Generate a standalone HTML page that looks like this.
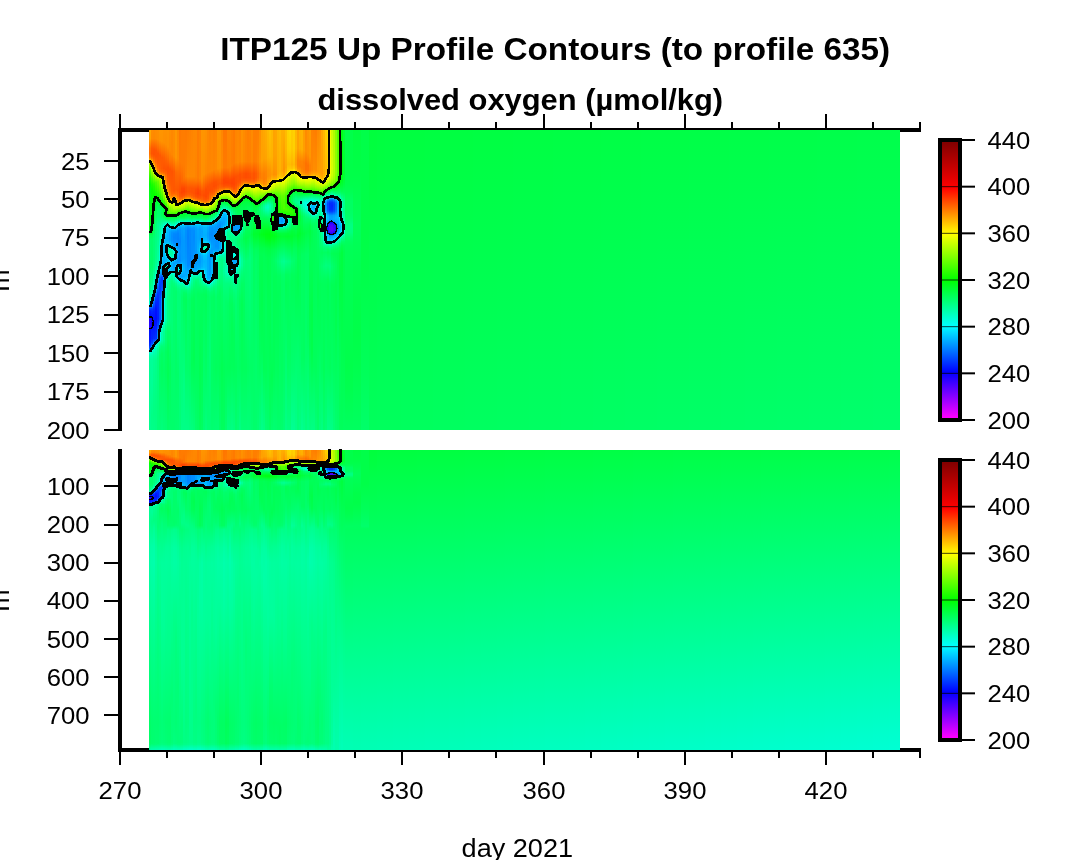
<!DOCTYPE html>
<html><head><meta charset="utf-8"><title>ITP125 Up Profile Contours</title>
<style>
html,body{margin:0;padding:0;background:#fff;}
body{width:1070px;height:860px;overflow:hidden;}
svg{display:block;}
text{font-family:"Liberation Sans",sans-serif;fill:#000;}
.tk{font-size:24px;}
.ttl{font-size:32px;font-weight:bold;}
.sub{font-size:30px;font-weight:bold;}
.xl{font-size:26px;}
</style></head><body>
<svg width="1070" height="860" viewBox="0 0 1070 860">
<defs>
<linearGradient id="cb" x1="0" y1="0" x2="0" y2="1">
<stop offset="0" stop-color="#800000"/>
<stop offset="0.1667" stop-color="#ff0000"/>
<stop offset="0.3333" stop-color="#ffff00"/>
<stop offset="0.5" stop-color="#00ff00"/>
<stop offset="0.6667" stop-color="#00ffff"/>
<stop offset="0.8333" stop-color="#0000ff"/>
<stop offset="1" stop-color="#ff00ff"/>
</linearGradient>
<linearGradient id="g1" x1="0" y1="0" x2="0" y2="1">
<stop offset="0" stop-color="#00ff4a"/>
<stop offset="1" stop-color="#00ff70"/>
</linearGradient>
<linearGradient id="g2" x1="0" y1="0" x2="0" y2="1">
<stop offset="0" stop-color="#00ff50"/>
<stop offset="1" stop-color="#00ffc8"/>
</linearGradient>
</defs>
<rect width="1070" height="860" fill="#fff"/>
<rect x="118" y="128" width="4" height="303" fill="#000"/>
<rect x="118" y="449" width="4" height="303" fill="#000"/>
<rect x="118" y="128" width="803" height="4" fill="#000"/>
<rect x="118" y="748" width="803" height="4" fill="#000"/>
<rect x="119" y="114" width="2" height="14" fill="#000"/>
<rect x="119" y="752" width="2" height="13" fill="#000"/>
<text transform="translate(120,799) scale(1.07,1)" class="tk" text-anchor="middle">270</text>
<rect x="166" y="122" width="2" height="6" fill="#000"/>
<rect x="166" y="752" width="2" height="6" fill="#000"/>
<rect x="213" y="122" width="2" height="6" fill="#000"/>
<rect x="213" y="752" width="2" height="6" fill="#000"/>
<rect x="260" y="114" width="2" height="14" fill="#000"/>
<rect x="260" y="752" width="2" height="13" fill="#000"/>
<text transform="translate(261,799) scale(1.07,1)" class="tk" text-anchor="middle">300</text>
<rect x="307" y="122" width="2" height="6" fill="#000"/>
<rect x="307" y="752" width="2" height="6" fill="#000"/>
<rect x="354" y="122" width="2" height="6" fill="#000"/>
<rect x="354" y="752" width="2" height="6" fill="#000"/>
<rect x="401" y="114" width="2" height="14" fill="#000"/>
<rect x="401" y="752" width="2" height="13" fill="#000"/>
<text transform="translate(402,799) scale(1.07,1)" class="tk" text-anchor="middle">330</text>
<rect x="448" y="122" width="2" height="6" fill="#000"/>
<rect x="448" y="752" width="2" height="6" fill="#000"/>
<rect x="495" y="122" width="2" height="6" fill="#000"/>
<rect x="495" y="752" width="2" height="6" fill="#000"/>
<rect x="543" y="114" width="2" height="14" fill="#000"/>
<rect x="543" y="752" width="2" height="13" fill="#000"/>
<text transform="translate(544,799) scale(1.07,1)" class="tk" text-anchor="middle">360</text>
<rect x="590" y="122" width="2" height="6" fill="#000"/>
<rect x="590" y="752" width="2" height="6" fill="#000"/>
<rect x="637" y="122" width="2" height="6" fill="#000"/>
<rect x="637" y="752" width="2" height="6" fill="#000"/>
<rect x="684" y="114" width="2" height="14" fill="#000"/>
<rect x="684" y="752" width="2" height="13" fill="#000"/>
<text transform="translate(685,799) scale(1.07,1)" class="tk" text-anchor="middle">390</text>
<rect x="731" y="122" width="2" height="6" fill="#000"/>
<rect x="731" y="752" width="2" height="6" fill="#000"/>
<rect x="778" y="122" width="2" height="6" fill="#000"/>
<rect x="778" y="752" width="2" height="6" fill="#000"/>
<rect x="825" y="114" width="2" height="14" fill="#000"/>
<rect x="825" y="752" width="2" height="13" fill="#000"/>
<text transform="translate(826,799) scale(1.07,1)" class="tk" text-anchor="middle">420</text>
<rect x="872" y="122" width="2" height="6" fill="#000"/>
<rect x="872" y="752" width="2" height="6" fill="#000"/>
<rect x="919" y="122" width="2" height="6" fill="#000"/>
<rect x="919" y="752" width="2" height="6" fill="#000"/>
<rect x="104" y="160" width="14" height="2" fill="#000"/>
<text transform="translate(89.5,169.5) scale(1.07,1)" class="tk" text-anchor="end">25</text>
<rect x="104" y="198" width="14" height="2" fill="#000"/>
<text transform="translate(89.5,207.9) scale(1.07,1)" class="tk" text-anchor="end">50</text>
<rect x="104" y="237" width="14" height="2" fill="#000"/>
<text transform="translate(89.5,246.4) scale(1.07,1)" class="tk" text-anchor="end">75</text>
<rect x="104" y="275" width="14" height="2" fill="#000"/>
<text transform="translate(89.5,284.8) scale(1.07,1)" class="tk" text-anchor="end">100</text>
<rect x="104" y="314" width="14" height="2" fill="#000"/>
<text transform="translate(89.5,323.2) scale(1.07,1)" class="tk" text-anchor="end">125</text>
<rect x="104" y="352" width="14" height="2" fill="#000"/>
<text transform="translate(89.5,361.6) scale(1.07,1)" class="tk" text-anchor="end">150</text>
<rect x="104" y="391" width="14" height="2" fill="#000"/>
<text transform="translate(89.5,400.1) scale(1.07,1)" class="tk" text-anchor="end">175</text>
<rect x="104" y="429" width="14" height="2" fill="#000"/>
<text transform="translate(89.5,438.5) scale(1.07,1)" class="tk" text-anchor="end">200</text>
<rect x="104" y="485" width="14" height="2" fill="#000"/>
<text transform="translate(89.5,494.9) scale(1.07,1)" class="tk" text-anchor="end">100</text>
<rect x="104" y="524" width="14" height="2" fill="#000"/>
<text transform="translate(89.5,533.1) scale(1.07,1)" class="tk" text-anchor="end">200</text>
<rect x="104" y="562" width="14" height="2" fill="#000"/>
<text transform="translate(89.5,571.2) scale(1.07,1)" class="tk" text-anchor="end">300</text>
<rect x="104" y="600" width="14" height="2" fill="#000"/>
<text transform="translate(89.5,609.4) scale(1.07,1)" class="tk" text-anchor="end">400</text>
<rect x="104" y="638" width="14" height="2" fill="#000"/>
<text transform="translate(89.5,647.6) scale(1.07,1)" class="tk" text-anchor="end">500</text>
<rect x="104" y="676" width="14" height="2" fill="#000"/>
<text transform="translate(89.5,685.8) scale(1.07,1)" class="tk" text-anchor="end">600</text>
<rect x="104" y="714" width="14" height="2" fill="#000"/>
<text transform="translate(89.5,723.9) scale(1.07,1)" class="tk" text-anchor="end">700</text>
<rect x="149" y="130" width="751" height="300" fill="url(#g1)"/>
<rect x="149" y="450" width="751" height="300" fill="url(#g2)"/>
<defs><linearGradient id="tr0" x2="0" y2="1"><stop offset=".0017" stop-color="#00ff4a"/><stop offset=".145" stop-color="#00ff49"/><stop offset=".1817" stop-color="#00ff4c"/><stop offset=".2083" stop-color="#00ff54"/><stop offset=".2383" stop-color="#00ff62"/><stop offset=".265" stop-color="#00ff62"/><stop offset=".285" stop-color="#00ff67"/><stop offset=".295" stop-color="#00ff6d"/><stop offset=".315" stop-color="#00ff80"/><stop offset=".325" stop-color="#00ff82"/><stop offset=".3417" stop-color="#00ff7d"/><stop offset=".3617" stop-color="#0f6"/><stop offset=".3717" stop-color="#00ff5e"/><stop offset=".385" stop-color="#00ff59"/><stop offset=".405" stop-color="#00ff56"/><stop offset=".785" stop-color="#00ff4b"/><stop offset=".8617" stop-color="#00ff4f"/><stop offset=".9983" stop-color="#00ff5f"/></linearGradient>
<linearGradient id="tr1" x2="0" y2="1"><stop offset=".0017" stop-color="#00ff41"/><stop offset=".1383" stop-color="#00ff48"/><stop offset=".315" stop-color="#00ff59"/><stop offset=".565" stop-color="#00ff4b"/><stop offset=".675" stop-color="#00ff49"/><stop offset=".775" stop-color="#00ff4d"/><stop offset=".9983" stop-color="#00ff5f"/></linearGradient>
<linearGradient id="tr2" x2="0" y2="1"><stop offset=".0017" stop-color="#00ff49"/><stop offset=".3417" stop-color="#00ff47"/><stop offset=".4717" stop-color="#00ff4a"/><stop offset=".815" stop-color="#00ff5a"/><stop offset=".9983" stop-color="#00ff69"/></linearGradient>
<linearGradient id="tr3" x2="0" y2="1"><stop offset=".0017" stop-color="#00ff3d"/><stop offset=".1783" stop-color="#00ff42"/><stop offset=".375" stop-color="#00ff4b"/><stop offset=".5717" stop-color="#00ff4e"/><stop offset=".9983" stop-color="#00ff5c"/></linearGradient>
<linearGradient id="tr4" x2="0" y2="1"><stop offset=".0017" stop-color="#00ff3f"/><stop offset=".9983" stop-color="#00ff5d"/></linearGradient>
<linearGradient id="tr5" x2="0" y2="1"><stop offset=".0017" stop-color="#00ff40"/><stop offset=".9983" stop-color="#00ff5d"/></linearGradient>
<linearGradient id="tr6" x2="0" y2="1"><stop offset=".0017" stop-color="#00ff40"/><stop offset=".9983" stop-color="#00ff5d"/></linearGradient>
<linearGradient id="tr7" x2="0" y2="1"><stop offset=".0017" stop-color="#00ff40"/><stop offset=".9983" stop-color="#00ff5e"/></linearGradient>
<linearGradient id="tr8" x2="0" y2="1"><stop offset=".0017" stop-color="#00ff40"/><stop offset=".9983" stop-color="#00ff5e"/></linearGradient>
<linearGradient id="tr9" x2="0" y2="1"><stop offset=".0017" stop-color="#00ff40"/><stop offset=".9983" stop-color="#00ff5e"/></linearGradient>
<linearGradient id="tr10" x2="0" y2="1"><stop offset=".0017" stop-color="#00ff41"/><stop offset=".9983" stop-color="#00ff5e"/></linearGradient>
<linearGradient id="tr11" x2="0" y2="1"><stop offset=".0017" stop-color="#00ff41"/><stop offset=".9983" stop-color="#00ff5f"/></linearGradient>
<linearGradient id="tr12" x2="0" y2="1"><stop offset=".0017" stop-color="#00ff41"/><stop offset=".9983" stop-color="#00ff5f"/></linearGradient>
<linearGradient id="tr13" x2="0" y2="1"><stop offset=".0017" stop-color="#00ff41"/><stop offset=".9983" stop-color="#00ff5f"/></linearGradient>
<linearGradient id="tr14" x2="0" y2="1"><stop offset=".0017" stop-color="#00ff41"/><stop offset=".9983" stop-color="#00ff5f"/></linearGradient>
<linearGradient id="tr15" x2="0" y2="1"><stop offset=".0017" stop-color="#00ff41"/><stop offset=".9983" stop-color="#00ff60"/></linearGradient>
<linearGradient id="tr16" x2="0" y2="1"><stop offset=".0017" stop-color="#00ff42"/><stop offset=".9983" stop-color="#00ff60"/></linearGradient>
<linearGradient id="tr17" x2="0" y2="1"><stop offset=".0017" stop-color="#00ff42"/><stop offset=".9983" stop-color="#00ff60"/></linearGradient>
<linearGradient id="tr18" x2="0" y2="1"><stop offset=".0017" stop-color="#00ff42"/><stop offset=".9983" stop-color="#00ff60"/></linearGradient>
<linearGradient id="tr19" x2="0" y2="1"><stop offset=".0017" stop-color="#00ff42"/><stop offset=".9983" stop-color="#00ff61"/></linearGradient>
<linearGradient id="tr20" x2="0" y2="1"><stop offset=".0017" stop-color="#00ff42"/><stop offset=".9983" stop-color="#00ff61"/></linearGradient>
<linearGradient id="tr21" x2="0" y2="1"><stop offset=".0017" stop-color="#00ff43"/><stop offset=".9983" stop-color="#00ff61"/></linearGradient>
<linearGradient id="tr22" x2="0" y2="1"><stop offset=".0017" stop-color="#00ff43"/><stop offset=".9983" stop-color="#00ff61"/></linearGradient>
<linearGradient id="tr23" x2="0" y2="1"><stop offset=".0017" stop-color="#00ff43"/><stop offset=".9983" stop-color="#00ff62"/></linearGradient>
<linearGradient id="tr24" x2="0" y2="1"><stop offset=".0017" stop-color="#00ff43"/><stop offset=".9983" stop-color="#00ff62"/></linearGradient>
<linearGradient id="tr25" x2="0" y2="1"><stop offset=".0017" stop-color="#00ff43"/><stop offset=".9983" stop-color="#00ff62"/></linearGradient>
<linearGradient id="tr26" x2="0" y2="1"><stop offset=".0017" stop-color="#0f4"/><stop offset=".9983" stop-color="#00ff62"/></linearGradient>
<linearGradient id="tr27" x2="0" y2="1"><stop offset=".0017" stop-color="#0f4"/><stop offset=".9983" stop-color="#00ff63"/></linearGradient>
<linearGradient id="tr28" x2="0" y2="1"><stop offset=".0017" stop-color="#0f4"/><stop offset=".9983" stop-color="#00ff63"/></linearGradient>
<linearGradient id="tr29" x2="0" y2="1"><stop offset=".0017" stop-color="#0f4"/><stop offset=".9983" stop-color="#00ff63"/></linearGradient>
<linearGradient id="tr30" x2="0" y2="1"><stop offset=".0017" stop-color="#0f4"/><stop offset=".9983" stop-color="#00ff63"/></linearGradient>
<linearGradient id="tr31" x2="0" y2="1"><stop offset=".0017" stop-color="#0f4"/><stop offset=".9983" stop-color="#00ff64"/></linearGradient>
<linearGradient id="tr32" x2="0" y2="1"><stop offset=".0017" stop-color="#00ff45"/><stop offset=".9983" stop-color="#00ff64"/></linearGradient>
<linearGradient id="tr33" x2="0" y2="1"><stop offset=".0017" stop-color="#00ff45"/><stop offset=".9983" stop-color="#00ff64"/></linearGradient>
<linearGradient id="tr34" x2="0" y2="1"><stop offset=".0017" stop-color="#00ff45"/><stop offset=".9983" stop-color="#00ff64"/></linearGradient>
<linearGradient id="tr35" x2="0" y2="1"><stop offset=".0017" stop-color="#00ff45"/><stop offset=".9983" stop-color="#00ff65"/></linearGradient>
<linearGradient id="tr36" x2="0" y2="1"><stop offset=".0017" stop-color="#00ff45"/><stop offset=".9983" stop-color="#00ff65"/></linearGradient>
<linearGradient id="tr37" x2="0" y2="1"><stop offset=".0017" stop-color="#00ff46"/><stop offset=".9983" stop-color="#00ff65"/></linearGradient>
<linearGradient id="tr38" x2="0" y2="1"><stop offset=".0017" stop-color="#00ff46"/><stop offset=".9983" stop-color="#00ff65"/></linearGradient>
<linearGradient id="tr39" x2="0" y2="1"><stop offset=".0017" stop-color="#00ff46"/><stop offset=".9983" stop-color="#0f6"/></linearGradient>
<linearGradient id="tr40" x2="0" y2="1"><stop offset=".0017" stop-color="#00ff46"/><stop offset=".9983" stop-color="#0f6"/></linearGradient>
<linearGradient id="tr41" x2="0" y2="1"><stop offset=".0017" stop-color="#00ff46"/><stop offset=".9983" stop-color="#0f6"/></linearGradient>
<linearGradient id="tr42" x2="0" y2="1"><stop offset=".0017" stop-color="#00ff46"/><stop offset=".9983" stop-color="#0f6"/></linearGradient>
<linearGradient id="tr43" x2="0" y2="1"><stop offset=".0017" stop-color="#00ff47"/><stop offset=".9983" stop-color="#00ff67"/></linearGradient>
<linearGradient id="tr44" x2="0" y2="1"><stop offset=".0017" stop-color="#00ff47"/><stop offset=".9983" stop-color="#00ff67"/></linearGradient>
<linearGradient id="tr45" x2="0" y2="1"><stop offset=".0017" stop-color="#00ff47"/><stop offset=".9983" stop-color="#00ff67"/></linearGradient>
<linearGradient id="tr46" x2="0" y2="1"><stop offset=".0017" stop-color="#00ff47"/><stop offset=".9983" stop-color="#00ff67"/></linearGradient>
<linearGradient id="tr47" x2="0" y2="1"><stop offset=".0017" stop-color="#00ff47"/><stop offset=".9983" stop-color="#00ff68"/></linearGradient>
<linearGradient id="tr48" x2="0" y2="1"><stop offset=".0017" stop-color="#00ff48"/><stop offset=".9983" stop-color="#00ff68"/></linearGradient>
<linearGradient id="tr49" x2="0" y2="1"><stop offset=".0017" stop-color="#00ff48"/><stop offset=".9983" stop-color="#00ff68"/></linearGradient>
<linearGradient id="tr50" x2="0" y2="1"><stop offset=".0017" stop-color="#00ff48"/><stop offset=".9983" stop-color="#00ff69"/></linearGradient>
<linearGradient id="tr51" x2="0" y2="1"><stop offset=".0017" stop-color="#00ff48"/><stop offset=".9983" stop-color="#00ff69"/></linearGradient>
<linearGradient id="tr52" x2="0" y2="1"><stop offset=".0017" stop-color="#00ff48"/><stop offset=".9983" stop-color="#00ff69"/></linearGradient>
<linearGradient id="tr53" x2="0" y2="1"><stop offset=".0017" stop-color="#00ff49"/><stop offset=".9983" stop-color="#00ff69"/></linearGradient>
<linearGradient id="tr54" x2="0" y2="1"><stop offset=".0017" stop-color="#00ff49"/><stop offset=".9983" stop-color="#00ff6a"/></linearGradient>
<linearGradient id="tr55" x2="0" y2="1"><stop offset=".0017" stop-color="#00ff49"/><stop offset=".9983" stop-color="#00ff6a"/></linearGradient>
<linearGradient id="tr56" x2="0" y2="1"><stop offset=".0017" stop-color="#00ff49"/><stop offset=".9983" stop-color="#00ff6a"/></linearGradient>
<linearGradient id="tr57" x2="0" y2="1"><stop offset=".0017" stop-color="#00ff49"/><stop offset=".9983" stop-color="#00ff6a"/></linearGradient>
<linearGradient id="tr58" x2="0" y2="1"><stop offset=".0017" stop-color="#00ff49"/><stop offset=".9983" stop-color="#00ff6b"/></linearGradient>
<linearGradient id="tr59" x2="0" y2="1"><stop offset=".0017" stop-color="#00ff4a"/><stop offset=".9983" stop-color="#00ff6b"/></linearGradient>
<linearGradient id="tr60" x2="0" y2="1"><stop offset=".0017" stop-color="#00ff4a"/><stop offset=".9983" stop-color="#00ff6b"/></linearGradient>
<linearGradient id="tr61" x2="0" y2="1"><stop offset=".0017" stop-color="#00ff4a"/><stop offset=".9983" stop-color="#00ff6b"/></linearGradient>
<linearGradient id="tr62" x2="0" y2="1"><stop offset=".0017" stop-color="#00ff4a"/><stop offset=".9983" stop-color="#00ff6c"/></linearGradient>
<linearGradient id="tr63" x2="0" y2="1"><stop offset=".0017" stop-color="#00ff4a"/><stop offset=".9983" stop-color="#00ff6c"/></linearGradient>
<linearGradient id="tr64" x2="0" y2="1"><stop offset=".0017" stop-color="#00ff4b"/><stop offset=".9983" stop-color="#00ff6c"/></linearGradient>
<linearGradient id="tr65" x2="0" y2="1"><stop offset=".0017" stop-color="#00ff4b"/><stop offset=".9983" stop-color="#00ff6c"/></linearGradient>
<linearGradient id="tr66" x2="0" y2="1"><stop offset=".0017" stop-color="#00ff4b"/><stop offset=".9983" stop-color="#00ff6d"/></linearGradient>
<linearGradient id="tr67" x2="0" y2="1"><stop offset=".0017" stop-color="#00ff4b"/><stop offset=".9983" stop-color="#00ff6d"/></linearGradient>
<linearGradient id="tr68" x2="0" y2="1"><stop offset=".0017" stop-color="#00ff4b"/><stop offset=".9983" stop-color="#00ff6d"/></linearGradient>
<linearGradient id="tr69" x2="0" y2="1"><stop offset=".0017" stop-color="#00ff4b"/><stop offset=".9983" stop-color="#00ff6d"/></linearGradient>
<linearGradient id="t0" x2="0" y2="1"><stop offset=".0017" stop-color="#ffa800"/><stop offset=".0283" stop-color="#ffa400"/><stop offset=".0617" stop-color="#ff7200"/><stop offset=".0783" stop-color="#ff6d00"/><stop offset=".0917" stop-color="#ff8900"/><stop offset=".0983" stop-color="#ffb900"/><stop offset=".1017" stop-color="#ffe200"/><stop offset=".105" stop-color="#eaff00"/><stop offset=".1083" stop-color="#c8ff00"/><stop offset=".1117" stop-color="#b4ff00"/><stop offset=".125" stop-color="#7dff00"/><stop offset=".1617" stop-color="#20ff00"/><stop offset=".1817" stop-color="#01ff04"/><stop offset=".195" stop-color="#0f1"/><stop offset=".225" stop-color="#00ff19"/><stop offset=".335" stop-color="#00ff17"/><stop offset=".3417" stop-color="#00ff26"/><stop offset=".3517" stop-color="#00ff5b"/><stop offset=".3683" stop-color="#00ff6f"/><stop offset=".4617" stop-color="#00ff6b"/><stop offset=".525" stop-color="#00ff80"/><stop offset=".5617" stop-color="#00ffb0"/><stop offset=".575" stop-color="#00ffce"/><stop offset=".5817" stop-color="#00ffea"/><stop offset=".585" stop-color="#00f4fd"/><stop offset=".5917" stop-color="#07f"/><stop offset=".595" stop-color="#004aff"/><stop offset=".6017" stop-color="#0023ff"/><stop offset=".6183" stop-color="#000bff"/><stop offset=".6217" stop-color="#0800ff"/><stop offset=".6283" stop-color="#1f00ff"/><stop offset=".6383" stop-color="#2500ff"/><stop offset=".655" stop-color="#20f"/><stop offset=".6617" stop-color="#0c00ff"/><stop offset=".665" stop-color="#0008ff"/><stop offset=".6683" stop-color="#000fff"/><stop offset=".705" stop-color="#0018ff"/><stop offset=".7183" stop-color="#002fff"/><stop offset=".725" stop-color="#004dff"/><stop offset=".7283" stop-color="#06f"/><stop offset=".7317" stop-color="#008aff"/><stop offset=".7383" stop-color="#00fafd"/><stop offset=".7417" stop-color="#00ffdf"/><stop offset=".7483" stop-color="#0fb"/><stop offset=".755" stop-color="#00ffa8"/><stop offset=".7717" stop-color="#00ff97"/><stop offset=".9983" stop-color="#00ff8d"/></linearGradient>
<linearGradient id="t1" x2="0" y2="1"><stop offset=".0017" stop-color="#ff8d00"/><stop offset=".0283" stop-color="#ff8a00"/><stop offset=".0617" stop-color="#ff5900"/><stop offset=".0783" stop-color="#ff5400"/><stop offset=".0883" stop-color="#ff6200"/><stop offset=".095" stop-color="#ff7900"/><stop offset=".1117" stop-color="#ffdf00"/><stop offset=".1217" stop-color="#df0"/><stop offset=".1617" stop-color="#48ff00"/><stop offset=".1817" stop-color="#16ff00"/><stop offset=".1983" stop-color="#04ff01"/><stop offset=".2483" stop-color="#0f1"/><stop offset=".305" stop-color="#00ff17"/><stop offset=".335" stop-color="#00ff28"/><stop offset=".3417" stop-color="#00ff36"/><stop offset=".3517" stop-color="#00ff5b"/><stop offset=".365" stop-color="#00ff6c"/><stop offset=".4483" stop-color="#00ff69"/><stop offset=".505" stop-color="#00ff84"/><stop offset=".535" stop-color="#00ffa0"/><stop offset=".5483" stop-color="#00ffbc"/><stop offset=".5617" stop-color="#00ffe6"/><stop offset=".575" stop-color="#00d8ff"/><stop offset=".585" stop-color="#0096ff"/><stop offset=".595" stop-color="#0045ff"/><stop offset=".5983" stop-color="#0035ff"/><stop offset=".605" stop-color="#0025ff"/><stop offset=".6183" stop-color="#001aff"/><stop offset=".625" stop-color="#0307ff"/><stop offset=".645" stop-color="#0b00ff"/><stop offset=".6583" stop-color="#0406ff"/><stop offset=".6683" stop-color="#001eff"/><stop offset=".695" stop-color="#0023ff"/><stop offset=".7083" stop-color="#003cff"/><stop offset=".7183" stop-color="#006fff"/><stop offset=".7283" stop-color="#00d7ff"/><stop offset=".735" stop-color="#00ffeb"/><stop offset=".7417" stop-color="#00ffca"/><stop offset=".7517" stop-color="#0fa"/><stop offset=".7683" stop-color="#00ff98"/><stop offset=".845" stop-color="#00ff96"/><stop offset=".955" stop-color="#00ff86"/><stop offset=".9983" stop-color="#00ff89"/></linearGradient>
<linearGradient id="t2" x2="0" y2="1"><stop offset=".0017" stop-color="#ff8a00"/><stop offset=".0283" stop-color="#f80"/><stop offset=".065" stop-color="#ff5400"/><stop offset=".0817" stop-color="#ff5100"/><stop offset=".095" stop-color="#ff6300"/><stop offset=".1083" stop-color="#ff8400"/><stop offset=".1283" stop-color="#fde800"/><stop offset=".1383" stop-color="#deff00"/><stop offset=".1583" stop-color="#7f0"/><stop offset=".1783" stop-color="#2dff00"/><stop offset=".1883" stop-color="#1bff00"/><stop offset=".2183" stop-color="#00ff01"/><stop offset=".3617" stop-color="#00ff76"/><stop offset=".4317" stop-color="#00ff75"/><stop offset=".465" stop-color="#00ff83"/><stop offset=".515" stop-color="#00ffb9"/><stop offset=".535" stop-color="#00ffe0"/><stop offset=".5383" stop-color="#00fce7"/><stop offset=".5517" stop-color="#00cfff"/><stop offset=".5617" stop-color="#0094ff"/><stop offset=".5717" stop-color="#0069ff"/><stop offset=".595" stop-color="#002bff"/><stop offset=".605" stop-color="#001dff"/><stop offset=".6417" stop-color="#000eff"/><stop offset=".695" stop-color="#002bff"/><stop offset=".705" stop-color="#005cff"/><stop offset=".7117" stop-color="#0093ff"/><stop offset=".7183" stop-color="#00dbff"/><stop offset=".725" stop-color="#00ffec"/><stop offset=".7317" stop-color="#0fc"/><stop offset=".7417" stop-color="#00ffb1"/><stop offset=".755" stop-color="#00ff9b"/><stop offset=".7683" stop-color="#00ff92"/><stop offset=".9417" stop-color="#00ff82"/><stop offset=".9983" stop-color="#0f8"/></linearGradient>
<linearGradient id="t3" x2="0" y2="1"><stop offset=".0017" stop-color="#ff8d00"/><stop offset=".0283" stop-color="#ff8b00"/><stop offset=".0683" stop-color="#f50"/><stop offset=".0883" stop-color="#ff5400"/><stop offset=".1083" stop-color="#f60"/><stop offset=".1217" stop-color="#ff8200"/><stop offset=".135" stop-color="#ffb400"/><stop offset=".1417" stop-color="#ffe300"/><stop offset=".1483" stop-color="#e1ff00"/><stop offset=".165" stop-color="#78ff00"/><stop offset=".175" stop-color="#47ff00"/><stop offset=".2217" stop-color="#02ff00"/><stop offset=".225" stop-color="#00ff07"/><stop offset=".235" stop-color="#00ff29"/><stop offset=".2517" stop-color="#00ff45"/><stop offset=".2917" stop-color="#00ff61"/><stop offset=".315" stop-color="#00ff7c"/><stop offset=".4283" stop-color="#00ff87"/><stop offset=".4483" stop-color="#00ff93"/><stop offset=".4717" stop-color="#00ffad"/><stop offset=".4983" stop-color="#00ffe8"/><stop offset=".5217" stop-color="#00d0ff"/><stop offset=".5483" stop-color="#005dff"/><stop offset=".5617" stop-color="#0036ff"/><stop offset=".595" stop-color="#0012ff"/><stop offset=".6283" stop-color="#000bff"/><stop offset=".695" stop-color="#03f"/><stop offset=".6983" stop-color="#0049ff"/><stop offset=".7017" stop-color="#0071ff"/><stop offset=".7083" stop-color="#00d5ff"/><stop offset=".7117" stop-color="#00f1f9"/><stop offset=".715" stop-color="#00ffef"/><stop offset=".7217" stop-color="#00ffd0"/><stop offset=".735" stop-color="#00ffad"/><stop offset=".7683" stop-color="#00ff8c"/><stop offset=".925" stop-color="#00ff80"/><stop offset=".9983" stop-color="#00ff84"/></linearGradient>
<linearGradient id="t4" x2="0" y2="1"><stop offset=".0017" stop-color="#ff8f00"/><stop offset=".0317" stop-color="#ff8d00"/><stop offset=".0783" stop-color="#ff5400"/><stop offset=".1083" stop-color="#ff5a00"/><stop offset=".125" stop-color="#ff6900"/><stop offset=".135" stop-color="#ff7d00"/><stop offset=".145" stop-color="#ffb200"/><stop offset=".1517" stop-color="#fcf000"/><stop offset=".155" stop-color="#e5ff00"/><stop offset=".165" stop-color="#8aff00"/><stop offset=".1717" stop-color="#6f0"/><stop offset=".2283" stop-color="#02ff06"/><stop offset=".2483" stop-color="#00ff4b"/><stop offset=".265" stop-color="#00ff65"/><stop offset=".2883" stop-color="#00ff6e"/><stop offset=".315" stop-color="#00ff8e"/><stop offset=".3517" stop-color="#00ff8b"/><stop offset=".4317" stop-color="#00ff9d"/><stop offset=".455" stop-color="#00ffbc"/><stop offset=".475" stop-color="#00ffeb"/><stop offset=".4883" stop-color="#00d5ff"/><stop offset=".4983" stop-color="#00a3ff"/><stop offset=".515" stop-color="#0072ff"/><stop offset=".5483" stop-color="#0036ff"/><stop offset=".575" stop-color="#0026ff"/><stop offset=".6283" stop-color="#001eff"/><stop offset=".6517" stop-color="#003cff"/><stop offset=".675" stop-color="#0083ff"/><stop offset=".695" stop-color="#0086ff"/><stop offset=".6983" stop-color="#009aff"/><stop offset=".705" stop-color="#00f5f5"/><stop offset=".7083" stop-color="#0fd"/><stop offset=".715" stop-color="#00ffba"/><stop offset=".7283" stop-color="#00ff9b"/><stop offset=".7617" stop-color="#00ff7e"/><stop offset=".9983" stop-color="#00ff78"/></linearGradient>
<linearGradient id="t5" x2="0" y2="1"><stop offset=".0017" stop-color="#ff9500"/><stop offset=".035" stop-color="#ff9200"/><stop offset=".085" stop-color="#ff5800"/><stop offset=".1283" stop-color="#ff5f00"/><stop offset=".1383" stop-color="#ff6d00"/><stop offset=".145" stop-color="#ff8700"/><stop offset=".1483" stop-color="#ffa100"/><stop offset=".155" stop-color="#fefa00"/><stop offset=".1617" stop-color="#b5ff00"/><stop offset=".1683" stop-color="#92ff00"/><stop offset=".235" stop-color="#06ff01"/><stop offset=".2383" stop-color="#01ff07"/><stop offset=".255" stop-color="#00ff4d"/><stop offset=".2683" stop-color="#00ff68"/><stop offset=".2883" stop-color="#00ff6c"/><stop offset=".3183" stop-color="#00ff9b"/><stop offset=".355" stop-color="#00ffa6"/><stop offset=".395" stop-color="#0fc"/><stop offset=".4317" stop-color="#00ffd6"/><stop offset=".4417" stop-color="#00ffe7"/><stop offset=".4617" stop-color="#00deff"/><stop offset=".495" stop-color="#0051ff"/><stop offset=".5083" stop-color="#0041ff"/><stop offset=".5317" stop-color="#003aff"/><stop offset=".565" stop-color="#0047ff"/><stop offset=".6317" stop-color="#004aff"/><stop offset=".6417" stop-color="#006cff"/><stop offset=".6617" stop-color="#00ddfe"/><stop offset=".675" stop-color="#00ffe5"/><stop offset=".6983" stop-color="#00ffe0"/><stop offset=".7117" stop-color="#00ff9c"/><stop offset=".7183" stop-color="#00ff86"/><stop offset=".7317" stop-color="#00ff73"/><stop offset=".7517" stop-color="#00ff68"/><stop offset=".795" stop-color="#00ff64"/><stop offset=".9983" stop-color="#00ff78"/></linearGradient>
<linearGradient id="t6" x2="0" y2="1"><stop offset=".0017" stop-color="#ff9500"/><stop offset=".0383" stop-color="#ff9200"/><stop offset=".0917" stop-color="#ff5b00"/><stop offset=".1283" stop-color="#ff5900"/><stop offset=".1383" stop-color="#ff6400"/><stop offset=".145" stop-color="#ff7c00"/><stop offset=".1483" stop-color="#ff9300"/><stop offset=".155" stop-color="#ffdf00"/><stop offset=".1583" stop-color="#f3fa00"/><stop offset=".1617" stop-color="#e0ff00"/><stop offset=".2417" stop-color="#0bff00"/><stop offset=".2483" stop-color="#00ff13"/><stop offset=".2583" stop-color="#0f4"/><stop offset=".265" stop-color="#00ff58"/><stop offset=".285" stop-color="#00ff5b"/><stop offset=".3217" stop-color="#00ffb7"/><stop offset=".3517" stop-color="#00ffd7"/><stop offset=".365" stop-color="#00feef"/><stop offset=".385" stop-color="#00e8ff"/><stop offset=".3983" stop-color="#00daff"/><stop offset=".4317" stop-color="#00d0ff"/><stop offset=".4483" stop-color="#00b2ff"/><stop offset=".4617" stop-color="#00b1ff"/><stop offset=".4783" stop-color="#0094ff"/><stop offset=".4817" stop-color="#0087ff"/><stop offset=".4917" stop-color="#0041ff"/><stop offset=".4983" stop-color="#0035ff"/><stop offset=".535" stop-color="#0056ff"/><stop offset=".565" stop-color="#008aff"/><stop offset=".6317" stop-color="#0091ff"/><stop offset=".635" stop-color="#00a1ff"/><stop offset=".645" stop-color="#00e9fa"/><stop offset=".6517" stop-color="#00ffe7"/><stop offset=".6617" stop-color="#00ffc6"/><stop offset=".675" stop-color="#0fa"/><stop offset=".7017" stop-color="#00ffa5"/><stop offset=".7217" stop-color="#00ff74"/><stop offset=".745" stop-color="#00ff64"/><stop offset=".7983" stop-color="#00ff5f"/><stop offset=".9983" stop-color="#00ff7c"/></linearGradient>
<linearGradient id="t7" x2="0" y2="1"><stop offset=".0017" stop-color="#ff9100"/><stop offset=".0417" stop-color="#ff8f00"/><stop offset=".0917" stop-color="#ff5f00"/><stop offset=".1283" stop-color="#ff5300"/><stop offset=".1417" stop-color="#ff6400"/><stop offset=".1583" stop-color="#ffb100"/><stop offset=".175" stop-color="#ffe100"/><stop offset=".1917" stop-color="#deff00"/><stop offset=".225" stop-color="#71ff00"/><stop offset=".2517" stop-color="#09ff01"/><stop offset=".255" stop-color="#00ff0c"/><stop offset=".2617" stop-color="#00ff32"/><stop offset=".265" stop-color="#00ff3b"/><stop offset=".2783" stop-color="#00ff35"/><stop offset=".285" stop-color="#00ff40"/><stop offset=".325" stop-color="#00ffe5"/><stop offset=".3517" stop-color="#00e8ff"/><stop offset=".375" stop-color="#00bfff"/><stop offset=".4017" stop-color="#00c2ff"/><stop offset=".4383" stop-color="#00a9ff"/><stop offset=".445" stop-color="#00b3ff"/><stop offset=".4517" stop-color="#00dbff"/><stop offset=".4583" stop-color="#00faef"/><stop offset=".4783" stop-color="#00faee"/><stop offset=".4817" stop-color="#00f1f5"/><stop offset=".485" stop-color="#00d9ff"/><stop offset=".4917" stop-color="#08f"/><stop offset=".495" stop-color="#0080ff"/><stop offset=".5317" stop-color="#00d1ff"/><stop offset=".565" stop-color="#00fbe8"/><stop offset=".635" stop-color="#00ffe8"/><stop offset=".6517" stop-color="#00ffb1"/><stop offset=".6717" stop-color="#00ff93"/><stop offset=".7017" stop-color="#00ff8d"/><stop offset=".725" stop-color="#00ff71"/><stop offset=".7417" stop-color="#00ff69"/><stop offset=".8017" stop-color="#00ff63"/><stop offset=".9983" stop-color="#0f7"/></linearGradient>
<linearGradient id="t8" x2="0" y2="1"><stop offset=".0017" stop-color="#ff9100"/><stop offset=".0483" stop-color="#ff8d00"/><stop offset=".1017" stop-color="#ff6000"/><stop offset=".1317" stop-color="#ff5200"/><stop offset=".175" stop-color="#ff8d00"/><stop offset=".1883" stop-color="#ffaf00"/><stop offset=".2017" stop-color="#ffde00"/><stop offset=".215" stop-color="#e3ff00"/><stop offset=".2217" stop-color="#c9ff00"/><stop offset=".2583" stop-color="#0cff01"/><stop offset=".265" stop-color="#03ff0d"/><stop offset=".2783" stop-color="#03ff08"/><stop offset=".2817" stop-color="#00ff0e"/><stop offset=".295" stop-color="#00ff57"/><stop offset=".3183" stop-color="#00fff2"/><stop offset=".3217" stop-color="#00f5ff"/><stop offset=".325" stop-color="#00e2ff"/><stop offset=".3317" stop-color="#00d2ff"/><stop offset=".3683" stop-color="#00b1ff"/><stop offset=".375" stop-color="#00b9ff"/><stop offset=".3883" stop-color="#00edfd"/><stop offset=".4017" stop-color="#00f5f4"/><stop offset=".4117" stop-color="#00e8ff"/><stop offset=".4283" stop-color="#0bf"/><stop offset=".435" stop-color="#00b2ff"/><stop offset=".4417" stop-color="#00c7ff"/><stop offset=".445" stop-color="#00dfff"/><stop offset=".4483" stop-color="#00f9f8"/><stop offset=".4517" stop-color="#00ffe0"/><stop offset=".455" stop-color="#0fc"/><stop offset=".4583" stop-color="#00ffc9"/><stop offset=".475" stop-color="#00ffec"/><stop offset=".4883" stop-color="#00ebff"/><stop offset=".4917" stop-color="#00ebfd"/><stop offset=".4983" stop-color="#00fde8"/><stop offset=".5083" stop-color="#00ffd5"/><stop offset=".565" stop-color="#00ffa3"/><stop offset=".635" stop-color="#00ffa3"/><stop offset=".655" stop-color="#00ff84"/><stop offset=".6717" stop-color="#00ff76"/><stop offset=".705" stop-color="#00ff72"/><stop offset=".7383" stop-color="#00ff60"/><stop offset=".7983" stop-color="#00ff5d"/><stop offset=".9983" stop-color="#00ff74"/></linearGradient>
<linearGradient id="t9" x2="0" y2="1"><stop offset=".0017" stop-color="#ff9300"/><stop offset=".055" stop-color="#ff8f00"/><stop offset=".125" stop-color="#ff5300"/><stop offset=".1383" stop-color="#ff5200"/><stop offset=".175" stop-color="#ff6500"/><stop offset=".195" stop-color="#ff7c00"/><stop offset=".2117" stop-color="#ffa700"/><stop offset=".225" stop-color="#ffe500"/><stop offset=".2317" stop-color="#eafd00"/><stop offset=".245" stop-color="#a7ff00"/><stop offset=".2583" stop-color="#5f0"/><stop offset=".265" stop-color="#43ff00"/><stop offset=".2783" stop-color="#32ff00"/><stop offset=".285" stop-color="#0cff00"/><stop offset=".2883" stop-color="#00ff19"/><stop offset=".305" stop-color="#00ff8f"/><stop offset=".3183" stop-color="#00fdfc"/><stop offset=".3217" stop-color="#00e8ff"/><stop offset=".3283" stop-color="#00c8ff"/><stop offset=".335" stop-color="#00baff"/><stop offset=".365" stop-color="#00aeff"/><stop offset=".375" stop-color="#00beff"/><stop offset=".385" stop-color="#00fdfd"/><stop offset=".3917" stop-color="#00ffcf"/><stop offset=".4017" stop-color="#00ffb8"/><stop offset=".4183" stop-color="#00ffe6"/><stop offset=".425" stop-color="#00f0ff"/><stop offset=".4317" stop-color="#00cbff"/><stop offset=".435" stop-color="#00c6ff"/><stop offset=".4383" stop-color="#00cfff"/><stop offset=".445" stop-color="#00fffe"/><stop offset=".4517" stop-color="#00ffd6"/><stop offset=".455" stop-color="#00ffd5"/><stop offset=".4617" stop-color="#00f6fb"/><stop offset=".4683" stop-color="#00d8ff"/><stop offset=".4717" stop-color="#00d6ff"/><stop offset=".4783" stop-color="#00dfff"/><stop offset=".4817" stop-color="#00effe"/><stop offset=".4883" stop-color="#00ffdf"/><stop offset=".4983" stop-color="#0fa"/><stop offset=".5083" stop-color="#00ff9b"/><stop offset=".5683" stop-color="#00ff82"/><stop offset=".635" stop-color="#00ff84"/><stop offset=".6683" stop-color="#00ff6b"/><stop offset=".7383" stop-color="#00ff59"/><stop offset=".8183" stop-color="#0f5"/><stop offset=".9983" stop-color="#00ff6a"/></linearGradient>
<linearGradient id="t10" x2="0" y2="1"><stop offset=".0017" stop-color="#ff8d00"/><stop offset=".0683" stop-color="#ff8900"/><stop offset=".0983" stop-color="#f70"/><stop offset=".1317" stop-color="#ff5300"/><stop offset=".1783" stop-color="#ff5a00"/><stop offset=".2017" stop-color="#ff6900"/><stop offset=".2183" stop-color="#ff8300"/><stop offset=".2283" stop-color="#ffac00"/><stop offset=".2383" stop-color="#fff000"/><stop offset=".2417" stop-color="#f0ff00"/><stop offset=".2583" stop-color="#8bff00"/><stop offset=".275" stop-color="#5dff00"/><stop offset=".2817" stop-color="#2eff00"/><stop offset=".285" stop-color="#08ff00"/><stop offset=".2917" stop-color="#00ff3b"/><stop offset=".3117" stop-color="#00ffb0"/><stop offset=".3217" stop-color="#00fdf9"/><stop offset=".325" stop-color="#00e5ff"/><stop offset=".3317" stop-color="#00b8ff"/><stop offset=".3383" stop-color="#00a4ff"/><stop offset=".365" stop-color="#009eff"/><stop offset=".3783" stop-color="#00b5ff"/><stop offset=".3817" stop-color="#00c5ff"/><stop offset=".3883" stop-color="#00f6fc"/><stop offset=".3983" stop-color="#00ffb2"/><stop offset=".405" stop-color="#00ff9c"/><stop offset=".415" stop-color="#00ffa9"/><stop offset=".4217" stop-color="#00ffca"/><stop offset=".4283" stop-color="#00fbf7"/><stop offset=".4317" stop-color="#00e9ff"/><stop offset=".4383" stop-color="#00cdff"/><stop offset=".455" stop-color="#00edff"/><stop offset=".465" stop-color="#00c4ff"/><stop offset=".4683" stop-color="#00caff"/><stop offset=".475" stop-color="#00f9fe"/><stop offset=".485" stop-color="#00ffbf"/><stop offset=".495" stop-color="#00ff96"/><stop offset=".505" stop-color="#00ff83"/><stop offset=".5217" stop-color="#00ff7e"/><stop offset=".5683" stop-color="#00ff76"/><stop offset=".635" stop-color="#00ff7a"/><stop offset=".6783" stop-color="#00ff6a"/><stop offset=".795" stop-color="#00ff5c"/><stop offset=".9983" stop-color="#00ff6c"/></linearGradient>
<linearGradient id="t11" x2="0" y2="1"><stop offset=".0017" stop-color="#f80"/><stop offset=".0817" stop-color="#ff8600"/><stop offset=".1383" stop-color="#ff5300"/><stop offset=".1983" stop-color="#ff5b00"/><stop offset=".2117" stop-color="#ff6500"/><stop offset=".2183" stop-color="#ff7500"/><stop offset=".2317" stop-color="#ffb600"/><stop offset=".2383" stop-color="#ffe500"/><stop offset=".2417" stop-color="#f3ff00"/><stop offset=".2517" stop-color="#b9ff00"/><stop offset=".2717" stop-color="#6eff00"/><stop offset=".2783" stop-color="#40ff00"/><stop offset=".2817" stop-color="#1cff00"/><stop offset=".285" stop-color="#00ff12"/><stop offset=".2883" stop-color="#00ff30"/><stop offset=".315" stop-color="#00ffb2"/><stop offset=".3217" stop-color="#00ffe7"/><stop offset=".325" stop-color="#00f1ff"/><stop offset=".3283" stop-color="#0cf"/><stop offset=".335" stop-color="#00a4ff"/><stop offset=".3417" stop-color="#0094ff"/><stop offset=".355" stop-color="#008eff"/><stop offset=".3683" stop-color="#0092ff"/><stop offset=".3783" stop-color="#00a0ff"/><stop offset=".385" stop-color="#00b8ff"/><stop offset=".3917" stop-color="#00ebff"/><stop offset=".395" stop-color="#00ffef"/><stop offset=".4017" stop-color="#00ffb8"/><stop offset=".405" stop-color="#00ffa6"/><stop offset=".4117" stop-color="#00ff9b"/><stop offset=".4217" stop-color="#00ffb2"/><stop offset=".425" stop-color="#00ffc4"/><stop offset=".4317" stop-color="#00fffa"/><stop offset=".4383" stop-color="#00caff"/><stop offset=".445" stop-color="#00b2ff"/><stop offset=".465" stop-color="#00b4ff"/><stop offset=".4683" stop-color="#00c2ff"/><stop offset=".4717" stop-color="#00deff"/><stop offset=".475" stop-color="#00fffa"/><stop offset=".4817" stop-color="#00ffb9"/><stop offset=".4883" stop-color="#00ff9a"/><stop offset=".505" stop-color="#00ff7b"/><stop offset=".5217" stop-color="#00ff72"/><stop offset=".6383" stop-color="#0f7"/><stop offset=".795" stop-color="#00ff6a"/><stop offset=".9983" stop-color="#00ff6b"/></linearGradient>
<linearGradient id="t12" x2="0" y2="1"><stop offset=".0017" stop-color="#ff8c00"/><stop offset=".0883" stop-color="#ff8b00"/><stop offset=".1383" stop-color="#ff5a00"/><stop offset=".2017" stop-color="#ff5700"/><stop offset=".2117" stop-color="#ff6400"/><stop offset=".2183" stop-color="#ff7e00"/><stop offset=".2217" stop-color="#ff9500"/><stop offset=".2317" stop-color="#fff500"/><stop offset=".235" stop-color="#f8ff00"/><stop offset=".2617" stop-color="#af0"/><stop offset=".2717" stop-color="#75ff00"/><stop offset=".2817" stop-color="#25ff00"/><stop offset=".285" stop-color="#01ff04"/><stop offset=".2883" stop-color="#00ff29"/><stop offset=".2917" stop-color="#00ff3e"/><stop offset=".315" stop-color="#00ffb1"/><stop offset=".325" stop-color="#00fbff"/><stop offset=".3283" stop-color="#00d1ff"/><stop offset=".335" stop-color="#00a1ff"/><stop offset=".345" stop-color="#008aff"/><stop offset=".3583" stop-color="#0085ff"/><stop offset=".375" stop-color="#008bff"/><stop offset=".385" stop-color="#009fff"/><stop offset=".3917" stop-color="#00c3ff"/><stop offset=".395" stop-color="#00e0ff"/><stop offset=".3983" stop-color="#00fbf7"/><stop offset=".4017" stop-color="#00ffe3"/><stop offset=".4083" stop-color="#00ffc8"/><stop offset=".4117" stop-color="#00ffc8"/><stop offset=".4217" stop-color="#00ffd5"/><stop offset=".4283" stop-color="#00fdf6"/><stop offset=".4317" stop-color="#00e3ff"/><stop offset=".4383" stop-color="#00b1ff"/><stop offset=".445" stop-color="#009eff"/><stop offset=".465" stop-color="#00aeff"/><stop offset=".4683" stop-color="#0bf"/><stop offset=".4717" stop-color="#00d4ff"/><stop offset=".475" stop-color="#00fcff"/><stop offset=".4817" stop-color="#00ffc8"/><stop offset=".485" stop-color="#00ffbd"/><stop offset=".5117" stop-color="#00ff7d"/><stop offset=".5283" stop-color="#00ff6e"/><stop offset=".9983" stop-color="#00ff6b"/></linearGradient>
<linearGradient id="t13" x2="0" y2="1"><stop offset=".0017" stop-color="#ff9700"/><stop offset=".0917" stop-color="#ff9600"/><stop offset=".1417" stop-color="#ff6900"/><stop offset=".1983" stop-color="#ff5900"/><stop offset=".215" stop-color="#ff6e00"/><stop offset=".2217" stop-color="#ff8a00"/><stop offset=".2317" stop-color="#ffca00"/><stop offset=".2383" stop-color="#ffe400"/><stop offset=".2483" stop-color="#f1ff00"/><stop offset=".2583" stop-color="#bfff00"/><stop offset=".275" stop-color="#5aff00"/><stop offset=".285" stop-color="#03ff02"/><stop offset=".2883" stop-color="#00ff29"/><stop offset=".2917" stop-color="#00ff41"/><stop offset=".3183" stop-color="#00ffe5"/><stop offset=".3217" stop-color="#00f9f9"/><stop offset=".325" stop-color="#00e0ff"/><stop offset=".3317" stop-color="#00acff"/><stop offset=".3383" stop-color="#0093ff"/><stop offset=".3483" stop-color="#0086ff"/><stop offset=".3617" stop-color="#0084ff"/><stop offset=".385" stop-color="#0094ff"/><stop offset=".3917" stop-color="#0af"/><stop offset=".405" stop-color="#00edfe"/><stop offset=".4217" stop-color="#00e2ff"/><stop offset=".4283" stop-color="#00cfff"/><stop offset=".4383" stop-color="#00a2ff"/><stop offset=".4417" stop-color="#009dff"/><stop offset=".455" stop-color="#00caff"/><stop offset=".4683" stop-color="#00deff"/><stop offset=".475" stop-color="#00f2ff"/><stop offset=".4917" stop-color="#00ffe7"/><stop offset=".5017" stop-color="#00ffb0"/><stop offset=".5117" stop-color="#00ff8c"/><stop offset=".525" stop-color="#00ff75"/><stop offset=".5383" stop-color="#00ff6c"/><stop offset=".7983" stop-color="#00ff67"/><stop offset=".9983" stop-color="#00ff6e"/></linearGradient>
<linearGradient id="t14" x2="0" y2="1"><stop offset=".0017" stop-color="#ff8900"/><stop offset=".095" stop-color="#ff8c00"/><stop offset=".1417" stop-color="#ff6c00"/><stop offset=".2017" stop-color="#ff5600"/><stop offset=".2183" stop-color="#ff6800"/><stop offset=".235" stop-color="#ff9200"/><stop offset=".2417" stop-color="#ffb600"/><stop offset=".245" stop-color="#ffd900"/><stop offset=".2483" stop-color="#fafe00"/><stop offset=".2683" stop-color="#74ff00"/><stop offset=".2783" stop-color="#1dff00"/><stop offset=".2817" stop-color="#03ff0d"/><stop offset=".285" stop-color="#00ff2a"/><stop offset=".3017" stop-color="#00ff8b"/><stop offset=".315" stop-color="#00fdf6"/><stop offset=".3183" stop-color="#00e3ff"/><stop offset=".325" stop-color="#00b1ff"/><stop offset=".335" stop-color="#0090ff"/><stop offset=".345" stop-color="#0084ff"/><stop offset=".365" stop-color="#0080ff"/><stop offset=".385" stop-color="#08f"/><stop offset=".4083" stop-color="#00aeff"/><stop offset=".4383" stop-color="#0091ff"/><stop offset=".445" stop-color="#00a3ff"/><stop offset=".4483" stop-color="#00b8ff"/><stop offset=".455" stop-color="#00fafe"/><stop offset=".4583" stop-color="#00fff2"/><stop offset=".4683" stop-color="#00ffe8"/><stop offset=".475" stop-color="#00f8ff"/><stop offset=".4783" stop-color="#00d6ff"/><stop offset=".485" stop-color="#00b8ff"/><stop offset=".4883" stop-color="#0bf"/><stop offset=".4917" stop-color="#0cf"/><stop offset=".495" stop-color="#00e9ff"/><stop offset=".4983" stop-color="#00fdf3"/><stop offset=".5083" stop-color="#00ffb6"/><stop offset=".5183" stop-color="#00ff92"/><stop offset=".5283" stop-color="#00ff80"/><stop offset=".5417" stop-color="#0f7"/><stop offset=".645" stop-color="#00ff78"/><stop offset=".815" stop-color="#00ff69"/><stop offset=".9983" stop-color="#00ff70"/></linearGradient>
<linearGradient id="t15" x2="0" y2="1"><stop offset=".0017" stop-color="#ff7800"/><stop offset=".105" stop-color="#ff7c00"/><stop offset=".2083" stop-color="#ff4c00"/><stop offset=".2217" stop-color="#ff5800"/><stop offset=".2317" stop-color="#ff7300"/><stop offset=".2383" stop-color="#ffa100"/><stop offset=".245" stop-color="#fff000"/><stop offset=".2483" stop-color="#ef0"/><stop offset=".265" stop-color="#84ff00"/><stop offset=".2717" stop-color="#4bff00"/><stop offset=".275" stop-color="#2f0"/><stop offset=".2783" stop-color="#00ff0e"/><stop offset=".2817" stop-color="#00ff2b"/><stop offset=".2917" stop-color="#00ff54"/><stop offset=".2983" stop-color="#00ff7d"/><stop offset=".3117" stop-color="#00fff3"/><stop offset=".315" stop-color="#00e5ff"/><stop offset=".3217" stop-color="#00b1ff"/><stop offset=".3317" stop-color="#0094ff"/><stop offset=".3717" stop-color="#0085ff"/><stop offset=".405" stop-color="#0093ff"/><stop offset=".435" stop-color="#008dff"/><stop offset=".4417" stop-color="#009dff"/><stop offset=".445" stop-color="#00aeff"/><stop offset=".455" stop-color="#00fcfd"/><stop offset=".4583" stop-color="#00fff3"/><stop offset=".465" stop-color="#00ffec"/><stop offset=".4717" stop-color="#00f8fc"/><stop offset=".4817" stop-color="#00b6ff"/><stop offset=".4883" stop-color="#00a0ff"/><stop offset=".495" stop-color="#00bcff"/><stop offset=".5017" stop-color="#00fafe"/><stop offset=".5117" stop-color="#00ffb5"/><stop offset=".5183" stop-color="#0f9"/><stop offset=".5317" stop-color="#00ff80"/><stop offset=".5483" stop-color="#0f7"/><stop offset=".9983" stop-color="#0f7"/></linearGradient>
<linearGradient id="t16" x2="0" y2="1"><stop offset=".0017" stop-color="#ff7c00"/><stop offset=".1117" stop-color="#ff7c00"/><stop offset=".1717" stop-color="#ff6500"/><stop offset=".195" stop-color="#ff4700"/><stop offset=".2083" stop-color="#f40"/><stop offset=".2217" stop-color="#f50"/><stop offset=".2283" stop-color="#ff6c00"/><stop offset=".235" stop-color="#ff9e00"/><stop offset=".2417" stop-color="#ffec00"/><stop offset=".245" stop-color="#f8ff00"/><stop offset=".2617" stop-color="#96ff00"/><stop offset=".2683" stop-color="#60ff00"/><stop offset=".275" stop-color="#0dff00"/><stop offset=".2783" stop-color="#00ff19"/><stop offset=".2817" stop-color="#00ff2c"/><stop offset=".2883" stop-color="#00ff41"/><stop offset=".295" stop-color="#00ff63"/><stop offset=".3017" stop-color="#0f9"/><stop offset=".3117" stop-color="#00fdff"/><stop offset=".3183" stop-color="#00c3ff"/><stop offset=".325" stop-color="#0af"/><stop offset=".335" stop-color="#009dff"/><stop offset=".3583" stop-color="#0097ff"/><stop offset=".4317" stop-color="#09f"/><stop offset=".4383" stop-color="#00a1ff"/><stop offset=".4517" stop-color="#00caff"/><stop offset=".465" stop-color="#00dbff"/><stop offset=".4817" stop-color="#00acff"/><stop offset=".4883" stop-color="#00a2ff"/><stop offset=".495" stop-color="#00b5ff"/><stop offset=".5017" stop-color="#00e9ff"/><stop offset=".505" stop-color="#00fff0"/><stop offset=".5117" stop-color="#00ffb7"/><stop offset=".5217" stop-color="#00ff8c"/><stop offset=".535" stop-color="#00ff75"/><stop offset=".5583" stop-color="#00ff69"/><stop offset=".9983" stop-color="#00ff86"/></linearGradient>
<linearGradient id="t17" x2="0" y2="1"><stop offset=".0017" stop-color="#ff7c00"/><stop offset=".115" stop-color="#ff7c00"/><stop offset=".1583" stop-color="#ff7400"/><stop offset=".1683" stop-color="#ff6d00"/><stop offset=".195" stop-color="#ff4600"/><stop offset=".205" stop-color="#ff4300"/><stop offset=".2183" stop-color="#ff5300"/><stop offset=".225" stop-color="#ff6d00"/><stop offset=".2317" stop-color="#ffa400"/><stop offset=".2383" stop-color="#fff200"/><stop offset=".2417" stop-color="#f6ff00"/><stop offset=".2583" stop-color="#9cff00"/><stop offset=".265" stop-color="#6bff00"/><stop offset=".2717" stop-color="#21ff00"/><stop offset=".275" stop-color="#00ff0c"/><stop offset=".2783" stop-color="#00ff25"/><stop offset=".2883" stop-color="#00ff40"/><stop offset=".295" stop-color="#00ff60"/><stop offset=".3017" stop-color="#00ff95"/><stop offset=".3117" stop-color="#00fbff"/><stop offset=".3183" stop-color="#00c0ff"/><stop offset=".3283" stop-color="#00a3ff"/><stop offset=".3717" stop-color="#09f"/><stop offset=".4283" stop-color="#009bff"/><stop offset=".465" stop-color="#00b6ff"/><stop offset=".4883" stop-color="#00a6ff"/><stop offset=".4983" stop-color="#00c6ff"/><stop offset=".505" stop-color="#00fafe"/><stop offset=".515" stop-color="#00ffb3"/><stop offset=".525" stop-color="#0f8"/><stop offset=".5417" stop-color="#00ff67"/><stop offset=".5617" stop-color="#00ff5d"/><stop offset=".8517" stop-color="#00ff83"/><stop offset=".9983" stop-color="#00ff86"/></linearGradient>
<linearGradient id="t18" x2="0" y2="1"><stop offset=".0017" stop-color="#ff7a00"/><stop offset=".155" stop-color="#ff8100"/><stop offset=".1917" stop-color="#ff5100"/><stop offset=".205" stop-color="#ff4c00"/><stop offset=".215" stop-color="#ff5700"/><stop offset=".2217" stop-color="#ff6b00"/><stop offset=".2283" stop-color="#ff9d00"/><stop offset=".235" stop-color="#fef800"/><stop offset=".2583" stop-color="#86ff00"/><stop offset=".265" stop-color="#56ff00"/><stop offset=".2717" stop-color="#0fff00"/><stop offset=".275" stop-color="#00ff1b"/><stop offset=".2783" stop-color="#00ff32"/><stop offset=".2883" stop-color="#00ff4a"/><stop offset=".295" stop-color="#00ff69"/><stop offset=".3017" stop-color="#00ff9e"/><stop offset=".3083" stop-color="#00ffe3"/><stop offset=".3117" stop-color="#00efff"/><stop offset=".3183" stop-color="#00b4ff"/><stop offset=".325" stop-color="#009cff"/><stop offset=".335" stop-color="#0091ff"/><stop offset=".355" stop-color="#008fff"/><stop offset=".425" stop-color="#0095ff"/><stop offset=".485" stop-color="#00adff"/><stop offset=".4983" stop-color="#00bfff"/><stop offset=".505" stop-color="#00dbff"/><stop offset=".5083" stop-color="#00f2ff"/><stop offset=".5117" stop-color="#00fff2"/><stop offset=".5217" stop-color="#00ffa9"/><stop offset=".5317" stop-color="#00ff7c"/><stop offset=".545" stop-color="#00ff64"/><stop offset=".565" stop-color="#00ff5b"/><stop offset=".795" stop-color="#00ff6a"/><stop offset=".9983" stop-color="#00ff87"/></linearGradient>
<linearGradient id="t19" x2="0" y2="1"><stop offset=".0017" stop-color="#ff7d00"/><stop offset=".155" stop-color="#ff8900"/><stop offset=".1917" stop-color="#ff5800"/><stop offset=".205" stop-color="#ff5300"/><stop offset=".215" stop-color="#ff5e00"/><stop offset=".2217" stop-color="#ff7300"/><stop offset=".2283" stop-color="#ffa600"/><stop offset=".2317" stop-color="#ffd300"/><stop offset=".235" stop-color="#f8ff00"/><stop offset=".2383" stop-color="#dfff00"/><stop offset=".2617" stop-color="#67ff00"/><stop offset=".2683" stop-color="#36ff00"/><stop offset=".2717" stop-color="#12ff00"/><stop offset=".275" stop-color="#00ff19"/><stop offset=".2783" stop-color="#00ff34"/><stop offset=".2883" stop-color="#00ff52"/><stop offset=".295" stop-color="#00ff71"/><stop offset=".3017" stop-color="#00ffa4"/><stop offset=".3083" stop-color="#00ffe6"/><stop offset=".3117" stop-color="#00f1ff"/><stop offset=".315" stop-color="#00c6ff"/><stop offset=".3183" stop-color="#00abff"/><stop offset=".325" stop-color="#0090ff"/><stop offset=".335" stop-color="#0083ff"/><stop offset=".3583" stop-color="#0080ff"/><stop offset=".4517" stop-color="#008bff"/><stop offset=".4917" stop-color="#00c5ff"/><stop offset=".505" stop-color="#00ebff"/><stop offset=".5117" stop-color="#00fbf5"/><stop offset=".525" stop-color="#00ffa6"/><stop offset=".535" stop-color="#00ff82"/><stop offset=".5483" stop-color="#00ff6f"/><stop offset=".565" stop-color="#00ff69"/><stop offset=".795" stop-color="#00ff6a"/><stop offset=".9983" stop-color="#00ff86"/></linearGradient>
<linearGradient id="t20" x2="0" y2="1"><stop offset=".0017" stop-color="#ff8000"/><stop offset=".155" stop-color="#f80"/><stop offset=".1917" stop-color="#ff5700"/><stop offset=".205" stop-color="#ff5200"/><stop offset=".215" stop-color="#ff5c00"/><stop offset=".2217" stop-color="#ff7000"/><stop offset=".2283" stop-color="#ff9d00"/><stop offset=".235" stop-color="#fff400"/><stop offset=".2383" stop-color="#ecff00"/><stop offset=".2617" stop-color="#7f0"/><stop offset=".2683" stop-color="#4aff00"/><stop offset=".275" stop-color="#09ff01"/><stop offset=".2817" stop-color="#00ff35"/><stop offset=".295" stop-color="#00ff68"/><stop offset=".305" stop-color="#00ffb8"/><stop offset=".3117" stop-color="#00fdfd"/><stop offset=".315" stop-color="#00d3ff"/><stop offset=".3217" stop-color="#00a2ff"/><stop offset=".3283" stop-color="#008fff"/><stop offset=".335" stop-color="#08f"/><stop offset=".435" stop-color="#0086ff"/><stop offset=".4483" stop-color="#008aff"/><stop offset=".4583" stop-color="#0098ff"/><stop offset=".4783" stop-color="#00e7ff"/><stop offset=".495" stop-color="#00ffe9"/><stop offset=".535" stop-color="#00ff7d"/><stop offset=".5483" stop-color="#00ff6d"/><stop offset=".565" stop-color="#0f6"/><stop offset=".795" stop-color="#0f6"/><stop offset=".9983" stop-color="#00ff81"/></linearGradient>
<linearGradient id="t21" x2="0" y2="1"><stop offset=".0017" stop-color="#ff8400"/><stop offset=".155" stop-color="#f80"/><stop offset=".195" stop-color="#ff5300"/><stop offset=".2083" stop-color="#ff5100"/><stop offset=".2183" stop-color="#ff5d00"/><stop offset=".225" stop-color="#ff7200"/><stop offset=".2317" stop-color="#ffa100"/><stop offset=".2383" stop-color="#fff300"/><stop offset=".2417" stop-color="#ef0"/><stop offset=".265" stop-color="#74ff00"/><stop offset=".2717" stop-color="#46ff00"/><stop offset=".2783" stop-color="#04ff02"/><stop offset=".2817" stop-color="#00ff23"/><stop offset=".2917" stop-color="#00ff50"/><stop offset=".2983" stop-color="#00ff7a"/><stop offset=".305" stop-color="#00ffb1"/><stop offset=".3117" stop-color="#00fff8"/><stop offset=".315" stop-color="#00dbff"/><stop offset=".3217" stop-color="#00a9ff"/><stop offset=".3283" stop-color="#0096ff"/><stop offset=".335" stop-color="#008eff"/><stop offset=".4283" stop-color="#008eff"/><stop offset=".455" stop-color="#009aff"/><stop offset=".4617" stop-color="#0af"/><stop offset=".475" stop-color="#00e6ff"/><stop offset=".4783" stop-color="#00fffa"/><stop offset=".485" stop-color="#00ffc5"/><stop offset=".4917" stop-color="#00ffb0"/><stop offset=".5383" stop-color="#00ff6a"/><stop offset=".565" stop-color="#00ff5c"/><stop offset=".7817" stop-color="#00ff57"/><stop offset=".9983" stop-color="#00ff7e"/></linearGradient>
<linearGradient id="t22" x2="0" y2="1"><stop offset=".0017" stop-color="#ff8700"/><stop offset=".155" stop-color="#f80"/><stop offset=".195" stop-color="#ff5400"/><stop offset=".2117" stop-color="#ff5000"/><stop offset=".2217" stop-color="#ff5c00"/><stop offset=".2283" stop-color="#ff7300"/><stop offset=".235" stop-color="#ffa600"/><stop offset=".2417" stop-color="#fdff00"/><stop offset=".2683" stop-color="#6f0"/><stop offset=".275" stop-color="#32ff00"/><stop offset=".2783" stop-color="#0cff00"/><stop offset=".2817" stop-color="#00ff20"/><stop offset=".285" stop-color="#00ff39"/><stop offset=".2917" stop-color="#00ff57"/><stop offset=".2983" stop-color="#00ff85"/><stop offset=".3083" stop-color="#00ffe4"/><stop offset=".3117" stop-color="#00f3ff"/><stop offset=".3183" stop-color="#00b5ff"/><stop offset=".325" stop-color="#009aff"/><stop offset=".335" stop-color="#008eff"/><stop offset=".355" stop-color="#008aff"/><stop offset=".455" stop-color="#09f"/><stop offset=".4683" stop-color="#00b1ff"/><stop offset=".475" stop-color="#00d8ff"/><stop offset=".4783" stop-color="#00fbfe"/><stop offset=".485" stop-color="#00ffbe"/><stop offset=".4883" stop-color="#00ffa7"/><stop offset=".495" stop-color="#00ff8c"/><stop offset=".535" stop-color="#00ff65"/><stop offset=".5617" stop-color="#00ff5a"/><stop offset=".7617" stop-color="#00ff52"/><stop offset=".9983" stop-color="#00ff79"/></linearGradient>
<linearGradient id="t23" x2="0" y2="1"><stop offset=".0017" stop-color="#f80"/><stop offset=".155" stop-color="#ff8300"/><stop offset=".1683" stop-color="#ff7900"/><stop offset=".1983" stop-color="#ff4c00"/><stop offset=".2117" stop-color="#ff4700"/><stop offset=".2217" stop-color="#ff5100"/><stop offset=".2283" stop-color="#ff6500"/><stop offset=".235" stop-color="#ff9700"/><stop offset=".2417" stop-color="#fff200"/><stop offset=".245" stop-color="#f2ff00"/><stop offset=".265" stop-color="#86ff00"/><stop offset=".2717" stop-color="#5f0"/><stop offset=".2783" stop-color="#04ff01"/><stop offset=".2817" stop-color="#0f2"/><stop offset=".295" stop-color="#00ff6b"/><stop offset=".3017" stop-color="#00ffa6"/><stop offset=".3083" stop-color="#00ffef"/><stop offset=".3117" stop-color="#00ebff"/><stop offset=".3183" stop-color="#0bf"/><stop offset=".325" stop-color="#00a7ff"/><stop offset=".3317" stop-color="#009fff"/><stop offset=".4417" stop-color="#0098ff"/><stop offset=".465" stop-color="#00a8ff"/><stop offset=".4717" stop-color="#00bfff"/><stop offset=".4783" stop-color="#00f6ff"/><stop offset=".4883" stop-color="#00ffab"/><stop offset=".4983" stop-color="#00ff80"/><stop offset=".5083" stop-color="#00ff72"/><stop offset=".5483" stop-color="#00ff63"/><stop offset=".795" stop-color="#00ff5c"/><stop offset=".9983" stop-color="#00ff6b"/></linearGradient>
<linearGradient id="t24" x2="0" y2="1"><stop offset=".0017" stop-color="#ff7d00"/><stop offset=".1583" stop-color="#ff7b00"/><stop offset=".1717" stop-color="#ff7000"/><stop offset=".1983" stop-color="#ff4600"/><stop offset=".2117" stop-color="#ff4000"/><stop offset=".225" stop-color="#ff5000"/><stop offset=".2317" stop-color="#ff6b00"/><stop offset=".235" stop-color="#ff8400"/><stop offset=".245" stop-color="#fff400"/><stop offset=".2483" stop-color="#f5ff00"/><stop offset=".265" stop-color="#91ff00"/><stop offset=".2717" stop-color="#57ff00"/><stop offset=".275" stop-color="#2cff00"/><stop offset=".2783" stop-color="#00ff07"/><stop offset=".2817" stop-color="#00ff23"/><stop offset=".295" stop-color="#0f6"/><stop offset=".3017" stop-color="#00ffa2"/><stop offset=".3083" stop-color="#0fe"/><stop offset=".3117" stop-color="#0ef"/><stop offset=".3183" stop-color="#00c1ff"/><stop offset=".3317" stop-color="#00a8ff"/><stop offset=".3617" stop-color="#00a4ff"/><stop offset=".4017" stop-color="#00b2ff"/><stop offset=".425" stop-color="#009fff"/><stop offset=".4417" stop-color="#009cff"/><stop offset=".4617" stop-color="#00acff"/><stop offset=".4683" stop-color="#00c5ff"/><stop offset=".475" stop-color="#00f5ff"/><stop offset=".4783" stop-color="#00ffeb"/><stop offset=".4883" stop-color="#00ffa2"/><stop offset=".4983" stop-color="#00ff7f"/><stop offset=".545" stop-color="#00ff5f"/><stop offset=".795" stop-color="#00ff5c"/><stop offset=".9983" stop-color="#00ff65"/></linearGradient>
<linearGradient id="t25" x2="0" y2="1"><stop offset=".0017" stop-color="#ff8200"/><stop offset=".1617" stop-color="#ff8200"/><stop offset=".2017" stop-color="#ff4c00"/><stop offset=".215" stop-color="#ff4800"/><stop offset=".2283" stop-color="#ff5a00"/><stop offset=".235" stop-color="#ff7500"/><stop offset=".2383" stop-color="#ff8d00"/><stop offset=".2483" stop-color="#fefe00"/><stop offset=".265" stop-color="#8cff00"/><stop offset=".2717" stop-color="#49ff00"/><stop offset=".275" stop-color="#1aff00"/><stop offset=".2783" stop-color="#00ff15"/><stop offset=".2817" stop-color="#00ff2d"/><stop offset=".295" stop-color="#00ff68"/><stop offset=".3017" stop-color="#00ffa0"/><stop offset=".3083" stop-color="#00ffe9"/><stop offset=".3117" stop-color="#00efff"/><stop offset=".3183" stop-color="#00bdff"/><stop offset=".325" stop-color="#00a9ff"/><stop offset=".3317" stop-color="#00a2ff"/><stop offset=".365" stop-color="#00a2ff"/><stop offset=".4017" stop-color="#00d1ff"/><stop offset=".4183" stop-color="#00a6ff"/><stop offset=".4383" stop-color="#009aff"/><stop offset=".4583" stop-color="#00a8ff"/><stop offset=".465" stop-color="#00c1ff"/><stop offset=".4717" stop-color="#00f8fe"/><stop offset=".4783" stop-color="#00ffc9"/><stop offset=".4883" stop-color="#00ffa1"/><stop offset=".525" stop-color="#00ff6c"/><stop offset=".5483" stop-color="#00ff5f"/><stop offset=".795" stop-color="#00ff53"/><stop offset=".9983" stop-color="#00ff5b"/></linearGradient>
<linearGradient id="t26" x2="0" y2="1"><stop offset=".0017" stop-color="#ff9500"/><stop offset=".155" stop-color="#ff8f00"/><stop offset=".1717" stop-color="#ff8400"/><stop offset=".205" stop-color="#ff5400"/><stop offset=".2183" stop-color="#ff5100"/><stop offset=".2317" stop-color="#ff6200"/><stop offset=".2383" stop-color="#ff7e00"/><stop offset=".2417" stop-color="#f90"/><stop offset=".2483" stop-color="#fff000"/><stop offset=".2517" stop-color="#ecff00"/><stop offset=".265" stop-color="#8bff00"/><stop offset=".2717" stop-color="#4bff00"/><stop offset=".275" stop-color="#1eff00"/><stop offset=".2783" stop-color="#00ff12"/><stop offset=".2817" stop-color="#00ff2c"/><stop offset=".295" stop-color="#0f6"/><stop offset=".3017" stop-color="#00ff9a"/><stop offset=".3117" stop-color="#00f9ff"/><stop offset=".315" stop-color="#00d7ff"/><stop offset=".3217" stop-color="#00b3ff"/><stop offset=".3383" stop-color="#00a2ff"/><stop offset=".365" stop-color="#00acff"/><stop offset=".3717" stop-color="#00baff"/><stop offset=".385" stop-color="#00f1fb"/><stop offset=".395" stop-color="#00feec"/><stop offset=".3983" stop-color="#00ffe9"/><stop offset=".405" stop-color="#00fafa"/><stop offset=".415" stop-color="#00beff"/><stop offset=".4217" stop-color="#00afff"/><stop offset=".4317" stop-color="#00a8ff"/><stop offset=".455" stop-color="#00afff"/><stop offset=".4617" stop-color="#00beff"/><stop offset=".4683" stop-color="#00e8ff"/><stop offset=".4717" stop-color="#00fffa"/><stop offset=".4783" stop-color="#00ffd5"/><stop offset=".495" stop-color="#00ffb8"/><stop offset=".5217" stop-color="#00ff74"/><stop offset=".5483" stop-color="#00ff5d"/><stop offset=".795" stop-color="#00ff57"/><stop offset=".9983" stop-color="#00ff62"/></linearGradient>
<linearGradient id="t27" x2="0" y2="1"><stop offset=".0017" stop-color="#ff9400"/><stop offset=".1483" stop-color="#ff8e00"/><stop offset=".2017" stop-color="#ff5400"/><stop offset=".2183" stop-color="#ff4b00"/><stop offset=".2317" stop-color="#ff5800"/><stop offset=".2383" stop-color="#ff7000"/><stop offset=".2417" stop-color="#f80"/><stop offset=".2483" stop-color="#ffda00"/><stop offset=".2517" stop-color="#fbfe00"/><stop offset=".265" stop-color="#9fff00"/><stop offset=".2717" stop-color="#67ff00"/><stop offset=".2783" stop-color="#17ff00"/><stop offset=".2817" stop-color="#00ff13"/><stop offset=".2983" stop-color="#00ff72"/><stop offset=".305" stop-color="#00ffad"/><stop offset=".3117" stop-color="#00fff8"/><stop offset=".315" stop-color="#00e3ff"/><stop offset=".3183" stop-color="#0cf"/><stop offset=".325" stop-color="#00b6ff"/><stop offset=".3517" stop-color="#00aeff"/><stop offset=".3683" stop-color="#00bfff"/><stop offset=".375" stop-color="#00daff"/><stop offset=".3783" stop-color="#00f5ff"/><stop offset=".3817" stop-color="#00ffec"/><stop offset=".3883" stop-color="#00ffba"/><stop offset=".395" stop-color="#00ffaf"/><stop offset=".3983" stop-color="#00ffb6"/><stop offset=".4083" stop-color="#00faff"/><stop offset=".4117" stop-color="#00e0ff"/><stop offset=".4183" stop-color="#00c3ff"/><stop offset=".4383" stop-color="#00b2ff"/><stop offset=".4583" stop-color="#00bdff"/><stop offset=".475" stop-color="#00edff"/><stop offset=".4883" stop-color="#00f8f8"/><stop offset=".495" stop-color="#00ffef"/><stop offset=".5017" stop-color="#00ffd8"/><stop offset=".515" stop-color="#00ff91"/><stop offset=".5217" stop-color="#00ff79"/><stop offset=".5317" stop-color="#0f6"/><stop offset=".5483" stop-color="#00ff5c"/><stop offset=".9983" stop-color="#00ff73"/></linearGradient>
<linearGradient id="t28" x2="0" y2="1"><stop offset=".0017" stop-color="#ff9100"/><stop offset=".145" stop-color="#f80"/><stop offset=".1983" stop-color="#ff4c00"/><stop offset=".2217" stop-color="#ff4800"/><stop offset=".2317" stop-color="#ff5400"/><stop offset=".2383" stop-color="#ff6c00"/><stop offset=".2417" stop-color="#ff8400"/><stop offset=".245" stop-color="#ffa700"/><stop offset=".2517" stop-color="#fffc00"/><stop offset=".2683" stop-color="#94ff00"/><stop offset=".275" stop-color="#5cff00"/><stop offset=".2783" stop-color="#32ff00"/><stop offset=".2817" stop-color="#00ff05"/><stop offset=".285" stop-color="#00ff24"/><stop offset=".2983" stop-color="#00ff71"/><stop offset=".305" stop-color="#00ffac"/><stop offset=".3117" stop-color="#00fff7"/><stop offset=".315" stop-color="#00e4ff"/><stop offset=".3183" stop-color="#00cdff"/><stop offset=".325" stop-color="#00b7ff"/><stop offset=".3517" stop-color="#00aeff"/><stop offset=".3683" stop-color="#00beff"/><stop offset=".375" stop-color="#00daff"/><stop offset=".3783" stop-color="#00f6ff"/><stop offset=".3883" stop-color="#00ffaf"/><stop offset=".3917" stop-color="#00ffb0"/><stop offset=".4017" stop-color="#00ffeb"/><stop offset=".405" stop-color="#00f7f9"/><stop offset=".4117" stop-color="#00d6ff"/><stop offset=".4183" stop-color="#00c1ff"/><stop offset=".435" stop-color="#00b4ff"/><stop offset=".455" stop-color="#00b6ff"/><stop offset=".4883" stop-color="#00d0ff"/><stop offset=".495" stop-color="#00daff"/><stop offset=".5017" stop-color="#00f3fe"/><stop offset=".505" stop-color="#00fff3"/><stop offset=".515" stop-color="#00ffa2"/><stop offset=".5217" stop-color="#00ff81"/><stop offset=".535" stop-color="#00ff63"/><stop offset=".5517" stop-color="#00ff59"/><stop offset=".7983" stop-color="#00ff64"/><stop offset=".9983" stop-color="#00ff7d"/></linearGradient>
<linearGradient id="t29" x2="0" y2="1"><stop offset=".0017" stop-color="#f80"/><stop offset=".1417" stop-color="#ff8500"/><stop offset=".1883" stop-color="#ff5100"/><stop offset=".2117" stop-color="#ff4b00"/><stop offset=".2283" stop-color="#f50"/><stop offset=".235" stop-color="#ff6700"/><stop offset=".2417" stop-color="#ff9400"/><stop offset=".2483" stop-color="#ffed00"/><stop offset=".2517" stop-color="#f3ff00"/><stop offset=".2683" stop-color="#8bff00"/><stop offset=".275" stop-color="#5f0"/><stop offset=".2783" stop-color="#2bff00"/><stop offset=".2817" stop-color="#00ff0c"/><stop offset=".285" stop-color="#00ff2c"/><stop offset=".2983" stop-color="#00ff7a"/><stop offset=".3083" stop-color="#00ffda"/><stop offset=".3117" stop-color="#00fbfe"/><stop offset=".315" stop-color="#00d8ff"/><stop offset=".3183" stop-color="#00c1ff"/><stop offset=".325" stop-color="#0af"/><stop offset=".345" stop-color="#009eff"/><stop offset=".3583" stop-color="#00a2ff"/><stop offset=".3683" stop-color="#00b0ff"/><stop offset=".375" stop-color="#00cdff"/><stop offset=".3783" stop-color="#00e5ff"/><stop offset=".3817" stop-color="#00f8f9"/><stop offset=".385" stop-color="#00ffea"/><stop offset=".3883" stop-color="#00ffe2"/><stop offset=".3917" stop-color="#00ffec"/><stop offset=".3983" stop-color="#00e5ff"/><stop offset=".405" stop-color="#00c5ff"/><stop offset=".4117" stop-color="#00b2ff"/><stop offset=".425" stop-color="#00a4ff"/><stop offset=".4917" stop-color="#00acff"/><stop offset=".4983" stop-color="#00b9ff"/><stop offset=".505" stop-color="#00deff"/><stop offset=".5083" stop-color="#00f8fc"/><stop offset=".5117" stop-color="#00ffe2"/><stop offset=".5183" stop-color="#00ffad"/><stop offset=".5283" stop-color="#00ff80"/><stop offset=".5383" stop-color="#00ff6d"/><stop offset=".555" stop-color="#00ff63"/><stop offset=".9983" stop-color="#00ff75"/></linearGradient>
<linearGradient id="t30" x2="0" y2="1"><stop offset=".0017" stop-color="#ff8200"/><stop offset=".1383" stop-color="#ff8600"/><stop offset=".1817" stop-color="#ff5400"/><stop offset=".2017" stop-color="#ff4e00"/><stop offset=".2317" stop-color="#ff7200"/><stop offset=".2383" stop-color="#ff9300"/><stop offset=".245" stop-color="#fd0"/><stop offset=".2483" stop-color="#f7ff00"/><stop offset=".2683" stop-color="#71ff00"/><stop offset=".275" stop-color="#34ff00"/><stop offset=".2783" stop-color="#0aff02"/><stop offset=".285" stop-color="#00ff40"/><stop offset=".2983" stop-color="#00ff8b"/><stop offset=".3083" stop-color="#00ffe8"/><stop offset=".3117" stop-color="#00eaff"/><stop offset=".3183" stop-color="#00b0ff"/><stop offset=".325" stop-color="#09f"/><stop offset=".3483" stop-color="#008cff"/><stop offset=".365" stop-color="#0094ff"/><stop offset=".3883" stop-color="#00caff"/><stop offset=".3917" stop-color="#00c7ff"/><stop offset=".4017" stop-color="#00a4ff"/><stop offset=".4117" stop-color="#0097ff"/><stop offset=".4817" stop-color="#009dff"/><stop offset=".4983" stop-color="#00b5ff"/><stop offset=".5083" stop-color="#00f6fd"/><stop offset=".5117" stop-color="#00ffe9"/><stop offset=".5183" stop-color="#00ffb7"/><stop offset=".5283" stop-color="#00ff89"/><stop offset=".5417" stop-color="#00ff70"/><stop offset=".5583" stop-color="#00ff68"/><stop offset=".7483" stop-color="#00ff74"/><stop offset=".9983" stop-color="#00ff74"/></linearGradient>
<linearGradient id="t31" x2="0" y2="1"><stop offset=".0017" stop-color="#ff8500"/><stop offset=".135" stop-color="#ff8700"/><stop offset=".1783" stop-color="#ff5300"/><stop offset=".1983" stop-color="#ff5000"/><stop offset=".2083" stop-color="#ff5700"/><stop offset=".2183" stop-color="#ff6f00"/><stop offset=".235" stop-color="#ffae00"/><stop offset=".2383" stop-color="#ffc500"/><stop offset=".2417" stop-color="#ffe900"/><stop offset=".245" stop-color="#f2ff00"/><stop offset=".2583" stop-color="#a3ff00"/><stop offset=".265" stop-color="#73ff00"/><stop offset=".2717" stop-color="#34ff00"/><stop offset=".275" stop-color="#09ff03"/><stop offset=".2783" stop-color="#00ff29"/><stop offset=".2817" stop-color="#00ff46"/><stop offset=".295" stop-color="#00ff8a"/><stop offset=".305" stop-color="#00ffdc"/><stop offset=".3083" stop-color="#00fbfb"/><stop offset=".3117" stop-color="#00d9ff"/><stop offset=".3183" stop-color="#00a9ff"/><stop offset=".325" stop-color="#0095ff"/><stop offset=".3483" stop-color="#0089ff"/><stop offset=".3883" stop-color="#00a2ff"/><stop offset=".405" stop-color="#09f"/><stop offset=".435" stop-color="#00afff"/><stop offset=".4783" stop-color="#00b3ff"/><stop offset=".4883" stop-color="#00c6ff"/><stop offset=".4983" stop-color="#00e6ff"/><stop offset=".505" stop-color="#00ffeb"/><stop offset=".515" stop-color="#00ffad"/><stop offset=".525" stop-color="#0f8"/><stop offset=".5383" stop-color="#00ff6f"/><stop offset=".5583" stop-color="#00ff63"/><stop offset=".795" stop-color="#00ff63"/><stop offset=".9983" stop-color="#00ff70"/></linearGradient>
<linearGradient id="t32" x2="0" y2="1"><stop offset=".0017" stop-color="#ff8000"/><stop offset=".1317" stop-color="#ff8500"/><stop offset=".175" stop-color="#ff5000"/><stop offset=".1883" stop-color="#ff4c00"/><stop offset=".205" stop-color="#ff5a00"/><stop offset=".215" stop-color="#ff6e00"/><stop offset=".2217" stop-color="#ff9700"/><stop offset=".2283" stop-color="#ffde00"/><stop offset=".2317" stop-color="#fcef00"/><stop offset=".2383" stop-color="#f1fe00"/><stop offset=".2583" stop-color="#8fff00"/><stop offset=".265" stop-color="#5fff00"/><stop offset=".2683" stop-color="#3cff00"/><stop offset=".2717" stop-color="#0cff00"/><stop offset=".275" stop-color="#00ff29"/><stop offset=".2783" stop-color="#00ff49"/><stop offset=".2917" stop-color="#00ff8a"/><stop offset=".3017" stop-color="#00ffdb"/><stop offset=".305" stop-color="#00fbf9"/><stop offset=".3083" stop-color="#00dfff"/><stop offset=".315" stop-color="#00b2ff"/><stop offset=".3217" stop-color="#009eff"/><stop offset=".335" stop-color="#0092ff"/><stop offset=".355" stop-color="#0092ff"/><stop offset=".3983" stop-color="#009dff"/><stop offset=".415" stop-color="#00cdff"/><stop offset=".435" stop-color="#00ecff"/><stop offset=".4783" stop-color="#00effe"/><stop offset=".4883" stop-color="#00fdf1"/><stop offset=".5217" stop-color="#00ff7f"/><stop offset=".535" stop-color="#00ff6c"/><stop offset=".555" stop-color="#00ff61"/><stop offset=".795" stop-color="#00ff5f"/><stop offset=".9983" stop-color="#00ff72"/></linearGradient>
<linearGradient id="t33" x2="0" y2="1"><stop offset=".0017" stop-color="#ff8300"/><stop offset=".1283" stop-color="#f80"/><stop offset=".1417" stop-color="#ff7f00"/><stop offset=".1717" stop-color="#ff5300"/><stop offset=".185" stop-color="#ff4e00"/><stop offset=".195" stop-color="#ff5600"/><stop offset=".205" stop-color="#ff6e00"/><stop offset=".2183" stop-color="#ff9d00"/><stop offset=".2217" stop-color="#ffb200"/><stop offset=".225" stop-color="#ffd600"/><stop offset=".2283" stop-color="#f9ff00"/><stop offset=".235" stop-color="#c6ff00"/><stop offset=".2483" stop-color="#95ff00"/><stop offset=".2617" stop-color="#52ff00"/><stop offset=".265" stop-color="#3aff00"/><stop offset=".2683" stop-color="#0fff02"/><stop offset=".2717" stop-color="#00ff31"/><stop offset=".275" stop-color="#00ff56"/><stop offset=".2883" stop-color="#00ff95"/><stop offset=".2983" stop-color="#00ffe6"/><stop offset=".3017" stop-color="#00f3fc"/><stop offset=".305" stop-color="#00d7ff"/><stop offset=".3083" stop-color="#00c0ff"/><stop offset=".315" stop-color="#00a5ff"/><stop offset=".325" stop-color="#0095ff"/><stop offset=".3883" stop-color="#0091ff"/><stop offset=".4017" stop-color="#00a1ff"/><stop offset=".4083" stop-color="#00c2ff"/><stop offset=".415" stop-color="#00f9fb"/><stop offset=".4183" stop-color="#00ffef"/><stop offset=".4383" stop-color="#00ffd1"/><stop offset=".4817" stop-color="#00ffcf"/><stop offset=".5217" stop-color="#00ff7f"/><stop offset=".5583" stop-color="#00ff69"/><stop offset=".795" stop-color="#00ff5c"/><stop offset=".9983" stop-color="#00ff74"/></linearGradient>
<linearGradient id="t34" x2="0" y2="1"><stop offset=".0017" stop-color="#ff9400"/><stop offset=".1283" stop-color="#ff9100"/><stop offset=".1683" stop-color="#ff5a00"/><stop offset=".1817" stop-color="#ff5400"/><stop offset=".195" stop-color="#ff6100"/><stop offset=".2017" stop-color="#f70"/><stop offset=".205" stop-color="#ff8b00"/><stop offset=".215" stop-color="#ffe100"/><stop offset=".225" stop-color="#e8ff00"/><stop offset=".2383" stop-color="#79ff00"/><stop offset=".255" stop-color="#1eff01"/><stop offset=".265" stop-color="#00ff34"/><stop offset=".2717" stop-color="#00ff76"/><stop offset=".2917" stop-color="#00ffdf"/><stop offset=".295" stop-color="#00f9f7"/><stop offset=".2983" stop-color="#00deff"/><stop offset=".3017" stop-color="#00c4ff"/><stop offset=".3083" stop-color="#00a4ff"/><stop offset=".3183" stop-color="#0091ff"/><stop offset=".3883" stop-color="#0092ff"/><stop offset=".395" stop-color="#0096ff"/><stop offset=".4017" stop-color="#00a7ff"/><stop offset=".4083" stop-color="#00d2ff"/><stop offset=".4117" stop-color="#00f6ff"/><stop offset=".415" stop-color="#00ffe4"/><stop offset=".4217" stop-color="#00ffb8"/><stop offset=".4283" stop-color="#00ffac"/><stop offset=".4417" stop-color="#00ffa2"/><stop offset=".4817" stop-color="#00ff9f"/><stop offset=".525" stop-color="#00ff6e"/><stop offset=".555" stop-color="#00ff62"/><stop offset=".7917" stop-color="#00ff5d"/><stop offset=".9983" stop-color="#00ff75"/></linearGradient>
<linearGradient id="t35" x2="0" y2="1"><stop offset=".0017" stop-color="#ff9300"/><stop offset=".125" stop-color="#ff9400"/><stop offset=".1383" stop-color="#ff8900"/><stop offset=".165" stop-color="#ff5f00"/><stop offset=".1783" stop-color="#ff5700"/><stop offset=".1917" stop-color="#ff6400"/><stop offset=".1983" stop-color="#ff7900"/><stop offset=".205" stop-color="#ffa800"/><stop offset=".2083" stop-color="#ffd000"/><stop offset=".2117" stop-color="#faf900"/><stop offset=".2283" stop-color="#92ff00"/><stop offset=".2317" stop-color="#71ff00"/><stop offset=".235" stop-color="#4f0"/><stop offset=".2383" stop-color="#19ff05"/><stop offset=".245" stop-color="#01ff1c"/><stop offset=".2817" stop-color="#00ffeb"/><stop offset=".2883" stop-color="#00ecfe"/><stop offset=".2917" stop-color="#00d9ff"/><stop offset=".305" stop-color="#009dff"/><stop offset=".3183" stop-color="#008fff"/><stop offset=".3483" stop-color="#009fff"/><stop offset=".395" stop-color="#00a6ff"/><stop offset=".4017" stop-color="#00b8ff"/><stop offset=".4083" stop-color="#00ebff"/><stop offset=".4117" stop-color="#00ffed"/><stop offset=".415" stop-color="#00ffce"/><stop offset=".4217" stop-color="#00ffa3"/><stop offset=".4317" stop-color="#00ff8b"/><stop offset=".4817" stop-color="#00ff82"/><stop offset=".5417" stop-color="#00ff61"/><stop offset=".795" stop-color="#00ff59"/><stop offset=".9983" stop-color="#00ff67"/></linearGradient>
<linearGradient id="t36" x2="0" y2="1"><stop offset=".0017" stop-color="#ff8700"/><stop offset=".125" stop-color="#ff8900"/><stop offset=".165" stop-color="#ff5400"/><stop offset=".1783" stop-color="#ff4f00"/><stop offset=".1883" stop-color="#ff5a00"/><stop offset=".195" stop-color="#ff6d00"/><stop offset=".2017" stop-color="#ff9a00"/><stop offset=".2083" stop-color="#fe0"/><stop offset=".2117" stop-color="#edff00"/><stop offset=".2283" stop-color="#75ff00"/><stop offset=".2317" stop-color="#51ff00"/><stop offset=".235" stop-color="#1bff00"/><stop offset=".2383" stop-color="#00ff20"/><stop offset=".2417" stop-color="#00ff41"/><stop offset=".2583" stop-color="#00ff90"/><stop offset=".2717" stop-color="#00ffed"/><stop offset=".2783" stop-color="#00e6ff"/><stop offset=".2917" stop-color="#00b6ff"/><stop offset=".3117" stop-color="#009aff"/><stop offset=".3483" stop-color="#00cbff"/><stop offset=".395" stop-color="#00cfff"/><stop offset=".405" stop-color="#00efff"/><stop offset=".4083" stop-color="#00fff6"/><stop offset=".4183" stop-color="#00ffad"/><stop offset=".425" stop-color="#00ff93"/><stop offset=".4317" stop-color="#00ff85"/><stop offset=".4817" stop-color="#00ff7e"/><stop offset=".5383" stop-color="#00ff67"/><stop offset=".795" stop-color="#00ff53"/><stop offset=".9983" stop-color="#00ff5e"/></linearGradient>
<linearGradient id="t37" x2="0" y2="1"><stop offset=".0017" stop-color="#ff7600"/><stop offset=".125" stop-color="#ff7b00"/><stop offset=".165" stop-color="#ff4600"/><stop offset=".1783" stop-color="#ff4500"/><stop offset=".1883" stop-color="#ff5300"/><stop offset=".195" stop-color="#ff6c00"/><stop offset=".1983" stop-color="#ff8400"/><stop offset=".2083" stop-color="#fffc00"/><stop offset=".225" stop-color="#8f0"/><stop offset=".2317" stop-color="#3fff00"/><stop offset=".235" stop-color="#07ff00"/><stop offset=".2417" stop-color="#00ff42"/><stop offset=".2583" stop-color="#00ff9e"/><stop offset=".2683" stop-color="#00fff7"/><stop offset=".2717" stop-color="#00eaff"/><stop offset=".275" stop-color="#00d3ff"/><stop offset=".2817" stop-color="#0bf"/><stop offset=".295" stop-color="#00a9ff"/><stop offset=".3083" stop-color="#00a3ff"/><stop offset=".315" stop-color="#00a7ff"/><stop offset=".3217" stop-color="#00b9ff"/><stop offset=".3317" stop-color="#00efff"/><stop offset=".3483" stop-color="#00ffed"/><stop offset=".3983" stop-color="#00ffef"/><stop offset=".4083" stop-color="#00ffd6"/><stop offset=".4217" stop-color="#00ffa6"/><stop offset=".4317" stop-color="#00ff94"/><stop offset=".4717" stop-color="#00ff9a"/><stop offset=".5083" stop-color="#00ff80"/><stop offset=".5583" stop-color="#00ff6f"/><stop offset=".7917" stop-color="#00ff58"/><stop offset=".9983" stop-color="#00ff5e"/></linearGradient>
<linearGradient id="t38" x2="0" y2="1"><stop offset=".0017" stop-color="#ff7600"/><stop offset=".125" stop-color="#ff7b00"/><stop offset=".1617" stop-color="#ff4900"/><stop offset=".175" stop-color="#ff4300"/><stop offset=".185" stop-color="#ff4e00"/><stop offset=".1917" stop-color="#ff6200"/><stop offset=".1983" stop-color="#ff9100"/><stop offset=".205" stop-color="#ffeb00"/><stop offset=".2083" stop-color="#f6ff00"/><stop offset=".225" stop-color="#84ff00"/><stop offset=".2317" stop-color="#3eff00"/><stop offset=".235" stop-color="#0aff00"/><stop offset=".2417" stop-color="#00ff3e"/><stop offset=".2583" stop-color="#00ff96"/><stop offset=".2683" stop-color="#00ffe9"/><stop offset=".2717" stop-color="#00f5ff"/><stop offset=".275" stop-color="#00d9ff"/><stop offset=".2817" stop-color="#00bdff"/><stop offset=".2983" stop-color="#00afff"/><stop offset=".315" stop-color="#00b5ff"/><stop offset=".3217" stop-color="#00cfff"/><stop offset=".325" stop-color="#00e8ff"/><stop offset=".3283" stop-color="#00fdf6"/><stop offset=".3317" stop-color="#00ffdb"/><stop offset=".3383" stop-color="#00ffbd"/><stop offset=".3517" stop-color="#00ffb0"/><stop offset=".3983" stop-color="#00ffbf"/><stop offset=".425" stop-color="#00ffa2"/><stop offset=".4717" stop-color="#00ffaf"/><stop offset=".5117" stop-color="#00ff7f"/><stop offset=".5717" stop-color="#00ff69"/><stop offset=".795" stop-color="#00ff5b"/><stop offset=".9983" stop-color="#00ff6d"/></linearGradient>
<linearGradient id="t39" x2="0" y2="1"><stop offset=".0017" stop-color="#ff8500"/><stop offset=".125" stop-color="#ff8000"/><stop offset=".1617" stop-color="#ff4b00"/><stop offset=".175" stop-color="#f40"/><stop offset=".185" stop-color="#ff4e00"/><stop offset=".1917" stop-color="#ff6100"/><stop offset=".1983" stop-color="#ff9100"/><stop offset=".205" stop-color="#ffe900"/><stop offset=".2083" stop-color="#f8ff00"/><stop offset=".225" stop-color="#94ff00"/><stop offset=".2317" stop-color="#5bff00"/><stop offset=".235" stop-color="#30ff00"/><stop offset=".2383" stop-color="#02ff07"/><stop offset=".2417" stop-color="#00ff28"/><stop offset=".245" stop-color="#00ff3d"/><stop offset=".2617" stop-color="#00ff92"/><stop offset=".275" stop-color="#00fbf6"/><stop offset=".2817" stop-color="#00ecff"/><stop offset=".2917" stop-color="#00d7ff"/><stop offset=".3017" stop-color="#00d4ff"/><stop offset=".315" stop-color="#00dcff"/><stop offset=".3183" stop-color="#00e2ff"/><stop offset=".3217" stop-color="#00f5ff"/><stop offset=".325" stop-color="#0fe"/><stop offset=".335" stop-color="#00ffa3"/><stop offset=".3417" stop-color="#00ff91"/><stop offset=".3517" stop-color="#00ff8b"/><stop offset=".3983" stop-color="#00ffa3"/><stop offset=".415" stop-color="#00ffa1"/><stop offset=".4317" stop-color="#00ffb3"/><stop offset=".4483" stop-color="#00ffb5"/><stop offset=".465" stop-color="#00ffc9"/><stop offset=".475" stop-color="#00ffc3"/><stop offset=".4917" stop-color="#00ff98"/><stop offset=".5117" stop-color="#00ff7e"/><stop offset=".585" stop-color="#00ff64"/><stop offset=".795" stop-color="#00ff5a"/><stop offset=".9983" stop-color="#00ff7f"/></linearGradient>
<linearGradient id="t40" x2="0" y2="1"><stop offset=".0017" stop-color="#ff8500"/><stop offset=".1217" stop-color="#ff8200"/><stop offset=".135" stop-color="#ff7800"/><stop offset=".165" stop-color="#ff4a00"/><stop offset=".1783" stop-color="#ff4700"/><stop offset=".1883" stop-color="#ff5400"/><stop offset=".195" stop-color="#ff6c00"/><stop offset=".2017" stop-color="#ffa200"/><stop offset=".2083" stop-color="#fff000"/><stop offset=".2117" stop-color="#f6ff00"/><stop offset=".225" stop-color="#acff00"/><stop offset=".2317" stop-color="#79ff00"/><stop offset=".2383" stop-color="#37ff00"/><stop offset=".2417" stop-color="#14ff03"/><stop offset=".245" stop-color="#00ff14"/><stop offset=".2517" stop-color="#0f4"/><stop offset=".2717" stop-color="#00ffb3"/><stop offset=".2883" stop-color="#00ffe0"/><stop offset=".295" stop-color="#00ffe9"/><stop offset=".3217" stop-color="#00ffda"/><stop offset=".335" stop-color="#00ff9e"/><stop offset=".3583" stop-color="#00ff7e"/><stop offset=".4117" stop-color="#00ffa0"/><stop offset=".4317" stop-color="#00ffcd"/><stop offset=".455" stop-color="#00ffd2"/><stop offset=".465" stop-color="#00fff1"/><stop offset=".4717" stop-color="#00ffe9"/><stop offset=".485" stop-color="#00ffae"/><stop offset=".5017" stop-color="#00ff89"/><stop offset=".5317" stop-color="#00ff6e"/><stop offset=".575" stop-color="#00ff5e"/><stop offset=".7917" stop-color="#00ff59"/><stop offset=".9983" stop-color="#00ff7f"/></linearGradient>
<linearGradient id="t41" x2="0" y2="1"><stop offset=".0017" stop-color="#ff8000"/><stop offset=".1183" stop-color="#ff7d00"/><stop offset=".165" stop-color="#ff4700"/><stop offset=".1783" stop-color="#ff4300"/><stop offset=".1883" stop-color="#ff4c00"/><stop offset=".1983" stop-color="#ff6a00"/><stop offset=".205" stop-color="#ff9400"/><stop offset=".215" stop-color="#fff300"/><stop offset=".2183" stop-color="#f4ff00"/><stop offset=".2383" stop-color="#76ff00"/><stop offset=".245" stop-color="#3fff00"/><stop offset=".2483" stop-color="#1aff00"/><stop offset=".2517" stop-color="#00ff16"/><stop offset=".2583" stop-color="#00ff51"/><stop offset=".2683" stop-color="#00ff7f"/><stop offset=".2883" stop-color="#00ffa4"/><stop offset=".3117" stop-color="#00ffaf"/><stop offset=".3217" stop-color="#00ffd4"/><stop offset=".3383" stop-color="#00ffc5"/><stop offset=".3517" stop-color="#00ff8e"/><stop offset=".365" stop-color="#00ff7e"/><stop offset=".4083" stop-color="#00ffa4"/><stop offset=".4217" stop-color="#00ffc4"/><stop offset=".435" stop-color="#00f9f7"/><stop offset=".4483" stop-color="#00fbf6"/><stop offset=".455" stop-color="#00ffe3"/><stop offset=".4617" stop-color="#00fcff"/><stop offset=".465" stop-color="#00e7ff"/><stop offset=".4683" stop-color="#00e7ff"/><stop offset=".4717" stop-color="#00fcff"/><stop offset=".4783" stop-color="#00ffd3"/><stop offset=".485" stop-color="#00ffb5"/><stop offset=".505" stop-color="#00ff8a"/><stop offset=".535" stop-color="#00ff6f"/><stop offset=".5783" stop-color="#00ff5d"/><stop offset=".6617" stop-color="#00ff56"/><stop offset=".7917" stop-color="#00ff5b"/><stop offset=".9983" stop-color="#00ff83"/></linearGradient>
<linearGradient id="t42" x2="0" y2="1"><stop offset=".0017" stop-color="#ff7a00"/><stop offset=".1117" stop-color="#ff7b00"/><stop offset=".1617" stop-color="#ff4700"/><stop offset=".1817" stop-color="#f40"/><stop offset=".195" stop-color="#ff5100"/><stop offset=".205" stop-color="#ff6e00"/><stop offset=".2117" stop-color="#ff9800"/><stop offset=".2183" stop-color="#ffe200"/><stop offset=".2217" stop-color="#fafc00"/><stop offset=".2417" stop-color="#80ff00"/><stop offset=".2483" stop-color="#45ff00"/><stop offset=".2517" stop-color="#16ff00"/><stop offset=".255" stop-color="#00ff1d"/><stop offset=".2583" stop-color="#00ff3d"/><stop offset=".265" stop-color="#00ff5d"/><stop offset=".275" stop-color="#00ff74"/><stop offset=".3017" stop-color="#00ff8e"/><stop offset=".3083" stop-color="#00ffa6"/><stop offset=".3183" stop-color="#00fff0"/><stop offset=".3217" stop-color="#00f4ff"/><stop offset=".325" stop-color="#00e5ff"/><stop offset=".3283" stop-color="#00e5ff"/><stop offset=".335" stop-color="#00f5fe"/><stop offset=".3383" stop-color="#00fff0"/><stop offset=".345" stop-color="#00ffb6"/><stop offset=".3483" stop-color="#00ffa3"/><stop offset=".355" stop-color="#00ff8b"/><stop offset=".365" stop-color="#00ff80"/><stop offset=".4083" stop-color="#0fa"/><stop offset=".4183" stop-color="#00ffc1"/><stop offset=".4283" stop-color="#00ffeb"/><stop offset=".4317" stop-color="#00fbff"/><stop offset=".4383" stop-color="#00c7ff"/><stop offset=".4417" stop-color="#00c2ff"/><stop offset=".445" stop-color="#00cbff"/><stop offset=".4483" stop-color="#00e3ff"/><stop offset=".4517" stop-color="#00fffc"/><stop offset=".455" stop-color="#00ffec"/><stop offset=".4617" stop-color="#00fef8"/><stop offset=".4717" stop-color="#00fef8"/><stop offset=".4883" stop-color="#00ffb3"/><stop offset=".5083" stop-color="#00ff90"/><stop offset=".5417" stop-color="#00ff75"/><stop offset=".585" stop-color="#00ff65"/><stop offset=".6817" stop-color="#00ff59"/><stop offset=".7917" stop-color="#00ff5a"/><stop offset=".9983" stop-color="#00ff7e"/></linearGradient>
<linearGradient id="t43" x2="0" y2="1"><stop offset=".0017" stop-color="#ff8500"/><stop offset=".1083" stop-color="#ff8500"/><stop offset=".155" stop-color="#ff5000"/><stop offset=".1783" stop-color="#ff4c00"/><stop offset=".195" stop-color="#ff5c00"/><stop offset=".205" stop-color="#ff7100"/><stop offset=".2117" stop-color="#ff9000"/><stop offset=".215" stop-color="#fa0"/><stop offset=".2217" stop-color="#fff100"/><stop offset=".225" stop-color="#f1ff00"/><stop offset=".235" stop-color="#a9ff00"/><stop offset=".2417" stop-color="#72ff00"/><stop offset=".2483" stop-color="#2eff00"/><stop offset=".2517" stop-color="#0aff05"/><stop offset=".255" stop-color="#00ff20"/><stop offset=".2617" stop-color="#00ff47"/><stop offset=".2683" stop-color="#00ff5b"/><stop offset=".2917" stop-color="#00ff70"/><stop offset=".2983" stop-color="#00ff7e"/><stop offset=".3083" stop-color="#00ffb4"/><stop offset=".315" stop-color="#00fff0"/><stop offset=".3183" stop-color="#0ef"/><stop offset=".325" stop-color="#00c5ff"/><stop offset=".3283" stop-color="#00c4ff"/><stop offset=".3317" stop-color="#00cfff"/><stop offset=".335" stop-color="#00e7ff"/><stop offset=".3383" stop-color="#00fff5"/><stop offset=".345" stop-color="#00ffb5"/><stop offset=".3517" stop-color="#00ff91"/><stop offset=".365" stop-color="#00ff79"/><stop offset=".3817" stop-color="#00ff80"/><stop offset=".405" stop-color="#00ff9c"/><stop offset=".4217" stop-color="#00ffc5"/><stop offset=".4317" stop-color="#00fefd"/><stop offset=".4383" stop-color="#00d3ff"/><stop offset=".445" stop-color="#00d6ff"/><stop offset=".4483" stop-color="#00e9ff"/><stop offset=".4517" stop-color="#00fff9"/><stop offset=".4583" stop-color="#00ffd9"/><stop offset=".475" stop-color="#00ffcf"/><stop offset=".5017" stop-color="#00ff96"/><stop offset=".5283" stop-color="#00ff80"/><stop offset=".565" stop-color="#00ff71"/><stop offset=".7917" stop-color="#00ff5d"/><stop offset=".9983" stop-color="#00ff6f"/></linearGradient>
<linearGradient id="t44" x2="0" y2="1"><stop offset=".0017" stop-color="#f80"/><stop offset=".1083" stop-color="#ff8a00"/><stop offset=".1517" stop-color="#ff5300"/><stop offset=".1717" stop-color="#ff5100"/><stop offset=".185" stop-color="#ff5f00"/><stop offset=".1983" stop-color="#ff8500"/><stop offset=".2083" stop-color="#ffb600"/><stop offset=".215" stop-color="#ffeb00"/><stop offset=".2217" stop-color="#e2ff00"/><stop offset=".2317" stop-color="#a1ff00"/><stop offset=".2383" stop-color="#65ff00"/><stop offset=".245" stop-color="#15ff00"/><stop offset=".2483" stop-color="#00ff10"/><stop offset=".255" stop-color="#00ff38"/><stop offset=".2617" stop-color="#00ff4c"/><stop offset=".2883" stop-color="#00ff65"/><stop offset=".2983" stop-color="#00ff7b"/><stop offset=".3083" stop-color="#00ffae"/><stop offset=".315" stop-color="#00ffed"/><stop offset=".3183" stop-color="#00f1ff"/><stop offset=".3217" stop-color="#00dcff"/><stop offset=".325" stop-color="#00d4ff"/><stop offset=".3283" stop-color="#00d8ff"/><stop offset=".335" stop-color="#00f9f9"/><stop offset=".345" stop-color="#00ffad"/><stop offset=".3517" stop-color="#00ff89"/><stop offset=".3583" stop-color="#00ff76"/><stop offset=".3683" stop-color="#00ff6e"/><stop offset=".385" stop-color="#00ff75"/><stop offset=".4083" stop-color="#00ff92"/><stop offset=".4183" stop-color="#0fa"/><stop offset=".4317" stop-color="#00ffe0"/><stop offset=".4417" stop-color="#00ffeb"/><stop offset=".4483" stop-color="#00ffe7"/><stop offset=".465" stop-color="#00ffaf"/><stop offset=".4983" stop-color="#0f8"/><stop offset=".525" stop-color="#00ff74"/><stop offset=".5617" stop-color="#00ff68"/><stop offset=".7917" stop-color="#00ff62"/><stop offset=".9983" stop-color="#00ff76"/></linearGradient>
<linearGradient id="t45" x2="0" y2="1"><stop offset=".0017" stop-color="#ff8400"/><stop offset=".105" stop-color="#ff8700"/><stop offset=".1483" stop-color="#ff5000"/><stop offset=".165" stop-color="#ff4f00"/><stop offset=".175" stop-color="#ff5800"/><stop offset=".185" stop-color="#ff7100"/><stop offset=".205" stop-color="#fcee00"/><stop offset=".2117" stop-color="#e9ff00"/><stop offset=".2217" stop-color="#b0ff00"/><stop offset=".2317" stop-color="#64ff00"/><stop offset=".2383" stop-color="#1aff00"/><stop offset=".2417" stop-color="#03ff0d"/><stop offset=".2483" stop-color="#00ff32"/><stop offset=".2583" stop-color="#00ff4d"/><stop offset=".2883" stop-color="#00ff64"/><stop offset=".2983" stop-color="#00ff78"/><stop offset=".305" stop-color="#00ff92"/><stop offset=".3183" stop-color="#00ffe6"/><stop offset=".3217" stop-color="#00ffec"/><stop offset=".3317" stop-color="#00ffe0"/><stop offset=".3417" stop-color="#00ffa2"/><stop offset=".3517" stop-color="#00ff7b"/><stop offset=".3683" stop-color="#00ff65"/><stop offset=".4017" stop-color="#00ff7b"/><stop offset=".4283" stop-color="#00ffb0"/><stop offset=".4383" stop-color="#00ffb7"/><stop offset=".4517" stop-color="#00ffb4"/><stop offset=".4683" stop-color="#00ff90"/><stop offset=".505" stop-color="#00ff71"/><stop offset=".5717" stop-color="#00ff5c"/><stop offset=".795" stop-color="#00ff60"/><stop offset=".9983" stop-color="#00ff82"/></linearGradient>
<linearGradient id="t46" x2="0" y2="1"><stop offset=".0017" stop-color="#ff9200"/><stop offset=".105" stop-color="#ff8f00"/><stop offset=".145" stop-color="#ff5700"/><stop offset=".1583" stop-color="#ff5300"/><stop offset=".1683" stop-color="#ff5c00"/><stop offset=".1783" stop-color="#ff7500"/><stop offset=".185" stop-color="#f90"/><stop offset=".195" stop-color="#fdf300"/><stop offset=".1983" stop-color="#f1ff00"/><stop offset=".215" stop-color="#a8ff00"/><stop offset=".2217" stop-color="#79ff00"/><stop offset=".2317" stop-color="#11ff02"/><stop offset=".235" stop-color="#00ff10"/><stop offset=".2417" stop-color="#0f3"/><stop offset=".2517" stop-color="#00ff4c"/><stop offset=".2917" stop-color="#00ff69"/><stop offset=".3183" stop-color="#00ffac"/><stop offset=".3317" stop-color="#00ffa6"/><stop offset=".3483" stop-color="#00ff71"/><stop offset=".3683" stop-color="#00ff5f"/><stop offset=".3883" stop-color="#00ff67"/><stop offset=".435" stop-color="#00ff97"/><stop offset=".4517" stop-color="#00ff95"/><stop offset=".4717" stop-color="#00ff7c"/><stop offset=".5117" stop-color="#00ff64"/><stop offset=".5817" stop-color="#0f5"/><stop offset=".7983" stop-color="#00ff5c"/><stop offset=".9983" stop-color="#0f7"/></linearGradient>
<linearGradient id="t47" x2="0" y2="1"><stop offset=".0017" stop-color="#ff8b00"/><stop offset=".105" stop-color="#f80"/><stop offset=".145" stop-color="#ff5100"/><stop offset=".1583" stop-color="#ff4f00"/><stop offset=".1683" stop-color="#ff5d00"/><stop offset=".175" stop-color="#ff7600"/><stop offset=".1783" stop-color="#ff8d00"/><stop offset=".1883" stop-color="#fe0"/><stop offset=".1917" stop-color="#f9ff00"/><stop offset=".2117" stop-color="#9bff00"/><stop offset=".2183" stop-color="#6dff00"/><stop offset=".2283" stop-color="#02ff07"/><stop offset=".2317" stop-color="#00ff1e"/><stop offset=".2383" stop-color="#00ff37"/><stop offset=".2483" stop-color="#00ff48"/><stop offset=".2883" stop-color="#00ff5b"/><stop offset=".315" stop-color="#00ff7b"/><stop offset=".3317" stop-color="#00ff76"/><stop offset=".3483" stop-color="#00ff59"/><stop offset=".3617" stop-color="#00ff50"/><stop offset=".4383" stop-color="#00ff80"/><stop offset=".5117" stop-color="#00ff65"/><stop offset=".585" stop-color="#00ff5d"/><stop offset=".795" stop-color="#00ff5d"/><stop offset=".9983" stop-color="#00ff76"/></linearGradient>
<linearGradient id="t48" x2="0" y2="1"><stop offset=".0017" stop-color="#ff8400"/><stop offset=".105" stop-color="#ff8300"/><stop offset=".145" stop-color="#ff4d00"/><stop offset=".1583" stop-color="#ff4c00"/><stop offset=".1683" stop-color="#ff5b00"/><stop offset=".175" stop-color="#ff7a00"/><stop offset=".1783" stop-color="#ff9600"/><stop offset=".185" stop-color="#ffec00"/><stop offset=".1883" stop-color="#f9ff00"/><stop offset=".2083" stop-color="#9f0"/><stop offset=".215" stop-color="#6dff00"/><stop offset=".225" stop-color="#01ff02"/><stop offset=".2283" stop-color="#00ff1c"/><stop offset=".2383" stop-color="#00ff3f"/><stop offset=".255" stop-color="#00ff4f"/><stop offset=".315" stop-color="#00ff64"/><stop offset=".3617" stop-color="#00ff49"/><stop offset=".4383" stop-color="#00ff75"/><stop offset=".795" stop-color="#00ff5d"/><stop offset=".9983" stop-color="#00ff76"/></linearGradient>
<linearGradient id="t49" x2="0" y2="1"><stop offset=".0017" stop-color="#ff7f00"/><stop offset=".105" stop-color="#ff8000"/><stop offset=".145" stop-color="#ff4f00"/><stop offset=".1583" stop-color="#ff4e00"/><stop offset=".1683" stop-color="#ff5b00"/><stop offset=".175" stop-color="#ff7500"/><stop offset=".1783" stop-color="#ff8d00"/><stop offset=".1883" stop-color="#fdfd00"/><stop offset=".2117" stop-color="#7fff00"/><stop offset=".2183" stop-color="#51ff00"/><stop offset=".225" stop-color="#0fff00"/><stop offset=".2283" stop-color="#00ff10"/><stop offset=".2383" stop-color="#00ff3e"/><stop offset=".2583" stop-color="#00ff56"/><stop offset=".3083" stop-color="#00ff61"/><stop offset=".3583" stop-color="#00ff4c"/><stop offset=".435" stop-color="#0f7"/><stop offset=".795" stop-color="#00ff62"/><stop offset=".9983" stop-color="#00ff78"/></linearGradient>
<linearGradient id="t50" x2="0" y2="1"><stop offset=".0017" stop-color="#ff8200"/><stop offset=".105" stop-color="#ff8100"/><stop offset=".145" stop-color="#ff5300"/><stop offset=".1583" stop-color="#ff5000"/><stop offset=".1683" stop-color="#ff5c00"/><stop offset=".175" stop-color="#ff7000"/><stop offset=".1817" stop-color="#ffa200"/><stop offset=".1883" stop-color="#fff700"/><stop offset=".1917" stop-color="#f0ff00"/><stop offset=".215" stop-color="#76ff00"/><stop offset=".2217" stop-color="#4bff00"/><stop offset=".2283" stop-color="#13ff00"/><stop offset=".2317" stop-color="#00ff0b"/><stop offset=".2417" stop-color="#00ff3e"/><stop offset=".2617" stop-color="#00ff5b"/><stop offset=".305" stop-color="#00ff63"/><stop offset=".3517" stop-color="#00ff4e"/><stop offset=".3983" stop-color="#00ff70"/><stop offset=".4283" stop-color="#00ff7b"/><stop offset=".7917" stop-color="#00ff65"/><stop offset=".9983" stop-color="#00ff76"/></linearGradient>
<linearGradient id="t51" x2="0" y2="1"><stop offset=".0017" stop-color="#ff8b00"/><stop offset=".105" stop-color="#ff8700"/><stop offset=".145" stop-color="#ff5a00"/><stop offset=".1617" stop-color="#ff5800"/><stop offset=".1717" stop-color="#ff6700"/><stop offset=".1783" stop-color="#ff8400"/><stop offset=".1817" stop-color="#ffa000"/><stop offset=".1883" stop-color="#fff500"/><stop offset=".1917" stop-color="#f2ff00"/><stop offset=".2183" stop-color="#75ff00"/><stop offset=".2317" stop-color="#21ff00"/><stop offset=".235" stop-color="#09ff05"/><stop offset=".2383" stop-color="#00ff15"/><stop offset=".245" stop-color="#00ff36"/><stop offset=".2517" stop-color="#00ff48"/><stop offset=".2683" stop-color="#00ff59"/><stop offset=".3017" stop-color="#00ff5b"/><stop offset=".3483" stop-color="#00ff42"/><stop offset=".3983" stop-color="#00ff69"/><stop offset=".425" stop-color="#00ff71"/><stop offset=".795" stop-color="#00ff65"/><stop offset=".9983" stop-color="#00ff71"/></linearGradient>
<linearGradient id="t52" x2="0" y2="1"><stop offset=".0017" stop-color="#ff7f00"/><stop offset=".105" stop-color="#ff7d00"/><stop offset=".145" stop-color="#ff5200"/><stop offset=".1617" stop-color="#ff5200"/><stop offset=".1717" stop-color="#ff6100"/><stop offset=".1783" stop-color="#ff7e00"/><stop offset=".1817" stop-color="#f90"/><stop offset=".1883" stop-color="#ffeb00"/><stop offset=".1917" stop-color="#feff00"/><stop offset=".225" stop-color="#6fff00"/><stop offset=".2317" stop-color="#4cff00"/><stop offset=".2383" stop-color="#1bff00"/><stop offset=".2417" stop-color="#05ff05"/><stop offset=".245" stop-color="#00ff16"/><stop offset=".2517" stop-color="#0f3"/><stop offset=".2583" stop-color="#00ff42"/><stop offset=".2783" stop-color="#00ff50"/><stop offset=".3017" stop-color="#00ff4c"/><stop offset=".3483" stop-color="#00ff2f"/><stop offset=".3983" stop-color="#00ff59"/><stop offset=".4283" stop-color="#00ff61"/><stop offset=".9983" stop-color="#00ff6b"/></linearGradient>
<linearGradient id="t53" x2="0" y2="1"><stop offset=".0017" stop-color="#ff7e00"/><stop offset=".105" stop-color="#ff7f00"/><stop offset=".145" stop-color="#ff5900"/><stop offset=".1583" stop-color="#ff5900"/><stop offset=".1683" stop-color="#ff6500"/><stop offset=".175" stop-color="#ff7c00"/><stop offset=".1783" stop-color="#ff9100"/><stop offset=".1883" stop-color="#fff800"/><stop offset=".1917" stop-color="#f7ff00"/><stop offset=".225" stop-color="#7aff00"/><stop offset=".2383" stop-color="#38ff00"/><stop offset=".245" stop-color="#06ff00"/><stop offset=".2483" stop-color="#00ff15"/><stop offset=".2583" stop-color="#00ff43"/><stop offset=".275" stop-color="#00ff56"/><stop offset=".3017" stop-color="#00ff50"/><stop offset=".345" stop-color="#00ff2f"/><stop offset=".3583" stop-color="#00ff35"/><stop offset=".3983" stop-color="#00ff5d"/><stop offset=".4317" stop-color="#00ff67"/><stop offset=".9983" stop-color="#00ff6c"/></linearGradient>
<linearGradient id="t54" x2="0" y2="1"><stop offset=".0017" stop-color="#ff7f00"/><stop offset=".105" stop-color="#ff8700"/><stop offset=".145" stop-color="#ff6700"/><stop offset=".1583" stop-color="#ff6800"/><stop offset=".1683" stop-color="#ff7600"/><stop offset=".175" stop-color="#ff9000"/><stop offset=".1783" stop-color="#ffa800"/><stop offset=".185" stop-color="#fff100"/><stop offset=".1883" stop-color="#f8ff00"/><stop offset=".2183" stop-color="#8fff00"/><stop offset=".2317" stop-color="#5f0"/><stop offset=".2417" stop-color="#19ff00"/><stop offset=".245" stop-color="#05ff07"/><stop offset=".2483" stop-color="#00ff1d"/><stop offset=".2583" stop-color="#00ff50"/><stop offset=".2717" stop-color="#00ff62"/><stop offset=".2983" stop-color="#00ff56"/><stop offset=".335" stop-color="#00ff31"/><stop offset=".3483" stop-color="#00ff2d"/><stop offset=".395" stop-color="#00ff58"/><stop offset=".4183" stop-color="#00ff61"/><stop offset=".795" stop-color="#00ff65"/><stop offset=".9983" stop-color="#00ff73"/></linearGradient>
<linearGradient id="t55" x2="0" y2="1"><stop offset=".0017" stop-color="#ff8d00"/><stop offset=".105" stop-color="#ff9500"/><stop offset=".145" stop-color="#ff7900"/><stop offset=".1583" stop-color="#ff7a00"/><stop offset=".1683" stop-color="#ff8500"/><stop offset=".175" stop-color="#ff9800"/><stop offset=".1817" stop-color="#ffc000"/><stop offset=".1883" stop-color="#fef800"/><stop offset=".215" stop-color="#93ff00"/><stop offset=".2283" stop-color="#4dff00"/><stop offset=".235" stop-color="#20ff00"/><stop offset=".2383" stop-color="#09ff05"/><stop offset=".2417" stop-color="#00ff19"/><stop offset=".2517" stop-color="#00ff56"/><stop offset=".265" stop-color="#00ff70"/><stop offset=".3483" stop-color="#0f2"/><stop offset=".3917" stop-color="#00ff4a"/><stop offset=".4117" stop-color="#00ff52"/><stop offset=".6083" stop-color="#00ff52"/><stop offset=".795" stop-color="#00ff61"/><stop offset=".9983" stop-color="#00ff7e"/></linearGradient>
<linearGradient id="t56" x2="0" y2="1"><stop offset=".0017" stop-color="#ffa200"/><stop offset=".1017" stop-color="#ffa100"/><stop offset=".145" stop-color="#ff8300"/><stop offset=".1617" stop-color="#ff8100"/><stop offset=".1783" stop-color="#f90"/><stop offset=".185" stop-color="#ffb700"/><stop offset=".1917" stop-color="#ffef00"/><stop offset=".195" stop-color="#f6ff00"/><stop offset=".2183" stop-color="#7dff00"/><stop offset=".225" stop-color="#52ff00"/><stop offset=".2317" stop-color="#18ff00"/><stop offset=".235" stop-color="#00ff0c"/><stop offset=".2417" stop-color="#00ff43"/><stop offset=".2483" stop-color="#00ff67"/><stop offset=".255" stop-color="#00ff7d"/><stop offset=".2617" stop-color="#00ff85"/><stop offset=".3317" stop-color="#00ff27"/><stop offset=".3483" stop-color="#00ff1d"/><stop offset=".3917" stop-color="#00ff48"/><stop offset=".415" stop-color="#00ff52"/><stop offset=".5783" stop-color="#00ff4f"/><stop offset=".7317" stop-color="#00ff59"/><stop offset=".9983" stop-color="#00ff89"/></linearGradient>
<linearGradient id="t57" x2="0" y2="1"><stop offset=".0017" stop-color="#ffa700"/><stop offset=".095" stop-color="#ffa000"/><stop offset=".145" stop-color="#ff7f00"/><stop offset=".165" stop-color="#ff7d00"/><stop offset=".1783" stop-color="#ff8900"/><stop offset=".185" stop-color="#ff9d00"/><stop offset=".1883" stop-color="#ffb100"/><stop offset=".195" stop-color="#fff300"/><stop offset=".1983" stop-color="#ef0"/><stop offset=".2217" stop-color="#59ff00"/><stop offset=".2283" stop-color="#1bff00"/><stop offset=".2317" stop-color="#00ff0c"/><stop offset=".2383" stop-color="#00ff49"/><stop offset=".245" stop-color="#00ff74"/><stop offset=".2517" stop-color="#00ff90"/><stop offset=".2583" stop-color="#00ff9c"/><stop offset=".2683" stop-color="#00ff92"/><stop offset=".295" stop-color="#0f5"/><stop offset=".335" stop-color="#00ff20"/><stop offset=".3483" stop-color="#00ff19"/><stop offset=".395" stop-color="#00ff4b"/><stop offset=".4183" stop-color="#0f5"/><stop offset=".795" stop-color="#00ff57"/><stop offset=".9983" stop-color="#00ff84"/></linearGradient>
<linearGradient id="t58" x2="0" y2="1"><stop offset=".0017" stop-color="#ffad00"/><stop offset=".095" stop-color="#ffa300"/><stop offset=".1383" stop-color="#ff8500"/><stop offset=".1617" stop-color="#ff8200"/><stop offset=".1817" stop-color="#ff9600"/><stop offset=".1883" stop-color="#ffaf00"/><stop offset=".195" stop-color="#ffe700"/><stop offset=".1983" stop-color="#f5ff00"/><stop offset=".2217" stop-color="#28ff00"/><stop offset=".2283" stop-color="#00ff16"/><stop offset=".245" stop-color="#00ff8d"/><stop offset=".2517" stop-color="#0fa"/><stop offset=".2583" stop-color="#00ffb5"/><stop offset=".265" stop-color="#00ffac"/><stop offset=".2917" stop-color="#00ff5d"/><stop offset=".335" stop-color="#00ff1d"/><stop offset=".3483" stop-color="#00ff14"/><stop offset=".3617" stop-color="#00ff1c"/><stop offset=".395" stop-color="#00ff47"/><stop offset=".425" stop-color="#00ff53"/><stop offset=".595" stop-color="#00ff5c"/><stop offset=".7983" stop-color="#00ff58"/><stop offset=".9983" stop-color="#00ff73"/></linearGradient>
<linearGradient id="t59" x2="0" y2="1"><stop offset=".0017" stop-color="#ffb800"/><stop offset=".0917" stop-color="#ffaf00"/><stop offset=".135" stop-color="#ff9300"/><stop offset=".155" stop-color="#ff9100"/><stop offset=".175" stop-color="#ffa500"/><stop offset=".1817" stop-color="#ffb900"/><stop offset=".1917" stop-color="#fe0"/><stop offset=".195" stop-color="#f9fd00"/><stop offset=".2017" stop-color="#ceff00"/><stop offset=".2083" stop-color="#8bff00"/><stop offset=".2183" stop-color="#08ff04"/><stop offset=".2217" stop-color="#00ff19"/><stop offset=".245" stop-color="#00ff9e"/><stop offset=".2517" stop-color="#00ffb8"/><stop offset=".2583" stop-color="#00ffbf"/><stop offset=".265" stop-color="#00ffb4"/><stop offset=".2917" stop-color="#00ff62"/><stop offset=".335" stop-color="#00ff1c"/><stop offset=".3483" stop-color="#00ff12"/><stop offset=".3617" stop-color="#00ff19"/><stop offset=".395" stop-color="#0f4"/><stop offset=".425" stop-color="#00ff50"/><stop offset=".795" stop-color="#00ff5b"/><stop offset=".9983" stop-color="#00ff6d"/></linearGradient>
<linearGradient id="t60" x2="0" y2="1"><stop offset=".0017" stop-color="#ffc100"/><stop offset=".0883" stop-color="#ffb500"/><stop offset=".135" stop-color="#ff9600"/><stop offset=".1517" stop-color="#ff9400"/><stop offset=".1617" stop-color="#ff9d00"/><stop offset=".1717" stop-color="#ffb200"/><stop offset=".185" stop-color="#fef300"/><stop offset=".1883" stop-color="#f7fd00"/><stop offset=".195" stop-color="#df0"/><stop offset=".205" stop-color="#a0ff00"/><stop offset=".2117" stop-color="#57ff00"/><stop offset=".215" stop-color="#2f0"/><stop offset=".2183" stop-color="#00ff0d"/><stop offset=".225" stop-color="#00ff3d"/><stop offset=".2383" stop-color="#00ff7a"/><stop offset=".2483" stop-color="#00ffa1"/><stop offset=".255" stop-color="#00ffad"/><stop offset=".265" stop-color="#00ffa3"/><stop offset=".2883" stop-color="#00ff68"/><stop offset=".315" stop-color="#00ff45"/><stop offset=".3383" stop-color="#00ff18"/><stop offset=".3483" stop-color="#00ff10"/><stop offset=".3617" stop-color="#00ff17"/><stop offset=".3983" stop-color="#00ff46"/><stop offset=".4317" stop-color="#00ff53"/><stop offset=".835" stop-color="#00ff57"/><stop offset=".9983" stop-color="#00ff63"/></linearGradient>
<linearGradient id="t61" x2="0" y2="1"><stop offset=".0017" stop-color="#ffb800"/><stop offset=".0883" stop-color="#ffb200"/><stop offset=".1483" stop-color="#ff9a00"/><stop offset=".1617" stop-color="#ffae00"/><stop offset=".1783" stop-color="#fbfb00"/><stop offset=".195" stop-color="#c2ff00"/><stop offset=".205" stop-color="#8dff00"/><stop offset=".2117" stop-color="#53ff00"/><stop offset=".2183" stop-color="#00ff09"/><stop offset=".225" stop-color="#00ff3c"/><stop offset=".2317" stop-color="#00ff59"/><stop offset=".2483" stop-color="#0f8"/><stop offset=".2583" stop-color="#00ff91"/><stop offset=".3117" stop-color="#00ff60"/><stop offset=".3383" stop-color="#00ff21"/><stop offset=".3517" stop-color="#00ff16"/><stop offset=".3983" stop-color="#00ff4c"/><stop offset=".435" stop-color="#00ff5c"/><stop offset=".6517" stop-color="#00ff5f"/><stop offset=".8217" stop-color="#00ff54"/><stop offset=".9983" stop-color="#00ff6d"/></linearGradient>
<linearGradient id="t62" x2="0" y2="1"><stop offset=".0017" stop-color="#ffa300"/><stop offset=".085" stop-color="#ffa000"/><stop offset=".1483" stop-color="#ff9000"/><stop offset=".1617" stop-color="#ffa900"/><stop offset=".165" stop-color="#fb0"/><stop offset=".1717" stop-color="#fff500"/><stop offset=".175" stop-color="#f9ff00"/><stop offset=".1883" stop-color="#cfff00"/><stop offset=".2017" stop-color="#98ff00"/><stop offset=".2117" stop-color="#5f0"/><stop offset=".2183" stop-color="#0dff00"/><stop offset=".2217" stop-color="#00ff0e"/><stop offset=".2283" stop-color="#00ff30"/><stop offset=".2483" stop-color="#00ff5d"/><stop offset=".2683" stop-color="#00ff6c"/><stop offset=".2817" stop-color="#00ff86"/><stop offset=".2917" stop-color="#00ff8a"/><stop offset=".3117" stop-color="#00ff82"/><stop offset=".3383" stop-color="#00ff2c"/><stop offset=".3517" stop-color="#00ff1b"/><stop offset=".365" stop-color="#00ff23"/><stop offset=".3983" stop-color="#00ff4f"/><stop offset=".435" stop-color="#00ff61"/><stop offset=".5017" stop-color="#00ff56"/><stop offset=".795" stop-color="#00ff57"/><stop offset=".9983" stop-color="#00ff71"/></linearGradient>
<linearGradient id="t63" x2="0" y2="1"><stop offset=".0017" stop-color="#ffa600"/><stop offset=".0783" stop-color="#ffa200"/><stop offset=".1483" stop-color="#ff9300"/><stop offset=".1617" stop-color="#ffac00"/><stop offset=".165" stop-color="#ffbe00"/><stop offset=".1717" stop-color="#fff900"/><stop offset=".205" stop-color="#81ff00"/><stop offset=".225" stop-color="#12ff00"/><stop offset=".235" stop-color="#00ff10"/><stop offset=".2517" stop-color="#00ff2c"/><stop offset=".265" stop-color="#00ff35"/><stop offset=".2717" stop-color="#00ff2c"/><stop offset=".275" stop-color="#00ff42"/><stop offset=".2783" stop-color="#00ff74"/><stop offset=".285" stop-color="#00ffb5"/><stop offset=".2883" stop-color="#00ffc0"/><stop offset=".2983" stop-color="#00ffc5"/><stop offset=".3117" stop-color="#00ffbd"/><stop offset=".3283" stop-color="#00ff65"/><stop offset=".3383" stop-color="#00ff3a"/><stop offset=".345" stop-color="#00ff29"/><stop offset=".355" stop-color="#00ff21"/><stop offset=".3983" stop-color="#00ff53"/><stop offset=".435" stop-color="#00ff6a"/><stop offset=".4883" stop-color="#00ff58"/><stop offset=".5583" stop-color="#00ff56"/><stop offset=".795" stop-color="#00ff5d"/><stop offset=".9983" stop-color="#00ff6f"/></linearGradient>
<linearGradient id="t64" x2="0" y2="1"><stop offset=".0017" stop-color="#ffb500"/><stop offset=".145" stop-color="#ffab00"/><stop offset=".1583" stop-color="#ffbd00"/><stop offset=".165" stop-color="#fd0"/><stop offset=".1683" stop-color="#fff800"/><stop offset=".1717" stop-color="#f7ff00"/><stop offset=".225" stop-color="#36ff00"/><stop offset=".2483" stop-color="#16ff00"/><stop offset=".2717" stop-color="#1dff00"/><stop offset=".275" stop-color="#14ff00"/><stop offset=".2783" stop-color="#07ff09"/><stop offset=".2817" stop-color="#00ff45"/><stop offset=".285" stop-color="#00ffda"/><stop offset=".2883" stop-color="#00e6ff"/><stop offset=".2917" stop-color="#0df"/><stop offset=".305" stop-color="#00dcff"/><stop offset=".3117" stop-color="#00ebfe"/><stop offset=".3183" stop-color="#00ffdf"/><stop offset=".3283" stop-color="#00ff86"/><stop offset=".335" stop-color="#00ff5b"/><stop offset=".345" stop-color="#00ff36"/><stop offset=".355" stop-color="#00ff2b"/><stop offset=".405" stop-color="#00ff61"/><stop offset=".4383" stop-color="#0f7"/><stop offset=".4883" stop-color="#00ff5c"/><stop offset=".555" stop-color="#00ff57"/><stop offset=".795" stop-color="#00ff5c"/><stop offset=".9983" stop-color="#00ff6b"/></linearGradient>
<linearGradient id="t65" x2="0" y2="1"><stop offset=".0017" stop-color="#ffba00"/><stop offset=".1383" stop-color="#ffb100"/><stop offset=".155" stop-color="#ffc100"/><stop offset=".1617" stop-color="#ffd900"/><stop offset=".165" stop-color="#fff000"/><stop offset=".1683" stop-color="#f2ff00"/><stop offset=".2217" stop-color="#50ff00"/><stop offset=".245" stop-color="#36ff00"/><stop offset=".2683" stop-color="#2fff00"/><stop offset=".275" stop-color="#1fff00"/><stop offset=".2783" stop-color="#0cff00"/><stop offset=".2817" stop-color="#00ff3c"/><stop offset=".285" stop-color="#00ffe9"/><stop offset=".2883" stop-color="#00c4ff"/><stop offset=".2917" stop-color="#00aeff"/><stop offset=".295" stop-color="#00a5ff"/><stop offset=".3083" stop-color="#00a9ff"/><stop offset=".315" stop-color="#00d0ff"/><stop offset=".3183" stop-color="#00faff"/><stop offset=".3283" stop-color="#00ff91"/><stop offset=".335" stop-color="#00ff62"/><stop offset=".345" stop-color="#00ff3c"/><stop offset=".355" stop-color="#00ff30"/><stop offset=".4183" stop-color="#00ff74"/><stop offset=".4383" stop-color="#00ff80"/><stop offset=".485" stop-color="#00ff5e"/><stop offset=".525" stop-color="#00ff58"/><stop offset=".9983" stop-color="#00ff6a"/></linearGradient>
<linearGradient id="t66" x2="0" y2="1"><stop offset=".0017" stop-color="#ffaf00"/><stop offset=".135" stop-color="#ffa500"/><stop offset=".155" stop-color="#ffbc00"/><stop offset=".1617" stop-color="#ffd800"/><stop offset=".165" stop-color="#fff000"/><stop offset=".1683" stop-color="#f5ff00"/><stop offset=".2183" stop-color="#64ff00"/><stop offset=".2317" stop-color="#53ff00"/><stop offset=".265" stop-color="#3eff00"/><stop offset=".2717" stop-color="#2cff00"/><stop offset=".2783" stop-color="#0cff00"/><stop offset=".2817" stop-color="#00ff3b"/><stop offset=".285" stop-color="#00ffe8"/><stop offset=".2883" stop-color="#00c5ff"/><stop offset=".295" stop-color="#009eff"/><stop offset=".305" stop-color="#0095ff"/><stop offset=".3117" stop-color="#00aeff"/><stop offset=".315" stop-color="#00caff"/><stop offset=".3183" stop-color="#00f9ff"/><stop offset=".3283" stop-color="#00ff90"/><stop offset=".335" stop-color="#00ff62"/><stop offset=".345" stop-color="#00ff3e"/><stop offset=".355" stop-color="#00ff34"/><stop offset=".4383" stop-color="#00ff8c"/><stop offset=".4817" stop-color="#00ff68"/><stop offset=".505" stop-color="#00ff62"/><stop offset=".795" stop-color="#00ff60"/><stop offset=".9983" stop-color="#00ff6d"/></linearGradient>
<linearGradient id="t67" x2="0" y2="1"><stop offset=".0017" stop-color="#ffaf00"/><stop offset=".1317" stop-color="#ff9400"/><stop offset=".1417" stop-color="#ff9c00"/><stop offset=".1517" stop-color="#ffb000"/><stop offset=".1583" stop-color="#fc0"/><stop offset=".165" stop-color="#fff500"/><stop offset=".1683" stop-color="#f9ff00"/><stop offset=".195" stop-color="#a1ff00"/><stop offset=".2183" stop-color="#61ff00"/><stop offset=".2417" stop-color="#4bff00"/><stop offset=".2617" stop-color="#50ff00"/><stop offset=".2783" stop-color="#18ff00"/><stop offset=".2817" stop-color="#00ff23"/><stop offset=".285" stop-color="#00ffb2"/><stop offset=".2883" stop-color="#00f0fa"/><stop offset=".2917" stop-color="#00d1ff"/><stop offset=".2983" stop-color="#00b0ff"/><stop offset=".305" stop-color="#0af"/><stop offset=".3117" stop-color="#00c1ff"/><stop offset=".315" stop-color="#00d9ff"/><stop offset=".3183" stop-color="#00fffb"/><stop offset=".325" stop-color="#00ffab"/><stop offset=".335" stop-color="#00ff60"/><stop offset=".345" stop-color="#00ff3d"/><stop offset=".355" stop-color="#00ff34"/><stop offset=".4383" stop-color="#00ff91"/><stop offset=".4817" stop-color="#00ff6a"/><stop offset=".505" stop-color="#00ff64"/><stop offset=".795" stop-color="#00ff65"/><stop offset=".9983" stop-color="#00ff75"/></linearGradient>
<linearGradient id="t68" x2="0" y2="1"><stop offset=".0017" stop-color="#ffbd00"/><stop offset=".0617" stop-color="#ffb700"/><stop offset=".125" stop-color="#ffa400"/><stop offset=".1417" stop-color="#ffb500"/><stop offset=".1483" stop-color="#ffca00"/><stop offset=".155" stop-color="#ffed00"/><stop offset=".1617" stop-color="#f5ff00"/><stop offset=".2217" stop-color="#3dff00"/><stop offset=".2417" stop-color="#30ff00"/><stop offset=".265" stop-color="#47ff00"/><stop offset=".275" stop-color="#2cff00"/><stop offset=".2817" stop-color="#0bff00"/><stop offset=".285" stop-color="#00ff34"/><stop offset=".2883" stop-color="#00ffab"/><stop offset=".2917" stop-color="#00ffec"/><stop offset=".2983" stop-color="#00e2ff"/><stop offset=".305" stop-color="#00d8ff"/><stop offset=".3117" stop-color="#00f1fa"/><stop offset=".315" stop-color="#00ffec"/><stop offset=".3283" stop-color="#00ff81"/><stop offset=".335" stop-color="#00ff5b"/><stop offset=".345" stop-color="#00ff3b"/><stop offset=".355" stop-color="#00ff31"/><stop offset=".4383" stop-color="#00ff87"/><stop offset=".4817" stop-color="#00ff5e"/><stop offset=".5183" stop-color="#00ff57"/><stop offset=".9983" stop-color="#00ff85"/></linearGradient>
<linearGradient id="t69" x2="0" y2="1"><stop offset=".0017" stop-color="#ffd300"/><stop offset=".0617" stop-color="#ffcf00"/><stop offset=".115" stop-color="#fb0"/><stop offset=".135" stop-color="#fc0"/><stop offset=".145" stop-color="#fff100"/><stop offset=".1517" stop-color="#f1ff00"/><stop offset=".175" stop-color="#b6ff00"/><stop offset=".2217" stop-color="#0eff01"/><stop offset=".2283" stop-color="#08ff09"/><stop offset=".2417" stop-color="#0aff03"/><stop offset=".2517" stop-color="#27ff00"/><stop offset=".265" stop-color="#3eff00"/><stop offset=".2717" stop-color="#38ff00"/><stop offset=".2817" stop-color="#17ff00"/><stop offset=".285" stop-color="#00ff10"/><stop offset=".2883" stop-color="#00ff6a"/><stop offset=".2917" stop-color="#00ffa4"/><stop offset=".2983" stop-color="#00ffca"/><stop offset=".305" stop-color="#00ffd7"/><stop offset=".3083" stop-color="#00ffd3"/><stop offset=".325" stop-color="#00ff7b"/><stop offset=".335" stop-color="#00ff50"/><stop offset=".345" stop-color="#00ff37"/><stop offset=".355" stop-color="#00ff2f"/><stop offset=".4383" stop-color="#00ff81"/><stop offset=".4817" stop-color="#00ff5e"/><stop offset=".5117" stop-color="#00ff59"/><stop offset=".7917" stop-color="#00ff65"/><stop offset=".9983" stop-color="#00ff80"/></linearGradient>
<linearGradient id="t70" x2="0" y2="1"><stop offset=".0017" stop-color="#ffd900"/><stop offset=".0617" stop-color="#ffd200"/><stop offset=".115" stop-color="#fb0"/><stop offset=".1283" stop-color="#ffc700"/><stop offset=".135" stop-color="#ffda00"/><stop offset=".1417" stop-color="#fdfb00"/><stop offset=".1817" stop-color="#92ff00"/><stop offset=".195" stop-color="#5eff00"/><stop offset=".2083" stop-color="#1aff00"/><stop offset=".215" stop-color="#02ff0c"/><stop offset=".2183" stop-color="#00ff1b"/><stop offset=".225" stop-color="#00ff35"/><stop offset=".235" stop-color="#00ff3e"/><stop offset=".2383" stop-color="#00ff3a"/><stop offset=".245" stop-color="#00ff18"/><stop offset=".2517" stop-color="#0cff00"/><stop offset=".2583" stop-color="#24ff00"/><stop offset=".2683" stop-color="#38ff00"/><stop offset=".275" stop-color="#32ff00"/><stop offset=".285" stop-color="#0dff00"/><stop offset=".2883" stop-color="#00ff1b"/><stop offset=".2917" stop-color="#00ff5d"/><stop offset=".295" stop-color="#00ff7f"/><stop offset=".305" stop-color="#0f9"/><stop offset=".3117" stop-color="#00ff92"/><stop offset=".3383" stop-color="#00ff41"/><stop offset=".355" stop-color="#00ff31"/><stop offset=".4383" stop-color="#00ff7d"/><stop offset=".4817" stop-color="#00ff61"/><stop offset=".5083" stop-color="#00ff5d"/><stop offset=".735" stop-color="#00ff61"/><stop offset=".9983" stop-color="#00ff7f"/></linearGradient>
<linearGradient id="t71" x2="0" y2="1"><stop offset=".0017" stop-color="#ffcd00"/><stop offset=".0617" stop-color="#ffc900"/><stop offset=".115" stop-color="#ffb300"/><stop offset=".1283" stop-color="#ffc300"/><stop offset=".135" stop-color="#ffdf00"/><stop offset=".1383" stop-color="#fff900"/><stop offset=".1817" stop-color="#83ff00"/><stop offset=".195" stop-color="#4bff00"/><stop offset=".205" stop-color="#07ff03"/><stop offset=".2083" stop-color="#00ff18"/><stop offset=".215" stop-color="#00ff39"/><stop offset=".2217" stop-color="#00ff4e"/><stop offset=".235" stop-color="#00ff63"/><stop offset=".245" stop-color="#00ff4b"/><stop offset=".255" stop-color="#02ff07"/><stop offset=".2583" stop-color="#10ff00"/><stop offset=".2717" stop-color="#3f0"/><stop offset=".2783" stop-color="#2bff00"/><stop offset=".285" stop-color="#15ff00"/><stop offset=".2883" stop-color="#00ff05"/><stop offset=".2917" stop-color="#00ff38"/><stop offset=".295" stop-color="#00ff56"/><stop offset=".3017" stop-color="#00ff6f"/><stop offset=".3083" stop-color="#00ff75"/><stop offset=".3383" stop-color="#00ff3b"/><stop offset=".355" stop-color="#00ff31"/><stop offset=".4383" stop-color="#00ff70"/><stop offset=".4817" stop-color="#00ff5b"/><stop offset=".5117" stop-color="#00ff59"/><stop offset=".795" stop-color="#00ff6d"/><stop offset=".9983" stop-color="#00ff93"/></linearGradient>
<linearGradient id="t72" x2="0" y2="1"><stop offset=".0017" stop-color="#ffd100"/><stop offset=".0617" stop-color="#ffd000"/><stop offset=".115" stop-color="#ffba00"/><stop offset=".1283" stop-color="#ffcb00"/><stop offset=".1383" stop-color="#fbff00"/><stop offset=".1783" stop-color="#83ff00"/><stop offset=".1917" stop-color="#49ff00"/><stop offset=".2017" stop-color="#04ff04"/><stop offset=".205" stop-color="#00ff1f"/><stop offset=".2083" stop-color="#00ff37"/><stop offset=".215" stop-color="#0f5"/><stop offset=".235" stop-color="#00ff7e"/><stop offset=".2417" stop-color="#00ff7a"/><stop offset=".2483" stop-color="#00ff63"/><stop offset=".2583" stop-color="#00ff13"/><stop offset=".2617" stop-color="#06ff01"/><stop offset=".2717" stop-color="#21ff00"/><stop offset=".2783" stop-color="#21ff00"/><stop offset=".285" stop-color="#14ff00"/><stop offset=".2883" stop-color="#00ff01"/><stop offset=".295" stop-color="#0f4"/><stop offset=".2983" stop-color="#00ff54"/><stop offset=".3083" stop-color="#00ff65"/><stop offset=".3383" stop-color="#00ff3e"/><stop offset=".3517" stop-color="#00ff37"/><stop offset=".3983" stop-color="#00ff5b"/><stop offset=".435" stop-color="#00ff6c"/><stop offset=".4883" stop-color="#00ff5a"/><stop offset=".5417" stop-color="#00ff5b"/><stop offset=".7983" stop-color="#00ff6f"/><stop offset=".9983" stop-color="#00ff92"/></linearGradient>
<linearGradient id="t73" x2="0" y2="1"><stop offset=".0017" stop-color="#ffb700"/><stop offset=".0617" stop-color="#ffb700"/><stop offset=".0983" stop-color="#ffa000"/><stop offset=".115" stop-color="#ff9f00"/><stop offset=".125" stop-color="#ffa900"/><stop offset=".1317" stop-color="#fb0"/><stop offset=".1417" stop-color="#fef900"/><stop offset=".1683" stop-color="#b6ff00"/><stop offset=".1817" stop-color="#85ff00"/><stop offset=".1917" stop-color="#51ff00"/><stop offset=".1983" stop-color="#1dff00"/><stop offset=".2017" stop-color="#00ff09"/><stop offset=".2083" stop-color="#00ff3d"/><stop offset=".215" stop-color="#00ff59"/><stop offset=".2283" stop-color="#00ff80"/><stop offset=".2383" stop-color="#00ff8f"/><stop offset=".2483" stop-color="#00ff7e"/><stop offset=".255" stop-color="#00ff58"/><stop offset=".2617" stop-color="#00ff1c"/><stop offset=".265" stop-color="#02ff07"/><stop offset=".2717" stop-color="#09ff00"/><stop offset=".2817" stop-color="#0dff00"/><stop offset=".2883" stop-color="#00ff02"/><stop offset=".295" stop-color="#00ff38"/><stop offset=".2983" stop-color="#00ff48"/><stop offset=".3083" stop-color="#00ff5a"/><stop offset=".3517" stop-color="#00ff39"/><stop offset=".395" stop-color="#00ff58"/><stop offset=".4283" stop-color="#00ff64"/><stop offset=".4917" stop-color="#00ff56"/><stop offset=".555" stop-color="#00ff57"/><stop offset=".9983" stop-color="#00ff89"/></linearGradient>
<linearGradient id="t74" x2="0" y2="1"><stop offset=".0017" stop-color="#ffa200"/><stop offset=".0617" stop-color="#ffa100"/><stop offset=".1017" stop-color="#ff8200"/><stop offset=".1183" stop-color="#ff8200"/><stop offset=".1283" stop-color="#ff8d00"/><stop offset=".135" stop-color="#ffa100"/><stop offset=".1483" stop-color="#fef700"/><stop offset=".1517" stop-color="#fafd00"/><stop offset=".1683" stop-color="#d0ff00"/><stop offset=".1817" stop-color="#9aff00"/><stop offset=".195" stop-color="#4cff00"/><stop offset=".2017" stop-color="#04ff00"/><stop offset=".205" stop-color="#00ff1c"/><stop offset=".2117" stop-color="#00ff42"/><stop offset=".2283" stop-color="#00ff7e"/><stop offset=".2417" stop-color="#00ff98"/><stop offset=".2517" stop-color="#00ff82"/><stop offset=".265" stop-color="#00ff39"/><stop offset=".2783" stop-color="#00ff1d"/><stop offset=".285" stop-color="#00ff18"/><stop offset=".2917" stop-color="#00ff20"/><stop offset=".3017" stop-color="#00ff41"/><stop offset=".3083" stop-color="#00ff48"/><stop offset=".3517" stop-color="#00ff2f"/><stop offset=".395" stop-color="#00ff4d"/><stop offset=".425" stop-color="#00ff56"/><stop offset=".5117" stop-color="#00ff51"/><stop offset=".745" stop-color="#00ff6e"/><stop offset=".9983" stop-color="#00ff7c"/></linearGradient>
<linearGradient id="t75" x2="0" y2="1"><stop offset=".0017" stop-color="#ffb000"/><stop offset=".0617" stop-color="#ffac00"/><stop offset=".105" stop-color="#ff8200"/><stop offset=".1217" stop-color="#ff8100"/><stop offset=".1383" stop-color="#ff9a00"/><stop offset=".1483" stop-color="#ffc500"/><stop offset=".1517" stop-color="#ffde00"/><stop offset=".1583" stop-color="#fefd00"/><stop offset=".1717" stop-color="#d0ff00"/><stop offset=".185" stop-color="#91ff00"/><stop offset=".195" stop-color="#52ff00"/><stop offset=".2017" stop-color="#0bff00"/><stop offset=".205" stop-color="#00ff15"/><stop offset=".2117" stop-color="#00ff3c"/><stop offset=".2317" stop-color="#00ff90"/><stop offset=".2417" stop-color="#00ffa9"/><stop offset=".2483" stop-color="#00ffa4"/><stop offset=".2683" stop-color="#00ff5e"/><stop offset=".285" stop-color="#00ff3d"/><stop offset=".2917" stop-color="#00ff38"/><stop offset=".3117" stop-color="#00ff43"/><stop offset=".345" stop-color="#00ff30"/><stop offset=".395" stop-color="#00ff50"/><stop offset=".425" stop-color="#00ff58"/><stop offset=".5683" stop-color="#00ff59"/><stop offset=".9983" stop-color="#00ff82"/></linearGradient>
<linearGradient id="t76" x2="0" y2="1"><stop offset=".0017" stop-color="#ffb400"/><stop offset=".065" stop-color="#ffaf00"/><stop offset=".105" stop-color="#ff8400"/><stop offset=".125" stop-color="#ff8000"/><stop offset=".1383" stop-color="#ff8b00"/><stop offset=".1483" stop-color="#ffa300"/><stop offset=".155" stop-color="#ffca00"/><stop offset=".1583" stop-color="#fff100"/><stop offset=".1617" stop-color="#fcff00"/><stop offset=".1783" stop-color="#b5ff00"/><stop offset=".1917" stop-color="#6fff00"/><stop offset=".1983" stop-color="#40ff00"/><stop offset=".205" stop-color="#01ff05"/><stop offset=".2117" stop-color="#00ff36"/><stop offset=".2317" stop-color="#00ff9c"/><stop offset=".2383" stop-color="#00ffb7"/><stop offset=".245" stop-color="#00ffc0"/><stop offset=".2517" stop-color="#00ffb8"/><stop offset=".275" stop-color="#00ff6e"/><stop offset=".2883" stop-color="#00ff53"/><stop offset=".345" stop-color="#00ff3a"/><stop offset=".4183" stop-color="#00ff60"/><stop offset=".7683" stop-color="#00ff63"/><stop offset=".9983" stop-color="#00ff8f"/></linearGradient>
<linearGradient id="t77" x2="0" y2="1"><stop offset=".0017" stop-color="#ff9e00"/><stop offset=".0683" stop-color="#ff9e00"/><stop offset=".1083" stop-color="#ff7d00"/><stop offset=".1317" stop-color="#ff7e00"/><stop offset=".1417" stop-color="#f80"/><stop offset=".1483" stop-color="#ff9b00"/><stop offset=".155" stop-color="#ffc800"/><stop offset=".1583" stop-color="#fff100"/><stop offset=".1617" stop-color="#fbff00"/><stop offset=".1917" stop-color="#76ff00"/><stop offset=".1983" stop-color="#4eff00"/><stop offset=".205" stop-color="#1f0"/><stop offset=".2083" stop-color="#00ff15"/><stop offset=".215" stop-color="#00ff48"/><stop offset=".2317" stop-color="#00ffab"/><stop offset=".2383" stop-color="#00ffc9"/><stop offset=".245" stop-color="#00ffd7"/><stop offset=".255" stop-color="#0fc"/><stop offset=".2783" stop-color="#00ff7e"/><stop offset=".2883" stop-color="#00ff67"/><stop offset=".345" stop-color="#00ff40"/><stop offset=".415" stop-color="#00ff60"/><stop offset=".7517" stop-color="#00ff60"/><stop offset=".9983" stop-color="#0f8"/></linearGradient>
<linearGradient id="t78" x2="0" y2="1"><stop offset=".0017" stop-color="#ff8a00"/><stop offset=".0717" stop-color="#ff8d00"/><stop offset=".1117" stop-color="#ff7100"/><stop offset=".1317" stop-color="#ff7200"/><stop offset=".1417" stop-color="#ff7e00"/><stop offset=".1483" stop-color="#ff9200"/><stop offset=".155" stop-color="#ffc000"/><stop offset=".1583" stop-color="#ffed00"/><stop offset=".1617" stop-color="#fffe00"/><stop offset=".1783" stop-color="#beff00"/><stop offset=".1917" stop-color="#7fff00"/><stop offset=".2017" stop-color="#40ff00"/><stop offset=".205" stop-color="#1eff00"/><stop offset=".2083" stop-color="#00ff0e"/><stop offset=".215" stop-color="#00ff4a"/><stop offset=".2317" stop-color="#00ffb3"/><stop offset=".2417" stop-color="#00ffde"/><stop offset=".2483" stop-color="#00ffe6"/><stop offset=".2617" stop-color="#00ffcf"/><stop offset=".2817" stop-color="#00ff86"/><stop offset=".2917" stop-color="#00ff6f"/><stop offset=".315" stop-color="#00ff56"/><stop offset=".3417" stop-color="#00ff47"/><stop offset=".415" stop-color="#00ff64"/><stop offset=".7583" stop-color="#00ff69"/><stop offset=".9983" stop-color="#00ff7e"/></linearGradient>
<linearGradient id="t79" x2="0" y2="1"><stop offset=".0017" stop-color="#ff9400"/><stop offset=".0783" stop-color="#ff9000"/><stop offset=".1183" stop-color="#ff7200"/><stop offset=".135" stop-color="#ff7400"/><stop offset=".1483" stop-color="#ff8e00"/><stop offset=".155" stop-color="#fb0"/><stop offset=".1583" stop-color="#ffeb00"/><stop offset=".1617" stop-color="#fffc00"/><stop offset=".1783" stop-color="#c1ff00"/><stop offset=".1917" stop-color="#81ff00"/><stop offset=".1983" stop-color="#59ff00"/><stop offset=".205" stop-color="#1cff00"/><stop offset=".2083" stop-color="#0f1"/><stop offset=".215" stop-color="#00ff4b"/><stop offset=".235" stop-color="#00ffc6"/><stop offset=".245" stop-color="#00ffe9"/><stop offset=".2517" stop-color="#00fff1"/><stop offset=".265" stop-color="#00ffdf"/><stop offset=".2817" stop-color="#00ff93"/><stop offset=".295" stop-color="#00ff6d"/><stop offset=".315" stop-color="#0f5"/><stop offset=".3383" stop-color="#00ff49"/><stop offset=".415" stop-color="#00ff65"/><stop offset=".675" stop-color="#00ff60"/><stop offset=".9983" stop-color="#00ff86"/></linearGradient>
<linearGradient id="t80" x2="0" y2="1"><stop offset=".0017" stop-color="#ff9b00"/><stop offset=".0883" stop-color="#ff9600"/><stop offset=".1183" stop-color="#ff8000"/><stop offset=".135" stop-color="#ff8000"/><stop offset=".1483" stop-color="#f90"/><stop offset=".155" stop-color="#ffc500"/><stop offset=".1583" stop-color="#ffef00"/><stop offset=".1617" stop-color="#feff00"/><stop offset=".1783" stop-color="#beff00"/><stop offset=".1917" stop-color="#7fff00"/><stop offset=".1983" stop-color="#58ff00"/><stop offset=".205" stop-color="#18ff00"/><stop offset=".2083" stop-color="#00ff15"/><stop offset=".215" stop-color="#00ff4e"/><stop offset=".2317" stop-color="#0fb"/><stop offset=".2417" stop-color="#00ffed"/><stop offset=".2483" stop-color="#00f0ff"/><stop offset=".255" stop-color="#00e6ff"/><stop offset=".2683" stop-color="#00fef4"/><stop offset=".285" stop-color="#00ff95"/><stop offset=".3017" stop-color="#00ff61"/><stop offset=".3183" stop-color="#00ff4c"/><stop offset=".3383" stop-color="#00ff43"/><stop offset=".4117" stop-color="#00ff57"/><stop offset=".5883" stop-color="#00ff4d"/><stop offset=".715" stop-color="#00ff52"/><stop offset=".9983" stop-color="#00ff80"/></linearGradient>
<linearGradient id="t81" x2="0" y2="1"><stop offset=".0017" stop-color="#ff8200"/><stop offset=".135" stop-color="#ff8700"/><stop offset=".1483" stop-color="#ffa300"/><stop offset=".155" stop-color="#ffd100"/><stop offset=".1583" stop-color="#fff500"/><stop offset=".1617" stop-color="#f8ff00"/><stop offset=".1883" stop-color="#8aff00"/><stop offset=".1983" stop-color="#52ff00"/><stop offset=".205" stop-color="#15ff00"/><stop offset=".2083" stop-color="#00ff19"/><stop offset=".215" stop-color="#00ff54"/><stop offset=".2317" stop-color="#00ffc2"/><stop offset=".2417" stop-color="#00fffe"/><stop offset=".245" stop-color="#00e6ff"/><stop offset=".2517" stop-color="#00beff"/><stop offset=".2583" stop-color="#00b4ff"/><stop offset=".265" stop-color="#00c0ff"/><stop offset=".275" stop-color="#00f3fb"/><stop offset=".2783" stop-color="#00ffec"/><stop offset=".2883" stop-color="#00ffa2"/><stop offset=".295" stop-color="#00ff82"/><stop offset=".3017" stop-color="#00ff6f"/><stop offset=".3183" stop-color="#00ff57"/><stop offset=".3417" stop-color="#00ff4e"/><stop offset=".405" stop-color="#00ff58"/><stop offset=".5883" stop-color="#00ff4a"/><stop offset=".7383" stop-color="#00ff4c"/><stop offset=".9983" stop-color="#00ff84"/></linearGradient>
<linearGradient id="t82" x2="0" y2="1"><stop offset=".0017" stop-color="#ff7f00"/><stop offset=".1317" stop-color="#ff8d00"/><stop offset=".1417" stop-color="#ff9800"/><stop offset=".1483" stop-color="#ffad00"/><stop offset=".1517" stop-color="#ffbf00"/><stop offset=".1583" stop-color="#fff900"/><stop offset=".1883" stop-color="#8dff00"/><stop offset=".1983" stop-color="#57ff00"/><stop offset=".205" stop-color="#1eff00"/><stop offset=".2083" stop-color="#0f1"/><stop offset=".2117" stop-color="#00ff36"/><stop offset=".2183" stop-color="#00ff69"/><stop offset=".2417" stop-color="#00fff2"/><stop offset=".245" stop-color="#00f5ff"/><stop offset=".2517" stop-color="#00c1ff"/><stop offset=".2583" stop-color="#00aeff"/><stop offset=".2717" stop-color="#00c4ff"/><stop offset=".275" stop-color="#00daff"/><stop offset=".2783" stop-color="#00fefe"/><stop offset=".2883" stop-color="#00ffa7"/><stop offset=".2983" stop-color="#00ff7c"/><stop offset=".3117" stop-color="#00ff63"/><stop offset=".3417" stop-color="#00ff57"/><stop offset=".7883" stop-color="#00ff5b"/><stop offset=".9983" stop-color="#00ff84"/></linearGradient>
<linearGradient id="t83" x2="0" y2="1"><stop offset=".0017" stop-color="#ff7d00"/><stop offset=".135" stop-color="#ff8d00"/><stop offset=".1483" stop-color="#ffa600"/><stop offset=".155" stop-color="#ffc900"/><stop offset=".1617" stop-color="#fefa00"/><stop offset=".1783" stop-color="#c7ff00"/><stop offset=".1917" stop-color="#8cff00"/><stop offset=".2017" stop-color="#4fff00"/><stop offset=".205" stop-color="#32ff00"/><stop offset=".2083" stop-color="#09ff00"/><stop offset=".215" stop-color="#00ff48"/><stop offset=".2183" stop-color="#00ff60"/><stop offset=".2417" stop-color="#00fff6"/><stop offset=".245" stop-color="#00f0ff"/><stop offset=".2517" stop-color="#0cf"/><stop offset=".275" stop-color="#00f6f9"/><stop offset=".2783" stop-color="#00ffed"/><stop offset=".2883" stop-color="#00ff9d"/><stop offset=".2983" stop-color="#00ff73"/><stop offset=".3083" stop-color="#00ff64"/><stop offset=".3383" stop-color="#00ff5a"/><stop offset=".7917" stop-color="#00ff5b"/><stop offset=".9983" stop-color="#00ff75"/></linearGradient>
<linearGradient id="t84" x2="0" y2="1"><stop offset=".0017" stop-color="#ff8900"/><stop offset=".1383" stop-color="#ff9a00"/><stop offset=".1517" stop-color="#ffb000"/><stop offset=".1583" stop-color="#ffce00"/><stop offset=".165" stop-color="#fffb00"/><stop offset=".1817" stop-color="#c2ff00"/><stop offset=".195" stop-color="#82ff00"/><stop offset=".2017" stop-color="#57ff00"/><stop offset=".205" stop-color="#3bff00"/><stop offset=".2083" stop-color="#13ff00"/><stop offset=".2117" stop-color="#0f2"/><stop offset=".2183" stop-color="#00ff5d"/><stop offset=".2417" stop-color="#00ffef"/><stop offset=".2483" stop-color="#00f0ff"/><stop offset=".2517" stop-color="#0ef"/><stop offset=".2583" stop-color="#00ffef"/><stop offset=".265" stop-color="#00ffd6"/><stop offset=".2783" stop-color="#00ffbf"/><stop offset=".2917" stop-color="#00ff85"/><stop offset=".2983" stop-color="#00ff74"/><stop offset=".3483" stop-color="#00ff64"/><stop offset=".535" stop-color="#00ff53"/><stop offset=".9983" stop-color="#00ff6b"/></linearGradient>
<linearGradient id="t85" x2="0" y2="1"><stop offset=".0017" stop-color="#ff8f00"/><stop offset=".1417" stop-color="#ff9e00"/><stop offset=".1517" stop-color="#ffa900"/><stop offset=".1583" stop-color="#fb0"/><stop offset=".1683" stop-color="#fff500"/><stop offset=".1717" stop-color="#f6ff00"/><stop offset=".195" stop-color="#8bff00"/><stop offset=".205" stop-color="#46ff00"/><stop offset=".2083" stop-color="#1eff00"/><stop offset=".2117" stop-color="#00ff1d"/><stop offset=".215" stop-color="#00ff46"/><stop offset=".225" stop-color="#00ff82"/><stop offset=".2417" stop-color="#00ffc8"/><stop offset=".2517" stop-color="#00ffdb"/><stop offset=".265" stop-color="#00ffb2"/><stop offset=".2917" stop-color="#00ff86"/><stop offset=".375" stop-color="#00ff72"/><stop offset=".4083" stop-color="#00ff5f"/><stop offset=".455" stop-color="#00ff68"/><stop offset=".5117" stop-color="#00ff58"/><stop offset=".6617" stop-color="#00ff59"/><stop offset=".9983" stop-color="#00ff7a"/></linearGradient>
<linearGradient id="t86" x2="0" y2="1"><stop offset=".0017" stop-color="#ffa700"/><stop offset=".145" stop-color="#ff9e00"/><stop offset=".1617" stop-color="#ffb500"/><stop offset=".1717" stop-color="#fff000"/><stop offset=".175" stop-color="#f9ff00"/><stop offset=".2017" stop-color="#6aff00"/><stop offset=".2083" stop-color="#3aff00"/><stop offset=".2117" stop-color="#0bff00"/><stop offset=".215" stop-color="#00ff3b"/><stop offset=".2183" stop-color="#0f6"/><stop offset=".225" stop-color="#00ff92"/><stop offset=".2417" stop-color="#00ffd2"/><stop offset=".2483" stop-color="#00ffda"/><stop offset=".2717" stop-color="#00ffc5"/><stop offset=".2883" stop-color="#00ff9c"/><stop offset=".325" stop-color="#00ffa3"/><stop offset=".3717" stop-color="#00ff87"/><stop offset=".395" stop-color="#0f6"/><stop offset=".4083" stop-color="#00ff5d"/><stop offset=".455" stop-color="#00ff6f"/><stop offset=".5117" stop-color="#00ff5a"/><stop offset=".7917" stop-color="#00ff60"/><stop offset=".9983" stop-color="#00ff82"/></linearGradient>
<linearGradient id="t87" x2="0" y2="1"><stop offset=".0017" stop-color="#ffb800"/><stop offset=".145" stop-color="#ffac00"/><stop offset=".1583" stop-color="#ffc000"/><stop offset=".1717" stop-color="#fef900"/><stop offset=".185" stop-color="#bdff00"/><stop offset=".205" stop-color="#2dff00"/><stop offset=".2083" stop-color="#13ff04"/><stop offset=".2117" stop-color="#00ff21"/><stop offset=".215" stop-color="#00ff5b"/><stop offset=".2183" stop-color="#00ff85"/><stop offset=".2283" stop-color="#00ffdc"/><stop offset=".2317" stop-color="#00feed"/><stop offset=".2417" stop-color="#00e2ff"/><stop offset=".2517" stop-color="#00d5ff"/><stop offset=".2717" stop-color="#00ebfd"/><stop offset=".2783" stop-color="#00fcef"/><stop offset=".2883" stop-color="#00ffd8"/><stop offset=".315" stop-color="#00f9ec"/><stop offset=".3383" stop-color="#00ffe0"/><stop offset=".3717" stop-color="#00ffb6"/><stop offset=".3917" stop-color="#00ff75"/><stop offset=".4083" stop-color="#00ff61"/><stop offset=".455" stop-color="#0f7"/><stop offset=".495" stop-color="#00ff5e"/><stop offset=".5183" stop-color="#00ff5a"/><stop offset=".7983" stop-color="#00ff59"/><stop offset=".9983" stop-color="#00ff71"/></linearGradient>
<linearGradient id="t88" x2="0" y2="1"><stop offset=".0017" stop-color="#ffcf00"/><stop offset=".1283" stop-color="#ffb900"/><stop offset=".1483" stop-color="#ffc300"/><stop offset=".1617" stop-color="#fff200"/><stop offset=".1683" stop-color="#f4ff00"/><stop offset=".1817" stop-color="#bcff00"/><stop offset=".1917" stop-color="#7dff00"/><stop offset=".1983" stop-color="#3cff00"/><stop offset=".2017" stop-color="#0dff05"/><stop offset=".205" stop-color="#00ff27"/><stop offset=".2183" stop-color="#00ff9d"/><stop offset=".225" stop-color="#00ffe8"/><stop offset=".2283" stop-color="#00edff"/><stop offset=".2317" stop-color="#00c8ff"/><stop offset=".2383" stop-color="#009bff"/><stop offset=".2483" stop-color="#0082ff"/><stop offset=".2683" stop-color="#0091ff"/><stop offset=".2817" stop-color="#00d5ff"/><stop offset=".2883" stop-color="#00e2ff"/><stop offset=".3083" stop-color="#00cfff"/><stop offset=".3217" stop-color="#00aeff"/><stop offset=".3283" stop-color="#008cff"/><stop offset=".335" stop-color="#00b6ff"/><stop offset=".3383" stop-color="#00baff"/><stop offset=".345" stop-color="#00d5ff"/><stop offset=".3617" stop-color="#00f2fd"/><stop offset=".3717" stop-color="#00fff2"/><stop offset=".385" stop-color="#00ff95"/><stop offset=".3917" stop-color="#00ff79"/><stop offset=".4083" stop-color="#00ff62"/><stop offset=".4517" stop-color="#00ff7d"/><stop offset=".4983" stop-color="#00ff5d"/><stop offset=".5217" stop-color="#00ff59"/><stop offset=".795" stop-color="#00ff62"/><stop offset=".9983" stop-color="#00ff78"/></linearGradient>
<linearGradient id="t89" x2="0" y2="1"><stop offset=".0017" stop-color="#ffda00"/><stop offset=".125" stop-color="#ffcb00"/><stop offset=".145" stop-color="#ffdc00"/><stop offset=".1583" stop-color="#faff00"/><stop offset=".1717" stop-color="#d3ff00"/><stop offset=".185" stop-color="#92ff00"/><stop offset=".1917" stop-color="#61ff00"/><stop offset=".1983" stop-color="#0dff03"/><stop offset=".2017" stop-color="#00ff27"/><stop offset=".205" stop-color="#00ff47"/><stop offset=".2183" stop-color="#00ffab"/><stop offset=".225" stop-color="#00fff9"/><stop offset=".2317" stop-color="#009dff"/><stop offset=".235" stop-color="#0076ff"/><stop offset=".2417" stop-color="#004dff"/><stop offset=".2483" stop-color="#0043ff"/><stop offset=".265" stop-color="#004bff"/><stop offset=".2717" stop-color="#0063ff"/><stop offset=".285" stop-color="#00b3ff"/><stop offset=".295" stop-color="#00baff"/><stop offset=".305" stop-color="#00abff"/><stop offset=".3083" stop-color="#0090ff"/><stop offset=".315" stop-color="#003aff"/><stop offset=".3183" stop-color="#0f1bff"/><stop offset=".3283" stop-color="#2300ff"/><stop offset=".3383" stop-color="#160fff"/><stop offset=".3417" stop-color="#091fff"/><stop offset=".3483" stop-color="#00a1ff"/><stop offset=".3517" stop-color="#00b8ff"/><stop offset=".365" stop-color="#00cdff"/><stop offset=".3717" stop-color="#00ecff"/><stop offset=".375" stop-color="#00fff1"/><stop offset=".3817" stop-color="#00ffb1"/><stop offset=".3883" stop-color="#00ff85"/><stop offset=".3983" stop-color="#0f6"/><stop offset=".4083" stop-color="#00ff5c"/><stop offset=".4517" stop-color="#00ff7a"/><stop offset=".4983" stop-color="#00ff59"/><stop offset=".5217" stop-color="#0f5"/><stop offset=".795" stop-color="#00ff60"/><stop offset=".9983" stop-color="#0f8"/></linearGradient>
<linearGradient id="t90" x2="0" y2="1"><stop offset=".0017" stop-color="#f7fb00"/><stop offset=".1283" stop-color="#fafa00"/><stop offset=".1483" stop-color="#f1ff00"/><stop offset=".1617" stop-color="#dbff00"/><stop offset=".175" stop-color="#adff00"/><stop offset=".185" stop-color="#74ff00"/><stop offset=".1917" stop-color="#35ff00"/><stop offset=".195" stop-color="#0aff05"/><stop offset=".1983" stop-color="#00ff27"/><stop offset=".215" stop-color="#00ff9e"/><stop offset=".2217" stop-color="#00ffe2"/><stop offset=".225" stop-color="#00efff"/><stop offset=".2317" stop-color="#0085ff"/><stop offset=".235" stop-color="#005dff"/><stop offset=".2383" stop-color="#0042ff"/><stop offset=".245" stop-color="#0029ff"/><stop offset=".265" stop-color="#002bff"/><stop offset=".2717" stop-color="#0043ff"/><stop offset=".285" stop-color="#09f"/><stop offset=".2917" stop-color="#00a5ff"/><stop offset=".3017" stop-color="#0096ff"/><stop offset=".305" stop-color="#006fff"/><stop offset=".3083" stop-color="#0016ff"/><stop offset=".3117" stop-color="#2700ff"/><stop offset=".315" stop-color="#4100ff"/><stop offset=".325" stop-color="#5600ff"/><stop offset=".335" stop-color="#5400ff"/><stop offset=".3417" stop-color="#3c00ff"/><stop offset=".345" stop-color="#10f"/><stop offset=".3483" stop-color="#04f"/><stop offset=".3517" stop-color="#008aff"/><stop offset=".355" stop-color="#00a0ff"/><stop offset=".3683" stop-color="#00c4ff"/><stop offset=".375" stop-color="#00faff"/><stop offset=".3783" stop-color="#00ffe2"/><stop offset=".385" stop-color="#00ffa5"/><stop offset=".3917" stop-color="#00ff80"/><stop offset=".4017" stop-color="#00ff67"/><stop offset=".4117" stop-color="#00ff61"/><stop offset=".455" stop-color="#00ff7d"/><stop offset=".5117" stop-color="#00ff5c"/><stop offset=".7917" stop-color="#00ff5d"/><stop offset=".9983" stop-color="#00ff87"/></linearGradient>
<linearGradient id="t91" x2="0" y2="1"><stop offset=".0017" stop-color="#cdff00"/><stop offset=".1283" stop-color="#d9ff00"/><stop offset=".1517" stop-color="#cdff00"/><stop offset=".165" stop-color="#b5ff00"/><stop offset=".1783" stop-color="#83ff00"/><stop offset=".185" stop-color="#58ff00"/><stop offset=".1917" stop-color="#0aff01"/><stop offset=".1983" stop-color="#00ff3d"/><stop offset=".215" stop-color="#00ffa8"/><stop offset=".2217" stop-color="#00fff0"/><stop offset=".225" stop-color="#00e0ff"/><stop offset=".2317" stop-color="#007dff"/><stop offset=".235" stop-color="#0059ff"/><stop offset=".2417" stop-color="#0030ff"/><stop offset=".2517" stop-color="#0024ff"/><stop offset=".265" stop-color="#002bff"/><stop offset=".2717" stop-color="#0042ff"/><stop offset=".285" stop-color="#0097ff"/><stop offset=".295" stop-color="#00a3ff"/><stop offset=".2983" stop-color="#009fff"/><stop offset=".3017" stop-color="#008eff"/><stop offset=".305" stop-color="#0053ff"/><stop offset=".3083" stop-color="#0705ff"/><stop offset=".3117" stop-color="#3100ff"/><stop offset=".3183" stop-color="#5000ff"/><stop offset=".3317" stop-color="#5800ff"/><stop offset=".3383" stop-color="#4c00ff"/><stop offset=".3417" stop-color="#3d00ff"/><stop offset=".345" stop-color="#1e00ff"/><stop offset=".3483" stop-color="#0026ff"/><stop offset=".3517" stop-color="#0082ff"/><stop offset=".355" stop-color="#00a4ff"/><stop offset=".365" stop-color="#00c5ff"/><stop offset=".3717" stop-color="#00f3ff"/><stop offset=".375" stop-color="#00ffeb"/><stop offset=".3817" stop-color="#00ffab"/><stop offset=".3917" stop-color="#00ff74"/><stop offset=".4017" stop-color="#00ff5d"/><stop offset=".4117" stop-color="#00ff56"/><stop offset=".455" stop-color="#00ff6e"/><stop offset=".5183" stop-color="#0f5"/><stop offset=".7983" stop-color="#00ff63"/><stop offset=".9983" stop-color="#00ff85"/></linearGradient>
<linearGradient id="t92" x2="0" y2="1"><stop offset=".0017" stop-color="#afff00"/><stop offset=".1283" stop-color="#bcff00"/><stop offset=".1517" stop-color="#b1ff00"/><stop offset=".165" stop-color="#9dff00"/><stop offset=".175" stop-color="#7bff00"/><stop offset=".1817" stop-color="#5aff00"/><stop offset=".185" stop-color="#3fff00"/><stop offset=".1883" stop-color="#17ff00"/><stop offset=".1917" stop-color="#00ff10"/><stop offset=".195" stop-color="#00ff2a"/><stop offset=".2117" stop-color="#00ff81"/><stop offset=".2183" stop-color="#00ffb6"/><stop offset=".2217" stop-color="#00ffdc"/><stop offset=".225" stop-color="#00f7fe"/><stop offset=".2317" stop-color="#0093ff"/><stop offset=".235" stop-color="#006dff"/><stop offset=".2417" stop-color="#0043ff"/><stop offset=".2483" stop-color="#0038ff"/><stop offset=".265" stop-color="#003eff"/><stop offset=".2717" stop-color="#0053ff"/><stop offset=".285" stop-color="#00a1ff"/><stop offset=".295" stop-color="#00acff"/><stop offset=".3017" stop-color="#00a4ff"/><stop offset=".305" stop-color="#0090ff"/><stop offset=".3117" stop-color="#0714ff"/><stop offset=".315" stop-color="#2300ff"/><stop offset=".3183" stop-color="#3a00ff"/><stop offset=".3283" stop-color="#4800ff"/><stop offset=".335" stop-color="#4000ff"/><stop offset=".3417" stop-color="#1d00ff"/><stop offset=".345" stop-color="#001eff"/><stop offset=".3483" stop-color="#0079ff"/><stop offset=".3517" stop-color="#00a3ff"/><stop offset=".3617" stop-color="#00c4ff"/><stop offset=".3683" stop-color="#00edff"/><stop offset=".3717" stop-color="#00fff2"/><stop offset=".3817" stop-color="#00ff97"/><stop offset=".3883" stop-color="#00ff75"/><stop offset=".3983" stop-color="#00ff5d"/><stop offset=".4117" stop-color="#00ff53"/><stop offset=".455" stop-color="#00ff65"/><stop offset=".525" stop-color="#00ff53"/><stop offset=".795" stop-color="#00ff5f"/><stop offset=".9983" stop-color="#00ff78"/></linearGradient>
<linearGradient id="t93" x2="0" y2="1"><stop offset=".0017" stop-color="#8aff00"/><stop offset=".1417" stop-color="#93ff00"/><stop offset=".1617" stop-color="#80ff00"/><stop offset=".1683" stop-color="#70ff00"/><stop offset=".1783" stop-color="#40ff00"/><stop offset=".185" stop-color="#10ff00"/><stop offset=".1883" stop-color="#00ff0d"/><stop offset=".195" stop-color="#00ff32"/><stop offset=".2117" stop-color="#0f7"/><stop offset=".2183" stop-color="#00ffa5"/><stop offset=".225" stop-color="#00ffed"/><stop offset=".2283" stop-color="#00e1ff"/><stop offset=".235" stop-color="#0090ff"/><stop offset=".2417" stop-color="#006bff"/><stop offset=".2483" stop-color="#0062ff"/><stop offset=".265" stop-color="#0068ff"/><stop offset=".2717" stop-color="#07f"/><stop offset=".285" stop-color="#00acff"/><stop offset=".2917" stop-color="#00b4ff"/><stop offset=".3017" stop-color="#00acff"/><stop offset=".3083" stop-color="#009fff"/><stop offset=".3117" stop-color="#0084ff"/><stop offset=".315" stop-color="#0048ff"/><stop offset=".3183" stop-color="#091aff"/><stop offset=".3283" stop-color="#1707ff"/><stop offset=".3317" stop-color="#1509ff"/><stop offset=".335" stop-color="#0c17ff"/><stop offset=".3383" stop-color="#0039ff"/><stop offset=".345" stop-color="#008aff"/><stop offset=".3483" stop-color="#00a7ff"/><stop offset=".3583" stop-color="#00caff"/><stop offset=".365" stop-color="#00f3fe"/><stop offset=".3683" stop-color="#00ffef"/><stop offset=".3783" stop-color="#00ff9e"/><stop offset=".385" stop-color="#00ff7a"/><stop offset=".395" stop-color="#00ff5f"/><stop offset=".4117" stop-color="#00ff52"/><stop offset=".455" stop-color="#00ff5d"/><stop offset=".5117" stop-color="#00ff50"/><stop offset=".6483" stop-color="#00ff51"/><stop offset=".9983" stop-color="#00ff6e"/></linearGradient>
<linearGradient id="t94" x2="0" y2="1"><stop offset=".0017" stop-color="#57ff00"/><stop offset=".1383" stop-color="#6f0"/><stop offset=".165" stop-color="#46ff00"/><stop offset=".1717" stop-color="#2dff00"/><stop offset=".175" stop-color="#17ff00"/><stop offset=".1817" stop-color="#0f1"/><stop offset=".2117" stop-color="#00ff74"/><stop offset=".2183" stop-color="#00ff9c"/><stop offset=".2283" stop-color="#00fcf7"/><stop offset=".2317" stop-color="#00e4ff"/><stop offset=".2383" stop-color="#0bf"/><stop offset=".245" stop-color="#00a7ff"/><stop offset=".2917" stop-color="#00bdff"/><stop offset=".3117" stop-color="#00a7ff"/><stop offset=".3217" stop-color="#008fff"/><stop offset=".3283" stop-color="#008dff"/><stop offset=".335" stop-color="#0094ff"/><stop offset=".3483" stop-color="#00baff"/><stop offset=".3583" stop-color="#00efff"/><stop offset=".3617" stop-color="#00fef4"/><stop offset=".3717" stop-color="#00ffa8"/><stop offset=".3817" stop-color="#00ff7b"/><stop offset=".395" stop-color="#00ff5b"/><stop offset=".4117" stop-color="#00ff50"/><stop offset=".9983" stop-color="#00ff68"/></linearGradient>
<linearGradient id="t95" x2="0" y2="1"><stop offset=".0017" stop-color="#18ff00"/><stop offset=".0617" stop-color="#19ff00"/><stop offset=".0717" stop-color="#26ff00"/><stop offset=".1383" stop-color="#27ff00"/><stop offset=".1683" stop-color="#03ff0a"/><stop offset=".2083" stop-color="#00ff64"/><stop offset=".2183" stop-color="#00ff8e"/><stop offset=".235" stop-color="#00ffec"/><stop offset=".245" stop-color="#00edfe"/><stop offset=".265" stop-color="#00f2f7"/><stop offset=".2817" stop-color="#00ecff"/><stop offset=".3217" stop-color="#00b2ff"/><stop offset=".3383" stop-color="#00bcff"/><stop offset=".3483" stop-color="#00e1ff"/><stop offset=".355" stop-color="#00fef0"/><stop offset=".365" stop-color="#00ffa5"/><stop offset=".3783" stop-color="#00ff6d"/><stop offset=".3917" stop-color="#00ff54"/><stop offset=".4117" stop-color="#00ff46"/><stop offset=".5117" stop-color="#0f4"/><stop offset=".7517" stop-color="#00ff57"/><stop offset=".9983" stop-color="#00ff5c"/></linearGradient>
<linearGradient id="t96" x2="0" y2="1"><stop offset=".0017" stop-color="#00ff15"/><stop offset=".145" stop-color="#00ff12"/><stop offset=".1717" stop-color="#00ff27"/><stop offset=".205" stop-color="#00ff52"/><stop offset=".225" stop-color="#00ff86"/><stop offset=".2417" stop-color="#00ffbd"/><stop offset=".2683" stop-color="#00ffb4"/><stop offset=".2883" stop-color="#00ffce"/><stop offset=".2983" stop-color="#00ffe7"/><stop offset=".3117" stop-color="#00ecff"/><stop offset=".3217" stop-color="#00daff"/><stop offset=".335" stop-color="#00e4ff"/><stop offset=".3417" stop-color="#00f3fc"/><stop offset=".345" stop-color="#00fdf4"/><stop offset=".3617" stop-color="#00ff8e"/><stop offset=".3717" stop-color="#00ff68"/><stop offset=".385" stop-color="#00ff4f"/><stop offset=".4083" stop-color="#00ff40"/><stop offset=".9983" stop-color="#00ff5c"/></linearGradient>
<linearGradient id="t97" x2="0" y2="1"><stop offset=".0017" stop-color="#00ff36"/><stop offset=".1417" stop-color="#00ff32"/><stop offset=".175" stop-color="#00ff3c"/><stop offset=".2083" stop-color="#00ff58"/><stop offset=".2383" stop-color="#00ff8c"/><stop offset=".265" stop-color="#0f8"/><stop offset=".2883" stop-color="#00ff9b"/><stop offset=".2983" stop-color="#00ffaf"/><stop offset=".315" stop-color="#00ffe5"/><stop offset=".3217" stop-color="#00ffec"/><stop offset=".3417" stop-color="#00ffd6"/><stop offset=".355" stop-color="#00ff94"/><stop offset=".3717" stop-color="#0f6"/><stop offset=".385" stop-color="#00ff56"/><stop offset=".405" stop-color="#00ff4d"/><stop offset=".745" stop-color="#00ff4f"/><stop offset=".9983" stop-color="#00ff5f"/></linearGradient>
<linearGradient id="br0" x2="0" y2="1"><stop offset=".0017" stop-color="#00ff4a"/><stop offset=".035" stop-color="#00ff49"/><stop offset=".045" stop-color="#00ff4c"/><stop offset=".0517" stop-color="#00ff54"/><stop offset=".0583" stop-color="#00ff61"/><stop offset=".065" stop-color="#00ff62"/><stop offset=".0717" stop-color="#00ff69"/><stop offset=".0783" stop-color="#00ff7f"/><stop offset=".0817" stop-color="#00ff81"/><stop offset=".085" stop-color="#00ff7c"/><stop offset=".0917" stop-color="#00ff61"/><stop offset=".095" stop-color="#00ff5a"/><stop offset=".0983" stop-color="#00ff57"/><stop offset=".1717" stop-color="#00ff4c"/><stop offset=".195" stop-color="#00ff4b"/><stop offset=".215" stop-color="#00ff50"/><stop offset=".255" stop-color="#00ff61"/><stop offset=".265" stop-color="#00ff5f"/><stop offset=".4517" stop-color="#00ff73"/><stop offset=".9983" stop-color="#00ffb5"/></linearGradient>
<linearGradient id="br1" x2="0" y2="1"><stop offset=".0017" stop-color="#00ff42"/><stop offset=".035" stop-color="#00ff48"/><stop offset=".0783" stop-color="#00ff59"/><stop offset=".145" stop-color="#00ff4a"/><stop offset=".175" stop-color="#00ff49"/><stop offset=".195" stop-color="#00ff4e"/><stop offset=".2517" stop-color="#00ff60"/><stop offset=".2683" stop-color="#00ff5f"/><stop offset=".9983" stop-color="#00ffb4"/></linearGradient>
<linearGradient id="br2" x2="0" y2="1"><stop offset=".0017" stop-color="#00ff49"/><stop offset=".1117" stop-color="#00ff49"/><stop offset=".2017" stop-color="#00ff5a"/><stop offset=".2517" stop-color="#00ff6a"/><stop offset=".255" stop-color="#00ff69"/><stop offset=".2617" stop-color="#00ff60"/><stop offset=".2683" stop-color="#00ff5f"/><stop offset=".9983" stop-color="#00ffb5"/></linearGradient>
<linearGradient id="br3" x2="0" y2="1"><stop offset=".0017" stop-color="#00ff3d"/><stop offset=".045" stop-color="#00ff42"/><stop offset=".095" stop-color="#00ff4b"/><stop offset=".145" stop-color="#00ff4f"/><stop offset=".265" stop-color="#00ff5f"/><stop offset=".9983" stop-color="#00ffb5"/></linearGradient>
<linearGradient id="br4" x2="0" y2="1"><stop offset=".0017" stop-color="#00ff40"/><stop offset=".9983" stop-color="#00ffb6"/></linearGradient>
<linearGradient id="br5" x2="0" y2="1"><stop offset=".0017" stop-color="#00ff40"/><stop offset=".9983" stop-color="#00ffb6"/></linearGradient>
<linearGradient id="br6" x2="0" y2="1"><stop offset=".0017" stop-color="#00ff40"/><stop offset=".9983" stop-color="#00ffb7"/></linearGradient>
<linearGradient id="br7" x2="0" y2="1"><stop offset=".0017" stop-color="#00ff40"/><stop offset=".9983" stop-color="#00ffb7"/></linearGradient>
<linearGradient id="br8" x2="0" y2="1"><stop offset=".0017" stop-color="#00ff40"/><stop offset=".9983" stop-color="#00ffb8"/></linearGradient>
<linearGradient id="br9" x2="0" y2="1"><stop offset=".0017" stop-color="#00ff41"/><stop offset=".9983" stop-color="#00ffb8"/></linearGradient>
<linearGradient id="br10" x2="0" y2="1"><stop offset=".0017" stop-color="#00ff41"/><stop offset=".9983" stop-color="#00ffb9"/></linearGradient>
<linearGradient id="br11" x2="0" y2="1"><stop offset=".0017" stop-color="#00ff41"/><stop offset=".9983" stop-color="#00ffb9"/></linearGradient>
<linearGradient id="br12" x2="0" y2="1"><stop offset=".0017" stop-color="#00ff41"/><stop offset=".9983" stop-color="#00ffb9"/></linearGradient>
<linearGradient id="br13" x2="0" y2="1"><stop offset=".0017" stop-color="#00ff41"/><stop offset=".9983" stop-color="#00ffba"/></linearGradient>
<linearGradient id="br14" x2="0" y2="1"><stop offset=".0017" stop-color="#00ff41"/><stop offset=".9983" stop-color="#00ffba"/></linearGradient>
<linearGradient id="br15" x2="0" y2="1"><stop offset=".0017" stop-color="#00ff42"/><stop offset=".9983" stop-color="#0fb"/></linearGradient>
<linearGradient id="br16" x2="0" y2="1"><stop offset=".0017" stop-color="#00ff42"/><stop offset=".9983" stop-color="#0fb"/></linearGradient>
<linearGradient id="br17" x2="0" y2="1"><stop offset=".0017" stop-color="#00ff42"/><stop offset=".9983" stop-color="#00ffbc"/></linearGradient>
<linearGradient id="br18" x2="0" y2="1"><stop offset=".0017" stop-color="#00ff42"/><stop offset=".9983" stop-color="#00ffbc"/></linearGradient>
<linearGradient id="br19" x2="0" y2="1"><stop offset=".0017" stop-color="#00ff42"/><stop offset=".9983" stop-color="#00ffbd"/></linearGradient>
<linearGradient id="br20" x2="0" y2="1"><stop offset=".0017" stop-color="#00ff43"/><stop offset=".9983" stop-color="#00ffbd"/></linearGradient>
<linearGradient id="br21" x2="0" y2="1"><stop offset=".0017" stop-color="#00ff43"/><stop offset=".9983" stop-color="#00ffbe"/></linearGradient>
<linearGradient id="br22" x2="0" y2="1"><stop offset=".0017" stop-color="#00ff43"/><stop offset=".9983" stop-color="#00ffbe"/></linearGradient>
<linearGradient id="br23" x2="0" y2="1"><stop offset=".0017" stop-color="#00ff43"/><stop offset=".9983" stop-color="#00ffbf"/></linearGradient>
<linearGradient id="br24" x2="0" y2="1"><stop offset=".0017" stop-color="#00ff43"/><stop offset=".9983" stop-color="#00ffbf"/></linearGradient>
<linearGradient id="br25" x2="0" y2="1"><stop offset=".0017" stop-color="#0f4"/><stop offset=".9983" stop-color="#00ffc0"/></linearGradient>
<linearGradient id="br26" x2="0" y2="1"><stop offset=".0017" stop-color="#0f4"/><stop offset=".9983" stop-color="#00ffc0"/></linearGradient>
<linearGradient id="br27" x2="0" y2="1"><stop offset=".0017" stop-color="#0f4"/><stop offset=".9983" stop-color="#00ffc0"/></linearGradient>
<linearGradient id="br28" x2="0" y2="1"><stop offset=".0017" stop-color="#0f4"/><stop offset=".9983" stop-color="#00ffc1"/></linearGradient>
<linearGradient id="br29" x2="0" y2="1"><stop offset=".0017" stop-color="#0f4"/><stop offset=".9983" stop-color="#00ffc1"/></linearGradient>
<linearGradient id="br30" x2="0" y2="1"><stop offset=".0017" stop-color="#0f4"/><stop offset=".9983" stop-color="#00ffc2"/></linearGradient>
<linearGradient id="br31" x2="0" y2="1"><stop offset=".0017" stop-color="#00ff45"/><stop offset=".9983" stop-color="#00ffc2"/></linearGradient>
<linearGradient id="br32" x2="0" y2="1"><stop offset=".0017" stop-color="#00ff45"/><stop offset=".9983" stop-color="#00ffc3"/></linearGradient>
<linearGradient id="br33" x2="0" y2="1"><stop offset=".0017" stop-color="#00ff45"/><stop offset=".9983" stop-color="#00ffc3"/></linearGradient>
<linearGradient id="br34" x2="0" y2="1"><stop offset=".0017" stop-color="#00ff45"/><stop offset=".9983" stop-color="#00ffc4"/></linearGradient>
<linearGradient id="br35" x2="0" y2="1"><stop offset=".0017" stop-color="#00ff45"/><stop offset=".9983" stop-color="#00ffc4"/></linearGradient>
<linearGradient id="br36" x2="0" y2="1"><stop offset=".0017" stop-color="#00ff46"/><stop offset=".9983" stop-color="#00ffc5"/></linearGradient>
<linearGradient id="br37" x2="0" y2="1"><stop offset=".0017" stop-color="#00ff46"/><stop offset=".9983" stop-color="#00ffc5"/></linearGradient>
<linearGradient id="br38" x2="0" y2="1"><stop offset=".0017" stop-color="#00ff46"/><stop offset=".9983" stop-color="#00ffc6"/></linearGradient>
<linearGradient id="br39" x2="0" y2="1"><stop offset=".0017" stop-color="#00ff46"/><stop offset=".9983" stop-color="#00ffc6"/></linearGradient>
<linearGradient id="br40" x2="0" y2="1"><stop offset=".0017" stop-color="#00ff46"/><stop offset=".9983" stop-color="#00ffc7"/></linearGradient>
<linearGradient id="br41" x2="0" y2="1"><stop offset=".0017" stop-color="#00ff47"/><stop offset=".9983" stop-color="#00ffc7"/></linearGradient>
<linearGradient id="br42" x2="0" y2="1"><stop offset=".0017" stop-color="#00ff47"/><stop offset=".9983" stop-color="#00ffc7"/></linearGradient>
<linearGradient id="br43" x2="0" y2="1"><stop offset=".0017" stop-color="#00ff47"/><stop offset=".9983" stop-color="#00ffc8"/></linearGradient>
<linearGradient id="br44" x2="0" y2="1"><stop offset=".0017" stop-color="#00ff47"/><stop offset=".9983" stop-color="#00ffc8"/></linearGradient>
<linearGradient id="br45" x2="0" y2="1"><stop offset=".0017" stop-color="#00ff47"/><stop offset=".9983" stop-color="#00ffc9"/></linearGradient>
<linearGradient id="br46" x2="0" y2="1"><stop offset=".0017" stop-color="#00ff47"/><stop offset=".9983" stop-color="#00ffc9"/></linearGradient>
<linearGradient id="br47" x2="0" y2="1"><stop offset=".0017" stop-color="#00ff48"/><stop offset=".9983" stop-color="#00ffca"/></linearGradient>
<linearGradient id="br48" x2="0" y2="1"><stop offset=".0017" stop-color="#00ff48"/><stop offset=".9983" stop-color="#00ffca"/></linearGradient>
<linearGradient id="br49" x2="0" y2="1"><stop offset=".0017" stop-color="#00ff48"/><stop offset=".9983" stop-color="#00ffcb"/></linearGradient>
<linearGradient id="br50" x2="0" y2="1"><stop offset=".0017" stop-color="#00ff48"/><stop offset=".9983" stop-color="#00ffcb"/></linearGradient>
<linearGradient id="br51" x2="0" y2="1"><stop offset=".0017" stop-color="#00ff48"/><stop offset=".9983" stop-color="#0fc"/></linearGradient>
<linearGradient id="br52" x2="0" y2="1"><stop offset=".0017" stop-color="#00ff49"/><stop offset=".9983" stop-color="#0fc"/></linearGradient>
<linearGradient id="br53" x2="0" y2="1"><stop offset=".0017" stop-color="#00ff49"/><stop offset=".9983" stop-color="#00ffcd"/></linearGradient>
<linearGradient id="br54" x2="0" y2="1"><stop offset=".0017" stop-color="#00ff49"/><stop offset=".9983" stop-color="#00ffcd"/></linearGradient>
<linearGradient id="br55" x2="0" y2="1"><stop offset=".0017" stop-color="#00ff49"/><stop offset=".9983" stop-color="#00ffce"/></linearGradient>
<linearGradient id="br56" x2="0" y2="1"><stop offset=".0017" stop-color="#00ff49"/><stop offset=".9983" stop-color="#00ffce"/></linearGradient>
<linearGradient id="br57" x2="0" y2="1"><stop offset=".0017" stop-color="#00ff4a"/><stop offset=".9983" stop-color="#00ffce"/></linearGradient>
<linearGradient id="br58" x2="0" y2="1"><stop offset=".0017" stop-color="#00ff4a"/><stop offset=".9983" stop-color="#00ffcf"/></linearGradient>
<linearGradient id="br59" x2="0" y2="1"><stop offset=".0017" stop-color="#00ff4a"/><stop offset=".9983" stop-color="#00ffcf"/></linearGradient>
<linearGradient id="br60" x2="0" y2="1"><stop offset=".0017" stop-color="#00ff4a"/><stop offset=".9983" stop-color="#00ffd0"/></linearGradient>
<linearGradient id="br61" x2="0" y2="1"><stop offset=".0017" stop-color="#00ff4a"/><stop offset=".9983" stop-color="#00ffd0"/></linearGradient>
<linearGradient id="br62" x2="0" y2="1"><stop offset=".0017" stop-color="#00ff4a"/><stop offset=".9983" stop-color="#00ffd1"/></linearGradient>
<linearGradient id="br63" x2="0" y2="1"><stop offset=".0017" stop-color="#00ff4b"/><stop offset=".9983" stop-color="#00ffd1"/></linearGradient>
<linearGradient id="br64" x2="0" y2="1"><stop offset=".0017" stop-color="#00ff4b"/><stop offset=".9983" stop-color="#00ffd2"/></linearGradient>
<linearGradient id="br65" x2="0" y2="1"><stop offset=".0017" stop-color="#00ff4b"/><stop offset=".9983" stop-color="#00ffd2"/></linearGradient>
<linearGradient id="br66" x2="0" y2="1"><stop offset=".0017" stop-color="#00ff4b"/><stop offset=".9983" stop-color="#00ffd3"/></linearGradient>
<linearGradient id="br67" x2="0" y2="1"><stop offset=".0017" stop-color="#00ff4b"/><stop offset=".9983" stop-color="#00ffd3"/></linearGradient>
<linearGradient id="br68" x2="0" y2="1"><stop offset=".0017" stop-color="#00ff4c"/><stop offset=".9983" stop-color="#00ffd4"/></linearGradient>
<linearGradient id="br69" x2="0" y2="1"><stop offset=".0017" stop-color="#00ff4c"/><stop offset=".9983" stop-color="#00ffd4"/></linearGradient>
<linearGradient id="b0" x2="0" y2="1"><stop offset=".0017" stop-color="#ffa800"/><stop offset=".0083" stop-color="#ff9c00"/><stop offset=".015" stop-color="#ff7300"/><stop offset=".0183" stop-color="#ff6c00"/><stop offset=".0217" stop-color="#ff8100"/><stop offset=".025" stop-color="#ffe600"/><stop offset=".0283" stop-color="#a6ff00"/><stop offset=".0317" stop-color="#74ff00"/><stop offset=".0417" stop-color="#13ff00"/><stop offset=".045" stop-color="#01ff04"/><stop offset=".0483" stop-color="#00ff10"/><stop offset=".0617" stop-color="#00ff1b"/><stop offset=".0817" stop-color="#00ff18"/><stop offset=".085" stop-color="#00ff2d"/><stop offset=".0883" stop-color="#00ff60"/><stop offset=".0917" stop-color="#00ff6e"/><stop offset=".115" stop-color="#00ff6b"/><stop offset=".1283" stop-color="#00ff7d"/><stop offset=".135" stop-color="#00ff95"/><stop offset=".1417" stop-color="#00ffc7"/><stop offset=".145" stop-color="#00dfff"/><stop offset=".1483" stop-color="#003dff"/><stop offset=".1517" stop-color="#0013ff"/><stop offset=".155" stop-color="#10f"/><stop offset=".1583" stop-color="#2500ff"/><stop offset=".1617" stop-color="#20f"/><stop offset=".165" stop-color="#0202ff"/><stop offset=".175" stop-color="#0019ff"/><stop offset=".1783" stop-color="#03f"/><stop offset=".1817" stop-color="#0098ff"/><stop offset=".185" stop-color="#00ffd1"/><stop offset=".1883" stop-color="#00ffa4"/><stop offset=".1917" stop-color="#00ff98"/><stop offset=".2417" stop-color="#00ff8b"/><stop offset=".325" stop-color="#00ffa4"/><stop offset=".375" stop-color="#00ffa6"/><stop offset=".9083" stop-color="#00ff68"/><stop offset=".975" stop-color="#00ff67"/><stop offset=".9817" stop-color="#00ff6f"/><stop offset=".9983" stop-color="#00ffa4"/></linearGradient>
<linearGradient id="b1" x2="0" y2="1"><stop offset=".0017" stop-color="#ff8d00"/><stop offset=".0083" stop-color="#ff8200"/><stop offset=".015" stop-color="#ff5a00"/><stop offset=".0183" stop-color="#ff5400"/><stop offset=".0217" stop-color="#ff6500"/><stop offset=".025" stop-color="#ffa000"/><stop offset=".0283" stop-color="#f6ed00"/><stop offset=".0317" stop-color="#c1ff00"/><stop offset=".0417" stop-color="#36ff00"/><stop offset=".045" stop-color="#17ff00"/><stop offset=".0517" stop-color="#01ff03"/><stop offset=".0817" stop-color="#00ff25"/><stop offset=".085" stop-color="#00ff39"/><stop offset=".0883" stop-color="#00ff60"/><stop offset=".0917" stop-color="#00ff6c"/><stop offset=".1083" stop-color="#00ff68"/><stop offset=".1183" stop-color="#00ff72"/><stop offset=".1317" stop-color="#00ff9b"/><stop offset=".135" stop-color="#00ffb5"/><stop offset=".1383" stop-color="#00ffdb"/><stop offset=".1417" stop-color="#00e5fb"/><stop offset=".1483" stop-color="#003bff"/><stop offset=".155" stop-color="#0008ff"/><stop offset=".1583" stop-color="#0900ff"/><stop offset=".1617" stop-color="#0802ff"/><stop offset=".165" stop-color="#0015ff"/><stop offset=".1717" stop-color="#0021ff"/><stop offset=".175" stop-color="#0036ff"/><stop offset=".1783" stop-color="#0076ff"/><stop offset=".1817" stop-color="#00edfa"/><stop offset=".185" stop-color="#00ffbf"/><stop offset=".1883" stop-color="#00ffa0"/><stop offset=".1917" stop-color="#00ff97"/><stop offset=".2083" stop-color="#00ff97"/><stop offset=".2383" stop-color="#00ff85"/><stop offset=".3217" stop-color="#00ffa6"/><stop offset=".375" stop-color="#0fa"/><stop offset=".9117" stop-color="#00ff6e"/><stop offset=".9783" stop-color="#00ff6f"/><stop offset=".9983" stop-color="#00ffab"/></linearGradient>
<linearGradient id="b2" x2="0" y2="1"><stop offset=".0017" stop-color="#ff8a00"/><stop offset=".0083" stop-color="#ff8000"/><stop offset=".015" stop-color="#ff5800"/><stop offset=".0183" stop-color="#ff5000"/><stop offset=".0217" stop-color="#ff5900"/><stop offset=".025" stop-color="#ff7200"/><stop offset=".0283" stop-color="#ffa200"/><stop offset=".0317" stop-color="#ffe800"/><stop offset=".035" stop-color="#cf0"/><stop offset=".0383" stop-color="#87ff00"/><stop offset=".0417" stop-color="#50ff00"/><stop offset=".045" stop-color="#27ff00"/><stop offset=".055" stop-color="#00ff04"/><stop offset=".0917" stop-color="#0f7"/><stop offset=".1083" stop-color="#00ff76"/><stop offset=".115" stop-color="#00ff81"/><stop offset=".1283" stop-color="#00ffbe"/><stop offset=".1317" stop-color="#00ffd8"/><stop offset=".135" stop-color="#00e7f5"/><stop offset=".1417" stop-color="#006bff"/><stop offset=".145" stop-color="#0042ff"/><stop offset=".1483" stop-color="#0026ff"/><stop offset=".1583" stop-color="#01f"/><stop offset=".1717" stop-color="#0028ff"/><stop offset=".175" stop-color="#0060ff"/><stop offset=".1783" stop-color="#00d7ff"/><stop offset=".1817" stop-color="#00ffcf"/><stop offset=".185" stop-color="#00ffab"/><stop offset=".1917" stop-color="#00ff91"/><stop offset=".235" stop-color="#00ff81"/><stop offset=".2583" stop-color="#00ff94"/><stop offset=".3217" stop-color="#00ffa8"/><stop offset=".375" stop-color="#00ffac"/><stop offset=".9083" stop-color="#00ff70"/><stop offset=".975" stop-color="#00ff70"/><stop offset=".9817" stop-color="#00ff78"/><stop offset=".9983" stop-color="#00ffad"/></linearGradient>
<linearGradient id="b3" x2="0" y2="1"><stop offset=".0017" stop-color="#ff8d00"/><stop offset=".0083" stop-color="#ff8500"/><stop offset=".0183" stop-color="#ff5200"/><stop offset=".0217" stop-color="#ff5400"/><stop offset=".0283" stop-color="#ff7300"/><stop offset=".0317" stop-color="#f90"/><stop offset=".035" stop-color="#ffe600"/><stop offset=".0383" stop-color="#b5ff00"/><stop offset=".0417" stop-color="#67ff00"/><stop offset=".045" stop-color="#39ff00"/><stop offset=".055" stop-color="#00ff01"/><stop offset=".0583" stop-color="#00ff27"/><stop offset=".0617" stop-color="#00ff40"/><stop offset=".0783" stop-color="#00ff7b"/><stop offset=".1083" stop-color="#00ff8a"/><stop offset=".115" stop-color="#00ffa1"/><stop offset=".1183" stop-color="#00ffb4"/><stop offset=".1217" stop-color="#00ffd4"/><stop offset=".125" stop-color="#00f5ef"/><stop offset=".1283" stop-color="#00dbff"/><stop offset=".135" stop-color="#006cff"/><stop offset=".1383" stop-color="#003fff"/><stop offset=".145" stop-color="#0019ff"/><stop offset=".155" stop-color="#000bff"/><stop offset=".1717" stop-color="#0032ff"/><stop offset=".175" stop-color="#00a2ff"/><stop offset=".1783" stop-color="#00ffe2"/><stop offset=".1817" stop-color="#00ffb5"/><stop offset=".185" stop-color="#00ff9e"/><stop offset=".1917" stop-color="#00ff8b"/><stop offset=".2317" stop-color="#00ff7f"/><stop offset=".325" stop-color="#00ff9b"/><stop offset=".375" stop-color="#00ff9f"/><stop offset=".9083" stop-color="#00ff70"/><stop offset=".975" stop-color="#00ff73"/><stop offset=".9817" stop-color="#00ff7a"/><stop offset=".9983" stop-color="#00ffb0"/></linearGradient>
<linearGradient id="b4" x2="0" y2="1"><stop offset=".0017" stop-color="#ff8f00"/><stop offset=".0083" stop-color="#ff8900"/><stop offset=".0183" stop-color="#ff5600"/><stop offset=".0217" stop-color="#ff5300"/><stop offset=".0283" stop-color="#ff5f00"/><stop offset=".0317" stop-color="#ff7000"/><stop offset=".035" stop-color="#ffa000"/><stop offset=".0383" stop-color="#e8ff00"/><stop offset=".0417" stop-color="#7bff00"/><stop offset=".045" stop-color="#52ff00"/><stop offset=".055" stop-color="#0dff00"/><stop offset=".0583" stop-color="#00ff1e"/><stop offset=".0617" stop-color="#00ff49"/><stop offset=".065" stop-color="#00ff61"/><stop offset=".0717" stop-color="#00ff6f"/><stop offset=".0783" stop-color="#00ff8d"/><stop offset=".0883" stop-color="#00ff8c"/><stop offset=".1083" stop-color="#00ffa1"/><stop offset=".115" stop-color="#00ffc9"/><stop offset=".1183" stop-color="#00fdec"/><stop offset=".1217" stop-color="#00cbff"/><stop offset=".125" stop-color="#008eff"/><stop offset=".1283" stop-color="#006bff"/><stop offset=".135" stop-color="#003bff"/><stop offset=".1417" stop-color="#0028ff"/><stop offset=".155" stop-color="#001eff"/><stop offset=".1583" stop-color="#0026ff"/><stop offset=".1617" stop-color="#003dff"/><stop offset=".1683" stop-color="#0082ff"/><stop offset=".1717" stop-color="#08f"/><stop offset=".175" stop-color="#00edfa"/><stop offset=".1783" stop-color="#00ffb2"/><stop offset=".1817" stop-color="#00ff96"/><stop offset=".185" stop-color="#0f8"/><stop offset=".1983" stop-color="#00ff7a"/><stop offset=".255" stop-color="#00ff76"/><stop offset=".325" stop-color="#00ff8f"/><stop offset=".375" stop-color="#00ff95"/><stop offset=".9117" stop-color="#00ff6f"/><stop offset=".9783" stop-color="#00ff73"/><stop offset=".9983" stop-color="#00ffb0"/></linearGradient>
<linearGradient id="b5" x2="0" y2="1"><stop offset=".0017" stop-color="#ff9500"/><stop offset=".0083" stop-color="#ff9100"/><stop offset=".0183" stop-color="#ff5f00"/><stop offset=".0217" stop-color="#ff5700"/><stop offset=".0317" stop-color="#ff6000"/><stop offset=".035" stop-color="#ff7d00"/><stop offset=".0383" stop-color="#fff800"/><stop offset=".0417" stop-color="#97ff00"/><stop offset=".0583" stop-color="#05ff02"/><stop offset=".0617" stop-color="#0f3"/><stop offset=".065" stop-color="#00ff5c"/><stop offset=".0717" stop-color="#00ff6d"/><stop offset=".0783" stop-color="#00ff97"/><stop offset=".0883" stop-color="#00ffa7"/><stop offset=".0983" stop-color="#00ffca"/><stop offset=".1083" stop-color="#00ffdc"/><stop offset=".1117" stop-color="#00f6ef"/><stop offset=".115" stop-color="#00dcff"/><stop offset=".1217" stop-color="#0064ff"/><stop offset=".125" stop-color="#04f"/><stop offset=".1317" stop-color="#003bff"/><stop offset=".1417" stop-color="#0047ff"/><stop offset=".155" stop-color="#0047ff"/><stop offset=".1583" stop-color="#0060ff"/><stop offset=".165" stop-color="#00e8f7"/><stop offset=".1683" stop-color="#00ffe5"/><stop offset=".1717" stop-color="#00ffe2"/><stop offset=".175" stop-color="#00ffbf"/><stop offset=".1783" stop-color="#0f8"/><stop offset=".1817" stop-color="#00ff74"/><stop offset=".195" stop-color="#00ff64"/><stop offset=".325" stop-color="#00ff91"/><stop offset=".375" stop-color="#0f9"/><stop offset=".9083" stop-color="#00ff73"/><stop offset=".975" stop-color="#0f7"/><stop offset=".9817" stop-color="#00ff7e"/><stop offset=".9983" stop-color="#00ffb4"/></linearGradient>
<linearGradient id="b6" x2="0" y2="1"><stop offset=".0017" stop-color="#ff9500"/><stop offset=".0083" stop-color="#ff9300"/><stop offset=".0217" stop-color="#ff5d00"/><stop offset=".0317" stop-color="#ff5a00"/><stop offset=".035" stop-color="#ff7300"/><stop offset=".0383" stop-color="#ffdc00"/><stop offset=".0417" stop-color="#ceff00"/><stop offset=".0583" stop-color="#20ff00"/><stop offset=".0617" stop-color="#00ff14"/><stop offset=".065" stop-color="#00ff4c"/><stop offset=".0717" stop-color="#00ff62"/><stop offset=".0783" stop-color="#00ffa8"/><stop offset=".0817" stop-color="#00ffbe"/><stop offset=".0917" stop-color="#00f9f2"/><stop offset=".0983" stop-color="#00dfff"/><stop offset=".1083" stop-color="#00cbff"/><stop offset=".1117" stop-color="#00b6ff"/><stop offset=".115" stop-color="#00aeff"/><stop offset=".1183" stop-color="#0098ff"/><stop offset=".1217" stop-color="#0054ff"/><stop offset=".125" stop-color="#003aff"/><stop offset=".1317" stop-color="#0054ff"/><stop offset=".1417" stop-color="#008aff"/><stop offset=".155" stop-color="#008eff"/><stop offset=".1583" stop-color="#00bdff"/><stop offset=".1617" stop-color="#00ffeb"/><stop offset=".165" stop-color="#00ffbf"/><stop offset=".1683" stop-color="#00ffa9"/><stop offset=".175" stop-color="#00ff9c"/><stop offset=".1783" stop-color="#00ff7c"/><stop offset=".1817" stop-color="#00ff6b"/><stop offset=".195" stop-color="#00ff5f"/><stop offset=".245" stop-color="#00ff7c"/><stop offset=".375" stop-color="#00ff9c"/><stop offset=".545" stop-color="#0f9"/><stop offset=".9083" stop-color="#00ff76"/><stop offset=".975" stop-color="#00ff7a"/><stop offset=".9817" stop-color="#00ff82"/><stop offset=".9983" stop-color="#00ffb8"/></linearGradient>
<linearGradient id="b7" x2="0" y2="1"><stop offset=".0017" stop-color="#ff9100"/><stop offset=".0083" stop-color="#ff9000"/><stop offset=".0217" stop-color="#ff6200"/><stop offset=".0317" stop-color="#ff5400"/><stop offset=".035" stop-color="#ff6700"/><stop offset=".0417" stop-color="#ffce00"/><stop offset=".045" stop-color="#f4ef00"/><stop offset=".0483" stop-color="#d4ff00"/><stop offset=".055" stop-color="#7aff00"/><stop offset=".0617" stop-color="#15ff00"/><stop offset=".065" stop-color="#00ff2b"/><stop offset=".0717" stop-color="#00ff4d"/><stop offset=".0817" stop-color="#00ffeb"/><stop offset=".0883" stop-color="#00e1ff"/><stop offset=".0917" stop-color="#00c9ff"/><stop offset=".095" stop-color="#00bfff"/><stop offset=".1017" stop-color="#00beff"/><stop offset=".1083" stop-color="#00acff"/><stop offset=".1117" stop-color="#00caff"/><stop offset=".115" stop-color="#00faef"/><stop offset=".1183" stop-color="#00faee"/><stop offset=".1217" stop-color="#00adff"/><stop offset=".125" stop-color="#0098ff"/><stop offset=".1317" stop-color="#00cfff"/><stop offset=".1383" stop-color="#00f3ed"/><stop offset=".1417" stop-color="#00fbe8"/><stop offset=".155" stop-color="#00fbe9"/><stop offset=".1583" stop-color="#00ffdb"/><stop offset=".1617" stop-color="#00ffb3"/><stop offset=".165" stop-color="#00ff9c"/><stop offset=".1683" stop-color="#00ff8f"/><stop offset=".175" stop-color="#00ff8a"/><stop offset=".1817" stop-color="#00ff6d"/><stop offset=".1983" stop-color="#00ff63"/><stop offset=".325" stop-color="#00ff93"/><stop offset=".375" stop-color="#00ff9c"/><stop offset=".5883" stop-color="#00ff96"/><stop offset=".895" stop-color="#00ff73"/><stop offset=".975" stop-color="#00ff78"/><stop offset=".9817" stop-color="#00ff80"/><stop offset=".9983" stop-color="#00ffb6"/></linearGradient>
<linearGradient id="b8" x2="0" y2="1"><stop offset=".0017" stop-color="#ff9100"/><stop offset=".0117" stop-color="#ff8d00"/><stop offset=".0317" stop-color="#ff5200"/><stop offset=".035" stop-color="#ff5b00"/><stop offset=".045" stop-color="#ff9d00"/><stop offset=".0483" stop-color="#ffc500"/><stop offset=".0517" stop-color="#f3f000"/><stop offset=".055" stop-color="#c7ff00"/><stop offset=".065" stop-color="#09ff05"/><stop offset=".0683" stop-color="#02ff0b"/><stop offset=".0717" stop-color="#0f3"/><stop offset=".075" stop-color="#00ff80"/><stop offset=".0783" stop-color="#00ffda"/><stop offset=".0817" stop-color="#00dcff"/><stop offset=".085" stop-color="#00c6ff"/><stop offset=".0917" stop-color="#00b4ff"/><stop offset=".0983" stop-color="#00f1f8"/><stop offset=".1017" stop-color="#00eefc"/><stop offset=".1083" stop-color="#00baff"/><stop offset=".1117" stop-color="#00f9fa"/><stop offset=".115" stop-color="#00ffd4"/><stop offset=".1217" stop-color="#00f9fd"/><stop offset=".125" stop-color="#00ffdc"/><stop offset=".1383" stop-color="#00ffa8"/><stop offset=".155" stop-color="#00ffa4"/><stop offset=".1683" stop-color="#00ff74"/><stop offset=".175" stop-color="#00ff72"/><stop offset=".185" stop-color="#00ff5f"/><stop offset=".195" stop-color="#00ff5d"/><stop offset=".3217" stop-color="#00ff96"/><stop offset=".375" stop-color="#00ff9d"/><stop offset=".605" stop-color="#00ff90"/><stop offset=".9083" stop-color="#00ff70"/><stop offset=".975" stop-color="#00ff75"/><stop offset=".9817" stop-color="#00ff7d"/><stop offset=".9983" stop-color="#00ffb2"/></linearGradient>
<linearGradient id="b9" x2="0" y2="1"><stop offset=".0017" stop-color="#ff9300"/><stop offset=".015" stop-color="#ff8b00"/><stop offset=".0317" stop-color="#ff5300"/><stop offset=".035" stop-color="#ff5400"/><stop offset=".0417" stop-color="#ff6100"/><stop offset=".0483" stop-color="#ff7d00"/><stop offset=".0517" stop-color="#ff9d00"/><stop offset=".055" stop-color="#ffd400"/><stop offset=".0583" stop-color="#dcff00"/><stop offset=".065" stop-color="#4fff00"/><stop offset=".0683" stop-color="#36ff00"/><stop offset=".0717" stop-color="#00ff14"/><stop offset=".0783" stop-color="#00ffe2"/><stop offset=".0817" stop-color="#0cf"/><stop offset=".085" stop-color="#00b6ff"/><stop offset=".0917" stop-color="#00b3ff"/><stop offset=".095" stop-color="#00e8ff"/><stop offset=".0983" stop-color="#00ffc8"/><stop offset=".1017" stop-color="#00ffc7"/><stop offset=".105" stop-color="#00fbf7"/><stop offset=".1083" stop-color="#00d3ff"/><stop offset=".1117" stop-color="#0fe"/><stop offset=".115" stop-color="#00f8fa"/><stop offset=".1183" stop-color="#00deff"/><stop offset=".1217" stop-color="#00ffd8"/><stop offset=".125" stop-color="#00ffa0"/><stop offset=".1283" stop-color="#00ff97"/><stop offset=".1417" stop-color="#00ff82"/><stop offset=".1583" stop-color="#00ff81"/><stop offset=".1683" stop-color="#00ff67"/><stop offset=".1983" stop-color="#00ff54"/><stop offset=".2517" stop-color="#00ff6c"/><stop offset=".265" stop-color="#00ff84"/><stop offset=".325" stop-color="#00ff98"/><stop offset=".375" stop-color="#00ff9c"/><stop offset=".6617" stop-color="#00ff8a"/><stop offset=".9083" stop-color="#00ff6f"/><stop offset=".975" stop-color="#00ff72"/><stop offset=".9817" stop-color="#00ff79"/><stop offset=".9983" stop-color="#00ffaf"/></linearGradient>
<linearGradient id="b10" x2="0" y2="1"><stop offset=".0017" stop-color="#ff8d00"/><stop offset=".015" stop-color="#ff8c00"/><stop offset=".025" stop-color="#ff7300"/><stop offset=".0317" stop-color="#f50"/><stop offset=".0417" stop-color="#ff5700"/><stop offset=".0517" stop-color="#ff7200"/><stop offset=".055" stop-color="#ff9000"/><stop offset=".0583" stop-color="#ffd900"/><stop offset=".0617" stop-color="#c4ff00"/><stop offset=".065" stop-color="#84ff00"/><stop offset=".0683" stop-color="#57ff00"/><stop offset=".0717" stop-color="#00ff17"/><stop offset=".0783" stop-color="#00ffc9"/><stop offset=".0817" stop-color="#00d1ff"/><stop offset=".085" stop-color="#00a2ff"/><stop offset=".0917" stop-color="#00a2ff"/><stop offset=".095" stop-color="#00cbff"/><stop offset=".0983" stop-color="#00ffce"/><stop offset=".1017" stop-color="#00ffa2"/><stop offset=".105" stop-color="#00ffce"/><stop offset=".1083" stop-color="#00e0ff"/><stop offset=".1117" stop-color="#00e2ff"/><stop offset=".115" stop-color="#00d5ff"/><stop offset=".1183" stop-color="#00f9fe"/><stop offset=".1217" stop-color="#00ffab"/><stop offset=".125" stop-color="#00ff85"/><stop offset=".1417" stop-color="#00ff76"/><stop offset=".1583" stop-color="#00ff79"/><stop offset=".1683" stop-color="#00ff6b"/><stop offset=".1983" stop-color="#00ff5c"/><stop offset=".2517" stop-color="#00ff6e"/><stop offset=".2683" stop-color="#00ff84"/><stop offset=".325" stop-color="#00ff97"/><stop offset=".375" stop-color="#00ff9b"/><stop offset=".6483" stop-color="#00ff8b"/><stop offset=".9083" stop-color="#00ff6e"/><stop offset=".975" stop-color="#00ff71"/><stop offset=".9817" stop-color="#00ff79"/><stop offset=".9983" stop-color="#00ffaf"/></linearGradient>
<linearGradient id="b11" x2="0" y2="1"><stop offset=".0017" stop-color="#f80"/><stop offset=".0217" stop-color="#ff8300"/><stop offset=".0317" stop-color="#ff5900"/><stop offset=".035" stop-color="#ff5200"/><stop offset=".0483" stop-color="#ff5a00"/><stop offset=".0517" stop-color="#ff6200"/><stop offset=".055" stop-color="#ff8600"/><stop offset=".0583" stop-color="#ffd100"/><stop offset=".0617" stop-color="#cf0"/><stop offset=".0683" stop-color="#54ff00"/><stop offset=".0717" stop-color="#00ff25"/><stop offset=".0783" stop-color="#00ffb6"/><stop offset=".0817" stop-color="#00d5ff"/><stop offset=".085" stop-color="#0097ff"/><stop offset=".0883" stop-color="#008eff"/><stop offset=".0917" stop-color="#0093ff"/><stop offset=".095" stop-color="#00aeff"/><stop offset=".0983" stop-color="#00fff2"/><stop offset=".1017" stop-color="#00ffa4"/><stop offset=".105" stop-color="#00ffb8"/><stop offset=".1083" stop-color="#00e9ff"/><stop offset=".1117" stop-color="#00b6ff"/><stop offset=".115" stop-color="#00b7ff"/><stop offset=".1183" stop-color="#00fffa"/><stop offset=".1217" stop-color="#00ff9a"/><stop offset=".125" stop-color="#00ff7c"/><stop offset=".1283" stop-color="#00ff73"/><stop offset=".1583" stop-color="#0f7"/><stop offset=".225" stop-color="#00ff68"/><stop offset=".2517" stop-color="#00ff6d"/><stop offset=".2683" stop-color="#00ff8b"/><stop offset=".325" stop-color="#00ff9e"/><stop offset=".375" stop-color="#00ffa1"/><stop offset=".825" stop-color="#00ff76"/><stop offset=".975" stop-color="#00ff78"/><stop offset=".9817" stop-color="#00ff80"/><stop offset=".9983" stop-color="#00ffb6"/></linearGradient>
<linearGradient id="b12" x2="0" y2="1"><stop offset=".0017" stop-color="#ff8c00"/><stop offset=".0217" stop-color="#ff8b00"/><stop offset=".035" stop-color="#ff5900"/><stop offset=".0483" stop-color="#ff5600"/><stop offset=".0517" stop-color="#ff6000"/><stop offset=".055" stop-color="#ff9d00"/><stop offset=".0583" stop-color="#fcfd00"/><stop offset=".065" stop-color="#a8ff00"/><stop offset=".0683" stop-color="#5bff00"/><stop offset=".0717" stop-color="#00ff1d"/><stop offset=".075" stop-color="#00ff6f"/><stop offset=".0783" stop-color="#00ffb5"/><stop offset=".0817" stop-color="#00d9ff"/><stop offset=".085" stop-color="#0091ff"/><stop offset=".0883" stop-color="#0085ff"/><stop offset=".0917" stop-color="#0087ff"/><stop offset=".095" stop-color="#09f"/><stop offset=".0983" stop-color="#00e3ff"/><stop offset=".1017" stop-color="#00ffd0"/><stop offset=".105" stop-color="#00ffdc"/><stop offset=".1083" stop-color="#00ceff"/><stop offset=".1117" stop-color="#00a2ff"/><stop offset=".115" stop-color="#00adff"/><stop offset=".1183" stop-color="#00faff"/><stop offset=".1217" stop-color="#00ffb3"/><stop offset=".125" stop-color="#00ff8d"/><stop offset=".1283" stop-color="#00ff75"/><stop offset=".1417" stop-color="#00ff6b"/><stop offset=".2417" stop-color="#00ff69"/><stop offset=".2517" stop-color="#00ff6d"/><stop offset=".265" stop-color="#00ff8c"/><stop offset=".325" stop-color="#00ffa1"/><stop offset=".375" stop-color="#00ffa4"/><stop offset=".5783" stop-color="#0f8"/><stop offset=".9117" stop-color="#0f7"/><stop offset=".9783" stop-color="#00ff7f"/><stop offset=".9983" stop-color="#00ffbc"/></linearGradient>
<linearGradient id="b13" x2="0" y2="1"><stop offset=".0017" stop-color="#ff9700"/><stop offset=".0217" stop-color="#ff9600"/><stop offset=".035" stop-color="#ff6900"/><stop offset=".0483" stop-color="#ff5a00"/><stop offset=".0517" stop-color="#ff6200"/><stop offset=".055" stop-color="#ff8e00"/><stop offset=".0583" stop-color="#ffd600"/><stop offset=".0617" stop-color="#efff00"/><stop offset=".065" stop-color="#abff00"/><stop offset=".0683" stop-color="#58ff00"/><stop offset=".0717" stop-color="#00ff1e"/><stop offset=".0783" stop-color="#00ffd0"/><stop offset=".0817" stop-color="#00c8ff"/><stop offset=".085" stop-color="#008fff"/><stop offset=".0917" stop-color="#0085ff"/><stop offset=".095" stop-color="#0091ff"/><stop offset=".1017" stop-color="#00ecff"/><stop offset=".105" stop-color="#00dfff"/><stop offset=".1083" stop-color="#00b2ff"/><stop offset=".1117" stop-color="#00b2ff"/><stop offset=".1183" stop-color="#00f0ff"/><stop offset=".1217" stop-color="#00ffe8"/><stop offset=".125" stop-color="#00ffa4"/><stop offset=".1283" stop-color="#00ff7f"/><stop offset=".1317" stop-color="#00ff6f"/><stop offset=".1383" stop-color="#00ff6b"/><stop offset=".2417" stop-color="#00ff6b"/><stop offset=".2517" stop-color="#00ff71"/><stop offset=".265" stop-color="#00ff8a"/><stop offset=".325" stop-color="#00ff9f"/><stop offset=".375" stop-color="#00ffa3"/><stop offset=".6283" stop-color="#00ff80"/><stop offset=".9117" stop-color="#00ff74"/><stop offset=".9783" stop-color="#00ff7c"/><stop offset=".9983" stop-color="#00ffb9"/></linearGradient>
<linearGradient id="b14" x2="0" y2="1"><stop offset=".0017" stop-color="#ff8900"/><stop offset=".025" stop-color="#ff8900"/><stop offset=".035" stop-color="#ff6c00"/><stop offset=".0483" stop-color="#ff5800"/><stop offset=".0517" stop-color="#ff5b00"/><stop offset=".055" stop-color="#ff7000"/><stop offset=".0583" stop-color="#ff9600"/><stop offset=".0617" stop-color="#fffa00"/><stop offset=".0683" stop-color="#3aff00"/><stop offset=".0717" stop-color="#00ff3a"/><stop offset=".075" stop-color="#00ff8c"/><stop offset=".0783" stop-color="#00fcf7"/><stop offset=".0817" stop-color="#00a6ff"/><stop offset=".085" stop-color="#08f"/><stop offset=".0883" stop-color="#0081ff"/><stop offset=".095" stop-color="#0086ff"/><stop offset=".1017" stop-color="#0af"/><stop offset=".1083" stop-color="#0096ff"/><stop offset=".1117" stop-color="#00c0ff"/><stop offset=".115" stop-color="#00ffef"/><stop offset=".1183" stop-color="#00f0ff"/><stop offset=".1217" stop-color="#00d3ff"/><stop offset=".125" stop-color="#00ffca"/><stop offset=".1283" stop-color="#00ff94"/><stop offset=".1317" stop-color="#00ff7e"/><stop offset=".135" stop-color="#0f7"/><stop offset=".1617" stop-color="#00ff78"/><stop offset=".2017" stop-color="#00ff69"/><stop offset=".2517" stop-color="#00ff71"/><stop offset=".265" stop-color="#00ff82"/><stop offset=".325" stop-color="#0f9"/><stop offset=".375" stop-color="#00ff9f"/><stop offset=".7883" stop-color="#00ff78"/><stop offset=".975" stop-color="#00ff78"/><stop offset=".9817" stop-color="#00ff80"/><stop offset=".9983" stop-color="#00ffb6"/></linearGradient>
<linearGradient id="b15" x2="0" y2="1"><stop offset=".0017" stop-color="#ff7800"/><stop offset=".025" stop-color="#ff7c00"/><stop offset=".0517" stop-color="#ff4d00"/><stop offset=".055" stop-color="#ff5a00"/><stop offset=".0583" stop-color="#ff8e00"/><stop offset=".0617" stop-color="#f7ff00"/><stop offset=".065" stop-color="#9aff00"/><stop offset=".0683" stop-color="#1fff00"/><stop offset=".0717" stop-color="#00ff48"/><stop offset=".075" stop-color="#0f9"/><stop offset=".0783" stop-color="#00eaff"/><stop offset=".0817" stop-color="#009dff"/><stop offset=".085" stop-color="#008bff"/><stop offset=".0917" stop-color="#0085ff"/><stop offset=".1017" stop-color="#0093ff"/><stop offset=".1083" stop-color="#0091ff"/><stop offset=".1117" stop-color="#00cbff"/><stop offset=".115" stop-color="#00fff3"/><stop offset=".1183" stop-color="#00e2ff"/><stop offset=".1217" stop-color="#00b3ff"/><stop offset=".125" stop-color="#00ffea"/><stop offset=".1283" stop-color="#00ff9c"/><stop offset=".1317" stop-color="#00ff81"/><stop offset=".1383" stop-color="#00ff76"/><stop offset=".1717" stop-color="#00ff7c"/><stop offset=".2583" stop-color="#00ff74"/><stop offset=".325" stop-color="#00ff90"/><stop offset=".375" stop-color="#00ff98"/><stop offset=".975" stop-color="#00ff79"/><stop offset=".9817" stop-color="#00ff80"/><stop offset=".9983" stop-color="#00ffb6"/></linearGradient>
<linearGradient id="b16" x2="0" y2="1"><stop offset=".0017" stop-color="#ff7c00"/><stop offset=".0283" stop-color="#ff7a00"/><stop offset=".0417" stop-color="#f60"/><stop offset=".0483" stop-color="#ff4800"/><stop offset=".0517" stop-color="#ff4500"/><stop offset=".055" stop-color="#ff5800"/><stop offset=".0583" stop-color="#ffa600"/><stop offset=".0617" stop-color="#e7ff00"/><stop offset=".065" stop-color="#93ff00"/><stop offset=".0683" stop-color="#14ff00"/><stop offset=".0717" stop-color="#0f4"/><stop offset=".075" stop-color="#00ff9c"/><stop offset=".0783" stop-color="#00e3ff"/><stop offset=".0817" stop-color="#00a6ff"/><stop offset=".085" stop-color="#009aff"/><stop offset=".1083" stop-color="#009eff"/><stop offset=".115" stop-color="#00d6ff"/><stop offset=".1217" stop-color="#00afff"/><stop offset=".125" stop-color="#00fff3"/><stop offset=".1283" stop-color="#00ff9a"/><stop offset=".1317" stop-color="#00ff7a"/><stop offset=".135" stop-color="#00ff6e"/><stop offset=".1417" stop-color="#00ff69"/><stop offset=".2417" stop-color="#00ff87"/><stop offset=".265" stop-color="#00ff75"/><stop offset=".325" stop-color="#00ff8c"/><stop offset=".375" stop-color="#00ff93"/><stop offset=".7117" stop-color="#00ff92"/><stop offset=".9083" stop-color="#00ff7b"/><stop offset=".975" stop-color="#00ff7b"/><stop offset=".9817" stop-color="#00ff83"/><stop offset=".9983" stop-color="#00ffb8"/></linearGradient>
<linearGradient id="b17" x2="0" y2="1"><stop offset=".0017" stop-color="#ff7c00"/><stop offset=".0383" stop-color="#ff7400"/><stop offset=".0417" stop-color="#ff6c00"/><stop offset=".0483" stop-color="#ff4700"/><stop offset=".0517" stop-color="#ff4600"/><stop offset=".055" stop-color="#ff6300"/><stop offset=".0583" stop-color="#ffc900"/><stop offset=".0617" stop-color="#d4ff00"/><stop offset=".065" stop-color="#81ff00"/><stop offset=".0683" stop-color="#03ff01"/><stop offset=".0717" stop-color="#0f4"/><stop offset=".075" stop-color="#0f9"/><stop offset=".0783" stop-color="#00e1ff"/><stop offset=".0817" stop-color="#00a5ff"/><stop offset=".085" stop-color="#009bff"/><stop offset=".105" stop-color="#009aff"/><stop offset=".115" stop-color="#00b4ff"/><stop offset=".1217" stop-color="#00afff"/><stop offset=".125" stop-color="#00fbfe"/><stop offset=".1283" stop-color="#00ffa5"/><stop offset=".1317" stop-color="#00ff78"/><stop offset=".135" stop-color="#00ff64"/><stop offset=".1417" stop-color="#00ff5c"/><stop offset=".2183" stop-color="#00ff85"/><stop offset=".245" stop-color="#00ff86"/><stop offset=".265" stop-color="#00ff7a"/><stop offset=".325" stop-color="#00ff90"/><stop offset=".375" stop-color="#00ff95"/><stop offset=".705" stop-color="#00ff92"/><stop offset=".975" stop-color="#00ff83"/><stop offset=".9817" stop-color="#00ff8a"/><stop offset=".9983" stop-color="#00ffc0"/></linearGradient>
<linearGradient id="b18" x2="0" y2="1"><stop offset=".0017" stop-color="#ff7a00"/><stop offset=".0383" stop-color="#ff8000"/><stop offset=".0483" stop-color="#ff4f00"/><stop offset=".0517" stop-color="#ff5000"/><stop offset=".055" stop-color="#ff7300"/><stop offset=".0583" stop-color="#ffea00"/><stop offset=".0617" stop-color="#bcff00"/><stop offset=".065" stop-color="#6cff00"/><stop offset=".0683" stop-color="#00ff0d"/><stop offset=".0717" stop-color="#00ff4e"/><stop offset=".075" stop-color="#00ffa2"/><stop offset=".0783" stop-color="#00d6ff"/><stop offset=".0817" stop-color="#09f"/><stop offset=".085" stop-color="#0090ff"/><stop offset=".0917" stop-color="#008fff"/><stop offset=".105" stop-color="#0094ff"/><stop offset=".1183" stop-color="#00a8ff"/><stop offset=".1217" stop-color="#00b3ff"/><stop offset=".125" stop-color="#00e1ff"/><stop offset=".1283" stop-color="#00ffc1"/><stop offset=".1317" stop-color="#00ff7f"/><stop offset=".135" stop-color="#00ff65"/><stop offset=".145" stop-color="#00ff5a"/><stop offset=".1983" stop-color="#00ff6b"/><stop offset=".2483" stop-color="#00ff87"/><stop offset=".265" stop-color="#00ff7f"/><stop offset=".325" stop-color="#00ff91"/><stop offset=".3717" stop-color="#00ff94"/><stop offset=".9083" stop-color="#00ff7e"/><stop offset=".975" stop-color="#00ff82"/><stop offset=".9817" stop-color="#00ff8a"/><stop offset=".9983" stop-color="#00ffc0"/></linearGradient>
<linearGradient id="b19" x2="0" y2="1"><stop offset=".0017" stop-color="#ff7d00"/><stop offset=".0383" stop-color="#f80"/><stop offset=".0483" stop-color="#ff5600"/><stop offset=".0517" stop-color="#ff5700"/><stop offset=".055" stop-color="#ff7b00"/><stop offset=".0583" stop-color="#fff600"/><stop offset=".065" stop-color="#65ff00"/><stop offset=".0683" stop-color="#00ff0e"/><stop offset=".075" stop-color="#00ffa8"/><stop offset=".0783" stop-color="#00d1ff"/><stop offset=".0817" stop-color="#008cff"/><stop offset=".085" stop-color="#0081ff"/><stop offset=".105" stop-color="#0084ff"/><stop offset=".1117" stop-color="#008aff"/><stop offset=".115" stop-color="#0098ff"/><stop offset=".1217" stop-color="#00c3ff"/><stop offset=".125" stop-color="#00ebff"/><stop offset=".1283" stop-color="#00ffcf"/><stop offset=".1317" stop-color="#00ff8e"/><stop offset=".135" stop-color="#00ff73"/><stop offset=".145" stop-color="#00ff68"/><stop offset=".1983" stop-color="#00ff6b"/><stop offset=".2517" stop-color="#00ff87"/><stop offset=".265" stop-color="#00ff80"/><stop offset=".325" stop-color="#00ff93"/><stop offset=".375" stop-color="#00ff96"/><stop offset=".9083" stop-color="#00ff80"/><stop offset=".975" stop-color="#00ff85"/><stop offset=".9817" stop-color="#00ff8d"/><stop offset=".9983" stop-color="#00ffc3"/></linearGradient>
<linearGradient id="b20" x2="0" y2="1"><stop offset=".0017" stop-color="#ff8000"/><stop offset=".0383" stop-color="#ff8700"/><stop offset=".0483" stop-color="#f50"/><stop offset=".0517" stop-color="#f50"/><stop offset=".055" stop-color="#ff7600"/><stop offset=".0583" stop-color="#ffe900"/><stop offset=".0617" stop-color="#bcff00"/><stop offset=".065" stop-color="#75ff00"/><stop offset=".0683" stop-color="#09ff00"/><stop offset=".075" stop-color="#00ff9d"/><stop offset=".0783" stop-color="#00dcff"/><stop offset=".0817" stop-color="#0092ff"/><stop offset=".085" stop-color="#0086ff"/><stop offset=".1083" stop-color="#0086ff"/><stop offset=".1117" stop-color="#008bff"/><stop offset=".115" stop-color="#00a6ff"/><stop offset=".1183" stop-color="#00dbff"/><stop offset=".1217" stop-color="#00faf1"/><stop offset=".1317" stop-color="#00ff85"/><stop offset=".135" stop-color="#00ff70"/><stop offset=".1483" stop-color="#00ff64"/><stop offset=".1983" stop-color="#0f6"/><stop offset=".2517" stop-color="#00ff82"/><stop offset=".375" stop-color="#00ff9a"/><stop offset=".975" stop-color="#00ff8a"/><stop offset=".9817" stop-color="#00ff91"/><stop offset=".9983" stop-color="#00ffc7"/></linearGradient>
<linearGradient id="b21" x2="0" y2="1"><stop offset=".0017" stop-color="#ff8400"/><stop offset=".0383" stop-color="#ff8700"/><stop offset=".0483" stop-color="#ff5400"/><stop offset=".0517" stop-color="#ff5200"/><stop offset=".055" stop-color="#ff6a00"/><stop offset=".0583" stop-color="#ffca00"/><stop offset=".0617" stop-color="#cdff00"/><stop offset=".065" stop-color="#87ff00"/><stop offset=".0683" stop-color="#23ff00"/><stop offset=".0717" stop-color="#00ff43"/><stop offset=".075" stop-color="#00ff97"/><stop offset=".0783" stop-color="#00e4ff"/><stop offset=".0817" stop-color="#09f"/><stop offset=".085" stop-color="#008cff"/><stop offset=".105" stop-color="#008eff"/><stop offset=".1117" stop-color="#0094ff"/><stop offset=".115" stop-color="#00adff"/><stop offset=".1183" stop-color="#0ef"/><stop offset=".1217" stop-color="#00ffba"/><stop offset=".125" stop-color="#00ff9c"/><stop offset=".135" stop-color="#00ff65"/><stop offset=".1417" stop-color="#00ff5b"/><stop offset=".1717" stop-color="#00ff54"/><stop offset=".1983" stop-color="#00ff59"/><stop offset=".255" stop-color="#00ff82"/><stop offset=".325" stop-color="#0f9"/><stop offset=".3717" stop-color="#00ff9d"/><stop offset=".5317" stop-color="#00ff8f"/><stop offset=".975" stop-color="#00ff8a"/><stop offset=".9817" stop-color="#00ff91"/><stop offset=".9983" stop-color="#00ffc7"/></linearGradient>
<linearGradient id="b22" x2="0" y2="1"><stop offset=".0017" stop-color="#ff8700"/><stop offset=".0383" stop-color="#ff8700"/><stop offset=".0483" stop-color="#f50"/><stop offset=".0517" stop-color="#ff4f00"/><stop offset=".055" stop-color="#ff5f00"/><stop offset=".0583" stop-color="#ffb100"/><stop offset=".0617" stop-color="#d6ff00"/><stop offset=".065" stop-color="#8eff00"/><stop offset=".0683" stop-color="#2aff00"/><stop offset=".0717" stop-color="#00ff47"/><stop offset=".075" stop-color="#00ffa5"/><stop offset=".0783" stop-color="#00d7ff"/><stop offset=".0817" stop-color="#0096ff"/><stop offset=".085" stop-color="#008cff"/><stop offset=".1083" stop-color="#0091ff"/><stop offset=".115" stop-color="#00a3ff"/><stop offset=".1183" stop-color="#00e1ff"/><stop offset=".1217" stop-color="#00ffa7"/><stop offset=".125" stop-color="#00ff7f"/><stop offset=".135" stop-color="#00ff5f"/><stop offset=".1717" stop-color="#00ff50"/><stop offset=".1983" stop-color="#00ff56"/><stop offset=".265" stop-color="#00ff84"/><stop offset=".325" stop-color="#0f9"/><stop offset=".3717" stop-color="#00ff9d"/><stop offset=".9083" stop-color="#00ff80"/><stop offset=".975" stop-color="#00ff85"/><stop offset=".9817" stop-color="#00ff8c"/><stop offset=".9983" stop-color="#00ffc2"/></linearGradient>
<linearGradient id="b23" x2="0" y2="1"><stop offset=".0017" stop-color="#f80"/><stop offset=".0383" stop-color="#ff8300"/><stop offset=".0517" stop-color="#ff4800"/><stop offset=".055" stop-color="#ff5400"/><stop offset=".0583" stop-color="#ffa200"/><stop offset=".0617" stop-color="#e3ff00"/><stop offset=".065" stop-color="#9f0"/><stop offset=".0683" stop-color="#2bff00"/><stop offset=".0717" stop-color="#00ff45"/><stop offset=".075" stop-color="#00ffa9"/><stop offset=".0783" stop-color="#00d7ff"/><stop offset=".0817" stop-color="#00a4ff"/><stop offset=".085" stop-color="#009cff"/><stop offset=".1083" stop-color="#0098ff"/><stop offset=".115" stop-color="#00a4ff"/><stop offset=".1183" stop-color="#00deff"/><stop offset=".1217" stop-color="#00ffa9"/><stop offset=".125" stop-color="#00ff76"/><stop offset=".1283" stop-color="#00ff6d"/><stop offset=".1383" stop-color="#00ff61"/><stop offset=".185" stop-color="#00ff5d"/><stop offset=".2517" stop-color="#00ff6c"/><stop offset=".265" stop-color="#00ff7f"/><stop offset=".3217" stop-color="#00ff94"/><stop offset=".375" stop-color="#00ff9b"/><stop offset=".8583" stop-color="#00ff7e"/><stop offset=".975" stop-color="#00ff83"/><stop offset=".9817" stop-color="#00ff8b"/><stop offset=".9983" stop-color="#00ffc1"/></linearGradient>
<linearGradient id="b24" x2="0" y2="1"><stop offset=".0017" stop-color="#ff7d00"/><stop offset=".0383" stop-color="#ff7c00"/><stop offset=".0417" stop-color="#ff7300"/><stop offset=".0483" stop-color="#ff4c00"/><stop offset=".0517" stop-color="#ff4100"/><stop offset=".055" stop-color="#ff4c00"/><stop offset=".0583" stop-color="#ff8e00"/><stop offset=".0617" stop-color="#f9ff00"/><stop offset=".065" stop-color="#a6ff00"/><stop offset=".0683" stop-color="#29ff00"/><stop offset=".0717" stop-color="#00ff42"/><stop offset=".075" stop-color="#00ffa6"/><stop offset=".0783" stop-color="#00dbff"/><stop offset=".0817" stop-color="#00adff"/><stop offset=".085" stop-color="#00a4ff"/><stop offset=".0983" stop-color="#00b0ff"/><stop offset=".1083" stop-color="#009cff"/><stop offset=".1117" stop-color="#009eff"/><stop offset=".115" stop-color="#00afff"/><stop offset=".1183" stop-color="#00f7fe"/><stop offset=".1217" stop-color="#00ffa0"/><stop offset=".125" stop-color="#00ff76"/><stop offset=".135" stop-color="#00ff5f"/><stop offset=".145" stop-color="#00ff5c"/><stop offset=".2517" stop-color="#00ff62"/><stop offset=".265" stop-color="#0f7"/><stop offset=".375" stop-color="#00ff9a"/><stop offset=".5717" stop-color="#0f9"/><stop offset=".9083" stop-color="#00ff82"/><stop offset=".975" stop-color="#00ff89"/><stop offset=".9817" stop-color="#00ff90"/><stop offset=".9983" stop-color="#00ffc6"/></linearGradient>
<linearGradient id="b25" x2="0" y2="1"><stop offset=".0017" stop-color="#ff8200"/><stop offset=".0383" stop-color="#ff8200"/><stop offset=".0417" stop-color="#ff7c00"/><stop offset=".0517" stop-color="#ff4900"/><stop offset=".055" stop-color="#ff4f00"/><stop offset=".0583" stop-color="#ff7d00"/><stop offset=".0617" stop-color="#fff600"/><stop offset=".065" stop-color="#a3ff00"/><stop offset=".0683" stop-color="#1cff00"/><stop offset=".0717" stop-color="#00ff48"/><stop offset=".075" stop-color="#00ffa5"/><stop offset=".0783" stop-color="#00daff"/><stop offset=".0817" stop-color="#00a6ff"/><stop offset=".085" stop-color="#009eff"/><stop offset=".0917" stop-color="#00a6ff"/><stop offset=".0983" stop-color="#00caff"/><stop offset=".1017" stop-color="#00c1ff"/><stop offset=".105" stop-color="#00a3ff"/><stop offset=".1083" stop-color="#009bff"/><stop offset=".1117" stop-color="#009dff"/><stop offset=".115" stop-color="#00b7ff"/><stop offset=".1183" stop-color="#00ffe9"/><stop offset=".1217" stop-color="#00ffa0"/><stop offset=".1283" stop-color="#00ff75"/><stop offset=".135" stop-color="#00ff60"/><stop offset=".195" stop-color="#00ff53"/><stop offset=".2517" stop-color="#00ff59"/><stop offset=".265" stop-color="#00ff79"/><stop offset=".3783" stop-color="#00ffa1"/><stop offset=".4983" stop-color="#00ffa1"/><stop offset=".9083" stop-color="#00ff83"/><stop offset=".975" stop-color="#0f8"/><stop offset=".9817" stop-color="#00ff90"/><stop offset=".9983" stop-color="#00ffc6"/></linearGradient>
<linearGradient id="b26" x2="0" y2="1"><stop offset=".0017" stop-color="#ff9500"/><stop offset=".0383" stop-color="#ff8e00"/><stop offset=".0417" stop-color="#ff8600"/><stop offset=".0517" stop-color="#ff5300"/><stop offset=".055" stop-color="#ff5400"/><stop offset=".0583" stop-color="#ff7300"/><stop offset=".0617" stop-color="#ffe800"/><stop offset=".065" stop-color="#a3ff00"/><stop offset=".0683" stop-color="#1fff00"/><stop offset=".0717" stop-color="#00ff47"/><stop offset=".075" stop-color="#00ff9e"/><stop offset=".0783" stop-color="#00e1ff"/><stop offset=".0817" stop-color="#00a9ff"/><stop offset=".085" stop-color="#00a2ff"/><stop offset=".0883" stop-color="#00a5ff"/><stop offset=".0917" stop-color="#00b5ff"/><stop offset=".095" stop-color="#00e5ff"/><stop offset=".0983" stop-color="#00fdef"/><stop offset=".1017" stop-color="#00e6ff"/><stop offset=".105" stop-color="#00b2ff"/><stop offset=".1117" stop-color="#0af"/><stop offset=".115" stop-color="#00c5ff"/><stop offset=".1183" stop-color="#00ffeb"/><stop offset=".1217" stop-color="#00ffc0"/><stop offset=".1283" stop-color="#00ff7d"/><stop offset=".1317" stop-color="#00ff67"/><stop offset=".135" stop-color="#00ff5f"/><stop offset=".195" stop-color="#00ff57"/><stop offset=".2517" stop-color="#00ff61"/><stop offset=".265" stop-color="#00ff7f"/><stop offset=".375" stop-color="#00ffa5"/><stop offset=".505" stop-color="#00ffa2"/><stop offset=".9083" stop-color="#00ff7e"/><stop offset=".975" stop-color="#00ff83"/><stop offset=".9817" stop-color="#00ff8b"/><stop offset=".9983" stop-color="#00ffc1"/></linearGradient>
<linearGradient id="b27" x2="0" y2="1"><stop offset=".0017" stop-color="#ff9400"/><stop offset=".035" stop-color="#ff8e00"/><stop offset=".0417" stop-color="#ff7e00"/><stop offset=".0517" stop-color="#ff4f00"/><stop offset=".055" stop-color="#ff4e00"/><stop offset=".0583" stop-color="#ff6700"/><stop offset=".0617" stop-color="#ffd500"/><stop offset=".065" stop-color="#b5ff00"/><stop offset=".0683" stop-color="#3eff00"/><stop offset=".0717" stop-color="#00ff38"/><stop offset=".075" stop-color="#00ff92"/><stop offset=".0783" stop-color="#00edff"/><stop offset=".0817" stop-color="#00b4ff"/><stop offset=".085" stop-color="#00adff"/><stop offset=".0883" stop-color="#00b0ff"/><stop offset=".0917" stop-color="#00c3ff"/><stop offset=".095" stop-color="#00ffed"/><stop offset=".0983" stop-color="#00ffb9"/><stop offset=".1017" stop-color="#00fdff"/><stop offset=".105" stop-color="#00bfff"/><stop offset=".1083" stop-color="#00b3ff"/><stop offset=".1117" stop-color="#00b4ff"/><stop offset=".115" stop-color="#00c7ff"/><stop offset=".1183" stop-color="#00ebff"/><stop offset=".1217" stop-color="#00fbf5"/><stop offset=".125" stop-color="#00ffc5"/><stop offset=".1283" stop-color="#00ff86"/><stop offset=".1317" stop-color="#00ff67"/><stop offset=".1383" stop-color="#00ff5b"/><stop offset=".255" stop-color="#00ff72"/><stop offset=".325" stop-color="#00ff95"/><stop offset=".375" stop-color="#00ff9e"/><stop offset=".5783" stop-color="#00ff9a"/><stop offset=".9083" stop-color="#00ff7b"/><stop offset=".975" stop-color="#00ff7f"/><stop offset=".9817" stop-color="#00ff87"/><stop offset=".9983" stop-color="#00ffbd"/></linearGradient>
<linearGradient id="b28" x2="0" y2="1"><stop offset=".0017" stop-color="#ff9100"/><stop offset=".035" stop-color="#f80"/><stop offset=".0483" stop-color="#ff5000"/><stop offset=".055" stop-color="#ff4900"/><stop offset=".0583" stop-color="#ff6300"/><stop offset=".0617" stop-color="#ffd000"/><stop offset=".065" stop-color="#c1ff00"/><stop offset=".0683" stop-color="#52ff00"/><stop offset=".0717" stop-color="#00ff32"/><stop offset=".075" stop-color="#00ff91"/><stop offset=".0783" stop-color="#0ef"/><stop offset=".0817" stop-color="#00b4ff"/><stop offset=".085" stop-color="#00adff"/><stop offset=".0883" stop-color="#00afff"/><stop offset=".0917" stop-color="#00c3ff"/><stop offset=".095" stop-color="#00ffe7"/><stop offset=".0983" stop-color="#00ffc7"/><stop offset=".1017" stop-color="#00ebff"/><stop offset=".105" stop-color="#00bdff"/><stop offset=".1083" stop-color="#00b4ff"/><stop offset=".115" stop-color="#00bcff"/><stop offset=".1217" stop-color="#00d5ff"/><stop offset=".125" stop-color="#0fe"/><stop offset=".1283" stop-color="#00ff94"/><stop offset=".1317" stop-color="#00ff6a"/><stop offset=".1383" stop-color="#00ff59"/><stop offset=".375" stop-color="#00ff9b"/><stop offset=".555" stop-color="#0f9"/><stop offset=".9083" stop-color="#00ff74"/><stop offset=".975" stop-color="#00ff78"/><stop offset=".9817" stop-color="#00ff7f"/><stop offset=".9983" stop-color="#00ffb5"/></linearGradient>
<linearGradient id="b29" x2="0" y2="1"><stop offset=".0017" stop-color="#f80"/><stop offset=".035" stop-color="#ff8500"/><stop offset=".045" stop-color="#ff5800"/><stop offset=".0517" stop-color="#ff4a00"/><stop offset=".055" stop-color="#ff5000"/><stop offset=".0583" stop-color="#ff6e00"/><stop offset=".0617" stop-color="#ffe200"/><stop offset=".065" stop-color="#b6ff00"/><stop offset=".0683" stop-color="#4aff00"/><stop offset=".0717" stop-color="#00ff3b"/><stop offset=".075" stop-color="#00ff9a"/><stop offset=".0783" stop-color="#00e2ff"/><stop offset=".0817" stop-color="#00a7ff"/><stop offset=".085" stop-color="#009eff"/><stop offset=".0883" stop-color="#00a1ff"/><stop offset=".0917" stop-color="#00b4ff"/><stop offset=".095" stop-color="#00f6fb"/><stop offset=".0983" stop-color="#00f3f9"/><stop offset=".1017" stop-color="#00bdff"/><stop offset=".105" stop-color="#00a7ff"/><stop offset=".1083" stop-color="#00a3ff"/><stop offset=".1217" stop-color="#00adff"/><stop offset=".125" stop-color="#00e4ff"/><stop offset=".1283" stop-color="#00ffb2"/><stop offset=".1317" stop-color="#00ff7a"/><stop offset=".135" stop-color="#00ff68"/><stop offset=".1417" stop-color="#00ff62"/><stop offset=".175" stop-color="#00ff6e"/><stop offset=".255" stop-color="#00ff74"/><stop offset=".325" stop-color="#00ff92"/><stop offset=".3783" stop-color="#00ff9d"/><stop offset=".5617" stop-color="#00ff98"/><stop offset=".9083" stop-color="#00ff71"/><stop offset=".975" stop-color="#00ff74"/><stop offset=".9817" stop-color="#00ff7c"/><stop offset=".9983" stop-color="#00ffb1"/></linearGradient>
<linearGradient id="b30" x2="0" y2="1"><stop offset=".0017" stop-color="#ff8200"/><stop offset=".035" stop-color="#ff8300"/><stop offset=".045" stop-color="#ff5400"/><stop offset=".0517" stop-color="#ff5200"/><stop offset=".055" stop-color="#ff6200"/><stop offset=".0583" stop-color="#ff8700"/><stop offset=".0617" stop-color="#fdfa00"/><stop offset=".065" stop-color="#9fff00"/><stop offset=".0683" stop-color="#2cff00"/><stop offset=".0717" stop-color="#00ff4f"/><stop offset=".075" stop-color="#0fa"/><stop offset=".0783" stop-color="#00d2ff"/><stop offset=".0817" stop-color="#0095ff"/><stop offset=".085" stop-color="#008cff"/><stop offset=".0883" stop-color="#008eff"/><stop offset=".0917" stop-color="#009cff"/><stop offset=".095" stop-color="#00bcff"/><stop offset=".0983" stop-color="#00b9ff"/><stop offset=".1017" stop-color="#009bff"/><stop offset=".105" stop-color="#0096ff"/><stop offset=".1183" stop-color="#009aff"/><stop offset=".1217" stop-color="#00a6ff"/><stop offset=".125" stop-color="#00e0ff"/><stop offset=".1283" stop-color="#0fb"/><stop offset=".1317" stop-color="#00ff82"/><stop offset=".135" stop-color="#00ff6e"/><stop offset=".1417" stop-color="#00ff67"/><stop offset=".185" stop-color="#00ff74"/><stop offset=".255" stop-color="#00ff73"/><stop offset=".325" stop-color="#00ff93"/><stop offset=".3783" stop-color="#00ff9e"/><stop offset=".5817" stop-color="#00ff98"/><stop offset=".9083" stop-color="#00ff76"/><stop offset=".975" stop-color="#00ff78"/><stop offset=".9817" stop-color="#00ff80"/><stop offset=".9983" stop-color="#00ffb5"/></linearGradient>
<linearGradient id="b31" x2="0" y2="1"><stop offset=".0017" stop-color="#ff8500"/><stop offset=".0317" stop-color="#ff8700"/><stop offset=".035" stop-color="#ff8300"/><stop offset=".045" stop-color="#ff5100"/><stop offset=".0483" stop-color="#ff5000"/><stop offset=".0517" stop-color="#ff5900"/><stop offset=".055" stop-color="#ff7d00"/><stop offset=".0583" stop-color="#ffb700"/><stop offset=".0617" stop-color="#e1ff00"/><stop offset=".065" stop-color="#8aff00"/><stop offset=".0683" stop-color="#08ff01"/><stop offset=".0717" stop-color="#00ff67"/><stop offset=".075" stop-color="#00ffc1"/><stop offset=".0783" stop-color="#00c5ff"/><stop offset=".0817" stop-color="#0092ff"/><stop offset=".085" stop-color="#0089ff"/><stop offset=".095" stop-color="#009dff"/><stop offset=".1017" stop-color="#009dff"/><stop offset=".1083" stop-color="#00aeff"/><stop offset=".1183" stop-color="#00b3ff"/><stop offset=".1217" stop-color="#0cf"/><stop offset=".125" stop-color="#00ffeb"/><stop offset=".1283" stop-color="#00ffa1"/><stop offset=".1317" stop-color="#00ff7a"/><stop offset=".135" stop-color="#00ff69"/><stop offset=".145" stop-color="#00ff61"/><stop offset=".2517" stop-color="#00ff70"/><stop offset=".325" stop-color="#00ff95"/><stop offset=".3783" stop-color="#00ffa0"/><stop offset=".9083" stop-color="#00ff79"/><stop offset=".975" stop-color="#00ff7c"/><stop offset=".9817" stop-color="#00ff83"/><stop offset=".9983" stop-color="#00ffb9"/></linearGradient>
<linearGradient id="b32" x2="0" y2="1"><stop offset=".0017" stop-color="#ff8000"/><stop offset=".0317" stop-color="#ff8500"/><stop offset=".035" stop-color="#ff7e00"/><stop offset=".045" stop-color="#ff4d00"/><stop offset=".0483" stop-color="#ff5100"/><stop offset=".0517" stop-color="#ff6000"/><stop offset=".055" stop-color="#ff9f00"/><stop offset=".0583" stop-color="#f8f600"/><stop offset=".0617" stop-color="#c2ff00"/><stop offset=".065" stop-color="#74ff00"/><stop offset=".0683" stop-color="#00ff1a"/><stop offset=".075" stop-color="#00ffde"/><stop offset=".0783" stop-color="#00b8ff"/><stop offset=".0817" stop-color="#0097ff"/><stop offset=".085" stop-color="#0092ff"/><stop offset=".0983" stop-color="#009dff"/><stop offset=".105" stop-color="#00d7ff"/><stop offset=".1083" stop-color="#00e9ff"/><stop offset=".1183" stop-color="#00effd"/><stop offset=".1217" stop-color="#00ffed"/><stop offset=".1283" stop-color="#00ff89"/><stop offset=".1317" stop-color="#00ff70"/><stop offset=".1383" stop-color="#00ff60"/><stop offset=".145" stop-color="#00ff5e"/><stop offset=".1983" stop-color="#00ff60"/><stop offset=".3217" stop-color="#00ff96"/><stop offset=".375" stop-color="#00ff9f"/><stop offset=".5717" stop-color="#00ff97"/><stop offset=".835" stop-color="#00ff7a"/><stop offset=".975" stop-color="#00ff7b"/><stop offset=".9817" stop-color="#00ff83"/><stop offset=".9983" stop-color="#00ffb8"/></linearGradient>
<linearGradient id="b33" x2="0" y2="1"><stop offset=".0017" stop-color="#ff8300"/><stop offset=".0317" stop-color="#f80"/><stop offset=".045" stop-color="#ff4f00"/><stop offset=".0483" stop-color="#ff5800"/><stop offset=".0517" stop-color="#ff7900"/><stop offset=".055" stop-color="#ffbf00"/><stop offset=".0583" stop-color="#cdff00"/><stop offset=".0617" stop-color="#93ff00"/><stop offset=".065" stop-color="#4aff00"/><stop offset=".0683" stop-color="#00ff45"/><stop offset=".0717" stop-color="#00ff9a"/><stop offset=".075" stop-color="#00f6fc"/><stop offset=".0783" stop-color="#00a9ff"/><stop offset=".0817" stop-color="#0094ff"/><stop offset=".0983" stop-color="#0096ff"/><stop offset=".1017" stop-color="#00c9ff"/><stop offset=".105" stop-color="#00ffeb"/><stop offset=".1083" stop-color="#00ffd6"/><stop offset=".1183" stop-color="#00ffd1"/><stop offset=".1217" stop-color="#00ffbe"/><stop offset=".1283" stop-color="#00ff85"/><stop offset=".135" stop-color="#00ff6d"/><stop offset=".1883" stop-color="#00ff5c"/><stop offset=".2417" stop-color="#00ff70"/><stop offset=".2683" stop-color="#0f8"/><stop offset=".325" stop-color="#00ff9c"/><stop offset=".375" stop-color="#00ffa2"/><stop offset=".6017" stop-color="#00ff97"/><stop offset=".8617" stop-color="#00ff73"/><stop offset=".975" stop-color="#00ff75"/><stop offset=".9817" stop-color="#00ff7c"/><stop offset=".9983" stop-color="#00ffb2"/></linearGradient>
<linearGradient id="b34" x2="0" y2="1"><stop offset=".0017" stop-color="#ff9400"/><stop offset=".0317" stop-color="#ff9000"/><stop offset=".0417" stop-color="#ff5b00"/><stop offset=".045" stop-color="#f50"/><stop offset=".0483" stop-color="#ff6400"/><stop offset=".0517" stop-color="#ffa900"/><stop offset=".055" stop-color="#f1f800"/><stop offset=".0617" stop-color="#4f0"/><stop offset=".065" stop-color="#03ff1f"/><stop offset=".0683" stop-color="#00ff85"/><stop offset=".0717" stop-color="#00ffcd"/><stop offset=".075" stop-color="#00cbff"/><stop offset=".0783" stop-color="#0097ff"/><stop offset=".0817" stop-color="#008eff"/><stop offset=".095" stop-color="#0092ff"/><stop offset=".0983" stop-color="#09f"/><stop offset=".1017" stop-color="#00daff"/><stop offset=".105" stop-color="#00ffc0"/><stop offset=".1083" stop-color="#00ffa7"/><stop offset=".1183" stop-color="#00ffa0"/><stop offset=".1317" stop-color="#00ff6a"/><stop offset=".1617" stop-color="#00ff5c"/><stop offset=".1983" stop-color="#00ff5d"/><stop offset=".2517" stop-color="#00ff78"/><stop offset=".265" stop-color="#0f8"/><stop offset=".325" stop-color="#00ff9f"/><stop offset=".375" stop-color="#00ffa6"/><stop offset=".595" stop-color="#00ff94"/><stop offset=".9083" stop-color="#00ff6a"/><stop offset=".975" stop-color="#00ff6c"/><stop offset=".9817" stop-color="#00ff73"/><stop offset=".9983" stop-color="#00ffa9"/></linearGradient>
<linearGradient id="b35" x2="0" y2="1"><stop offset=".0017" stop-color="#ff9300"/><stop offset=".0317" stop-color="#ff9100"/><stop offset=".0417" stop-color="#ff5c00"/><stop offset=".045" stop-color="#ff5a00"/><stop offset=".0483" stop-color="#ff7100"/><stop offset=".0517" stop-color="#ffd400"/><stop offset=".055" stop-color="#baff00"/><stop offset=".0583" stop-color="#4f0"/><stop offset=".0617" stop-color="#00ff31"/><stop offset=".0683" stop-color="#00ffc8"/><stop offset=".0717" stop-color="#00ecff"/><stop offset=".075" stop-color="#00abff"/><stop offset=".0783" stop-color="#0091ff"/><stop offset=".0983" stop-color="#0af"/><stop offset=".1017" stop-color="#00f0ff"/><stop offset=".105" stop-color="#00ffa9"/><stop offset=".1083" stop-color="#00ff8a"/><stop offset=".1183" stop-color="#00ff83"/><stop offset=".1317" stop-color="#00ff64"/><stop offset=".1417" stop-color="#00ff5e"/><stop offset=".1983" stop-color="#00ff59"/><stop offset=".2517" stop-color="#00ff67"/><stop offset=".265" stop-color="#00ff83"/><stop offset=".325" stop-color="#00ff9c"/><stop offset=".3783" stop-color="#00ffa5"/><stop offset=".5017" stop-color="#00ff9c"/><stop offset=".9083" stop-color="#00ff63"/><stop offset=".975" stop-color="#00ff64"/><stop offset=".9817" stop-color="#00ff6c"/><stop offset=".9983" stop-color="#00ffa1"/></linearGradient>
<linearGradient id="b36" x2="0" y2="1"><stop offset=".0017" stop-color="#ff8700"/><stop offset=".0317" stop-color="#ff8700"/><stop offset=".0417" stop-color="#ff5200"/><stop offset=".045" stop-color="#ff5300"/><stop offset=".0483" stop-color="#ff7400"/><stop offset=".0517" stop-color="#ffe700"/><stop offset=".055" stop-color="#a7ff00"/><stop offset=".0583" stop-color="#1aff00"/><stop offset=".0617" stop-color="#00ff60"/><stop offset=".065" stop-color="#00ffa6"/><stop offset=".0683" stop-color="#00f8fa"/><stop offset=".0717" stop-color="#00c1ff"/><stop offset=".075" stop-color="#00a4ff"/><stop offset=".0783" stop-color="#009eff"/><stop offset=".085" stop-color="#00c4ff"/><stop offset=".0983" stop-color="#00d2ff"/><stop offset=".1017" stop-color="#00fff3"/><stop offset=".105" stop-color="#00ffa2"/><stop offset=".1083" stop-color="#00ff84"/><stop offset=".1183" stop-color="#00ff80"/><stop offset=".1383" stop-color="#00ff64"/><stop offset=".1983" stop-color="#00ff53"/><stop offset=".2517" stop-color="#00ff60"/><stop offset=".265" stop-color="#00ff85"/><stop offset=".325" stop-color="#00ff9d"/><stop offset=".375" stop-color="#00ffa6"/><stop offset=".5283" stop-color="#00ff9c"/><stop offset=".9117" stop-color="#00ff62"/><stop offset=".9783" stop-color="#00ff64"/><stop offset=".9983" stop-color="#00ffa1"/></linearGradient>
<linearGradient id="b37" x2="0" y2="1"><stop offset=".0017" stop-color="#ff7600"/><stop offset=".0317" stop-color="#ff7800"/><stop offset=".0417" stop-color="#ff4500"/><stop offset=".045" stop-color="#ff4900"/><stop offset=".0483" stop-color="#ff7500"/><stop offset=".0517" stop-color="#fff200"/><stop offset=".055" stop-color="#a1ff00"/><stop offset=".0583" stop-color="#0eff00"/><stop offset=".0617" stop-color="#0f6"/><stop offset=".065" stop-color="#00ffbc"/><stop offset=".0683" stop-color="#00daff"/><stop offset=".0717" stop-color="#00b1ff"/><stop offset=".075" stop-color="#00a5ff"/><stop offset=".0783" stop-color="#00abff"/><stop offset=".0817" stop-color="#00dbff"/><stop offset=".085" stop-color="#00f9f2"/><stop offset=".0883" stop-color="#00ffeb"/><stop offset=".0983" stop-color="#00ffef"/><stop offset=".1017" stop-color="#00ffd4"/><stop offset=".105" stop-color="#00ffa8"/><stop offset=".1083" stop-color="#00ff94"/><stop offset=".1183" stop-color="#00ff98"/><stop offset=".125" stop-color="#00ff82"/><stop offset=".1417" stop-color="#00ff6c"/><stop offset=".1983" stop-color="#00ff58"/><stop offset=".2517" stop-color="#00ff61"/><stop offset=".265" stop-color="#00ff8b"/><stop offset=".325" stop-color="#00ffa3"/><stop offset=".375" stop-color="#00ffac"/><stop offset=".515" stop-color="#00ffa2"/><stop offset=".9117" stop-color="#00ff63"/><stop offset=".9783" stop-color="#00ff65"/><stop offset=".9983" stop-color="#00ffa1"/></linearGradient>
<linearGradient id="b38" x2="0" y2="1"><stop offset=".0017" stop-color="#ff7600"/><stop offset=".0283" stop-color="#ff7c00"/><stop offset=".0317" stop-color="#ff7800"/><stop offset=".0417" stop-color="#ff4500"/><stop offset=".045" stop-color="#ff4a00"/><stop offset=".0483" stop-color="#ff7f00"/><stop offset=".0517" stop-color="#fefe00"/><stop offset=".055" stop-color="#9bff00"/><stop offset=".0583" stop-color="#10ff00"/><stop offset=".0617" stop-color="#00ff61"/><stop offset=".065" stop-color="#00ffb1"/><stop offset=".0683" stop-color="#00e1ff"/><stop offset=".0717" stop-color="#00b6ff"/><stop offset=".075" stop-color="#00b0ff"/><stop offset=".0783" stop-color="#00baff"/><stop offset=".0817" stop-color="#00fdf7"/><stop offset=".085" stop-color="#00ffba"/><stop offset=".0883" stop-color="#00ffb1"/><stop offset=".0983" stop-color="#00ffbe"/><stop offset=".105" stop-color="#00ffa6"/><stop offset=".1183" stop-color="#00ffac"/><stop offset=".125" stop-color="#00ff85"/><stop offset=".1417" stop-color="#00ff69"/><stop offset=".185" stop-color="#00ff5c"/><stop offset=".2417" stop-color="#00ff69"/><stop offset=".2517" stop-color="#00ff70"/><stop offset=".265" stop-color="#00ff86"/><stop offset=".3217" stop-color="#00ff9e"/><stop offset=".375" stop-color="#00ffa8"/><stop offset=".5217" stop-color="#00ff9d"/><stop offset=".9117" stop-color="#00ff5a"/><stop offset=".9783" stop-color="#00ff5d"/><stop offset=".9983" stop-color="#00ff9a"/></linearGradient>
<linearGradient id="b39" x2="0" y2="1"><stop offset=".0017" stop-color="#ff8500"/><stop offset=".0283" stop-color="#ff8200"/><stop offset=".0317" stop-color="#ff7d00"/><stop offset=".0417" stop-color="#ff4600"/><stop offset=".045" stop-color="#ff4b00"/><stop offset=".0483" stop-color="#ff7e00"/><stop offset=".0517" stop-color="#fffc00"/><stop offset=".055" stop-color="#a8ff00"/><stop offset=".0583" stop-color="#2bff00"/><stop offset=".0617" stop-color="#00ff4d"/><stop offset=".065" stop-color="#00ff95"/><stop offset=".0683" stop-color="#00fff2"/><stop offset=".0717" stop-color="#00dfff"/><stop offset=".075" stop-color="#00d5ff"/><stop offset=".0783" stop-color="#00e2ff"/><stop offset=".0817" stop-color="#00ffd3"/><stop offset=".085" stop-color="#00ff94"/><stop offset=".0883" stop-color="#00ff8c"/><stop offset=".105" stop-color="#00ffa8"/><stop offset=".115" stop-color="#00ffc6"/><stop offset=".1183" stop-color="#00ffc0"/><stop offset=".125" stop-color="#00ff85"/><stop offset=".135" stop-color="#00ff6d"/><stop offset=".185" stop-color="#00ff5a"/><stop offset=".2083" stop-color="#00ff5f"/><stop offset=".255" stop-color="#00ff84"/><stop offset=".375" stop-color="#00ffa6"/><stop offset=".5483" stop-color="#00ff97"/><stop offset=".9117" stop-color="#00ff5c"/><stop offset=".9783" stop-color="#00ff60"/><stop offset=".9983" stop-color="#00ff9c"/></linearGradient>
<linearGradient id="b40" x2="0" y2="1"><stop offset=".0017" stop-color="#ff8500"/><stop offset=".0283" stop-color="#ff8300"/><stop offset=".0317" stop-color="#ff7e00"/><stop offset=".0417" stop-color="#ff4800"/><stop offset=".045" stop-color="#ff4b00"/><stop offset=".0483" stop-color="#ff7400"/><stop offset=".0517" stop-color="#ffe600"/><stop offset=".055" stop-color="#beff00"/><stop offset=".0583" stop-color="#56ff00"/><stop offset=".0617" stop-color="#00ff29"/><stop offset=".065" stop-color="#00ff7c"/><stop offset=".0683" stop-color="#00ffbc"/><stop offset=".0717" stop-color="#00ffde"/><stop offset=".075" stop-color="#00ffe8"/><stop offset=".0783" stop-color="#00ffdf"/><stop offset=".085" stop-color="#00ff94"/><stop offset=".0883" stop-color="#00ff81"/><stop offset=".1017" stop-color="#00ff9e"/><stop offset=".1083" stop-color="#00ffcd"/><stop offset=".1117" stop-color="#00ffcf"/><stop offset=".115" stop-color="#00ffe5"/><stop offset=".1183" stop-color="#00ffd9"/><stop offset=".1217" stop-color="#00ffa1"/><stop offset=".125" stop-color="#00ff85"/><stop offset=".1317" stop-color="#00ff6e"/><stop offset=".145" stop-color="#00ff5d"/><stop offset=".1717" stop-color="#00ff56"/><stop offset=".1983" stop-color="#00ff5a"/><stop offset=".2617" stop-color="#00ff8a"/><stop offset=".325" stop-color="#00ffa3"/><stop offset=".375" stop-color="#00ffac"/><stop offset=".5483" stop-color="#00ff9c"/><stop offset=".9117" stop-color="#0f6"/><stop offset=".9783" stop-color="#00ff69"/><stop offset=".9983" stop-color="#00ffa6"/></linearGradient>
<linearGradient id="b41" x2="0" y2="1"><stop offset=".0017" stop-color="#ff8000"/><stop offset=".0283" stop-color="#ff7e00"/><stop offset=".0417" stop-color="#ff4600"/><stop offset=".045" stop-color="#ff4600"/><stop offset=".0483" stop-color="#ff6000"/><stop offset=".0517" stop-color="#ffb500"/><stop offset=".055" stop-color="#e0ff00"/><stop offset=".0583" stop-color="#8bff00"/><stop offset=".0617" stop-color="#14ff00"/><stop offset=".065" stop-color="#00ff60"/><stop offset=".0683" stop-color="#00ff8d"/><stop offset=".0817" stop-color="#00ffd1"/><stop offset=".085" stop-color="#00ffb5"/><stop offset=".0883" stop-color="#00ff89"/><stop offset=".0917" stop-color="#00ff80"/><stop offset=".1017" stop-color="#00ffa5"/><stop offset=".105" stop-color="#00ffc6"/><stop offset=".1083" stop-color="#00fdf5"/><stop offset=".115" stop-color="#00fdfe"/><stop offset=".1183" stop-color="#00ffeb"/><stop offset=".1217" stop-color="#00ffa8"/><stop offset=".125" stop-color="#00ff8a"/><stop offset=".1283" stop-color="#00ff7c"/><stop offset=".1417" stop-color="#00ff5f"/><stop offset=".1617" stop-color="#00ff56"/><stop offset=".1983" stop-color="#00ff5c"/><stop offset=".2517" stop-color="#00ff85"/><stop offset=".265" stop-color="#00ff82"/><stop offset=".375" stop-color="#00ffa6"/><stop offset=".5083" stop-color="#00ff9f"/><stop offset=".9117" stop-color="#00ff68"/><stop offset=".9783" stop-color="#00ff6b"/><stop offset=".9983" stop-color="#00ffa7"/></linearGradient>
<linearGradient id="b42" x2="0" y2="1"><stop offset=".0017" stop-color="#ff7a00"/><stop offset=".0283" stop-color="#ff7a00"/><stop offset=".0383" stop-color="#ff4e00"/><stop offset=".045" stop-color="#f40"/><stop offset=".0483" stop-color="#ff5300"/><stop offset=".0517" stop-color="#ff8700"/><stop offset=".055" stop-color="#fdf700"/><stop offset=".0583" stop-color="#abff00"/><stop offset=".0617" stop-color="#3aff00"/><stop offset=".065" stop-color="#00ff49"/><stop offset=".0683" stop-color="#00ff73"/><stop offset=".075" stop-color="#00ff92"/><stop offset=".0783" stop-color="#00ffd6"/><stop offset=".0817" stop-color="#00edff"/><stop offset=".085" stop-color="#00ffd3"/><stop offset=".0883" stop-color="#00ff8f"/><stop offset=".0917" stop-color="#00ff81"/><stop offset=".1017" stop-color="#00ffab"/><stop offset=".105" stop-color="#00ffce"/><stop offset=".1083" stop-color="#00e4ff"/><stop offset=".1117" stop-color="#00e7ff"/><stop offset=".115" stop-color="#00fff7"/><stop offset=".1183" stop-color="#00ffe7"/><stop offset=".1217" stop-color="#00ffb1"/><stop offset=".125" stop-color="#00ff94"/><stop offset=".1317" stop-color="#00ff7c"/><stop offset=".1483" stop-color="#00ff62"/><stop offset=".175" stop-color="#00ff59"/><stop offset=".1983" stop-color="#00ff5b"/><stop offset=".245" stop-color="#00ff7d"/><stop offset=".265" stop-color="#0f7"/><stop offset=".325" stop-color="#00ff92"/><stop offset=".3817" stop-color="#00ff9f"/><stop offset=".485" stop-color="#00ff9c"/><stop offset=".9083" stop-color="#00ff6a"/><stop offset=".975" stop-color="#00ff6d"/><stop offset=".9817" stop-color="#00ff75"/><stop offset=".9983" stop-color="#0fa"/></linearGradient>
<linearGradient id="b43" x2="0" y2="1"><stop offset=".0017" stop-color="#ff8500"/><stop offset=".025" stop-color="#ff8600"/><stop offset=".0283" stop-color="#ff8100"/><stop offset=".0383" stop-color="#ff5000"/><stop offset=".045" stop-color="#ff4f00"/><stop offset=".0483" stop-color="#ff5d00"/><stop offset=".0517" stop-color="#ff8300"/><stop offset=".055" stop-color="#ffeb00"/><stop offset=".0583" stop-color="#a8ff00"/><stop offset=".0617" stop-color="#2bff00"/><stop offset=".065" stop-color="#00ff42"/><stop offset=".0683" stop-color="#00ff64"/><stop offset=".0717" stop-color="#00ff6f"/><stop offset=".075" stop-color="#00ff90"/><stop offset=".0783" stop-color="#00fff0"/><stop offset=".0817" stop-color="#00d0ff"/><stop offset=".085" stop-color="#00ffd7"/><stop offset=".0883" stop-color="#00ff8a"/><stop offset=".0917" stop-color="#00ff7a"/><stop offset=".095" stop-color="#00ff80"/><stop offset=".1017" stop-color="#00ffa3"/><stop offset=".105" stop-color="#00ffc8"/><stop offset=".1083" stop-color="#00ecff"/><stop offset=".1117" stop-color="#00efff"/><stop offset=".115" stop-color="#00ffd9"/><stop offset=".1183" stop-color="#0fc"/><stop offset=".125" stop-color="#00ff93"/><stop offset=".1317" stop-color="#00ff7e"/><stop offset=".1483" stop-color="#00ff6b"/><stop offset=".195" stop-color="#00ff5e"/><stop offset=".325" stop-color="#00ff91"/><stop offset=".375" stop-color="#00ff9a"/><stop offset=".9083" stop-color="#00ff6e"/><stop offset=".975" stop-color="#00ff72"/><stop offset=".9817" stop-color="#00ff7a"/><stop offset=".9983" stop-color="#00ffb0"/></linearGradient>
<linearGradient id="b44" x2="0" y2="1"><stop offset=".0017" stop-color="#f80"/><stop offset=".025" stop-color="#ff8a00"/><stop offset=".0283" stop-color="#ff8400"/><stop offset=".0383" stop-color="#ff5100"/><stop offset=".0417" stop-color="#ff5000"/><stop offset=".045" stop-color="#ff5b00"/><stop offset=".0483" stop-color="#ff7b00"/><stop offset=".0517" stop-color="#ffba00"/><stop offset=".055" stop-color="#e4ff00"/><stop offset=".0583" stop-color="#80ff00"/><stop offset=".0617" stop-color="#03ff08"/><stop offset=".065" stop-color="#00ff4a"/><stop offset=".0717" stop-color="#00ff67"/><stop offset=".075" stop-color="#00ff8b"/><stop offset=".0783" stop-color="#00ffea"/><stop offset=".0817" stop-color="#00e3ff"/><stop offset=".085" stop-color="#00ffc9"/><stop offset=".0883" stop-color="#00ff82"/><stop offset=".0917" stop-color="#00ff6f"/><stop offset=".095" stop-color="#00ff73"/><stop offset=".1017" stop-color="#00ff93"/><stop offset=".1083" stop-color="#00ffe3"/><stop offset=".1117" stop-color="#00ffe2"/><stop offset=".115" stop-color="#00ffba"/><stop offset=".125" stop-color="#00ff82"/><stop offset=".1283" stop-color="#00ff78"/><stop offset=".1417" stop-color="#0f6"/><stop offset=".1583" stop-color="#00ff62"/><stop offset=".1983" stop-color="#00ff62"/><stop offset=".325" stop-color="#00ff90"/><stop offset=".375" stop-color="#00ff97"/><stop offset=".8317" stop-color="#00ff72"/><stop offset=".975" stop-color="#00ff73"/><stop offset=".9817" stop-color="#00ff7b"/><stop offset=".9983" stop-color="#00ffb0"/></linearGradient>
<linearGradient id="b45" x2="0" y2="1"><stop offset=".0017" stop-color="#ff8400"/><stop offset=".025" stop-color="#ff8700"/><stop offset=".0283" stop-color="#ff7f00"/><stop offset=".035" stop-color="#ff5800"/><stop offset=".0383" stop-color="#ff4d00"/><stop offset=".0417" stop-color="#ff5200"/><stop offset=".045" stop-color="#ff6900"/><stop offset=".0517" stop-color="#f5f800"/><stop offset=".055" stop-color="#aeff00"/><stop offset=".0583" stop-color="#3eff00"/><stop offset=".0617" stop-color="#00ff2d"/><stop offset=".065" stop-color="#00ff51"/><stop offset=".0717" stop-color="#00ff65"/><stop offset=".075" stop-color="#00ff86"/><stop offset=".0783" stop-color="#00ffce"/><stop offset=".0817" stop-color="#00ffe3"/><stop offset=".085" stop-color="#00ffa5"/><stop offset=".0883" stop-color="#00ff75"/><stop offset=".0917" stop-color="#0f6"/><stop offset=".0983" stop-color="#00ff74"/><stop offset=".1083" stop-color="#00ffb5"/><stop offset=".1117" stop-color="#00ffb4"/><stop offset=".1183" stop-color="#00ff8b"/><stop offset=".1283" stop-color="#00ff69"/><stop offset=".1483" stop-color="#00ff5b"/><stop offset=".1983" stop-color="#00ff61"/><stop offset=".245" stop-color="#00ff81"/><stop offset=".265" stop-color="#00ff76"/><stop offset=".325" stop-color="#00ff8c"/><stop offset=".375" stop-color="#00ff93"/><stop offset=".9083" stop-color="#00ff76"/><stop offset=".975" stop-color="#00ff7b"/><stop offset=".9817" stop-color="#00ff82"/><stop offset=".9983" stop-color="#00ffb8"/></linearGradient>
<linearGradient id="b46" x2="0" y2="1"><stop offset=".0017" stop-color="#ff9200"/><stop offset=".025" stop-color="#ff8f00"/><stop offset=".0283" stop-color="#ff8500"/><stop offset=".035" stop-color="#ff5c00"/><stop offset=".0383" stop-color="#ff5300"/><stop offset=".0417" stop-color="#ff5e00"/><stop offset=".045" stop-color="#ff8a00"/><stop offset=".0483" stop-color="#fe0"/><stop offset=".0517" stop-color="#c7ff00"/><stop offset=".055" stop-color="#74ff00"/><stop offset=".0583" stop-color="#03ff0a"/><stop offset=".0617" stop-color="#0f4"/><stop offset=".065" stop-color="#00ff57"/><stop offset=".0717" stop-color="#0f6"/><stop offset=".0783" stop-color="#00ffa4"/><stop offset=".0817" stop-color="#00ffa7"/><stop offset=".0883" stop-color="#00ff67"/><stop offset=".0917" stop-color="#00ff5f"/><stop offset=".0983" stop-color="#00ff6d"/><stop offset=".1083" stop-color="#00ff96"/><stop offset=".1117" stop-color="#00ff95"/><stop offset=".1183" stop-color="#00ff7a"/><stop offset=".1283" stop-color="#00ff61"/><stop offset=".1517" stop-color="#00ff54"/><stop offset=".1983" stop-color="#00ff5c"/><stop offset=".2483" stop-color="#0f7"/><stop offset=".325" stop-color="#00ff91"/><stop offset=".375" stop-color="#00ff95"/><stop offset=".9083" stop-color="#00ff7c"/><stop offset=".975" stop-color="#00ff80"/><stop offset=".9817" stop-color="#0f8"/><stop offset=".9983" stop-color="#00ffbe"/></linearGradient>
<linearGradient id="b47" x2="0" y2="1"><stop offset=".0017" stop-color="#ff8b00"/><stop offset=".025" stop-color="#ff8900"/><stop offset=".0283" stop-color="#ff7e00"/><stop offset=".035" stop-color="#f50"/><stop offset=".0383" stop-color="#ff4e00"/><stop offset=".0417" stop-color="#ff6000"/><stop offset=".045" stop-color="#ffaf00"/><stop offset=".0483" stop-color="#ebff00"/><stop offset=".0517" stop-color="#abff00"/><stop offset=".055" stop-color="#45ff00"/><stop offset=".0583" stop-color="#00ff28"/><stop offset=".0617" stop-color="#00ff47"/><stop offset=".0717" stop-color="#00ff5b"/><stop offset=".0783" stop-color="#00ff79"/><stop offset=".0817" stop-color="#0f7"/><stop offset=".0883" stop-color="#00ff54"/><stop offset=".0917" stop-color="#00ff52"/><stop offset=".1083" stop-color="#00ff7f"/><stop offset=".135" stop-color="#00ff5f"/><stop offset=".195" stop-color="#00ff5d"/><stop offset=".3183" stop-color="#00ff92"/><stop offset=".3717" stop-color="#00ff98"/><stop offset=".5717" stop-color="#00ff84"/><stop offset=".9117" stop-color="#00ff7d"/><stop offset=".9783" stop-color="#00ff83"/><stop offset=".9983" stop-color="#00ffc0"/></linearGradient>
<linearGradient id="b48" x2="0" y2="1"><stop offset=".0017" stop-color="#ff8400"/><stop offset=".025" stop-color="#ff8300"/><stop offset=".0283" stop-color="#ff7900"/><stop offset=".035" stop-color="#ff5100"/><stop offset=".0383" stop-color="#ff4c00"/><stop offset=".0417" stop-color="#ff6000"/><stop offset=".045" stop-color="#ffc000"/><stop offset=".0483" stop-color="#dbff00"/><stop offset=".0517" stop-color="#97ff00"/><stop offset=".055" stop-color="#28ff00"/><stop offset=".0583" stop-color="#00ff34"/><stop offset=".0617" stop-color="#00ff4b"/><stop offset=".075" stop-color="#00ff5f"/><stop offset=".0783" stop-color="#00ff63"/><stop offset=".0883" stop-color="#00ff4a"/><stop offset=".0917" stop-color="#00ff4c"/><stop offset=".105" stop-color="#00ff70"/><stop offset=".1117" stop-color="#00ff76"/><stop offset=".125" stop-color="#00ff6c"/><stop offset=".2017" stop-color="#00ff5d"/><stop offset=".265" stop-color="#00ff83"/><stop offset=".325" stop-color="#00ff97"/><stop offset=".375" stop-color="#00ff9a"/><stop offset=".6517" stop-color="#00ff7b"/><stop offset=".9117" stop-color="#00ff7a"/><stop offset=".9783" stop-color="#00ff7f"/><stop offset=".9983" stop-color="#00ffbc"/></linearGradient>
<linearGradient id="b49" x2="0" y2="1"><stop offset=".0017" stop-color="#ff7f00"/><stop offset=".025" stop-color="#ff8000"/><stop offset=".0283" stop-color="#f70"/><stop offset=".035" stop-color="#ff5300"/><stop offset=".0383" stop-color="#ff4d00"/><stop offset=".0417" stop-color="#ff5f00"/><stop offset=".045" stop-color="#ffb600"/><stop offset=".0483" stop-color="#dcff00"/><stop offset=".0517" stop-color="#92ff00"/><stop offset=".055" stop-color="#2fff00"/><stop offset=".0583" stop-color="#00ff2f"/><stop offset=".0617" stop-color="#00ff4e"/><stop offset=".065" stop-color="#00ff58"/><stop offset=".0783" stop-color="#00ff5f"/><stop offset=".0883" stop-color="#00ff4c"/><stop offset=".1083" stop-color="#0f7"/><stop offset=".1983" stop-color="#00ff62"/><stop offset=".265" stop-color="#00ff85"/><stop offset=".325" stop-color="#00ff98"/><stop offset=".375" stop-color="#00ff9a"/><stop offset=".6317" stop-color="#00ff80"/><stop offset=".9117" stop-color="#00ff76"/><stop offset=".9783" stop-color="#00ff7a"/><stop offset=".9983" stop-color="#00ffb6"/></linearGradient>
<linearGradient id="b50" x2="0" y2="1"><stop offset=".0017" stop-color="#ff8200"/><stop offset=".025" stop-color="#ff8100"/><stop offset=".0383" stop-color="#ff5000"/><stop offset=".0417" stop-color="#ff5f00"/><stop offset=".045" stop-color="#ffab00"/><stop offset=".0483" stop-color="#e1ff00"/><stop offset=".0517" stop-color="#9bff00"/><stop offset=".055" stop-color="#48ff00"/><stop offset=".0583" stop-color="#00ff1c"/><stop offset=".0617" stop-color="#00ff4c"/><stop offset=".065" stop-color="#00ff5b"/><stop offset=".075" stop-color="#00ff63"/><stop offset=".0883" stop-color="#00ff50"/><stop offset=".1017" stop-color="#00ff75"/><stop offset=".1117" stop-color="#00ff7d"/><stop offset=".1983" stop-color="#00ff65"/><stop offset=".2417" stop-color="#00ff73"/><stop offset=".265" stop-color="#00ff89"/><stop offset=".2817" stop-color="#00ff8f"/><stop offset=".325" stop-color="#00ff9b"/><stop offset=".3717" stop-color="#00ff9c"/><stop offset=".5383" stop-color="#00ff87"/><stop offset=".9083" stop-color="#00ff71"/><stop offset=".975" stop-color="#00ff75"/><stop offset=".9817" stop-color="#00ff7c"/><stop offset=".9983" stop-color="#00ffb2"/></linearGradient>
<linearGradient id="b51" x2="0" y2="1"><stop offset=".0017" stop-color="#ff8b00"/><stop offset=".025" stop-color="#f80"/><stop offset=".0383" stop-color="#ff5700"/><stop offset=".0417" stop-color="#ff6200"/><stop offset=".045" stop-color="#fa0"/><stop offset=".0483" stop-color="#e5ff00"/><stop offset=".055" stop-color="#62ff00"/><stop offset=".0583" stop-color="#09ff02"/><stop offset=".0617" stop-color="#00ff3e"/><stop offset=".065" stop-color="#0f5"/><stop offset=".0717" stop-color="#00ff5d"/><stop offset=".085" stop-color="#0f4"/><stop offset=".0883" stop-color="#00ff45"/><stop offset=".0983" stop-color="#0f6"/><stop offset=".1083" stop-color="#00ff72"/><stop offset=".195" stop-color="#00ff65"/><stop offset=".235" stop-color="#00ff6c"/><stop offset=".2517" stop-color="#00ff75"/><stop offset=".265" stop-color="#00ff8b"/><stop offset=".325" stop-color="#00ff9f"/><stop offset=".375" stop-color="#00ffa2"/><stop offset=".9117" stop-color="#00ff6b"/><stop offset=".9783" stop-color="#00ff6e"/><stop offset=".9983" stop-color="#00ffab"/></linearGradient>
<linearGradient id="b52" x2="0" y2="1"><stop offset=".0017" stop-color="#ff7f00"/><stop offset=".025" stop-color="#ff7d00"/><stop offset=".0383" stop-color="#ff5000"/><stop offset=".0417" stop-color="#ff5c00"/><stop offset=".045" stop-color="#ffa300"/><stop offset=".0483" stop-color="#f2ff00"/><stop offset=".055" stop-color="#7fff00"/><stop offset=".0583" stop-color="#32ff00"/><stop offset=".0617" stop-color="#0f2"/><stop offset=".065" stop-color="#00ff46"/><stop offset=".0683" stop-color="#00ff4f"/><stop offset=".075" stop-color="#00ff4c"/><stop offset=".085" stop-color="#00ff30"/><stop offset=".0883" stop-color="#00ff32"/><stop offset=".0983" stop-color="#00ff56"/><stop offset=".105" stop-color="#00ff60"/><stop offset=".2417" stop-color="#00ff69"/><stop offset=".2517" stop-color="#00ff6d"/><stop offset=".265" stop-color="#00ff86"/><stop offset=".3283" stop-color="#00ff9d"/><stop offset=".375" stop-color="#00ffa2"/><stop offset=".525" stop-color="#00ff96"/><stop offset=".9117" stop-color="#00ff67"/><stop offset=".9783" stop-color="#00ff6a"/><stop offset=".9983" stop-color="#00ffa6"/></linearGradient>
<linearGradient id="b53" x2="0" y2="1"><stop offset=".0017" stop-color="#ff7e00"/><stop offset=".025" stop-color="#ff7f00"/><stop offset=".035" stop-color="#ff5c00"/><stop offset=".0383" stop-color="#ff5800"/><stop offset=".0417" stop-color="#ff6800"/><stop offset=".045" stop-color="#ffb600"/><stop offset=".0483" stop-color="#ecff00"/><stop offset=".055" stop-color="#87ff00"/><stop offset=".0583" stop-color="#48ff00"/><stop offset=".0617" stop-color="#00ff10"/><stop offset=".065" stop-color="#00ff48"/><stop offset=".0683" stop-color="#00ff56"/><stop offset=".075" stop-color="#00ff50"/><stop offset=".085" stop-color="#00ff31"/><stop offset=".0883" stop-color="#0f3"/><stop offset=".0983" stop-color="#00ff5b"/><stop offset=".1083" stop-color="#00ff67"/><stop offset=".2417" stop-color="#00ff6a"/><stop offset=".2517" stop-color="#00ff6e"/><stop offset=".265" stop-color="#00ff86"/><stop offset=".3283" stop-color="#00ff9d"/><stop offset=".4183" stop-color="#00ff9f"/><stop offset=".9117" stop-color="#00ff65"/><stop offset=".9783" stop-color="#00ff68"/><stop offset=".9983" stop-color="#00ffa4"/></linearGradient>
<linearGradient id="b54" x2="0" y2="1"><stop offset=".0017" stop-color="#ff8000"/><stop offset=".025" stop-color="#ff8700"/><stop offset=".0383" stop-color="#ff6700"/><stop offset=".0417" stop-color="#ff7a00"/><stop offset=".045" stop-color="#fc0"/><stop offset=".0483" stop-color="#e2ff00"/><stop offset=".055" stop-color="#81ff00"/><stop offset=".0583" stop-color="#41ff00"/><stop offset=".0617" stop-color="#00ff19"/><stop offset=".065" stop-color="#00ff56"/><stop offset=".0683" stop-color="#00ff61"/><stop offset=".075" stop-color="#00ff53"/><stop offset=".085" stop-color="#00ff2e"/><stop offset=".0883" stop-color="#00ff30"/><stop offset=".0983" stop-color="#00ff58"/><stop offset=".105" stop-color="#00ff61"/><stop offset=".2283" stop-color="#00ff6c"/><stop offset=".335" stop-color="#00ff9b"/><stop offset=".4083" stop-color="#00ff9e"/><stop offset=".9117" stop-color="#00ff67"/><stop offset=".9783" stop-color="#00ff6a"/><stop offset=".9983" stop-color="#00ffa7"/></linearGradient>
<linearGradient id="b55" x2="0" y2="1"><stop offset=".0017" stop-color="#ff8d00"/><stop offset=".025" stop-color="#ff9500"/><stop offset=".0383" stop-color="#ff7900"/><stop offset=".0417" stop-color="#f80"/><stop offset=".045" stop-color="#ffc500"/><stop offset=".0483" stop-color="#e6ff00"/><stop offset=".055" stop-color="#71ff00"/><stop offset=".0583" stop-color="#1dff00"/><stop offset=".0617" stop-color="#00ff42"/><stop offset=".065" stop-color="#00ff6b"/><stop offset=".0683" stop-color="#00ff6c"/><stop offset=".085" stop-color="#00ff25"/><stop offset=".0883" stop-color="#00ff25"/><stop offset=".0983" stop-color="#00ff4b"/><stop offset=".105" stop-color="#00ff53"/><stop offset=".1483" stop-color="#00ff52"/><stop offset=".1983" stop-color="#00ff62"/><stop offset=".2483" stop-color="#00ff7e"/><stop offset=".375" stop-color="#00ffa0"/><stop offset=".9117" stop-color="#00ff68"/><stop offset=".9783" stop-color="#00ff6a"/><stop offset=".9983" stop-color="#00ffa6"/></linearGradient>
<linearGradient id="b56" x2="0" y2="1"><stop offset=".0017" stop-color="#ffa200"/><stop offset=".025" stop-color="#ffa100"/><stop offset=".0383" stop-color="#ff8000"/><stop offset=".0417" stop-color="#ff8700"/><stop offset=".045" stop-color="#ffab00"/><stop offset=".0483" stop-color="#fafe00"/><stop offset=".055" stop-color="#6f0"/><stop offset=".0583" stop-color="#00ff09"/><stop offset=".0617" stop-color="#00ff64"/><stop offset=".065" stop-color="#00ff82"/><stop offset=".085" stop-color="#00ff1f"/><stop offset=".0883" stop-color="#00ff20"/><stop offset=".0983" stop-color="#00ff4a"/><stop offset=".105" stop-color="#00ff52"/><stop offset=".1717" stop-color="#0f5"/><stop offset=".1983" stop-color="#00ff60"/><stop offset=".2517" stop-color="#00ff8c"/><stop offset=".265" stop-color="#0f8"/><stop offset=".325" stop-color="#00ffa0"/><stop offset=".3717" stop-color="#00ffa7"/><stop offset=".9117" stop-color="#00ff6a"/><stop offset=".9783" stop-color="#00ff6b"/><stop offset=".9983" stop-color="#00ffa8"/></linearGradient>
<linearGradient id="b57" x2="0" y2="1"><stop offset=".0017" stop-color="#ffa700"/><stop offset=".0217" stop-color="#ffa100"/><stop offset=".035" stop-color="#ff8100"/><stop offset=".0417" stop-color="#ff7f00"/><stop offset=".045" stop-color="#ff9500"/><stop offset=".0483" stop-color="#ffef00"/><stop offset=".0517" stop-color="#aeff00"/><stop offset=".055" stop-color="#5f0"/><stop offset=".0583" stop-color="#00ff28"/><stop offset=".0617" stop-color="#00ff80"/><stop offset=".065" stop-color="#0f9"/><stop offset=".0717" stop-color="#00ff61"/><stop offset=".085" stop-color="#00ff1b"/><stop offset=".0883" stop-color="#00ff1c"/><stop offset=".0983" stop-color="#00ff4a"/><stop offset=".105" stop-color="#0f5"/><stop offset=".1983" stop-color="#00ff58"/><stop offset=".255" stop-color="#00ff8b"/><stop offset=".3283" stop-color="#00ffa3"/><stop offset=".425" stop-color="#00ffa7"/><stop offset=".9117" stop-color="#00ff73"/><stop offset=".9783" stop-color="#0f7"/><stop offset=".9983" stop-color="#00ffb3"/></linearGradient>
<linearGradient id="b58" x2="0" y2="1"><stop offset=".0017" stop-color="#ffad00"/><stop offset=".0217" stop-color="#ffa400"/><stop offset=".035" stop-color="#ff8400"/><stop offset=".0417" stop-color="#ff8600"/><stop offset=".045" stop-color="#f90"/><stop offset=".0483" stop-color="#ffe900"/><stop offset=".0517" stop-color="#a0ff00"/><stop offset=".055" stop-color="#28ff00"/><stop offset=".0583" stop-color="#00ff4a"/><stop offset=".0617" stop-color="#00ff9a"/><stop offset=".065" stop-color="#00ffaf"/><stop offset=".0717" stop-color="#00ff65"/><stop offset=".075" stop-color="#00ff4e"/><stop offset=".085" stop-color="#00ff17"/><stop offset=".0883" stop-color="#00ff17"/><stop offset=".0983" stop-color="#00ff46"/><stop offset=".105" stop-color="#00ff52"/><stop offset=".145" stop-color="#00ff5c"/><stop offset=".2117" stop-color="#00ff5c"/><stop offset=".2417" stop-color="#00ff6d"/><stop offset=".265" stop-color="#00ff87"/><stop offset=".3283" stop-color="#00ffa0"/><stop offset=".375" stop-color="#00ffa8"/><stop offset=".4483" stop-color="#00ffa4"/><stop offset=".9117" stop-color="#00ff75"/><stop offset=".9783" stop-color="#00ff7a"/><stop offset=".9983" stop-color="#00ffb7"/></linearGradient>
<linearGradient id="b59" x2="0" y2="1"><stop offset=".0017" stop-color="#ffb800"/><stop offset=".0217" stop-color="#ffb000"/><stop offset=".035" stop-color="#ff9100"/><stop offset=".0383" stop-color="#ff9100"/><stop offset=".0417" stop-color="#ff9b00"/><stop offset=".045" stop-color="#ffbc00"/><stop offset=".0483" stop-color="#f9fd00"/><stop offset=".0517" stop-color="#85ff00"/><stop offset=".055" stop-color="#0f1"/><stop offset=".0583" stop-color="#0f6"/><stop offset=".0617" stop-color="#00ffa9"/><stop offset=".065" stop-color="#00ffb8"/><stop offset=".0717" stop-color="#00ff6a"/><stop offset=".075" stop-color="#00ff52"/><stop offset=".085" stop-color="#00ff16"/><stop offset=".0883" stop-color="#00ff14"/><stop offset=".0983" stop-color="#00ff43"/><stop offset=".105" stop-color="#00ff4f"/><stop offset=".1983" stop-color="#00ff5b"/><stop offset=".2517" stop-color="#00ff6e"/><stop offset=".2683" stop-color="#00ff84"/><stop offset=".3717" stop-color="#00ffa3"/><stop offset=".5583" stop-color="#00ff9d"/><stop offset=".9117" stop-color="#00ff6d"/><stop offset=".9783" stop-color="#00ff72"/><stop offset=".9983" stop-color="#00ffaf"/></linearGradient>
<linearGradient id="b60" x2="0" y2="1"><stop offset=".0017" stop-color="#ffc100"/><stop offset=".0217" stop-color="#ffb500"/><stop offset=".035" stop-color="#ff9400"/><stop offset=".0383" stop-color="#ff9700"/><stop offset=".0417" stop-color="#ffab00"/><stop offset=".045" stop-color="#ffe100"/><stop offset=".0483" stop-color="#dbff00"/><stop offset=".0517" stop-color="#7f0"/><stop offset=".055" stop-color="#00ff20"/><stop offset=".0583" stop-color="#00ff6b"/><stop offset=".0617" stop-color="#00ff9e"/><stop offset=".065" stop-color="#00ffa6"/><stop offset=".0717" stop-color="#00ff69"/><stop offset=".085" stop-color="#00ff15"/><stop offset=".0883" stop-color="#00ff12"/><stop offset=".0983" stop-color="#00ff43"/><stop offset=".1083" stop-color="#00ff53"/><stop offset=".225" stop-color="#00ff5b"/><stop offset=".2517" stop-color="#00ff63"/><stop offset=".265" stop-color="#00ff7b"/><stop offset=".375" stop-color="#00ff9f"/><stop offset=".555" stop-color="#00ff9b"/><stop offset=".795" stop-color="#00ff70"/><stop offset=".9083" stop-color="#0f6"/><stop offset=".9783" stop-color="#00ff6d"/><stop offset=".9983" stop-color="#00ffa9"/></linearGradient>
<linearGradient id="b61" x2="0" y2="1"><stop offset=".0017" stop-color="#ffb700"/><stop offset=".0217" stop-color="#ffb100"/><stop offset=".035" stop-color="#f90"/><stop offset=".0383" stop-color="#ffa200"/><stop offset=".045" stop-color="#f4ff00"/><stop offset=".0483" stop-color="#c1ff00"/><stop offset=".0517" stop-color="#6cff00"/><stop offset=".055" stop-color="#00ff1d"/><stop offset=".0583" stop-color="#00ff62"/><stop offset=".0617" stop-color="#00ff86"/><stop offset=".065" stop-color="#00ff8e"/><stop offset=".075" stop-color="#00ff69"/><stop offset=".0783" stop-color="#00ff58"/><stop offset=".085" stop-color="#00ff1d"/><stop offset=".0883" stop-color="#00ff17"/><stop offset=".0983" stop-color="#00ff48"/><stop offset=".1083" stop-color="#00ff5b"/><stop offset=".1617" stop-color="#00ff5f"/><stop offset=".2083" stop-color="#0f5"/><stop offset=".3217" stop-color="#00ff8f"/><stop offset=".375" stop-color="#00ff9d"/><stop offset=".5483" stop-color="#00ff9c"/><stop offset=".7917" stop-color="#00ff71"/><stop offset=".9083" stop-color="#0f6"/><stop offset=".9783" stop-color="#00ff6c"/><stop offset=".9983" stop-color="#00ffa9"/></linearGradient>
<linearGradient id="b62" x2="0" y2="1"><stop offset=".0017" stop-color="#ffa300"/><stop offset=".0217" stop-color="#ff9f00"/><stop offset=".035" stop-color="#ff8e00"/><stop offset=".0383" stop-color="#f90"/><stop offset=".0417" stop-color="#ffd700"/><stop offset=".045" stop-color="#e4ff00"/><stop offset=".0483" stop-color="#b5ff00"/><stop offset=".0517" stop-color="#6aff00"/><stop offset=".055" stop-color="#02ff09"/><stop offset=".0583" stop-color="#00ff40"/><stop offset=".0617" stop-color="#00ff5b"/><stop offset=".0717" stop-color="#00ff89"/><stop offset=".075" stop-color="#0f8"/><stop offset=".0783" stop-color="#0f7"/><stop offset=".085" stop-color="#00ff27"/><stop offset=".0883" stop-color="#00ff1c"/><stop offset=".0983" stop-color="#00ff4b"/><stop offset=".1083" stop-color="#00ff61"/><stop offset=".125" stop-color="#00ff56"/><stop offset=".1983" stop-color="#00ff57"/><stop offset=".325" stop-color="#00ff92"/><stop offset=".375" stop-color="#00ff9e"/><stop offset=".5683" stop-color="#00ff9a"/><stop offset=".9083" stop-color="#00ff65"/><stop offset=".9783" stop-color="#00ff6b"/><stop offset=".9983" stop-color="#00ffa8"/></linearGradient>
<linearGradient id="b63" x2="0" y2="1"><stop offset=".0017" stop-color="#ffa500"/><stop offset=".0183" stop-color="#ffa300"/><stop offset=".035" stop-color="#ff9100"/><stop offset=".0383" stop-color="#ff9d00"/><stop offset=".0417" stop-color="#ffdb00"/><stop offset=".045" stop-color="#dbff00"/><stop offset=".0517" stop-color="#70ff00"/><stop offset=".055" stop-color="#28ff00"/><stop offset=".0583" stop-color="#00ff0e"/><stop offset=".0617" stop-color="#00ff25"/><stop offset=".065" stop-color="#00ff30"/><stop offset=".0683" stop-color="#00ff54"/><stop offset=".0717" stop-color="#00ffb8"/><stop offset=".075" stop-color="#00ffc5"/><stop offset=".0783" stop-color="#0fa"/><stop offset=".0817" stop-color="#0f6"/><stop offset=".085" stop-color="#0f3"/><stop offset=".0883" stop-color="#00ff23"/><stop offset=".1017" stop-color="#00ff5c"/><stop offset=".1083" stop-color="#00ff69"/><stop offset=".125" stop-color="#00ff57"/><stop offset=".1983" stop-color="#00ff5d"/><stop offset=".255" stop-color="#00ff6e"/><stop offset=".325" stop-color="#00ff92"/><stop offset=".375" stop-color="#00ff9d"/><stop offset=".595" stop-color="#00ff92"/><stop offset=".9083" stop-color="#0f6"/><stop offset=".9783" stop-color="#00ff6d"/><stop offset=".9983" stop-color="#00ffa9"/></linearGradient>
<linearGradient id="b64" x2="0" y2="1"><stop offset=".0017" stop-color="#ffb500"/><stop offset=".035" stop-color="#fa0"/><stop offset=".0383" stop-color="#ffb800"/><stop offset=".0417" stop-color="#fff300"/><stop offset=".045" stop-color="#cfff00"/><stop offset=".055" stop-color="#42ff00"/><stop offset=".0583" stop-color="#26ff00"/><stop offset=".0617" stop-color="#18ff00"/><stop offset=".065" stop-color="#17ff00"/><stop offset=".0683" stop-color="#06ff05"/><stop offset=".0717" stop-color="#00ffe5"/><stop offset=".075" stop-color="#00dcff"/><stop offset=".0783" stop-color="#00fbf1"/><stop offset=".0817" stop-color="#00ff8a"/><stop offset=".085" stop-color="#00ff42"/><stop offset=".0883" stop-color="#00ff2d"/><stop offset=".1017" stop-color="#00ff64"/><stop offset=".1083" stop-color="#00ff76"/><stop offset=".1217" stop-color="#00ff5c"/><stop offset=".1283" stop-color="#00ff58"/><stop offset=".1983" stop-color="#00ff5c"/><stop offset=".2517" stop-color="#00ff6b"/><stop offset=".265" stop-color="#00ff7d"/><stop offset=".3217" stop-color="#00ff94"/><stop offset=".3717" stop-color="#00ff9d"/><stop offset=".605" stop-color="#00ff8e"/><stop offset=".9117" stop-color="#0f6"/><stop offset=".9783" stop-color="#00ff6a"/><stop offset=".9983" stop-color="#00ffa7"/></linearGradient>
<linearGradient id="b65" x2="0" y2="1"><stop offset=".0017" stop-color="#ffba00"/><stop offset=".035" stop-color="#ffb300"/><stop offset=".0383" stop-color="#ffc400"/><stop offset=".0417" stop-color="#fdff00"/><stop offset=".0483" stop-color="#9eff00"/><stop offset=".055" stop-color="#52ff00"/><stop offset=".0583" stop-color="#3fff00"/><stop offset=".065" stop-color="#31ff00"/><stop offset=".0683" stop-color="#0eff00"/><stop offset=".0717" stop-color="#00fcfe"/><stop offset=".075" stop-color="#00a5ff"/><stop offset=".0783" stop-color="#0df"/><stop offset=".0817" stop-color="#00ff97"/><stop offset=".085" stop-color="#00ff49"/><stop offset=".0883" stop-color="#00ff32"/><stop offset=".1083" stop-color="#00ff7f"/><stop offset=".1217" stop-color="#00ff5d"/><stop offset=".145" stop-color="#00ff58"/><stop offset=".2383" stop-color="#0f6"/><stop offset=".2517" stop-color="#00ff6b"/><stop offset=".265" stop-color="#00ff83"/><stop offset=".325" stop-color="#0f9"/><stop offset=".375" stop-color="#00ffa0"/><stop offset=".585" stop-color="#00ff91"/><stop offset=".9283" stop-color="#00ff65"/><stop offset=".9783" stop-color="#00ff67"/><stop offset=".9983" stop-color="#00ffa4"/></linearGradient>
<linearGradient id="b66" x2="0" y2="1"><stop offset=".0017" stop-color="#ffaf00"/><stop offset=".0283" stop-color="#ffa200"/><stop offset=".035" stop-color="#ffa900"/><stop offset=".0383" stop-color="#ffc000"/><stop offset=".0417" stop-color="#fdfe00"/><stop offset=".0483" stop-color="#a2ff00"/><stop offset=".055" stop-color="#5fff00"/><stop offset=".065" stop-color="#40ff00"/><stop offset=".0683" stop-color="#10ff00"/><stop offset=".0717" stop-color="#00fbff"/><stop offset=".075" stop-color="#09f"/><stop offset=".0783" stop-color="#00d8ff"/><stop offset=".0817" stop-color="#00ff96"/><stop offset=".085" stop-color="#00ff4a"/><stop offset=".0883" stop-color="#00ff36"/><stop offset=".0917" stop-color="#00ff3d"/><stop offset=".1083" stop-color="#00ff8a"/><stop offset=".1117" stop-color="#0f8"/><stop offset=".1217" stop-color="#00ff65"/><stop offset=".1283" stop-color="#00ff62"/><stop offset=".1983" stop-color="#00ff61"/><stop offset=".2417" stop-color="#00ff6a"/><stop offset=".2517" stop-color="#00ff6f"/><stop offset=".265" stop-color="#00ff8a"/><stop offset=".325" stop-color="#00ff9f"/><stop offset=".375" stop-color="#00ffa4"/><stop offset=".9217" stop-color="#00ff67"/><stop offset=".9783" stop-color="#00ff6a"/><stop offset=".9983" stop-color="#00ffa6"/></linearGradient>
<linearGradient id="b67" x2="0" y2="1"><stop offset=".0017" stop-color="#ffae00"/><stop offset=".0317" stop-color="#ff9400"/><stop offset=".035" stop-color="#ff9d00"/><stop offset=".0383" stop-color="#ffc000"/><stop offset=".0417" stop-color="#fcfe00"/><stop offset=".0483" stop-color="#a2ff00"/><stop offset=".055" stop-color="#5dff00"/><stop offset=".0583" stop-color="#4fff00"/><stop offset=".065" stop-color="#4cff00"/><stop offset=".0683" stop-color="#1dff00"/><stop offset=".0717" stop-color="#00ffdc"/><stop offset=".075" stop-color="#00b0ff"/><stop offset=".0783" stop-color="#00e5ff"/><stop offset=".0817" stop-color="#00ff93"/><stop offset=".085" stop-color="#00ff49"/><stop offset=".0883" stop-color="#00ff35"/><stop offset=".0917" stop-color="#00ff3d"/><stop offset=".1083" stop-color="#00ff8f"/><stop offset=".1117" stop-color="#00ff8c"/><stop offset=".1217" stop-color="#00ff67"/><stop offset=".1283" stop-color="#00ff64"/><stop offset=".1983" stop-color="#00ff65"/><stop offset=".245" stop-color="#00ff73"/><stop offset=".265" stop-color="#0f8"/><stop offset=".3217" stop-color="#00ff9d"/><stop offset=".375" stop-color="#00ffa3"/><stop offset=".6283" stop-color="#00ff8e"/><stop offset=".9117" stop-color="#0f6"/><stop offset=".9783" stop-color="#00ff69"/><stop offset=".9983" stop-color="#00ffa5"/></linearGradient>
<linearGradient id="b68" x2="0" y2="1"><stop offset=".0017" stop-color="#ffbd00"/><stop offset=".0317" stop-color="#ffa600"/><stop offset=".035" stop-color="#ffb800"/><stop offset=".0383" stop-color="#ffeb00"/><stop offset=".0417" stop-color="#e3ff00"/><stop offset=".055" stop-color="#40ff00"/><stop offset=".0583" stop-color="#32ff00"/><stop offset=".065" stop-color="#45ff00"/><stop offset=".0683" stop-color="#29ff00"/><stop offset=".0717" stop-color="#00ff8f"/><stop offset=".075" stop-color="#00e1ff"/><stop offset=".0783" stop-color="#00ffeb"/><stop offset=".0817" stop-color="#00ff85"/><stop offset=".085" stop-color="#00ff46"/><stop offset=".0883" stop-color="#0f3"/><stop offset=".0917" stop-color="#00ff3a"/><stop offset=".1083" stop-color="#00ff85"/><stop offset=".1117" stop-color="#00ff82"/><stop offset=".1217" stop-color="#00ff5b"/><stop offset=".1283" stop-color="#00ff57"/><stop offset=".1983" stop-color="#00ff6c"/><stop offset=".2517" stop-color="#0f8"/><stop offset=".375" stop-color="#00ffa3"/><stop offset=".6283" stop-color="#00ff8e"/><stop offset=".9117" stop-color="#00ff65"/><stop offset=".9783" stop-color="#00ff69"/><stop offset=".9983" stop-color="#00ffa5"/></linearGradient>
<linearGradient id="b69" x2="0" y2="1"><stop offset=".0017" stop-color="#ffd300"/><stop offset=".015" stop-color="#ffcf00"/><stop offset=".0283" stop-color="#ffbc00"/><stop offset=".0317" stop-color="#ffc300"/><stop offset=".035" stop-color="#ffe400"/><stop offset=".0383" stop-color="#e9ff00"/><stop offset=".045" stop-color="#a1ff00"/><stop offset=".055" stop-color="#10ff00"/><stop offset=".0583" stop-color="#08ff08"/><stop offset=".065" stop-color="#38ff00"/><stop offset=".0683" stop-color="#2dff00"/><stop offset=".0717" stop-color="#00ff5a"/><stop offset=".075" stop-color="#00ffcd"/><stop offset=".0783" stop-color="#00ffb0"/><stop offset=".0817" stop-color="#00ff6d"/><stop offset=".085" stop-color="#00ff3f"/><stop offset=".0883" stop-color="#00ff30"/><stop offset=".0917" stop-color="#00ff38"/><stop offset=".1083" stop-color="#00ff7f"/><stop offset=".1117" stop-color="#00ff7d"/><stop offset=".1217" stop-color="#00ff5b"/><stop offset=".1317" stop-color="#00ff59"/><stop offset=".195" stop-color="#00ff65"/><stop offset=".3217" stop-color="#00ff9b"/><stop offset=".375" stop-color="#00ffa0"/><stop offset=".9117" stop-color="#00ff6c"/><stop offset=".9783" stop-color="#00ff72"/><stop offset=".9983" stop-color="#00ffaf"/></linearGradient>
<linearGradient id="b70" x2="0" y2="1"><stop offset=".0017" stop-color="#ffd800"/><stop offset=".015" stop-color="#ffd200"/><stop offset=".0283" stop-color="#ffbc00"/><stop offset=".0317" stop-color="#ffc900"/><stop offset=".035" stop-color="#fff900"/><stop offset=".045" stop-color="#92ff00"/><stop offset=".0483" stop-color="#5dff00"/><stop offset=".0517" stop-color="#1aff00"/><stop offset=".055" stop-color="#00ff26"/><stop offset=".0583" stop-color="#00ff39"/><stop offset=".0617" stop-color="#02ff09"/><stop offset=".065" stop-color="#2bff00"/><stop offset=".0683" stop-color="#2fff00"/><stop offset=".0717" stop-color="#00ff29"/><stop offset=".075" stop-color="#00ff90"/><stop offset=".0783" stop-color="#00ff86"/><stop offset=".0817" stop-color="#00ff5b"/><stop offset=".085" stop-color="#00ff3c"/><stop offset=".0883" stop-color="#00ff32"/><stop offset=".1083" stop-color="#00ff7c"/><stop offset=".125" stop-color="#00ff5d"/><stop offset=".175" stop-color="#00ff5f"/><stop offset=".2917" stop-color="#00ff90"/><stop offset=".375" stop-color="#00ff9b"/><stop offset=".9117" stop-color="#00ff6f"/><stop offset=".9783" stop-color="#00ff75"/><stop offset=".9983" stop-color="#00ffb2"/></linearGradient>
<linearGradient id="b71" x2="0" y2="1"><stop offset=".0017" stop-color="#ffcd00"/><stop offset=".015" stop-color="#ffc800"/><stop offset=".0283" stop-color="#ffb400"/><stop offset=".0317" stop-color="#ffc700"/><stop offset=".035" stop-color="#fcff00"/><stop offset=".045" stop-color="#83ff00"/><stop offset=".0483" stop-color="#48ff00"/><stop offset=".0517" stop-color="#0f1"/><stop offset=".055" stop-color="#00ff4d"/><stop offset=".0583" stop-color="#00ff5e"/><stop offset=".0617" stop-color="#0f3"/><stop offset=".065" stop-color="#19ff00"/><stop offset=".0683" stop-color="#2cff00"/><stop offset=".0717" stop-color="#00ff13"/><stop offset=".075" stop-color="#00ff6a"/><stop offset=".0783" stop-color="#00ff6b"/><stop offset=".085" stop-color="#00ff38"/><stop offset=".0883" stop-color="#00ff32"/><stop offset=".1083" stop-color="#00ff6f"/><stop offset=".125" stop-color="#00ff59"/><stop offset=".195" stop-color="#00ff6c"/><stop offset=".2517" stop-color="#00ff98"/><stop offset=".265" stop-color="#00ff8d"/><stop offset=".325" stop-color="#00ff9e"/><stop offset=".375" stop-color="#00ff9f"/><stop offset=".735" stop-color="#00ff79"/><stop offset=".9117" stop-color="#00ff72"/><stop offset=".9783" stop-color="#00ff78"/><stop offset=".9983" stop-color="#00ffb4"/></linearGradient>
<linearGradient id="b72" x2="0" y2="1"><stop offset=".0017" stop-color="#ffd100"/><stop offset=".015" stop-color="#ffd000"/><stop offset=".0283" stop-color="#fb0"/><stop offset=".0317" stop-color="#ffcf00"/><stop offset=".035" stop-color="#f4ff00"/><stop offset=".045" stop-color="#76ff00"/><stop offset=".0483" stop-color="#31ff00"/><stop offset=".0517" stop-color="#00ff30"/><stop offset=".055" stop-color="#0f6"/><stop offset=".0583" stop-color="#00ff7b"/><stop offset=".0617" stop-color="#00ff5c"/><stop offset=".065" stop-color="#03ff06"/><stop offset=".0683" stop-color="#20ff00"/><stop offset=".0717" stop-color="#00ff0c"/><stop offset=".075" stop-color="#00ff59"/><stop offset=".0783" stop-color="#00ff60"/><stop offset=".085" stop-color="#00ff3c"/><stop offset=".0883" stop-color="#00ff38"/><stop offset=".0983" stop-color="#00ff58"/><stop offset=".1083" stop-color="#00ff6c"/><stop offset=".1217" stop-color="#00ff5a"/><stop offset=".135" stop-color="#00ff5b"/><stop offset=".1983" stop-color="#00ff6f"/><stop offset=".2517" stop-color="#00ff95"/><stop offset=".265" stop-color="#00ff87"/><stop offset=".325" stop-color="#00ff9b"/><stop offset=".375" stop-color="#00ff9e"/><stop offset=".7017" stop-color="#00ff7c"/><stop offset=".9117" stop-color="#00ff74"/><stop offset=".9783" stop-color="#00ff79"/><stop offset=".9983" stop-color="#00ffb5"/></linearGradient>
<linearGradient id="b73" x2="0" y2="1"><stop offset=".0017" stop-color="#ffb700"/><stop offset=".015" stop-color="#ffb700"/><stop offset=".025" stop-color="#ff9f00"/><stop offset=".0283" stop-color="#ffa000"/><stop offset=".0317" stop-color="#ffb400"/><stop offset=".035" stop-color="#fff500"/><stop offset=".0417" stop-color="#b5ff00"/><stop offset=".045" stop-color="#83ff00"/><stop offset=".0483" stop-color="#34ff00"/><stop offset=".0517" stop-color="#00ff37"/><stop offset=".055" stop-color="#00ff6d"/><stop offset=".0583" stop-color="#00ff8a"/><stop offset=".0617" stop-color="#00ff79"/><stop offset=".065" stop-color="#00ff23"/><stop offset=".0683" stop-color="#0aff00"/><stop offset=".0717" stop-color="#00ff0d"/><stop offset=".075" stop-color="#00ff4e"/><stop offset=".0783" stop-color="#00ff57"/><stop offset=".085" stop-color="#00ff3c"/><stop offset=".0883" stop-color="#00ff3a"/><stop offset=".0983" stop-color="#00ff58"/><stop offset=".1083" stop-color="#00ff64"/><stop offset=".1217" stop-color="#00ff57"/><stop offset=".1383" stop-color="#00ff57"/><stop offset=".2517" stop-color="#00ff8a"/><stop offset=".265" stop-color="#00ff81"/><stop offset=".325" stop-color="#00ff98"/><stop offset=".3783" stop-color="#00ff9f"/><stop offset=".735" stop-color="#00ff7c"/><stop offset=".975" stop-color="#00ff73"/><stop offset=".9817" stop-color="#00ff7a"/><stop offset=".9983" stop-color="#00ffaf"/></linearGradient>
<linearGradient id="b74" x2="0" y2="1"><stop offset=".0017" stop-color="#ffa200"/><stop offset=".015" stop-color="#ffa000"/><stop offset=".025" stop-color="#ff8200"/><stop offset=".0283" stop-color="#ff8100"/><stop offset=".0317" stop-color="#ff9000"/><stop offset=".0383" stop-color="#f5ff00"/><stop offset=".0417" stop-color="#cfff00"/><stop offset=".045" stop-color="#9f0"/><stop offset=".0483" stop-color="#4f0"/><stop offset=".0517" stop-color="#00ff2c"/><stop offset=".055" stop-color="#00ff67"/><stop offset=".0583" stop-color="#00ff8e"/><stop offset=".0617" stop-color="#00ff89"/><stop offset=".065" stop-color="#00ff4c"/><stop offset=".0683" stop-color="#00ff23"/><stop offset=".0717" stop-color="#00ff1e"/><stop offset=".075" stop-color="#00ff3d"/><stop offset=".0783" stop-color="#00ff46"/><stop offset=".085" stop-color="#00ff31"/><stop offset=".0883" stop-color="#00ff31"/><stop offset=".0983" stop-color="#00ff4d"/><stop offset=".105" stop-color="#0f5"/><stop offset=".1283" stop-color="#00ff51"/><stop offset=".185" stop-color="#00ff6e"/><stop offset=".3283" stop-color="#00ff9a"/><stop offset=".3783" stop-color="#00ffa0"/><stop offset=".9117" stop-color="#00ff6e"/><stop offset=".9783" stop-color="#00ff71"/><stop offset=".9983" stop-color="#00ffad"/></linearGradient>
<linearGradient id="b75" x2="0" y2="1"><stop offset=".0017" stop-color="#ffb000"/><stop offset=".015" stop-color="#ffab00"/><stop offset=".0283" stop-color="#ff8000"/><stop offset=".0317" stop-color="#ff8700"/><stop offset=".035" stop-color="#ffa900"/><stop offset=".0383" stop-color="#ffeb00"/><stop offset=".0417" stop-color="#dcff00"/><stop offset=".045" stop-color="#a1ff00"/><stop offset=".0483" stop-color="#4bff00"/><stop offset=".0517" stop-color="#00ff26"/><stop offset=".055" stop-color="#00ff67"/><stop offset=".0583" stop-color="#0f9"/><stop offset=".0617" stop-color="#00ffa0"/><stop offset=".0683" stop-color="#00ff4e"/><stop offset=".0717" stop-color="#00ff3b"/><stop offset=".0783" stop-color="#00ff41"/><stop offset=".085" stop-color="#00ff31"/><stop offset=".105" stop-color="#00ff58"/><stop offset=".1417" stop-color="#00ff59"/><stop offset=".3283" stop-color="#00ff9b"/><stop offset=".3783" stop-color="#00ff9f"/><stop offset=".925" stop-color="#00ff6f"/><stop offset=".9783" stop-color="#00ff71"/><stop offset=".9983" stop-color="#00ffae"/></linearGradient>
<linearGradient id="b76" x2="0" y2="1"><stop offset=".0017" stop-color="#ffb400"/><stop offset=".015" stop-color="#ffaf00"/><stop offset=".0283" stop-color="#ff7f00"/><stop offset=".0317" stop-color="#ff8200"/><stop offset=".035" stop-color="#ff9200"/><stop offset=".0383" stop-color="#ffd100"/><stop offset=".0417" stop-color="#e1ff00"/><stop offset=".045" stop-color="#a4ff00"/><stop offset=".0483" stop-color="#5f0"/><stop offset=".0517" stop-color="#00ff1a"/><stop offset=".055" stop-color="#00ff6a"/><stop offset=".0583" stop-color="#00ffa8"/><stop offset=".0617" stop-color="#00ffba"/><stop offset=".0683" stop-color="#00ff6f"/><stop offset=".0717" stop-color="#00ff54"/><stop offset=".085" stop-color="#00ff3b"/><stop offset=".105" stop-color="#00ff60"/><stop offset=".1883" stop-color="#00ff62"/><stop offset=".2517" stop-color="#00ff93"/><stop offset=".265" stop-color="#00ff8c"/><stop offset=".325" stop-color="#00ffa0"/><stop offset=".375" stop-color="#00ffa3"/><stop offset=".9117" stop-color="#00ff75"/><stop offset=".9783" stop-color="#00ff79"/><stop offset=".9983" stop-color="#00ffb5"/></linearGradient>
<linearGradient id="b77" x2="0" y2="1"><stop offset=".0017" stop-color="#ff9e00"/><stop offset=".015" stop-color="#ff9f00"/><stop offset=".0283" stop-color="#ff7b00"/><stop offset=".0317" stop-color="#ff7d00"/><stop offset=".035" stop-color="#ff8b00"/><stop offset=".0383" stop-color="#ffce00"/><stop offset=".0417" stop-color="#e1ff00"/><stop offset=".045" stop-color="#a7ff00"/><stop offset=".0483" stop-color="#60ff00"/><stop offset=".0517" stop-color="#00ff0f"/><stop offset=".055" stop-color="#00ff71"/><stop offset=".0583" stop-color="#00ffb9"/><stop offset=".0617" stop-color="#00ffd3"/><stop offset=".065" stop-color="#00ffb7"/><stop offset=".0717" stop-color="#00ff68"/><stop offset=".085" stop-color="#00ff41"/><stop offset=".105" stop-color="#00ff60"/><stop offset=".1883" stop-color="#00ff61"/><stop offset=".2517" stop-color="#00ff8b"/><stop offset=".325" stop-color="#00ff9f"/><stop offset=".375" stop-color="#00ffa2"/><stop offset=".9117" stop-color="#00ff79"/><stop offset=".9783" stop-color="#00ff7d"/><stop offset=".9983" stop-color="#00ffba"/></linearGradient>
<linearGradient id="b78" x2="0" y2="1"><stop offset=".0017" stop-color="#ff8a00"/><stop offset=".0183" stop-color="#ff8b00"/><stop offset=".0283" stop-color="#ff7100"/><stop offset=".0317" stop-color="#ff7100"/><stop offset=".035" stop-color="#ff8100"/><stop offset=".0383" stop-color="#ffc700"/><stop offset=".0417" stop-color="#e6ff00"/><stop offset=".045" stop-color="#aeff00"/><stop offset=".0483" stop-color="#6aff00"/><stop offset=".0517" stop-color="#00ff08"/><stop offset=".055" stop-color="#00ff76"/><stop offset=".0583" stop-color="#00ffc2"/><stop offset=".0617" stop-color="#00ffe2"/><stop offset=".065" stop-color="#00ffce"/><stop offset=".0717" stop-color="#00ff76"/><stop offset=".0783" stop-color="#00ff56"/><stop offset=".085" stop-color="#00ff48"/><stop offset=".105" stop-color="#00ff64"/><stop offset=".195" stop-color="#00ff6b"/><stop offset=".325" stop-color="#0f9"/><stop offset=".375" stop-color="#00ff9f"/><stop offset=".975" stop-color="#00ff78"/><stop offset=".9817" stop-color="#00ff80"/><stop offset=".9983" stop-color="#00ffb5"/></linearGradient>
<linearGradient id="b79" x2="0" y2="1"><stop offset=".0017" stop-color="#ff9400"/><stop offset=".0183" stop-color="#ff9000"/><stop offset=".0317" stop-color="#ff7200"/><stop offset=".035" stop-color="#ff7e00"/><stop offset=".0383" stop-color="#ffc300"/><stop offset=".0417" stop-color="#e9ff00"/><stop offset=".045" stop-color="#b1ff00"/><stop offset=".0483" stop-color="#6cff00"/><stop offset=".0517" stop-color="#00ff0a"/><stop offset=".055" stop-color="#0f7"/><stop offset=".0583" stop-color="#00ffc4"/><stop offset=".0617" stop-color="#00ffec"/><stop offset=".065" stop-color="#00ffe4"/><stop offset=".0717" stop-color="#00ff7e"/><stop offset=".075" stop-color="#00ff64"/><stop offset=".085" stop-color="#00ff49"/><stop offset=".105" stop-color="#00ff65"/><stop offset=".1683" stop-color="#00ff60"/><stop offset=".2517" stop-color="#00ff89"/><stop offset=".3717" stop-color="#00ffa6"/><stop offset=".9717" stop-color="#00ff76"/><stop offset=".9817" stop-color="#00ff7d"/><stop offset=".9983" stop-color="#00ffb2"/></linearGradient>
<linearGradient id="b80" x2="0" y2="1"><stop offset=".0017" stop-color="#ff9b00"/><stop offset=".0217" stop-color="#ff9500"/><stop offset=".0317" stop-color="#ff7f00"/><stop offset=".035" stop-color="#ff8a00"/><stop offset=".0383" stop-color="#ffcb00"/><stop offset=".0417" stop-color="#e5ff00"/><stop offset=".045" stop-color="#afff00"/><stop offset=".0483" stop-color="#6aff00"/><stop offset=".0517" stop-color="#00ff0e"/><stop offset=".055" stop-color="#00ff7a"/><stop offset=".0583" stop-color="#00ffcb"/><stop offset=".0617" stop-color="#00f5fe"/><stop offset=".065" stop-color="#00f2fe"/><stop offset=".0683" stop-color="#00ffcd"/><stop offset=".0717" stop-color="#00ff89"/><stop offset=".075" stop-color="#00ff62"/><stop offset=".0783" stop-color="#00ff50"/><stop offset=".085" stop-color="#00ff43"/><stop offset=".1017" stop-color="#00ff57"/><stop offset=".1483" stop-color="#00ff4c"/><stop offset=".185" stop-color="#0f5"/><stop offset=".2417" stop-color="#00ff7a"/><stop offset=".2617" stop-color="#00ff8f"/><stop offset=".3283" stop-color="#00ffa8"/><stop offset=".375" stop-color="#00ffad"/><stop offset=".5683" stop-color="#00ff8f"/><stop offset=".7583" stop-color="#0f8"/><stop offset=".9117" stop-color="#00ff76"/><stop offset=".9783" stop-color="#00ff79"/><stop offset=".9983" stop-color="#00ffb5"/></linearGradient>
<linearGradient id="b81" x2="0" y2="1"><stop offset=".0017" stop-color="#ff8200"/><stop offset=".0317" stop-color="#ff8400"/><stop offset=".035" stop-color="#ff9200"/><stop offset=".0383" stop-color="#ffd400"/><stop offset=".0417" stop-color="#deff00"/><stop offset=".045" stop-color="#a8ff00"/><stop offset=".0483" stop-color="#64ff00"/><stop offset=".0517" stop-color="#00ff12"/><stop offset=".055" stop-color="#00ff81"/><stop offset=".0583" stop-color="#00ffd6"/><stop offset=".0617" stop-color="#00d5ff"/><stop offset=".065" stop-color="#00bdff"/><stop offset=".0683" stop-color="#00f6fa"/><stop offset=".0717" stop-color="#00ffa6"/><stop offset=".075" stop-color="#00ff71"/><stop offset=".0783" stop-color="#00ff5b"/><stop offset=".0817" stop-color="#00ff52"/><stop offset=".0883" stop-color="#00ff4e"/><stop offset=".1017" stop-color="#00ff58"/><stop offset=".155" stop-color="#00ff49"/><stop offset=".195" stop-color="#00ff51"/><stop offset=".2583" stop-color="#00ff90"/><stop offset=".325" stop-color="#00ffa7"/><stop offset=".3783" stop-color="#00ffab"/><stop offset=".5883" stop-color="#00ff8a"/><stop offset=".9117" stop-color="#00ff78"/><stop offset=".9783" stop-color="#00ff7c"/><stop offset=".9983" stop-color="#00ffb9"/></linearGradient>
<linearGradient id="b82" x2="0" y2="1"><stop offset=".0017" stop-color="#ff7f00"/><stop offset=".0317" stop-color="#ff8b00"/><stop offset=".035" stop-color="#ff9b00"/><stop offset=".0383" stop-color="#ffdb00"/><stop offset=".0417" stop-color="#df0"/><stop offset=".045" stop-color="#af0"/><stop offset=".0483" stop-color="#69ff00"/><stop offset=".0517" stop-color="#00ff0c"/><stop offset=".055" stop-color="#00ff7d"/><stop offset=".0583" stop-color="#00ffcd"/><stop offset=".0617" stop-color="#00dcff"/><stop offset=".065" stop-color="#00b2ff"/><stop offset=".0683" stop-color="#00e5ff"/><stop offset=".0717" stop-color="#00ffac"/><stop offset=".075" stop-color="#00ff75"/><stop offset=".0783" stop-color="#00ff62"/><stop offset=".0883" stop-color="#00ff56"/><stop offset=".195" stop-color="#00ff5b"/><stop offset=".2583" stop-color="#00ff8e"/><stop offset=".325" stop-color="#00ffa4"/><stop offset=".375" stop-color="#00ffa8"/><stop offset=".645" stop-color="#00ff87"/><stop offset=".9083" stop-color="#00ff76"/><stop offset=".975" stop-color="#00ff7a"/><stop offset=".9817" stop-color="#00ff81"/><stop offset=".9983" stop-color="#00ffb7"/></linearGradient>
<linearGradient id="b83" x2="0" y2="1"><stop offset=".0017" stop-color="#ff7d00"/><stop offset=".0317" stop-color="#ff8a00"/><stop offset=".035" stop-color="#ff9700"/><stop offset=".0383" stop-color="#ffcd00"/><stop offset=".0417" stop-color="#eaff00"/><stop offset=".045" stop-color="#b9ff00"/><stop offset=".0483" stop-color="#78ff00"/><stop offset=".0517" stop-color="#05ff00"/><stop offset=".055" stop-color="#00ff75"/><stop offset=".0583" stop-color="#00ffcb"/><stop offset=".0617" stop-color="#00e2ff"/><stop offset=".065" stop-color="#00e0ff"/><stop offset=".0683" stop-color="#00fcf5"/><stop offset=".0717" stop-color="#00ffa2"/><stop offset=".075" stop-color="#00ff6e"/><stop offset=".0783" stop-color="#00ff62"/><stop offset=".0883" stop-color="#00ff58"/><stop offset=".1983" stop-color="#00ff5c"/><stop offset=".2417" stop-color="#00ff70"/><stop offset=".265" stop-color="#00ff89"/><stop offset=".325" stop-color="#00ff9e"/><stop offset=".375" stop-color="#00ffa4"/><stop offset=".9083" stop-color="#00ff6d"/><stop offset=".975" stop-color="#00ff70"/><stop offset=".9817" stop-color="#0f7"/><stop offset=".9983" stop-color="#00ffad"/></linearGradient>
<linearGradient id="b84" x2="0" y2="1"><stop offset=".0017" stop-color="#ff8900"/><stop offset=".0317" stop-color="#ff9600"/><stop offset=".035" stop-color="#ff9e00"/><stop offset=".0383" stop-color="#ffc100"/><stop offset=".0417" stop-color="#f8ff00"/><stop offset=".0483" stop-color="#80ff00"/><stop offset=".0517" stop-color="#0cff00"/><stop offset=".055" stop-color="#00ff71"/><stop offset=".0583" stop-color="#00ffc6"/><stop offset=".0617" stop-color="#00f7fb"/><stop offset=".0683" stop-color="#00ffc4"/><stop offset=".0717" stop-color="#00ff95"/><stop offset=".075" stop-color="#00ff73"/><stop offset=".1017" stop-color="#00ff5a"/><stop offset=".1283" stop-color="#00ff53"/><stop offset=".2417" stop-color="#00ff69"/><stop offset=".2517" stop-color="#00ff6d"/><stop offset=".265" stop-color="#00ff87"/><stop offset=".325" stop-color="#00ff9c"/><stop offset=".375" stop-color="#00ffa0"/><stop offset=".9083" stop-color="#00ff6a"/><stop offset=".975" stop-color="#00ff6d"/><stop offset=".9817" stop-color="#00ff74"/><stop offset=".9983" stop-color="#00ffa8"/></linearGradient>
<linearGradient id="b85" x2="0" y2="1"><stop offset=".0017" stop-color="#ff8f00"/><stop offset=".035" stop-color="#ff9e00"/><stop offset=".0383" stop-color="#ffb400"/><stop offset=".0417" stop-color="#fff300"/><stop offset=".045" stop-color="#cbff00"/><stop offset=".0483" stop-color="#89ff00"/><stop offset=".0517" stop-color="#13ff00"/><stop offset=".055" stop-color="#00ff6f"/><stop offset=".0583" stop-color="#00ffae"/><stop offset=".0617" stop-color="#00ffd3"/><stop offset=".0717" stop-color="#00ff8c"/><stop offset=".075" stop-color="#00ff84"/><stop offset=".0917" stop-color="#00ff74"/><stop offset=".1017" stop-color="#00ff5f"/><stop offset=".115" stop-color="#00ff67"/><stop offset=".1317" stop-color="#00ff57"/><stop offset=".195" stop-color="#00ff62"/><stop offset=".325" stop-color="#00ff9d"/><stop offset=".375" stop-color="#00ffa3"/><stop offset=".8217" stop-color="#00ff75"/><stop offset=".975" stop-color="#00ff76"/><stop offset=".9817" stop-color="#00ff7c"/><stop offset=".9983" stop-color="#00ffae"/></linearGradient>
<linearGradient id="b86" x2="0" y2="1"><stop offset=".0017" stop-color="#ffa700"/><stop offset=".035" stop-color="#ff9e00"/><stop offset=".0383" stop-color="#ffa800"/><stop offset=".0417" stop-color="#ffdb00"/><stop offset=".045" stop-color="#d7ff00"/><stop offset=".0483" stop-color="#90ff00"/><stop offset=".0517" stop-color="#29ff00"/><stop offset=".055" stop-color="#0f7"/><stop offset=".0583" stop-color="#0fb"/><stop offset=".0617" stop-color="#00ffd7"/><stop offset=".065" stop-color="#00ffce"/><stop offset=".0717" stop-color="#00ff9f"/><stop offset=".0783" stop-color="#00ffa5"/><stop offset=".085" stop-color="#0f9"/><stop offset=".0917" stop-color="#00ff89"/><stop offset=".1017" stop-color="#00ff5e"/><stop offset=".115" stop-color="#00ff6d"/><stop offset=".1283" stop-color="#00ff5a"/><stop offset=".195" stop-color="#00ff60"/><stop offset=".2517" stop-color="#00ff84"/><stop offset=".375" stop-color="#00ffa3"/><stop offset=".9083" stop-color="#00ff73"/><stop offset=".9783" stop-color="#00ff79"/><stop offset=".9983" stop-color="#0fa"/></linearGradient>
<linearGradient id="b87" x2="0" y2="1"><stop offset=".0017" stop-color="#ffb800"/><stop offset=".035" stop-color="#ffac00"/><stop offset=".0383" stop-color="#fb0"/><stop offset=".0417" stop-color="#ffea00"/><stop offset=".045" stop-color="#cfff00"/><stop offset=".0483" stop-color="#79ff00"/><stop offset=".0517" stop-color="#0aff09"/><stop offset=".055" stop-color="#00ffa1"/><stop offset=".0583" stop-color="#00f6f4"/><stop offset=".0617" stop-color="#00d9ff"/><stop offset=".065" stop-color="#00e0ff"/><stop offset=".0683" stop-color="#00f4f5"/><stop offset=".0717" stop-color="#0fd"/><stop offset=".0783" stop-color="#00fbec"/><stop offset=".085" stop-color="#00ffdb"/><stop offset=".0917" stop-color="#00ffba"/><stop offset=".0983" stop-color="#00ff6f"/><stop offset=".1017" stop-color="#00ff62"/><stop offset=".115" stop-color="#00ff75"/><stop offset=".1217" stop-color="#00ff61"/><stop offset=".1283" stop-color="#00ff5a"/><stop offset=".2017" stop-color="#00ff5a"/><stop offset=".2517" stop-color="#00ff72"/><stop offset=".265" stop-color="#00ff81"/><stop offset=".325" stop-color="#0f9"/><stop offset=".375" stop-color="#00ffa0"/><stop offset=".6183" stop-color="#00ff86"/><stop offset=".9117" stop-color="#00ff7a"/><stop offset=".9783" stop-color="#00ff7e"/><stop offset=".9983" stop-color="#00ffa9"/></linearGradient>
<linearGradient id="b88" x2="0" y2="1"><stop offset=".0017" stop-color="#ffcf00"/><stop offset=".0317" stop-color="#ffba00"/><stop offset=".035" stop-color="#ffbe00"/><stop offset=".0383" stop-color="#ffd900"/><stop offset=".0417" stop-color="#f3ff00"/><stop offset=".045" stop-color="#baff00"/><stop offset=".0483" stop-color="#58ff00"/><stop offset=".0517" stop-color="#00ff42"/><stop offset=".055" stop-color="#00ffc4"/><stop offset=".0583" stop-color="#00b5ff"/><stop offset=".0617" stop-color="#0086ff"/><stop offset=".065" stop-color="#008aff"/><stop offset=".0717" stop-color="#0df"/><stop offset=".075" stop-color="#00d5ff"/><stop offset=".0817" stop-color="#00a5ff"/><stop offset=".0883" stop-color="#00e8ff"/><stop offset=".0917" stop-color="#00fcf6"/><stop offset=".0983" stop-color="#00ff73"/><stop offset=".1017" stop-color="#00ff63"/><stop offset=".1117" stop-color="#00ff7c"/><stop offset=".115" stop-color="#00ff7b"/><stop offset=".1217" stop-color="#00ff63"/><stop offset=".1283" stop-color="#00ff59"/><stop offset=".1983" stop-color="#00ff62"/><stop offset=".3217" stop-color="#00ff98"/><stop offset=".3717" stop-color="#00ff9e"/><stop offset=".5983" stop-color="#00ff86"/><stop offset=".9117" stop-color="#00ff81"/><stop offset=".9783" stop-color="#00ff84"/><stop offset=".9983" stop-color="#00ffa7"/></linearGradient>
<linearGradient id="b89" x2="0" y2="1"><stop offset=".0017" stop-color="#ffd900"/><stop offset=".0317" stop-color="#ffcd00"/><stop offset=".035" stop-color="#ffda00"/><stop offset=".0383" stop-color="#fef700"/><stop offset=".0417" stop-color="#df0"/><stop offset=".045" stop-color="#a3ff00"/><stop offset=".0483" stop-color="#32ff00"/><stop offset=".0517" stop-color="#00ff5d"/><stop offset=".055" stop-color="#00ffd6"/><stop offset=".0583" stop-color="#0082ff"/><stop offset=".0617" stop-color="#0046ff"/><stop offset=".065" stop-color="#0049ff"/><stop offset=".0717" stop-color="#00b5ff"/><stop offset=".075" stop-color="#00adff"/><stop offset=".0783" stop-color="#003cff"/><stop offset=".0817" stop-color="#1b05ff"/><stop offset=".085" stop-color="#03f"/><stop offset=".0883" stop-color="#00baff"/><stop offset=".0917" stop-color="#00e1ff"/><stop offset=".095" stop-color="#00ffb6"/><stop offset=".0983" stop-color="#00ff70"/><stop offset=".1017" stop-color="#00ff5d"/><stop offset=".1117" stop-color="#00ff78"/><stop offset=".115" stop-color="#0f7"/><stop offset=".1217" stop-color="#00ff5f"/><stop offset=".1283" stop-color="#0f5"/><stop offset=".1983" stop-color="#00ff61"/><stop offset=".2483" stop-color="#0f8"/><stop offset=".265" stop-color="#00ff79"/><stop offset=".325" stop-color="#00ff8f"/><stop offset=".375" stop-color="#00ff97"/><stop offset=".9383" stop-color="#00ff83"/><stop offset=".9783" stop-color="#00ff84"/><stop offset=".9983" stop-color="#00ff9f"/></linearGradient>
<linearGradient id="b90" x2="0" y2="1"><stop offset=".0017" stop-color="#f7fb00"/><stop offset=".0317" stop-color="#f9fb00"/><stop offset=".0383" stop-color="#e8ff00"/><stop offset=".0417" stop-color="#c6ff00"/><stop offset=".045" stop-color="#87ff00"/><stop offset=".0483" stop-color="#09ff01"/><stop offset=".0517" stop-color="#00ff6f"/><stop offset=".055" stop-color="#00ffea"/><stop offset=".0583" stop-color="#0069ff"/><stop offset=".0617" stop-color="#0028ff"/><stop offset=".065" stop-color="#0029ff"/><stop offset=".0683" stop-color="#005bff"/><stop offset=".0717" stop-color="#009cff"/><stop offset=".075" stop-color="#0079ff"/><stop offset=".0783" stop-color="#3000ff"/><stop offset=".0817" stop-color="#5600ff"/><stop offset=".085" stop-color="#20f"/><stop offset=".0883" stop-color="#008dff"/><stop offset=".0917" stop-color="#0cf"/><stop offset=".095" stop-color="#00ffc5"/><stop offset=".0983" stop-color="#00ff78"/><stop offset=".1017" stop-color="#00ff63"/><stop offset=".1117" stop-color="#00ff7b"/><stop offset=".115" stop-color="#00ff7b"/><stop offset=".1217" stop-color="#00ff64"/><stop offset=".1283" stop-color="#00ff5b"/><stop offset=".1983" stop-color="#00ff5e"/><stop offset=".2483" stop-color="#00ff87"/><stop offset=".265" stop-color="#00ff70"/><stop offset=".375" stop-color="#00ff90"/><stop offset=".9417" stop-color="#00ff8c"/><stop offset=".9783" stop-color="#00ff8d"/><stop offset=".9983" stop-color="#00ffa1"/></linearGradient>
<linearGradient id="b91" x2="0" y2="1"><stop offset=".0017" stop-color="#cdff00"/><stop offset=".035" stop-color="#d3ff00"/><stop offset=".0383" stop-color="#c8ff00"/><stop offset=".0417" stop-color="#af0"/><stop offset=".045" stop-color="#6aff00"/><stop offset=".0483" stop-color="#00ff17"/><stop offset=".0517" stop-color="#00ff7a"/><stop offset=".055" stop-color="#00fff7"/><stop offset=".0583" stop-color="#0063ff"/><stop offset=".0617" stop-color="#0027ff"/><stop offset=".065" stop-color="#0029ff"/><stop offset=".0683" stop-color="#005aff"/><stop offset=".0717" stop-color="#009aff"/><stop offset=".075" stop-color="#006dff"/><stop offset=".0783" stop-color="#3900ff"/><stop offset=".0817" stop-color="#5700ff"/><stop offset=".085" stop-color="#2b00ff"/><stop offset=".0883" stop-color="#008aff"/><stop offset=".0917" stop-color="#00dfff"/><stop offset=".095" stop-color="#00ffb1"/><stop offset=".0983" stop-color="#00ff6c"/><stop offset=".1017" stop-color="#00ff58"/><stop offset=".115" stop-color="#00ff6c"/><stop offset=".1283" stop-color="#0f5"/><stop offset=".1983" stop-color="#00ff63"/><stop offset=".2517" stop-color="#00ff86"/><stop offset=".265" stop-color="#00ff72"/><stop offset=".375" stop-color="#00ff8f"/><stop offset=".9017" stop-color="#00ff9a"/><stop offset=".9783" stop-color="#00ffa0"/><stop offset=".9983" stop-color="#00ffad"/></linearGradient>
<linearGradient id="b92" x2="0" y2="1"><stop offset=".0017" stop-color="#afff00"/><stop offset=".035" stop-color="#b8ff00"/><stop offset=".0383" stop-color="#adff00"/><stop offset=".0417" stop-color="#92ff00"/><stop offset=".045" stop-color="#52ff00"/><stop offset=".0483" stop-color="#00ff23"/><stop offset=".0517" stop-color="#00ff70"/><stop offset=".055" stop-color="#00ffe2"/><stop offset=".0583" stop-color="#0078ff"/><stop offset=".0617" stop-color="#003aff"/><stop offset=".065" stop-color="#003cff"/><stop offset=".0683" stop-color="#0069ff"/><stop offset=".0717" stop-color="#00a4ff"/><stop offset=".075" stop-color="#0093ff"/><stop offset=".0783" stop-color="#0f02ff"/><stop offset=".0817" stop-color="#4500ff"/><stop offset=".085" stop-color="#0607ff"/><stop offset=".0883" stop-color="#00a8ff"/><stop offset=".0917" stop-color="#00f3ff"/><stop offset=".095" stop-color="#00ff9d"/><stop offset=".0983" stop-color="#00ff65"/><stop offset=".1017" stop-color="#0f5"/><stop offset=".115" stop-color="#00ff64"/><stop offset=".1283" stop-color="#00ff53"/><stop offset=".1983" stop-color="#00ff5f"/><stop offset=".2483" stop-color="#00ff78"/><stop offset=".265" stop-color="#00ff70"/><stop offset=".375" stop-color="#00ff8b"/><stop offset=".7883" stop-color="#00ff98"/><stop offset=".9983" stop-color="#00ffb1"/></linearGradient>
<linearGradient id="b93" x2="0" y2="1"><stop offset=".0017" stop-color="#8aff00"/><stop offset=".035" stop-color="#92ff00"/><stop offset=".0383" stop-color="#87ff00"/><stop offset=".0417" stop-color="#6dff00"/><stop offset=".045" stop-color="#26ff00"/><stop offset=".0483" stop-color="#00ff2f"/><stop offset=".0517" stop-color="#00ff69"/><stop offset=".055" stop-color="#00ffcd"/><stop offset=".0583" stop-color="#009bff"/><stop offset=".0617" stop-color="#0065ff"/><stop offset=".065" stop-color="#0067ff"/><stop offset=".0717" stop-color="#00aeff"/><stop offset=".075" stop-color="#0af"/><stop offset=".0783" stop-color="#004cff"/><stop offset=".0817" stop-color="#130dff"/><stop offset=".085" stop-color="#005dff"/><stop offset=".0883" stop-color="#00bfff"/><stop offset=".0917" stop-color="#00ffed"/><stop offset=".095" stop-color="#00ff8e"/><stop offset=".0983" stop-color="#00ff61"/><stop offset=".1017" stop-color="#00ff54"/><stop offset=".115" stop-color="#00ff5c"/><stop offset=".1283" stop-color="#00ff4f"/><stop offset=".1683" stop-color="#00ff52"/><stop offset=".245" stop-color="#00ff6e"/><stop offset=".375" stop-color="#00ff83"/><stop offset=".5683" stop-color="#0f8"/><stop offset=".9983" stop-color="#0fa"/></linearGradient>
<linearGradient id="b94" x2="0" y2="1"><stop offset=".0017" stop-color="#57ff00"/><stop offset=".035" stop-color="#63ff00"/><stop offset=".0383" stop-color="#5f0"/><stop offset=".0417" stop-color="#37ff00"/><stop offset=".045" stop-color="#00ff0e"/><stop offset=".0517" stop-color="#00ff68"/><stop offset=".055" stop-color="#00ffbc"/><stop offset=".0583" stop-color="#00d3ff"/><stop offset=".0617" stop-color="#0af"/><stop offset=".0717" stop-color="#00bcff"/><stop offset=".0817" stop-color="#008fff"/><stop offset=".085" stop-color="#00a9ff"/><stop offset=".0883" stop-color="#0df"/><stop offset=".0917" stop-color="#00ffc2"/><stop offset=".095" stop-color="#00ff7d"/><stop offset=".0983" stop-color="#00ff5c"/><stop offset=".105" stop-color="#00ff50"/><stop offset=".375" stop-color="#00ff7d"/><stop offset=".9983" stop-color="#00ffab"/></linearGradient>
<linearGradient id="b95" x2="0" y2="1"><stop offset=".0017" stop-color="#18ff00"/><stop offset=".0317" stop-color="#27ff00"/><stop offset=".035" stop-color="#23ff00"/><stop offset=".0417" stop-color="#02ff0a"/><stop offset=".0517" stop-color="#0f6"/><stop offset=".055" stop-color="#00ffa1"/><stop offset=".0583" stop-color="#00ffeb"/><stop offset=".0617" stop-color="#00eefc"/><stop offset=".0683" stop-color="#00effc"/><stop offset=".0717" stop-color="#00e4ff"/><stop offset=".0783" stop-color="#00b8ff"/><stop offset=".0817" stop-color="#00b4ff"/><stop offset=".085" stop-color="#00c8ff"/><stop offset=".0883" stop-color="#00ffef"/><stop offset=".0917" stop-color="#00ff96"/><stop offset=".095" stop-color="#00ff67"/><stop offset=".0983" stop-color="#00ff51"/><stop offset=".105" stop-color="#00ff45"/><stop offset=".375" stop-color="#0f7"/><stop offset=".9983" stop-color="#00ffb5"/></linearGradient>
<linearGradient id="b96" x2="0" y2="1"><stop offset=".0017" stop-color="#00ff15"/><stop offset=".0317" stop-color="#0f1"/><stop offset=".0417" stop-color="#00ff25"/><stop offset=".0517" stop-color="#00ff5a"/><stop offset=".0583" stop-color="#00ffa9"/><stop offset=".0617" stop-color="#00ffbd"/><stop offset=".065" stop-color="#00ffb4"/><stop offset=".0683" stop-color="#00ffbd"/><stop offset=".0717" stop-color="#00ffd0"/><stop offset=".075" stop-color="#00fcf0"/><stop offset=".0783" stop-color="#00e6ff"/><stop offset=".0817" stop-color="#00dfff"/><stop offset=".085" stop-color="#00f7fa"/><stop offset=".0917" stop-color="#00ff75"/><stop offset=".095" stop-color="#0f5"/><stop offset=".0983" stop-color="#00ff47"/><stop offset=".105" stop-color="#00ff3f"/><stop offset=".3217" stop-color="#00ff6c"/><stop offset=".9983" stop-color="#00ffb8"/></linearGradient>
<linearGradient id="b97" x2="0" y2="1"><stop offset=".0017" stop-color="#00ff36"/><stop offset=".035" stop-color="#00ff32"/><stop offset=".045" stop-color="#00ff41"/><stop offset=".0517" stop-color="#00ff58"/><stop offset=".0583" stop-color="#00ff84"/><stop offset=".0683" stop-color="#00ff8f"/><stop offset=".0717" stop-color="#00ff9c"/><stop offset=".0783" stop-color="#00ffe1"/><stop offset=".0817" stop-color="#00ffe7"/><stop offset=".085" stop-color="#00ffcf"/><stop offset=".0883" stop-color="#00ff96"/><stop offset=".0917" stop-color="#00ff6e"/><stop offset=".0983" stop-color="#00ff50"/><stop offset=".105" stop-color="#00ff4c"/><stop offset=".185" stop-color="#00ff4f"/><stop offset=".265" stop-color="#00ff62"/><stop offset=".9983" stop-color="#00ffb5"/></linearGradient>
<clipPath id="cpt"><rect x="149" y="130" width="751" height="300"/></clipPath><clipPath id="cpb"><rect x="149" y="449" width="751" height="301"/></clipPath></defs>
<g shape-rendering="crispEdges"><rect x="345" y="130" width="8" height="300" fill="url(#tr0)"/>
<rect x="353" y="130" width="8" height="300" fill="url(#tr1)"/>
<rect x="361" y="130" width="8" height="300" fill="url(#tr2)"/>
<rect x="369" y="130" width="8" height="300" fill="url(#tr3)"/>
<rect x="377" y="130" width="8" height="300" fill="url(#tr4)"/>
<rect x="385" y="130" width="8" height="300" fill="url(#tr5)"/>
<rect x="393" y="130" width="8" height="300" fill="url(#tr6)"/>
<rect x="401" y="130" width="8" height="300" fill="url(#tr7)"/>
<rect x="409" y="130" width="8" height="300" fill="url(#tr8)"/>
<rect x="417" y="130" width="8" height="300" fill="url(#tr9)"/>
<rect x="425" y="130" width="8" height="300" fill="url(#tr10)"/>
<rect x="433" y="130" width="8" height="300" fill="url(#tr11)"/>
<rect x="441" y="130" width="8" height="300" fill="url(#tr12)"/>
<rect x="449" y="130" width="8" height="300" fill="url(#tr13)"/>
<rect x="457" y="130" width="8" height="300" fill="url(#tr14)"/>
<rect x="465" y="130" width="8" height="300" fill="url(#tr15)"/>
<rect x="473" y="130" width="8" height="300" fill="url(#tr16)"/>
<rect x="481" y="130" width="8" height="300" fill="url(#tr17)"/>
<rect x="489" y="130" width="8" height="300" fill="url(#tr18)"/>
<rect x="497" y="130" width="8" height="300" fill="url(#tr19)"/>
<rect x="505" y="130" width="8" height="300" fill="url(#tr20)"/>
<rect x="513" y="130" width="8" height="300" fill="url(#tr21)"/>
<rect x="521" y="130" width="8" height="300" fill="url(#tr22)"/>
<rect x="529" y="130" width="8" height="300" fill="url(#tr23)"/>
<rect x="537" y="130" width="8" height="300" fill="url(#tr24)"/>
<rect x="545" y="130" width="8" height="300" fill="url(#tr25)"/>
<rect x="553" y="130" width="8" height="300" fill="url(#tr26)"/>
<rect x="561" y="130" width="8" height="300" fill="url(#tr27)"/>
<rect x="569" y="130" width="8" height="300" fill="url(#tr28)"/>
<rect x="577" y="130" width="8" height="300" fill="url(#tr29)"/>
<rect x="585" y="130" width="8" height="300" fill="url(#tr30)"/>
<rect x="593" y="130" width="8" height="300" fill="url(#tr31)"/>
<rect x="601" y="130" width="8" height="300" fill="url(#tr32)"/>
<rect x="609" y="130" width="8" height="300" fill="url(#tr33)"/>
<rect x="617" y="130" width="8" height="300" fill="url(#tr34)"/>
<rect x="625" y="130" width="8" height="300" fill="url(#tr35)"/>
<rect x="633" y="130" width="8" height="300" fill="url(#tr36)"/>
<rect x="641" y="130" width="8" height="300" fill="url(#tr37)"/>
<rect x="649" y="130" width="8" height="300" fill="url(#tr38)"/>
<rect x="657" y="130" width="8" height="300" fill="url(#tr39)"/>
<rect x="665" y="130" width="8" height="300" fill="url(#tr40)"/>
<rect x="673" y="130" width="8" height="300" fill="url(#tr41)"/>
<rect x="681" y="130" width="8" height="300" fill="url(#tr42)"/>
<rect x="689" y="130" width="8" height="300" fill="url(#tr43)"/>
<rect x="697" y="130" width="8" height="300" fill="url(#tr44)"/>
<rect x="705" y="130" width="8" height="300" fill="url(#tr45)"/>
<rect x="713" y="130" width="8" height="300" fill="url(#tr46)"/>
<rect x="721" y="130" width="8" height="300" fill="url(#tr47)"/>
<rect x="729" y="130" width="8" height="300" fill="url(#tr48)"/>
<rect x="737" y="130" width="8" height="300" fill="url(#tr49)"/>
<rect x="745" y="130" width="8" height="300" fill="url(#tr50)"/>
<rect x="753" y="130" width="8" height="300" fill="url(#tr51)"/>
<rect x="761" y="130" width="8" height="300" fill="url(#tr52)"/>
<rect x="769" y="130" width="8" height="300" fill="url(#tr53)"/>
<rect x="777" y="130" width="8" height="300" fill="url(#tr54)"/>
<rect x="785" y="130" width="8" height="300" fill="url(#tr55)"/>
<rect x="793" y="130" width="8" height="300" fill="url(#tr56)"/>
<rect x="801" y="130" width="8" height="300" fill="url(#tr57)"/>
<rect x="809" y="130" width="8" height="300" fill="url(#tr58)"/>
<rect x="817" y="130" width="8" height="300" fill="url(#tr59)"/>
<rect x="825" y="130" width="8" height="300" fill="url(#tr60)"/>
<rect x="833" y="130" width="8" height="300" fill="url(#tr61)"/>
<rect x="841" y="130" width="8" height="300" fill="url(#tr62)"/>
<rect x="849" y="130" width="8" height="300" fill="url(#tr63)"/>
<rect x="857" y="130" width="8" height="300" fill="url(#tr64)"/>
<rect x="865" y="130" width="8" height="300" fill="url(#tr65)"/>
<rect x="873" y="130" width="8" height="300" fill="url(#tr66)"/>
<rect x="881" y="130" width="8" height="300" fill="url(#tr67)"/>
<rect x="889" y="130" width="8" height="300" fill="url(#tr68)"/>
<rect x="897" y="130" width="3" height="300" fill="url(#tr69)"/>
<rect x="149" y="130" width="2" height="300" fill="url(#t0)"/>
<rect x="151" y="130" width="2" height="300" fill="url(#t1)"/>
<rect x="153" y="130" width="2" height="300" fill="url(#t2)"/>
<rect x="155" y="130" width="2" height="300" fill="url(#t3)"/>
<rect x="157" y="130" width="2" height="300" fill="url(#t4)"/>
<rect x="159" y="130" width="2" height="300" fill="url(#t5)"/>
<rect x="161" y="130" width="2" height="300" fill="url(#t6)"/>
<rect x="163" y="130" width="2" height="300" fill="url(#t7)"/>
<rect x="165" y="130" width="2" height="300" fill="url(#t8)"/>
<rect x="167" y="130" width="2" height="300" fill="url(#t9)"/>
<rect x="169" y="130" width="2" height="300" fill="url(#t10)"/>
<rect x="171" y="130" width="2" height="300" fill="url(#t11)"/>
<rect x="173" y="130" width="2" height="300" fill="url(#t12)"/>
<rect x="175" y="130" width="2" height="300" fill="url(#t13)"/>
<rect x="177" y="130" width="2" height="300" fill="url(#t14)"/>
<rect x="179" y="130" width="2" height="300" fill="url(#t15)"/>
<rect x="181" y="130" width="2" height="300" fill="url(#t16)"/>
<rect x="183" y="130" width="2" height="300" fill="url(#t17)"/>
<rect x="185" y="130" width="2" height="300" fill="url(#t18)"/>
<rect x="187" y="130" width="2" height="300" fill="url(#t19)"/>
<rect x="189" y="130" width="2" height="300" fill="url(#t20)"/>
<rect x="191" y="130" width="2" height="300" fill="url(#t21)"/>
<rect x="193" y="130" width="2" height="300" fill="url(#t22)"/>
<rect x="195" y="130" width="2" height="300" fill="url(#t23)"/>
<rect x="197" y="130" width="2" height="300" fill="url(#t24)"/>
<rect x="199" y="130" width="2" height="300" fill="url(#t25)"/>
<rect x="201" y="130" width="2" height="300" fill="url(#t26)"/>
<rect x="203" y="130" width="2" height="300" fill="url(#t27)"/>
<rect x="205" y="130" width="2" height="300" fill="url(#t28)"/>
<rect x="207" y="130" width="2" height="300" fill="url(#t29)"/>
<rect x="209" y="130" width="2" height="300" fill="url(#t30)"/>
<rect x="211" y="130" width="2" height="300" fill="url(#t31)"/>
<rect x="213" y="130" width="2" height="300" fill="url(#t32)"/>
<rect x="215" y="130" width="2" height="300" fill="url(#t33)"/>
<rect x="217" y="130" width="2" height="300" fill="url(#t34)"/>
<rect x="219" y="130" width="2" height="300" fill="url(#t35)"/>
<rect x="221" y="130" width="2" height="300" fill="url(#t36)"/>
<rect x="223" y="130" width="2" height="300" fill="url(#t37)"/>
<rect x="225" y="130" width="2" height="300" fill="url(#t38)"/>
<rect x="227" y="130" width="2" height="300" fill="url(#t39)"/>
<rect x="229" y="130" width="2" height="300" fill="url(#t40)"/>
<rect x="231" y="130" width="2" height="300" fill="url(#t41)"/>
<rect x="233" y="130" width="2" height="300" fill="url(#t42)"/>
<rect x="235" y="130" width="2" height="300" fill="url(#t43)"/>
<rect x="237" y="130" width="2" height="300" fill="url(#t44)"/>
<rect x="239" y="130" width="2" height="300" fill="url(#t45)"/>
<rect x="241" y="130" width="2" height="300" fill="url(#t46)"/>
<rect x="243" y="130" width="2" height="300" fill="url(#t47)"/>
<rect x="245" y="130" width="2" height="300" fill="url(#t48)"/>
<rect x="247" y="130" width="2" height="300" fill="url(#t49)"/>
<rect x="249" y="130" width="2" height="300" fill="url(#t50)"/>
<rect x="251" y="130" width="2" height="300" fill="url(#t51)"/>
<rect x="253" y="130" width="2" height="300" fill="url(#t52)"/>
<rect x="255" y="130" width="2" height="300" fill="url(#t53)"/>
<rect x="257" y="130" width="2" height="300" fill="url(#t54)"/>
<rect x="259" y="130" width="2" height="300" fill="url(#t55)"/>
<rect x="261" y="130" width="2" height="300" fill="url(#t56)"/>
<rect x="263" y="130" width="2" height="300" fill="url(#t57)"/>
<rect x="265" y="130" width="2" height="300" fill="url(#t58)"/>
<rect x="267" y="130" width="2" height="300" fill="url(#t59)"/>
<rect x="269" y="130" width="2" height="300" fill="url(#t60)"/>
<rect x="271" y="130" width="2" height="300" fill="url(#t61)"/>
<rect x="273" y="130" width="2" height="300" fill="url(#t62)"/>
<rect x="275" y="130" width="2" height="300" fill="url(#t63)"/>
<rect x="277" y="130" width="2" height="300" fill="url(#t64)"/>
<rect x="279" y="130" width="2" height="300" fill="url(#t65)"/>
<rect x="281" y="130" width="2" height="300" fill="url(#t66)"/>
<rect x="283" y="130" width="2" height="300" fill="url(#t67)"/>
<rect x="285" y="130" width="2" height="300" fill="url(#t68)"/>
<rect x="287" y="130" width="2" height="300" fill="url(#t69)"/>
<rect x="289" y="130" width="2" height="300" fill="url(#t70)"/>
<rect x="291" y="130" width="2" height="300" fill="url(#t71)"/>
<rect x="293" y="130" width="2" height="300" fill="url(#t72)"/>
<rect x="295" y="130" width="2" height="300" fill="url(#t73)"/>
<rect x="297" y="130" width="2" height="300" fill="url(#t74)"/>
<rect x="299" y="130" width="2" height="300" fill="url(#t75)"/>
<rect x="301" y="130" width="2" height="300" fill="url(#t76)"/>
<rect x="303" y="130" width="2" height="300" fill="url(#t77)"/>
<rect x="305" y="130" width="2" height="300" fill="url(#t78)"/>
<rect x="307" y="130" width="2" height="300" fill="url(#t79)"/>
<rect x="309" y="130" width="2" height="300" fill="url(#t80)"/>
<rect x="311" y="130" width="2" height="300" fill="url(#t81)"/>
<rect x="313" y="130" width="2" height="300" fill="url(#t82)"/>
<rect x="315" y="130" width="2" height="300" fill="url(#t83)"/>
<rect x="317" y="130" width="2" height="300" fill="url(#t84)"/>
<rect x="319" y="130" width="2" height="300" fill="url(#t85)"/>
<rect x="321" y="130" width="2" height="300" fill="url(#t86)"/>
<rect x="323" y="130" width="2" height="300" fill="url(#t87)"/>
<rect x="325" y="130" width="2" height="300" fill="url(#t88)"/>
<rect x="327" y="130" width="2" height="300" fill="url(#t89)"/>
<rect x="329" y="130" width="2" height="300" fill="url(#t90)"/>
<rect x="331" y="130" width="2" height="300" fill="url(#t91)"/>
<rect x="333" y="130" width="2" height="300" fill="url(#t92)"/>
<rect x="335" y="130" width="2" height="300" fill="url(#t93)"/>
<rect x="337" y="130" width="2" height="300" fill="url(#t94)"/>
<rect x="339" y="130" width="2" height="300" fill="url(#t95)"/>
<rect x="341" y="130" width="2" height="300" fill="url(#t96)"/>
<rect x="343" y="130" width="2" height="300" fill="url(#t97)"/>
<rect x="345" y="450" width="8" height="300" fill="url(#br0)"/>
<rect x="353" y="450" width="8" height="300" fill="url(#br1)"/>
<rect x="361" y="450" width="8" height="300" fill="url(#br2)"/>
<rect x="369" y="450" width="8" height="300" fill="url(#br3)"/>
<rect x="377" y="450" width="8" height="300" fill="url(#br4)"/>
<rect x="385" y="450" width="8" height="300" fill="url(#br5)"/>
<rect x="393" y="450" width="8" height="300" fill="url(#br6)"/>
<rect x="401" y="450" width="8" height="300" fill="url(#br7)"/>
<rect x="409" y="450" width="8" height="300" fill="url(#br8)"/>
<rect x="417" y="450" width="8" height="300" fill="url(#br9)"/>
<rect x="425" y="450" width="8" height="300" fill="url(#br10)"/>
<rect x="433" y="450" width="8" height="300" fill="url(#br11)"/>
<rect x="441" y="450" width="8" height="300" fill="url(#br12)"/>
<rect x="449" y="450" width="8" height="300" fill="url(#br13)"/>
<rect x="457" y="450" width="8" height="300" fill="url(#br14)"/>
<rect x="465" y="450" width="8" height="300" fill="url(#br15)"/>
<rect x="473" y="450" width="8" height="300" fill="url(#br16)"/>
<rect x="481" y="450" width="8" height="300" fill="url(#br17)"/>
<rect x="489" y="450" width="8" height="300" fill="url(#br18)"/>
<rect x="497" y="450" width="8" height="300" fill="url(#br19)"/>
<rect x="505" y="450" width="8" height="300" fill="url(#br20)"/>
<rect x="513" y="450" width="8" height="300" fill="url(#br21)"/>
<rect x="521" y="450" width="8" height="300" fill="url(#br22)"/>
<rect x="529" y="450" width="8" height="300" fill="url(#br23)"/>
<rect x="537" y="450" width="8" height="300" fill="url(#br24)"/>
<rect x="545" y="450" width="8" height="300" fill="url(#br25)"/>
<rect x="553" y="450" width="8" height="300" fill="url(#br26)"/>
<rect x="561" y="450" width="8" height="300" fill="url(#br27)"/>
<rect x="569" y="450" width="8" height="300" fill="url(#br28)"/>
<rect x="577" y="450" width="8" height="300" fill="url(#br29)"/>
<rect x="585" y="450" width="8" height="300" fill="url(#br30)"/>
<rect x="593" y="450" width="8" height="300" fill="url(#br31)"/>
<rect x="601" y="450" width="8" height="300" fill="url(#br32)"/>
<rect x="609" y="450" width="8" height="300" fill="url(#br33)"/>
<rect x="617" y="450" width="8" height="300" fill="url(#br34)"/>
<rect x="625" y="450" width="8" height="300" fill="url(#br35)"/>
<rect x="633" y="450" width="8" height="300" fill="url(#br36)"/>
<rect x="641" y="450" width="8" height="300" fill="url(#br37)"/>
<rect x="649" y="450" width="8" height="300" fill="url(#br38)"/>
<rect x="657" y="450" width="8" height="300" fill="url(#br39)"/>
<rect x="665" y="450" width="8" height="300" fill="url(#br40)"/>
<rect x="673" y="450" width="8" height="300" fill="url(#br41)"/>
<rect x="681" y="450" width="8" height="300" fill="url(#br42)"/>
<rect x="689" y="450" width="8" height="300" fill="url(#br43)"/>
<rect x="697" y="450" width="8" height="300" fill="url(#br44)"/>
<rect x="705" y="450" width="8" height="300" fill="url(#br45)"/>
<rect x="713" y="450" width="8" height="300" fill="url(#br46)"/>
<rect x="721" y="450" width="8" height="300" fill="url(#br47)"/>
<rect x="729" y="450" width="8" height="300" fill="url(#br48)"/>
<rect x="737" y="450" width="8" height="300" fill="url(#br49)"/>
<rect x="745" y="450" width="8" height="300" fill="url(#br50)"/>
<rect x="753" y="450" width="8" height="300" fill="url(#br51)"/>
<rect x="761" y="450" width="8" height="300" fill="url(#br52)"/>
<rect x="769" y="450" width="8" height="300" fill="url(#br53)"/>
<rect x="777" y="450" width="8" height="300" fill="url(#br54)"/>
<rect x="785" y="450" width="8" height="300" fill="url(#br55)"/>
<rect x="793" y="450" width="8" height="300" fill="url(#br56)"/>
<rect x="801" y="450" width="8" height="300" fill="url(#br57)"/>
<rect x="809" y="450" width="8" height="300" fill="url(#br58)"/>
<rect x="817" y="450" width="8" height="300" fill="url(#br59)"/>
<rect x="825" y="450" width="8" height="300" fill="url(#br60)"/>
<rect x="833" y="450" width="8" height="300" fill="url(#br61)"/>
<rect x="841" y="450" width="8" height="300" fill="url(#br62)"/>
<rect x="849" y="450" width="8" height="300" fill="url(#br63)"/>
<rect x="857" y="450" width="8" height="300" fill="url(#br64)"/>
<rect x="865" y="450" width="8" height="300" fill="url(#br65)"/>
<rect x="873" y="450" width="8" height="300" fill="url(#br66)"/>
<rect x="881" y="450" width="8" height="300" fill="url(#br67)"/>
<rect x="889" y="450" width="8" height="300" fill="url(#br68)"/>
<rect x="897" y="450" width="3" height="300" fill="url(#br69)"/>
<rect x="149" y="450" width="2" height="300" fill="url(#b0)"/>
<rect x="151" y="450" width="2" height="300" fill="url(#b1)"/>
<rect x="153" y="450" width="2" height="300" fill="url(#b2)"/>
<rect x="155" y="450" width="2" height="300" fill="url(#b3)"/>
<rect x="157" y="450" width="2" height="300" fill="url(#b4)"/>
<rect x="159" y="450" width="2" height="300" fill="url(#b5)"/>
<rect x="161" y="450" width="2" height="300" fill="url(#b6)"/>
<rect x="163" y="450" width="2" height="300" fill="url(#b7)"/>
<rect x="165" y="450" width="2" height="300" fill="url(#b8)"/>
<rect x="167" y="450" width="2" height="300" fill="url(#b9)"/>
<rect x="169" y="450" width="2" height="300" fill="url(#b10)"/>
<rect x="171" y="450" width="2" height="300" fill="url(#b11)"/>
<rect x="173" y="450" width="2" height="300" fill="url(#b12)"/>
<rect x="175" y="450" width="2" height="300" fill="url(#b13)"/>
<rect x="177" y="450" width="2" height="300" fill="url(#b14)"/>
<rect x="179" y="450" width="2" height="300" fill="url(#b15)"/>
<rect x="181" y="450" width="2" height="300" fill="url(#b16)"/>
<rect x="183" y="450" width="2" height="300" fill="url(#b17)"/>
<rect x="185" y="450" width="2" height="300" fill="url(#b18)"/>
<rect x="187" y="450" width="2" height="300" fill="url(#b19)"/>
<rect x="189" y="450" width="2" height="300" fill="url(#b20)"/>
<rect x="191" y="450" width="2" height="300" fill="url(#b21)"/>
<rect x="193" y="450" width="2" height="300" fill="url(#b22)"/>
<rect x="195" y="450" width="2" height="300" fill="url(#b23)"/>
<rect x="197" y="450" width="2" height="300" fill="url(#b24)"/>
<rect x="199" y="450" width="2" height="300" fill="url(#b25)"/>
<rect x="201" y="450" width="2" height="300" fill="url(#b26)"/>
<rect x="203" y="450" width="2" height="300" fill="url(#b27)"/>
<rect x="205" y="450" width="2" height="300" fill="url(#b28)"/>
<rect x="207" y="450" width="2" height="300" fill="url(#b29)"/>
<rect x="209" y="450" width="2" height="300" fill="url(#b30)"/>
<rect x="211" y="450" width="2" height="300" fill="url(#b31)"/>
<rect x="213" y="450" width="2" height="300" fill="url(#b32)"/>
<rect x="215" y="450" width="2" height="300" fill="url(#b33)"/>
<rect x="217" y="450" width="2" height="300" fill="url(#b34)"/>
<rect x="219" y="450" width="2" height="300" fill="url(#b35)"/>
<rect x="221" y="450" width="2" height="300" fill="url(#b36)"/>
<rect x="223" y="450" width="2" height="300" fill="url(#b37)"/>
<rect x="225" y="450" width="2" height="300" fill="url(#b38)"/>
<rect x="227" y="450" width="2" height="300" fill="url(#b39)"/>
<rect x="229" y="450" width="2" height="300" fill="url(#b40)"/>
<rect x="231" y="450" width="2" height="300" fill="url(#b41)"/>
<rect x="233" y="450" width="2" height="300" fill="url(#b42)"/>
<rect x="235" y="450" width="2" height="300" fill="url(#b43)"/>
<rect x="237" y="450" width="2" height="300" fill="url(#b44)"/>
<rect x="239" y="450" width="2" height="300" fill="url(#b45)"/>
<rect x="241" y="450" width="2" height="300" fill="url(#b46)"/>
<rect x="243" y="450" width="2" height="300" fill="url(#b47)"/>
<rect x="245" y="450" width="2" height="300" fill="url(#b48)"/>
<rect x="247" y="450" width="2" height="300" fill="url(#b49)"/>
<rect x="249" y="450" width="2" height="300" fill="url(#b50)"/>
<rect x="251" y="450" width="2" height="300" fill="url(#b51)"/>
<rect x="253" y="450" width="2" height="300" fill="url(#b52)"/>
<rect x="255" y="450" width="2" height="300" fill="url(#b53)"/>
<rect x="257" y="450" width="2" height="300" fill="url(#b54)"/>
<rect x="259" y="450" width="2" height="300" fill="url(#b55)"/>
<rect x="261" y="450" width="2" height="300" fill="url(#b56)"/>
<rect x="263" y="450" width="2" height="300" fill="url(#b57)"/>
<rect x="265" y="450" width="2" height="300" fill="url(#b58)"/>
<rect x="267" y="450" width="2" height="300" fill="url(#b59)"/>
<rect x="269" y="450" width="2" height="300" fill="url(#b60)"/>
<rect x="271" y="450" width="2" height="300" fill="url(#b61)"/>
<rect x="273" y="450" width="2" height="300" fill="url(#b62)"/>
<rect x="275" y="450" width="2" height="300" fill="url(#b63)"/>
<rect x="277" y="450" width="2" height="300" fill="url(#b64)"/>
<rect x="279" y="450" width="2" height="300" fill="url(#b65)"/>
<rect x="281" y="450" width="2" height="300" fill="url(#b66)"/>
<rect x="283" y="450" width="2" height="300" fill="url(#b67)"/>
<rect x="285" y="450" width="2" height="300" fill="url(#b68)"/>
<rect x="287" y="450" width="2" height="300" fill="url(#b69)"/>
<rect x="289" y="450" width="2" height="300" fill="url(#b70)"/>
<rect x="291" y="450" width="2" height="300" fill="url(#b71)"/>
<rect x="293" y="450" width="2" height="300" fill="url(#b72)"/>
<rect x="295" y="450" width="2" height="300" fill="url(#b73)"/>
<rect x="297" y="450" width="2" height="300" fill="url(#b74)"/>
<rect x="299" y="450" width="2" height="300" fill="url(#b75)"/>
<rect x="301" y="450" width="2" height="300" fill="url(#b76)"/>
<rect x="303" y="450" width="2" height="300" fill="url(#b77)"/>
<rect x="305" y="450" width="2" height="300" fill="url(#b78)"/>
<rect x="307" y="450" width="2" height="300" fill="url(#b79)"/>
<rect x="309" y="450" width="2" height="300" fill="url(#b80)"/>
<rect x="311" y="450" width="2" height="300" fill="url(#b81)"/>
<rect x="313" y="450" width="2" height="300" fill="url(#b82)"/>
<rect x="315" y="450" width="2" height="300" fill="url(#b83)"/>
<rect x="317" y="450" width="2" height="300" fill="url(#b84)"/>
<rect x="319" y="450" width="2" height="300" fill="url(#b85)"/>
<rect x="321" y="450" width="2" height="300" fill="url(#b86)"/>
<rect x="323" y="450" width="2" height="300" fill="url(#b87)"/>
<rect x="325" y="450" width="2" height="300" fill="url(#b88)"/>
<rect x="327" y="450" width="2" height="300" fill="url(#b89)"/>
<rect x="329" y="450" width="2" height="300" fill="url(#b90)"/>
<rect x="331" y="450" width="2" height="300" fill="url(#b91)"/>
<rect x="333" y="450" width="2" height="300" fill="url(#b92)"/>
<rect x="335" y="450" width="2" height="300" fill="url(#b93)"/>
<rect x="337" y="450" width="2" height="300" fill="url(#b94)"/>
<rect x="339" y="450" width="2" height="300" fill="url(#b95)"/>
<rect x="341" y="450" width="2" height="300" fill="url(#b96)"/>
<rect x="343" y="450" width="2" height="300" fill="url(#b97)"/></g>
<g clip-path="url(#cpt)" shape-rendering="crispEdges"><g fill="none" stroke="#000" stroke-width="2.7" stroke-linejoin="round"><path d="M149,161 150.5,161.5 153,167 155,172 158,176 162.5,177 163.5,182 165,189 167.5,197 170,202 172.5,202.5 174,198 175,200 176.5,205 180,203.5 185,200.5 189,200 193,202 197,202.5 201,204.5 205,205 210,204 213,202 214,198.5 217,198 218.5,194 223,192 227,191 230,192 233,195 236,197 239,193 241,189 245,185 249,186 254,186.5 258,185 262,188 267,189 270,185 273,181.5 278,181 283,180 287,176 291,172.5 295,172 298,173.5 301,177 305,177.5 310,177 315,177.5 319,180 323,182.5 325,180 328,175 329,168 329,126"/>
<path d="M149,232 151,232 152.5,221 153.5,205 155,197.5 157.5,198 160,202 164,206.5 166.5,208.5 165.5,214 168,216 172,215 176,216 179,213.5 185,211.5 189,212.5 193,214 197,213 201,212.5 205,214 209,214 213,212 217,210.5 219,205 220,201 225,200 229,201.5 232,205 235,206 239,202.5 243,198 246,196.5 249,198 253,201 257,204 261,200.5 265,198 268,194.5 274,195 276.5,198 277,205 276.5,212 277,214.6 281.8,214.6 287.4,216.3 293,217.4 297,217 297,214.6 296.4,209 291.4,205.7 288,202.3 288,197 291,192 295,190 301,190.5 305,192 310,191.5 315,192.5 320,193 323,194.5 325,191 330,188 335,186 339,181 340.5,173 340,126"/>
<path d="M149,306 150.5,306 151.5,303 153,297 155,290 157,278 159,270 161,260 161.5,250 162,243 163.5,237 165,227 167.5,224.5 170,227 175,228 178,225 182,223 187,223.5 192,224 197,222.5 203,223.5 211,223.5 215,221 219,218 222,212 224,210 228,212 229.6,217.4 229,226.4 224,229 223,235 223,243 223,249 222,252 215,254 214,261 214,274 212,280 209,283 205,281 203.8,277.6 202.7,271 200,271 196.5,273.7 191.5,273 190.9,270 189.8,274.3 188.6,280 187,284 184,281.6 180.2,280 176.9,277 176.3,272 170,272 167,276 165,279 164,290 163,300 163,320 161,325 159,332 159,340 156,342 153,347 150.5,351 149,351"/>
<path d="M332,196.5 325,198 323,203 323.5,211 325,215 324.5,225 325,235 326,242 330,243 335,241 340,236 343,232 343.5,225 341,218 340,210 340.5,202 338,198Z"/>
<path d="M331.5,221 328,223 326.5,228 327.5,233 331,235 335,233.5 337,229 336,224Z" stroke-width="1.3"/>
<path d="M149,317 152,317 153.3,321 152.8,326.5 151,328.5 149,328.5" stroke-width="1.3"/>
<path d="M166.8,245 174.6,249 176.3,251.8 175.2,258.6 171.8,260.2 167.9,256.3 166.2,250.7Z"/>
<path d="M168.5,263 169.6,266.4 166.8,268.7 166.2,274.3 165,276.5 163.4,274.3 163.4,267.5 165,265.3Z"/>
<path d="M203.2,244.5 208.3,244 208.8,247.3 204.4,251.8 201.5,251.3 202,247Z"/>
<path d="M177,266 180.5,265 181,270 179,273.5 176.5,272Z"/>
<path d="M277.5,215 283,215.5 286,218.5 286.9,222 284.5,225 279,225.5 277.5,223Z"/>
<path d="M308.7,204.5 311,202.3 314.4,204 317.2,202.3 318.8,205 316.6,208.5 316,213 312.7,213.5 309.3,209.6Z"/>
<path d="M233,226.5 236,224.5 239.5,225 239.5,229 237,231.5 233.5,231Z"/>
<path d="M232,259.7 237,259.7 237,264.7 232,264.7Z"/>
<path d="M230.5,268.5 233.5,268.5 233.5,271.5 230.5,271.5Z"/>
<path d="M202,238.4 202,246"/>
<path d="M301,200.5 301,204.3"/>
<path d="M175.8,244.4 178,244.4"/></g>
<g fill="#000" stroke="#000" stroke-width="1" stroke-linejoin="round"><path d="M195,254.6 197.6,254.6 197.6,258 194,264 193.5,267.5 191.5,267.5 191.5,262 194.5,259Z"/>
<path d="M210,254 212.8,254 212.8,256.3 210,256.3Z"/>
<path d="M213,262 217.5,262 217.5,278 213,278Z"/>
<path d="M219,229 224,228.5 225,232 224.5,236 226,238 225,241 220,241 216,239 214.5,236 217,233Z"/>
<path d="M232,216 241.5,215.5 243,219 242.5,225 241,230 238,234 236,235.5 232,232 231,227 232.5,222Z"/>
<path d="M244,210.5 247,210.5 250,213 254,212.5 254.5,215.5 251,216.5 249.5,221 247,223.5 245,221 243.6,216Z"/>
<path d="M256,215 258.5,216 260.5,222 260.5,228.6 256.5,228.6 256,224 254,219Z"/>
<path d="M271.5,214 275,211.5 277.5,213 277.5,229.5 272.5,230.5 272,225 270.6,221Z"/>
<path d="M319.5,216.5 322,216.5 322,219 320.5,220 321,223 322.8,225 322.8,231 320.5,231 318.5,227 318.3,222Z"/>
<path d="M293,217.4 297,217.4 298,221 297,224.5 293.5,224.7 292.5,221Z"/>
<path d="M227,240 229.5,240 231.5,243 231.5,258 232,266 229,266 226.5,262 226.3,245Z"/>
<path d="M232,246 234,246 238.6,250 238.6,264 237,266.5 232,266.5Z"/>
<path d="M228.5,266 236,266 235.5,272 231,276 228.5,272Z"/>
<path d="M234.5,274 238.6,274 238,277 236.5,279 236.5,283 234.5,283Z"/>
<path d="M246.4,223.6 248,223.6 248,225.6 246.4,225.6Z"/></g>
<g><path d="M233,226.5 236,224.5 239.5,225 239.5,229 237,231.5 233.5,231Z" fill="#09f"/>
<path d="M272.3,216 273.8,216 273.8,221 272.3,221Z" fill="#20ff00"/>
<path d="M232.8,252 236.3,255 233,258Z" fill="#00ffdf"/>
<path d="M232.3,260.5 236.8,259.5 236.5,263.5 233,264.5Z" fill="#00a6ff"/>
<path d="M230.6,268.6 233.4,268.6 232,271.4Z" fill="#00b2ff"/>
<path d="M320.3,224 321.3,224 321.3,228 320.3,228Z" fill="#0dff00"/></g></g>
<g clip-path="url(#cpb)" shape-rendering="crispEdges"><g fill="none" stroke="#000" stroke-width="3.0" stroke-linejoin="round"><path d="M149,457.7 150.5,457.8 153,459.2 155,460.4 158,461.4 162.5,461.7 163.5,462.9 165,464.6 167.5,466.6 170,467.9 172.5,468 174,466.9 175,467.4 176.5,468.6 180,468.3 185,467.5 189,467.4 193,467.9 197,468 201,468.5 205,468.6 210,468.4 213,467.9 214,467 217,466.9 218.5,465.9 223,465.4 227,465.1 230,465.4 233,466.1 236,466.6 239,465.6 241,464.6 245,463.7 249,463.9 254,464 258,463.7 262,464.4 267,464.6 270,463.7 273,462.8 278,462.7 283,462.4 287,461.4 291,460.6 295,460.4 298,460.8 301,461.7 305,461.8 310,461.7 315,461.8 319,462.4 323,463 325,462.4 328,461.2 329,459.4 329,449"/>
<path d="M149,475.3 151,475.3 152.5,472.6 153.5,468.6 155,466.8 157.5,466.9 160,467.9 164,469 166.5,469.5 165.5,470.9 168,471.4 172,471.1 176,471.4 179,470.7 185,470.2 189,470.5 193,470.9 197,470.6 201,470.5 205,470.9 209,470.9 213,470.4 217,470 219,468.6 220,467.6 225,467.4 229,467.8 232,468.6 235,468.9 239,468 243,466.9 246,466.5 249,466.9 253,467.6 257,468.4 261,467.5 265,466.9 268,466 274,466.1 276.5,466.9 277,468.6 276.5,470.4 277,471 281.8,471 287.4,471.4 293,471.7 297,471.6 297,471 296.4,469.6 291.4,468.8 288,468 288,466.6 291,465.4 295,464.9 301,465 305,465.4 310,465.3 315,465.5 320,465.6 323,466 325,465.1 330,464.4 335,463.9 339,462.7 340.5,460.7 340,449"/>
<path d="M149,493.7 150.5,493.7 151.5,493 153,491.5 155,489.7 157,486.7 159,484.8 161,482.3 161.5,479.8 162,478.1 163.5,476.6 165,474.1 167.5,473.5 170,474.1 175,474.3 178,473.6 182,473.1 187,473.2 192,473.3 197,473 203,473.2 211,473.2 215,472.6 219,471.9 222,470.4 224,469.9 228,470.4 229.6,471.7 229,473.9 224,474.6 223,476.1 223,478.1 223,479.5 222,480.3 215,480.8 214,482.5 214,485.8 212,487.2 209,488 205,487.5 203.8,486.6 202.7,485 200,485 196.5,485.7 191.5,485.5 190.9,484.8 189.8,485.8 188.6,487.2 187,488.2 184,487.6 180.2,487.2 176.9,486.5 176.3,485.3 170,485.3 167,486.3 165,487 164,489.7 163,492.2 163,497.2 161,498.4 159,500.2 159,502.1 156,502.6 153,503.9 150.5,504.9 149,504.9"/>
<path d="M332,466.5 325,466.9 323,468.1 323.5,470.1 325,471.1 324.5,473.6 325,476.1 326,477.8 330,478.1 335,477.6 340,476.3 343,475.3 343.5,473.6 341,471.9 340,469.9 340.5,467.9 338,466.9Z"/>
<path d="M331.5,472.6 328,473.1 326.5,474.3 327.5,475.6 331,476.1 335,475.7 337,474.6 336,473.3Z" stroke-width="1.3"/>
<path d="M149,496.4 152,496.4 153.3,497.4 152.8,498.8 151,499.3 149,499.3" stroke-width="1.3"/>
<path d="M166.8,478.6 174.6,479.5 176.3,480.2 175.2,481.9 171.8,482.3 167.9,481.4 166.2,480Z"/>
<path d="M168.5,483 169.6,483.9 166.8,484.4 166.2,485.8 165,486.4 163.4,485.8 163.4,484.1 165,483.6Z"/>
<path d="M203.2,478.4 208.3,478.3 208.8,479.1 204.4,480.2 201.5,480.1 202,479.1Z"/>
<path d="M177,483.8 180.5,483.5 181,484.8 179,485.6 176.5,485.3Z"/>
<path d="M277.5,471.1 283,471.2 286,472 286.9,472.8 284.5,473.6 279,473.7 277.5,473.1Z"/>
<path d="M308.7,468.5 311,468 314.4,468.4 317.2,468 318.8,468.6 316.6,469.5 316,470.6 312.7,470.7 309.3,469.8Z"/>
<path d="M233,474 236,473.5 239.5,473.6 239.5,474.6 237,475.2 233.5,475.1Z"/>
<path d="M232,482.2 237,482.2 237,483.4 232,483.4Z"/>
<path d="M230.5,484.4 233.5,484.4 233.5,485.1 230.5,485.1Z"/>
<path d="M202,476.9 202,478.8"/>
<path d="M301,467.5 301,468.4"/>
<path d="M175.8,478.4 178,478.4"/></g>
<g fill="#000" stroke="#000" stroke-width="1" stroke-linejoin="round"><path d="M195,480.9 197.6,480.9 197.6,481.8 194,483.3 193.5,484.1 191.5,484.1 191.5,482.8 194.5,482Z"/>
<path d="M210,480.8 212.8,480.8 212.8,481.4 210,481.4Z"/>
<path d="M213,482.8 217.5,482.8 217.5,486.7 213,486.7Z"/>
<path d="M219,474.6 224,474.5 225,475.3 224.5,476.3 226,476.8 225,477.6 220,477.6 216,477.1 214.5,476.3 217,475.6Z"/>
<path d="M232,471.4 241.5,471.2 243,472.1 242.5,473.6 241,474.8 238,475.8 236,476.2 232,475.3 231,474.1 232.5,472.8Z"/>
<path d="M244,470 247,470 250,470.6 254,470.5 254.5,471.2 251,471.5 249.5,472.6 247,473.2 245,472.6 243.6,471.4Z"/>
<path d="M256,471.1 258.5,471.4 260.5,472.8 260.5,474.5 256.5,474.5 256,473.3 254,472.1Z"/>
<path d="M271.5,470.9 275,470.2 277.5,470.6 277.5,474.7 272.5,475 272,473.6 270.6,472.6Z"/>
<path d="M319.5,471.5 322,471.5 322,472.1 320.5,472.3 321,473.1 322.8,473.6 322.8,475.1 320.5,475.1 318.5,474.1 318.3,472.8Z"/>
<path d="M293,471.7 297,471.7 298,472.6 297,473.5 293.5,473.5 292.5,472.6Z"/>
<path d="M227,477.3 229.5,477.3 231.5,478.1 231.5,481.8 232,483.8 229,483.8 226.5,482.8 226.3,478.6Z"/>
<path d="M232,478.8 234,478.8 238.6,479.8 238.6,483.3 237,483.9 232,483.9Z"/>
<path d="M228.5,483.8 236,483.8 235.5,485.3 231,486.3 228.5,485.3Z"/>
<path d="M234.5,485.8 238.6,485.8 238,486.5 236.5,487 236.5,488 234.5,488Z"/>
<path d="M246.4,473.2 248,473.2 248,473.7 246.4,473.7Z"/></g>
<g></g></g>

<rect x="938" y="138" width="24" height="284" fill="#000"/>
<rect x="942" y="142" width="16" height="276" fill="url(#cb)"/>
<rect x="942" y="139.50" width="16" height="1" fill="#000" opacity="0.75"/>
<rect x="960" y="139.00" width="15" height="2" fill="#000"/>
<text transform="translate(987.5,148.5) scale(1.07,1)" class="tk" text-anchor="start">440</text>
<rect x="942" y="186.17" width="16" height="1" fill="#000" opacity="0.75"/>
<rect x="960" y="185.67" width="15" height="2" fill="#000"/>
<text transform="translate(987.5,195.17) scale(1.07,1)" class="tk" text-anchor="start">400</text>
<rect x="942" y="232.83" width="16" height="1" fill="#000" opacity="0.75"/>
<rect x="960" y="232.33" width="15" height="2" fill="#000"/>
<text transform="translate(987.5,241.83) scale(1.07,1)" class="tk" text-anchor="start">360</text>
<rect x="942" y="279.50" width="16" height="1" fill="#000" opacity="0.75"/>
<rect x="960" y="279.00" width="15" height="2" fill="#000"/>
<text transform="translate(987.5,288.5) scale(1.07,1)" class="tk" text-anchor="start">320</text>
<rect x="942" y="326.17" width="16" height="1" fill="#000" opacity="0.75"/>
<rect x="960" y="325.67" width="15" height="2" fill="#000"/>
<text transform="translate(987.5,335.17) scale(1.07,1)" class="tk" text-anchor="start">280</text>
<rect x="942" y="372.83" width="16" height="1" fill="#000" opacity="0.75"/>
<rect x="960" y="372.33" width="15" height="2" fill="#000"/>
<text transform="translate(987.5,381.83) scale(1.07,1)" class="tk" text-anchor="start">240</text>
<rect x="942" y="419.50" width="16" height="1" fill="#000" opacity="0.75"/>
<rect x="960" y="419.00" width="15" height="2" fill="#000"/>
<text transform="translate(987.5,428.5) scale(1.07,1)" class="tk" text-anchor="start">200</text>
<rect x="938" y="458" width="24" height="284" fill="#000"/>
<rect x="942" y="462" width="16" height="276" fill="url(#cb)"/>
<rect x="942" y="459.50" width="16" height="1" fill="#000" opacity="0.75"/>
<rect x="960" y="459.00" width="15" height="2" fill="#000"/>
<text transform="translate(987.5,468.5) scale(1.07,1)" class="tk" text-anchor="start">440</text>
<rect x="942" y="506.17" width="16" height="1" fill="#000" opacity="0.75"/>
<rect x="960" y="505.67" width="15" height="2" fill="#000"/>
<text transform="translate(987.5,515.17) scale(1.07,1)" class="tk" text-anchor="start">400</text>
<rect x="942" y="552.83" width="16" height="1" fill="#000" opacity="0.75"/>
<rect x="960" y="552.33" width="15" height="2" fill="#000"/>
<text transform="translate(987.5,561.83) scale(1.07,1)" class="tk" text-anchor="start">360</text>
<rect x="942" y="599.50" width="16" height="1" fill="#000" opacity="0.75"/>
<rect x="960" y="599.00" width="15" height="2" fill="#000"/>
<text transform="translate(987.5,608.5) scale(1.07,1)" class="tk" text-anchor="start">320</text>
<rect x="942" y="646.17" width="16" height="1" fill="#000" opacity="0.75"/>
<rect x="960" y="645.67" width="15" height="2" fill="#000"/>
<text transform="translate(987.5,655.17) scale(1.07,1)" class="tk" text-anchor="start">280</text>
<rect x="942" y="692.83" width="16" height="1" fill="#000" opacity="0.75"/>
<rect x="960" y="692.33" width="15" height="2" fill="#000"/>
<text transform="translate(987.5,701.83) scale(1.07,1)" class="tk" text-anchor="start">240</text>
<rect x="942" y="739.50" width="16" height="1" fill="#000" opacity="0.75"/>
<rect x="960" y="739.00" width="15" height="2" fill="#000"/>
<text transform="translate(987.5,748.5) scale(1.07,1)" class="tk" text-anchor="start">200</text>
<text transform="translate(555.2,60) scale(1.041,1)" class="ttl" text-anchor="middle">ITP125 Up Profile Contours (to profile 635)</text>
<text transform="translate(520.3,109.8) scale(1.03,1)" class="sub" text-anchor="middle">dissolved oxygen (µmol/kg)</text>
<text transform="translate(517.3,856.7) scale(1.043,1)" class="xl" text-anchor="middle">day 2021</text>
<text transform="translate(9,280.5) rotate(-90) scale(1.1,1)" class="tk" text-anchor="middle">m</text>
<text transform="translate(9,600.5) rotate(-90) scale(1.1,1)" class="tk" text-anchor="middle">m</text>
</svg>
</body></html>
